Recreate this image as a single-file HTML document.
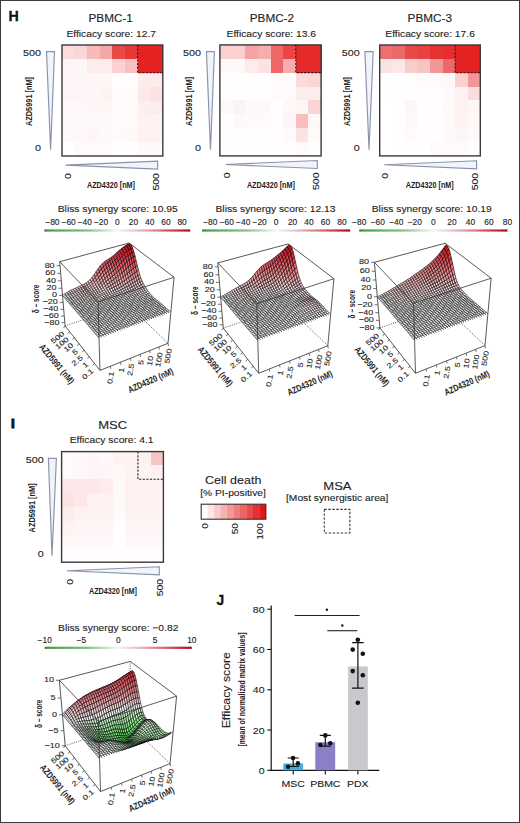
<!DOCTYPE html><html><head><meta charset="utf-8"><style>html,body{margin:0;padding:0;background:#fff}#fig{position:relative;width:520px;height:823px;box-sizing:border-box;border:1px solid #3c3c3c;overflow:hidden}#fig svg{position:absolute;left:-1px;top:-1px}</style></head><body><div id="fig"><svg width="520" height="823" viewBox="0 0 520 823" font-family='"Liberation Sans", sans-serif' fill="#222">
<defs><filter id="sb" x="-5%" y="-5%" width="110%" height="110%"><feGaussianBlur stdDeviation="0.45"/></filter><linearGradient id="gwr" x1="0" x2="1" y1="0" y2="0"><stop offset="0" stop-color="#3c7a3c"/><stop offset="0.04" stop-color="#48a048"/><stop offset="0.3" stop-color="#80c480"/><stop offset="0.5" stop-color="#f6f6f6"/><stop offset="0.7" stop-color="#e6a0a8"/><stop offset="0.95" stop-color="#c41a30"/><stop offset="1" stop-color="#901020"/></linearGradient><linearGradient id="cd" x1="0" x2="1" y1="0" y2="0"><stop offset="0" stop-color="#ffffff"/><stop offset="1" stop-color="#e41616"/></linearGradient></defs>
<rect x="0" y="0" width="520" height="823" fill="#fff"/>
<text transform="translate(8.6 20.8)" font-size="14.2" font-weight="bold" fill="#111" stroke="#111" stroke-width="0.3">H</text>
<text transform="translate(10.9 427.7)" font-size="13.6" font-weight="bold" fill="#111" stroke="#111" stroke-width="1">I</text>
<text transform="translate(216.4 604.9)" font-size="13.8" font-weight="bold" fill="#111" stroke="#111" stroke-width="0.3">J</text>
<text transform="translate(110.7 21.9) scale(1 0.88)" font-size="11.75" text-anchor="middle" stroke="#222" stroke-width="0.12">PBMC-1</text>
<text transform="translate(111.2 36.9) scale(1 0.88)" font-size="10.3" text-anchor="middle" stroke="#222" stroke-width="0.12">Efficacy score: 12.7</text>
<rect x="62" y="45" width="13.1" height="14.38" fill="#fbdcdc" shape-rendering="crispEdges"/>
<rect x="74.6" y="45" width="13.1" height="14.38" fill="#fad7d7" shape-rendering="crispEdges"/>
<rect x="87.2" y="45" width="13.1" height="14.38" fill="#f7b9b9" shape-rendering="crispEdges"/>
<rect x="99.8" y="45" width="13.1" height="14.38" fill="#f5a6a6" shape-rendering="crispEdges"/>
<rect x="112.4" y="45" width="13.1" height="14.38" fill="#ea4949" shape-rendering="crispEdges"/>
<rect x="125" y="45" width="13.1" height="14.38" fill="#e83939" shape-rendering="crispEdges"/>
<rect x="137.6" y="45" width="13.1" height="14.38" fill="#e52222" shape-rendering="crispEdges"/>
<rect x="150.2" y="45" width="13.1" height="14.38" fill="#e52222" shape-rendering="crispEdges"/>
<rect x="62" y="58.88" width="13.1" height="14.38" fill="#fef6f6" shape-rendering="crispEdges"/>
<rect x="74.6" y="58.88" width="13.1" height="14.38" fill="#fef6f6" shape-rendering="crispEdges"/>
<rect x="87.2" y="58.88" width="13.1" height="14.38" fill="#fdecec" shape-rendering="crispEdges"/>
<rect x="99.8" y="58.88" width="13.1" height="14.38" fill="#fdecec" shape-rendering="crispEdges"/>
<rect x="112.4" y="58.88" width="13.1" height="14.38" fill="#fad0d0" shape-rendering="crispEdges"/>
<rect x="125" y="58.88" width="13.1" height="14.38" fill="#f8c0c0" shape-rendering="crispEdges"/>
<rect x="137.6" y="58.88" width="13.1" height="14.38" fill="#e52222" shape-rendering="crispEdges"/>
<rect x="150.2" y="58.88" width="13.1" height="14.38" fill="#e52222" shape-rendering="crispEdges"/>
<rect x="62" y="72.75" width="13.1" height="14.38" fill="#fef6f6" shape-rendering="crispEdges"/>
<rect x="74.6" y="72.75" width="13.1" height="14.38" fill="#fef6f6" shape-rendering="crispEdges"/>
<rect x="87.2" y="72.75" width="13.1" height="14.38" fill="#fef6f6" shape-rendering="crispEdges"/>
<rect x="99.8" y="72.75" width="13.1" height="14.38" fill="#fef6f6" shape-rendering="crispEdges"/>
<rect x="112.4" y="72.75" width="13.1" height="14.38" fill="#fffdfd" shape-rendering="crispEdges"/>
<rect x="125" y="72.75" width="13.1" height="14.38" fill="#fffdfd" shape-rendering="crispEdges"/>
<rect x="137.6" y="72.75" width="13.1" height="14.38" fill="#fdecec" shape-rendering="crispEdges"/>
<rect x="150.2" y="72.75" width="13.1" height="14.38" fill="#fdeaea" shape-rendering="crispEdges"/>
<rect x="62" y="86.62" width="13.1" height="14.38" fill="#fef6f6" shape-rendering="crispEdges"/>
<rect x="74.6" y="86.62" width="13.1" height="14.38" fill="#fef6f6" shape-rendering="crispEdges"/>
<rect x="87.2" y="86.62" width="13.1" height="14.38" fill="#fef6f6" shape-rendering="crispEdges"/>
<rect x="99.8" y="86.62" width="13.1" height="14.38" fill="#fef3f3" shape-rendering="crispEdges"/>
<rect x="112.4" y="86.62" width="13.1" height="14.38" fill="#fefafa" shape-rendering="crispEdges"/>
<rect x="125" y="86.62" width="13.1" height="14.38" fill="#fefafa" shape-rendering="crispEdges"/>
<rect x="137.6" y="86.62" width="13.1" height="14.38" fill="#fce8e8" shape-rendering="crispEdges"/>
<rect x="150.2" y="86.62" width="13.1" height="14.38" fill="#fce3e3" shape-rendering="crispEdges"/>
<rect x="62" y="100.5" width="13.1" height="14.38" fill="#fef8f8" shape-rendering="crispEdges"/>
<rect x="74.6" y="100.5" width="13.1" height="14.38" fill="#fef8f8" shape-rendering="crispEdges"/>
<rect x="87.2" y="100.5" width="13.1" height="14.38" fill="#fef6f6" shape-rendering="crispEdges"/>
<rect x="99.8" y="100.5" width="13.1" height="14.38" fill="#fef6f6" shape-rendering="crispEdges"/>
<rect x="112.4" y="100.5" width="13.1" height="14.38" fill="#fefafa" shape-rendering="crispEdges"/>
<rect x="125" y="100.5" width="13.1" height="14.38" fill="#fefafa" shape-rendering="crispEdges"/>
<rect x="137.6" y="100.5" width="13.1" height="14.38" fill="#fdefef" shape-rendering="crispEdges"/>
<rect x="150.2" y="100.5" width="13.1" height="14.38" fill="#fdecec" shape-rendering="crispEdges"/>
<rect x="62" y="114.38" width="13.1" height="14.38" fill="#fef8f8" shape-rendering="crispEdges"/>
<rect x="74.6" y="114.38" width="13.1" height="14.38" fill="#fef8f8" shape-rendering="crispEdges"/>
<rect x="87.2" y="114.38" width="13.1" height="14.38" fill="#fef8f8" shape-rendering="crispEdges"/>
<rect x="99.8" y="114.38" width="13.1" height="14.38" fill="#fef8f8" shape-rendering="crispEdges"/>
<rect x="112.4" y="114.38" width="13.1" height="14.38" fill="#fefafa" shape-rendering="crispEdges"/>
<rect x="125" y="114.38" width="13.1" height="14.38" fill="#fefafa" shape-rendering="crispEdges"/>
<rect x="137.6" y="114.38" width="13.1" height="14.38" fill="#fef3f3" shape-rendering="crispEdges"/>
<rect x="150.2" y="114.38" width="13.1" height="14.38" fill="#fdf1f1" shape-rendering="crispEdges"/>
<rect x="62" y="128.25" width="13.1" height="14.38" fill="#fef8f8" shape-rendering="crispEdges"/>
<rect x="74.6" y="128.25" width="13.1" height="14.38" fill="#fef8f8" shape-rendering="crispEdges"/>
<rect x="87.2" y="128.25" width="13.1" height="14.38" fill="#fef6f6" shape-rendering="crispEdges"/>
<rect x="99.8" y="128.25" width="13.1" height="14.38" fill="#fef8f8" shape-rendering="crispEdges"/>
<rect x="112.4" y="128.25" width="13.1" height="14.38" fill="#fefafa" shape-rendering="crispEdges"/>
<rect x="125" y="128.25" width="13.1" height="14.38" fill="#fef8f8" shape-rendering="crispEdges"/>
<rect x="137.6" y="128.25" width="13.1" height="14.38" fill="#fdf1f1" shape-rendering="crispEdges"/>
<rect x="150.2" y="128.25" width="13.1" height="14.38" fill="#fdf1f1" shape-rendering="crispEdges"/>
<rect x="62" y="142.12" width="13.1" height="14.38" fill="#ffffff" shape-rendering="crispEdges"/>
<rect x="74.6" y="142.12" width="13.1" height="14.38" fill="#fefafa" shape-rendering="crispEdges"/>
<rect x="87.2" y="142.12" width="13.1" height="14.38" fill="#fefafa" shape-rendering="crispEdges"/>
<rect x="99.8" y="142.12" width="13.1" height="14.38" fill="#fefafa" shape-rendering="crispEdges"/>
<rect x="112.4" y="142.12" width="13.1" height="14.38" fill="#fffdfd" shape-rendering="crispEdges"/>
<rect x="125" y="142.12" width="13.1" height="14.38" fill="#fffdfd" shape-rendering="crispEdges"/>
<rect x="137.6" y="142.12" width="13.1" height="14.38" fill="#fef8f8" shape-rendering="crispEdges"/>
<rect x="150.2" y="142.12" width="13.1" height="14.38" fill="#fef8f8" shape-rendering="crispEdges"/>
<rect x="62" y="45" width="100.8" height="111" fill="none" stroke="#3a3a3a" stroke-width="1.4"/>
<path d="M137.6 45 V72.75 H162.8" fill="none" stroke="#222" stroke-width="1.1" stroke-dasharray="2.2 1.4"/>
<text transform="translate(41.1 56) scale(1 0.88)" font-size="10.8" text-anchor="end" stroke="#222" stroke-width="0.12">500</text>
<text transform="translate(41.1 150.8) scale(1 0.88)" font-size="10.8" text-anchor="end" stroke="#222" stroke-width="0.12">0</text>
<path d="M46.5 51.6 H54.5 L50.6 149.7 Z" fill="#f1f4fa" stroke="#8a93aa" stroke-width="1.15"/>
<text transform="translate(28.6 101.5) rotate(-90) scale(1 0.88)" font-size="10.5" text-anchor="middle" font-weight="bold" textLength="49" lengthAdjust="spacingAndGlyphs" dominant-baseline="central">AZD5991 [nM]</text>
<path d="M65.5 165.1 L157.6 161.1 V169.1 Z" fill="#f1f4fa" stroke="#8a93aa" stroke-width="1.15"/>
<text transform="translate(70.9 173.1) rotate(-90) scale(1 0.88)" font-size="10.5" text-anchor="end" stroke="#222" stroke-width="0.12">0</text>
<text transform="translate(158.8 173.1) rotate(-90) scale(1 0.88)" font-size="10.5" text-anchor="end" stroke="#222" stroke-width="0.12">500</text>
<text transform="translate(111 188.1) scale(1 0.88)" font-size="10.8" text-anchor="middle" font-weight="bold" textLength="48" lengthAdjust="spacingAndGlyphs">AZD4320 [nM]</text>
<text transform="translate(271.9 21.9) scale(1 0.88)" font-size="11.75" text-anchor="middle" stroke="#222" stroke-width="0.12">PBMC-2</text>
<text transform="translate(271.3 36.9) scale(1 0.88)" font-size="10.3" text-anchor="middle" stroke="#222" stroke-width="0.12">Efficacy score: 13.6</text>
<rect x="219.9" y="44.9" width="13.15" height="14.38" fill="#fad0d0" shape-rendering="crispEdges"/>
<rect x="232.55" y="44.9" width="13.15" height="14.38" fill="#fad0d0" shape-rendering="crispEdges"/>
<rect x="245.2" y="44.9" width="13.15" height="14.38" fill="#f4a2a2" shape-rendering="crispEdges"/>
<rect x="257.85" y="44.9" width="13.15" height="14.38" fill="#f6adad" shape-rendering="crispEdges"/>
<rect x="270.5" y="44.9" width="13.15" height="14.38" fill="#ed6868" shape-rendering="crispEdges"/>
<rect x="283.15" y="44.9" width="13.15" height="14.38" fill="#e94545" shape-rendering="crispEdges"/>
<rect x="295.8" y="44.9" width="13.15" height="14.38" fill="#e62929" shape-rendering="crispEdges"/>
<rect x="308.45" y="44.9" width="13.15" height="14.38" fill="#e62929" shape-rendering="crispEdges"/>
<rect x="219.9" y="58.77" width="13.15" height="14.38" fill="#fef8f8" shape-rendering="crispEdges"/>
<rect x="232.55" y="58.77" width="13.15" height="14.38" fill="#fef8f8" shape-rendering="crispEdges"/>
<rect x="245.2" y="58.77" width="13.15" height="14.38" fill="#fdecec" shape-rendering="crispEdges"/>
<rect x="257.85" y="58.77" width="13.15" height="14.38" fill="#fce3e3" shape-rendering="crispEdges"/>
<rect x="270.5" y="58.77" width="13.15" height="14.38" fill="#ed6868" shape-rendering="crispEdges"/>
<rect x="283.15" y="58.77" width="13.15" height="14.38" fill="#f6adad" shape-rendering="crispEdges"/>
<rect x="295.8" y="58.77" width="13.15" height="14.38" fill="#e62929" shape-rendering="crispEdges"/>
<rect x="308.45" y="58.77" width="13.15" height="14.38" fill="#e62929" shape-rendering="crispEdges"/>
<rect x="219.9" y="72.65" width="13.15" height="14.38" fill="#fffdfd" shape-rendering="crispEdges"/>
<rect x="232.55" y="72.65" width="13.15" height="14.38" fill="#fffdfd" shape-rendering="crispEdges"/>
<rect x="245.2" y="72.65" width="13.15" height="14.38" fill="#fffdfd" shape-rendering="crispEdges"/>
<rect x="257.85" y="72.65" width="13.15" height="14.38" fill="#fffdfd" shape-rendering="crispEdges"/>
<rect x="270.5" y="72.65" width="13.15" height="14.38" fill="#fefafa" shape-rendering="crispEdges"/>
<rect x="283.15" y="72.65" width="13.15" height="14.38" fill="#fefafa" shape-rendering="crispEdges"/>
<rect x="295.8" y="72.65" width="13.15" height="14.38" fill="#fbdcdc" shape-rendering="crispEdges"/>
<rect x="308.45" y="72.65" width="13.15" height="14.38" fill="#fad5d5" shape-rendering="crispEdges"/>
<rect x="219.9" y="86.53" width="13.15" height="14.38" fill="#fffdfd" shape-rendering="crispEdges"/>
<rect x="232.55" y="86.53" width="13.15" height="14.38" fill="#fffdfd" shape-rendering="crispEdges"/>
<rect x="245.2" y="86.53" width="13.15" height="14.38" fill="#fffdfd" shape-rendering="crispEdges"/>
<rect x="257.85" y="86.53" width="13.15" height="14.38" fill="#fffdfd" shape-rendering="crispEdges"/>
<rect x="270.5" y="86.53" width="13.15" height="14.38" fill="#fefafa" shape-rendering="crispEdges"/>
<rect x="283.15" y="86.53" width="13.15" height="14.38" fill="#fefafa" shape-rendering="crispEdges"/>
<rect x="295.8" y="86.53" width="13.15" height="14.38" fill="#fdecec" shape-rendering="crispEdges"/>
<rect x="308.45" y="86.53" width="13.15" height="14.38" fill="#fdecec" shape-rendering="crispEdges"/>
<rect x="219.9" y="100.4" width="13.15" height="14.38" fill="#fef8f8" shape-rendering="crispEdges"/>
<rect x="232.55" y="100.4" width="13.15" height="14.38" fill="#fef3f3" shape-rendering="crispEdges"/>
<rect x="245.2" y="100.4" width="13.15" height="14.38" fill="#fef8f8" shape-rendering="crispEdges"/>
<rect x="257.85" y="100.4" width="13.15" height="14.38" fill="#fef8f8" shape-rendering="crispEdges"/>
<rect x="270.5" y="100.4" width="13.15" height="14.38" fill="#fffdfd" shape-rendering="crispEdges"/>
<rect x="283.15" y="100.4" width="13.15" height="14.38" fill="#fef8f8" shape-rendering="crispEdges"/>
<rect x="295.8" y="100.4" width="13.15" height="14.38" fill="#fef6f6" shape-rendering="crispEdges"/>
<rect x="308.45" y="100.4" width="13.15" height="14.38" fill="#fad5d5" shape-rendering="crispEdges"/>
<rect x="219.9" y="114.28" width="13.15" height="14.38" fill="#fffdfd" shape-rendering="crispEdges"/>
<rect x="232.55" y="114.28" width="13.15" height="14.38" fill="#fef8f8" shape-rendering="crispEdges"/>
<rect x="245.2" y="114.28" width="13.15" height="14.38" fill="#fefafa" shape-rendering="crispEdges"/>
<rect x="257.85" y="114.28" width="13.15" height="14.38" fill="#fefafa" shape-rendering="crispEdges"/>
<rect x="270.5" y="114.28" width="13.15" height="14.38" fill="#fffdfd" shape-rendering="crispEdges"/>
<rect x="283.15" y="114.28" width="13.15" height="14.38" fill="#fef6f6" shape-rendering="crispEdges"/>
<rect x="295.8" y="114.28" width="13.15" height="14.38" fill="#f7bebe" shape-rendering="crispEdges"/>
<rect x="308.45" y="114.28" width="13.15" height="14.38" fill="#fef8f8" shape-rendering="crispEdges"/>
<rect x="219.9" y="128.15" width="13.15" height="14.38" fill="#fffdfd" shape-rendering="crispEdges"/>
<rect x="232.55" y="128.15" width="13.15" height="14.38" fill="#fffdfd" shape-rendering="crispEdges"/>
<rect x="245.2" y="128.15" width="13.15" height="14.38" fill="#fffdfd" shape-rendering="crispEdges"/>
<rect x="257.85" y="128.15" width="13.15" height="14.38" fill="#fffdfd" shape-rendering="crispEdges"/>
<rect x="270.5" y="128.15" width="13.15" height="14.38" fill="#fffdfd" shape-rendering="crispEdges"/>
<rect x="283.15" y="128.15" width="13.15" height="14.38" fill="#fefafa" shape-rendering="crispEdges"/>
<rect x="295.8" y="128.15" width="13.15" height="14.38" fill="#fce3e3" shape-rendering="crispEdges"/>
<rect x="308.45" y="128.15" width="13.15" height="14.38" fill="#fefafa" shape-rendering="crispEdges"/>
<rect x="219.9" y="142.03" width="13.15" height="14.38" fill="#fffdfd" shape-rendering="crispEdges"/>
<rect x="232.55" y="142.03" width="13.15" height="14.38" fill="#fffdfd" shape-rendering="crispEdges"/>
<rect x="245.2" y="142.03" width="13.15" height="14.38" fill="#fffdfd" shape-rendering="crispEdges"/>
<rect x="257.85" y="142.03" width="13.15" height="14.38" fill="#fffdfd" shape-rendering="crispEdges"/>
<rect x="270.5" y="142.03" width="13.15" height="14.38" fill="#fffdfd" shape-rendering="crispEdges"/>
<rect x="283.15" y="142.03" width="13.15" height="14.38" fill="#fffdfd" shape-rendering="crispEdges"/>
<rect x="295.8" y="142.03" width="13.15" height="14.38" fill="#fefafa" shape-rendering="crispEdges"/>
<rect x="308.45" y="142.03" width="13.15" height="14.38" fill="#fffdfd" shape-rendering="crispEdges"/>
<rect x="219.9" y="44.9" width="101.2" height="111" fill="none" stroke="#3a3a3a" stroke-width="1.4"/>
<path d="M295.8 44.9 V72.65 H321.1" fill="none" stroke="#222" stroke-width="1.1" stroke-dasharray="2.2 1.4"/>
<text transform="translate(201 55.9) scale(1 0.88)" font-size="10.8" text-anchor="end" stroke="#222" stroke-width="0.12">500</text>
<text transform="translate(201 150.7) scale(1 0.88)" font-size="10.8" text-anchor="end" stroke="#222" stroke-width="0.12">0</text>
<path d="M206.4 51.6 H214.4 L210.5 149.7 Z" fill="#f1f4fa" stroke="#8a93aa" stroke-width="1.15"/>
<text transform="translate(188.8 101.4) rotate(-90) scale(1 0.88)" font-size="10.5" text-anchor="middle" font-weight="bold" textLength="49" lengthAdjust="spacingAndGlyphs" dominant-baseline="central">AZD5991 [nM]</text>
<path d="M225.7 164.5 L317.3 160.5 V168.5 Z" fill="#f1f4fa" stroke="#8a93aa" stroke-width="1.15"/>
<text transform="translate(229.8 172.5) rotate(-90) scale(1 0.88)" font-size="10.5" text-anchor="end" stroke="#222" stroke-width="0.12">0</text>
<text transform="translate(319 172.5) rotate(-90) scale(1 0.88)" font-size="10.5" text-anchor="end" stroke="#222" stroke-width="0.12">500</text>
<text transform="translate(270.9 187.5) scale(1 0.88)" font-size="10.8" text-anchor="middle" font-weight="bold" textLength="48" lengthAdjust="spacingAndGlyphs">AZD4320 [nM]</text>
<text transform="translate(429.75 21.9) scale(1 0.88)" font-size="11.75" text-anchor="middle" stroke="#222" stroke-width="0.12">PBMC-3</text>
<text transform="translate(430.1 36.9) scale(1 0.88)" font-size="10.3" text-anchor="middle" stroke="#222" stroke-width="0.12">Efficacy score: 17.6</text>
<rect x="379.7" y="45" width="13.08" height="14.36" fill="#ee6f6f" shape-rendering="crispEdges"/>
<rect x="392.27" y="45" width="13.08" height="14.36" fill="#ed6868" shape-rendering="crispEdges"/>
<rect x="404.85" y="45" width="13.08" height="14.36" fill="#ea4949" shape-rendering="crispEdges"/>
<rect x="417.43" y="45" width="13.08" height="14.36" fill="#e94040" shape-rendering="crispEdges"/>
<rect x="430" y="45" width="13.08" height="14.36" fill="#e73232" shape-rendering="crispEdges"/>
<rect x="442.57" y="45" width="13.08" height="14.36" fill="#e72d2d" shape-rendering="crispEdges"/>
<rect x="455.15" y="45" width="13.08" height="14.36" fill="#e52222" shape-rendering="crispEdges"/>
<rect x="467.73" y="45" width="13.08" height="14.36" fill="#e52222" shape-rendering="crispEdges"/>
<rect x="379.7" y="58.86" width="13.08" height="14.36" fill="#fce3e3" shape-rendering="crispEdges"/>
<rect x="392.27" y="58.86" width="13.08" height="14.36" fill="#fce8e8" shape-rendering="crispEdges"/>
<rect x="404.85" y="58.86" width="13.08" height="14.36" fill="#f9cccc" shape-rendering="crispEdges"/>
<rect x="417.43" y="58.86" width="13.08" height="14.36" fill="#f8c5c5" shape-rendering="crispEdges"/>
<rect x="430" y="58.86" width="13.08" height="14.36" fill="#f39696" shape-rendering="crispEdges"/>
<rect x="442.57" y="58.86" width="13.08" height="14.36" fill="#ed6868" shape-rendering="crispEdges"/>
<rect x="455.15" y="58.86" width="13.08" height="14.36" fill="#e52222" shape-rendering="crispEdges"/>
<rect x="467.73" y="58.86" width="13.08" height="14.36" fill="#e52222" shape-rendering="crispEdges"/>
<rect x="379.7" y="72.72" width="13.08" height="14.36" fill="#fffdfd" shape-rendering="crispEdges"/>
<rect x="392.27" y="72.72" width="13.08" height="14.36" fill="#fffdfd" shape-rendering="crispEdges"/>
<rect x="404.85" y="72.72" width="13.08" height="14.36" fill="#fffdfd" shape-rendering="crispEdges"/>
<rect x="417.43" y="72.72" width="13.08" height="14.36" fill="#fefafa" shape-rendering="crispEdges"/>
<rect x="430" y="72.72" width="13.08" height="14.36" fill="#fefafa" shape-rendering="crispEdges"/>
<rect x="442.57" y="72.72" width="13.08" height="14.36" fill="#fef8f8" shape-rendering="crispEdges"/>
<rect x="455.15" y="72.72" width="13.08" height="14.36" fill="#fad0d0" shape-rendering="crispEdges"/>
<rect x="467.73" y="72.72" width="13.08" height="14.36" fill="#f39696" shape-rendering="crispEdges"/>
<rect x="379.7" y="86.59" width="13.08" height="14.36" fill="#fffdfd" shape-rendering="crispEdges"/>
<rect x="392.27" y="86.59" width="13.08" height="14.36" fill="#fffdfd" shape-rendering="crispEdges"/>
<rect x="404.85" y="86.59" width="13.08" height="14.36" fill="#fffdfd" shape-rendering="crispEdges"/>
<rect x="417.43" y="86.59" width="13.08" height="14.36" fill="#fffdfd" shape-rendering="crispEdges"/>
<rect x="430" y="86.59" width="13.08" height="14.36" fill="#fffdfd" shape-rendering="crispEdges"/>
<rect x="442.57" y="86.59" width="13.08" height="14.36" fill="#fefafa" shape-rendering="crispEdges"/>
<rect x="455.15" y="86.59" width="13.08" height="14.36" fill="#fdf1f1" shape-rendering="crispEdges"/>
<rect x="467.73" y="86.59" width="13.08" height="14.36" fill="#fbdcdc" shape-rendering="crispEdges"/>
<rect x="379.7" y="100.45" width="13.08" height="14.36" fill="#ffffff" shape-rendering="crispEdges"/>
<rect x="392.27" y="100.45" width="13.08" height="14.36" fill="#fffdfd" shape-rendering="crispEdges"/>
<rect x="404.85" y="100.45" width="13.08" height="14.36" fill="#fef6f6" shape-rendering="crispEdges"/>
<rect x="417.43" y="100.45" width="13.08" height="14.36" fill="#fffdfd" shape-rendering="crispEdges"/>
<rect x="430" y="100.45" width="13.08" height="14.36" fill="#fffdfd" shape-rendering="crispEdges"/>
<rect x="442.57" y="100.45" width="13.08" height="14.36" fill="#fef8f8" shape-rendering="crispEdges"/>
<rect x="455.15" y="100.45" width="13.08" height="14.36" fill="#fdf1f1" shape-rendering="crispEdges"/>
<rect x="467.73" y="100.45" width="13.08" height="14.36" fill="#fef6f6" shape-rendering="crispEdges"/>
<rect x="379.7" y="114.31" width="13.08" height="14.36" fill="#ffffff" shape-rendering="crispEdges"/>
<rect x="392.27" y="114.31" width="13.08" height="14.36" fill="#fffdfd" shape-rendering="crispEdges"/>
<rect x="404.85" y="114.31" width="13.08" height="14.36" fill="#fef8f8" shape-rendering="crispEdges"/>
<rect x="417.43" y="114.31" width="13.08" height="14.36" fill="#fffdfd" shape-rendering="crispEdges"/>
<rect x="430" y="114.31" width="13.08" height="14.36" fill="#fffdfd" shape-rendering="crispEdges"/>
<rect x="442.57" y="114.31" width="13.08" height="14.36" fill="#fefafa" shape-rendering="crispEdges"/>
<rect x="455.15" y="114.31" width="13.08" height="14.36" fill="#fef3f3" shape-rendering="crispEdges"/>
<rect x="467.73" y="114.31" width="13.08" height="14.36" fill="#fef8f8" shape-rendering="crispEdges"/>
<rect x="379.7" y="128.18" width="13.08" height="14.36" fill="#ffffff" shape-rendering="crispEdges"/>
<rect x="392.27" y="128.18" width="13.08" height="14.36" fill="#fffdfd" shape-rendering="crispEdges"/>
<rect x="404.85" y="128.18" width="13.08" height="14.36" fill="#fefafa" shape-rendering="crispEdges"/>
<rect x="417.43" y="128.18" width="13.08" height="14.36" fill="#fffdfd" shape-rendering="crispEdges"/>
<rect x="430" y="128.18" width="13.08" height="14.36" fill="#fffdfd" shape-rendering="crispEdges"/>
<rect x="442.57" y="128.18" width="13.08" height="14.36" fill="#fefafa" shape-rendering="crispEdges"/>
<rect x="455.15" y="128.18" width="13.08" height="14.36" fill="#fef6f6" shape-rendering="crispEdges"/>
<rect x="467.73" y="128.18" width="13.08" height="14.36" fill="#fef8f8" shape-rendering="crispEdges"/>
<rect x="379.7" y="142.04" width="13.08" height="14.36" fill="#ffffff" shape-rendering="crispEdges"/>
<rect x="392.27" y="142.04" width="13.08" height="14.36" fill="#fffdfd" shape-rendering="crispEdges"/>
<rect x="404.85" y="142.04" width="13.08" height="14.36" fill="#fffdfd" shape-rendering="crispEdges"/>
<rect x="417.43" y="142.04" width="13.08" height="14.36" fill="#fffdfd" shape-rendering="crispEdges"/>
<rect x="430" y="142.04" width="13.08" height="14.36" fill="#fefafa" shape-rendering="crispEdges"/>
<rect x="442.57" y="142.04" width="13.08" height="14.36" fill="#fefafa" shape-rendering="crispEdges"/>
<rect x="455.15" y="142.04" width="13.08" height="14.36" fill="#fefafa" shape-rendering="crispEdges"/>
<rect x="467.73" y="142.04" width="13.08" height="14.36" fill="#fffdfd" shape-rendering="crispEdges"/>
<rect x="379.7" y="45" width="100.6" height="110.9" fill="none" stroke="#3a3a3a" stroke-width="1.4"/>
<path d="M455.15 45 V72.72 H480.3" fill="none" stroke="#222" stroke-width="1.1" stroke-dasharray="2.2 1.4"/>
<text transform="translate(359.8 56) scale(1 0.88)" font-size="10.8" text-anchor="end" stroke="#222" stroke-width="0.12">500</text>
<text transform="translate(359.8 150.7) scale(1 0.88)" font-size="10.8" text-anchor="end" stroke="#222" stroke-width="0.12">0</text>
<path d="M364.9 51.6 H373.2 L369 149.7 Z" fill="#f1f4fa" stroke="#8a93aa" stroke-width="1.15"/>
<text transform="translate(347 101.45) rotate(-90) scale(1 0.88)" font-size="10.5" text-anchor="middle" font-weight="bold" textLength="49" lengthAdjust="spacingAndGlyphs" dominant-baseline="central">AZD5991 [nM]</text>
<path d="M384.3 164.8 L476.6 160.8 V168.8 Z" fill="#f1f4fa" stroke="#8a93aa" stroke-width="1.15"/>
<text transform="translate(388.4 172.8) rotate(-90) scale(1 0.88)" font-size="10.5" text-anchor="end" stroke="#222" stroke-width="0.12">0</text>
<text transform="translate(477.8 172.8) rotate(-90) scale(1 0.88)" font-size="10.5" text-anchor="end" stroke="#222" stroke-width="0.12">500</text>
<text transform="translate(429.7 187.8) scale(1 0.88)" font-size="10.8" text-anchor="middle" font-weight="bold" textLength="48" lengthAdjust="spacingAndGlyphs">AZD4320 [nM]</text>
<text transform="translate(112.6 428.6) scale(1 0.88)" font-size="13" text-anchor="middle" stroke="#222" stroke-width="0.12">MSC</text>
<text transform="translate(111.6 443) scale(1 0.88)" font-size="10.3" text-anchor="middle" stroke="#222" stroke-width="0.12">Efficacy score: 4.1</text>
<rect x="61.6" y="451.6" width="13.23" height="14.33" fill="#fefafa" shape-rendering="crispEdges"/>
<rect x="74.33" y="451.6" width="13.23" height="14.33" fill="#fef8f8" shape-rendering="crispEdges"/>
<rect x="87.05" y="451.6" width="13.23" height="14.33" fill="#fef6f6" shape-rendering="crispEdges"/>
<rect x="99.78" y="451.6" width="13.23" height="14.33" fill="#fef8f8" shape-rendering="crispEdges"/>
<rect x="112.5" y="451.6" width="13.23" height="14.33" fill="#fef3f3" shape-rendering="crispEdges"/>
<rect x="125.23" y="451.6" width="13.23" height="14.33" fill="#fef3f3" shape-rendering="crispEdges"/>
<rect x="137.95" y="451.6" width="13.23" height="14.33" fill="#fdf1f1" shape-rendering="crispEdges"/>
<rect x="150.68" y="451.6" width="13.23" height="14.33" fill="#f8c5c5" shape-rendering="crispEdges"/>
<rect x="61.6" y="465.43" width="13.23" height="14.33" fill="#fefafa" shape-rendering="crispEdges"/>
<rect x="74.33" y="465.43" width="13.23" height="14.33" fill="#fef8f8" shape-rendering="crispEdges"/>
<rect x="87.05" y="465.43" width="13.23" height="14.33" fill="#fef6f6" shape-rendering="crispEdges"/>
<rect x="99.78" y="465.43" width="13.23" height="14.33" fill="#fef6f6" shape-rendering="crispEdges"/>
<rect x="112.5" y="465.43" width="13.23" height="14.33" fill="#fef8f8" shape-rendering="crispEdges"/>
<rect x="125.23" y="465.43" width="13.23" height="14.33" fill="#fef3f3" shape-rendering="crispEdges"/>
<rect x="137.95" y="465.43" width="13.23" height="14.33" fill="#fef3f3" shape-rendering="crispEdges"/>
<rect x="150.68" y="465.43" width="13.23" height="14.33" fill="#fdf1f1" shape-rendering="crispEdges"/>
<rect x="61.6" y="479.25" width="13.23" height="14.33" fill="#fce8e8" shape-rendering="crispEdges"/>
<rect x="74.33" y="479.25" width="13.23" height="14.33" fill="#fce8e8" shape-rendering="crispEdges"/>
<rect x="87.05" y="479.25" width="13.23" height="14.33" fill="#fce8e8" shape-rendering="crispEdges"/>
<rect x="99.78" y="479.25" width="13.23" height="14.33" fill="#fdecec" shape-rendering="crispEdges"/>
<rect x="112.5" y="479.25" width="13.23" height="14.33" fill="#fefafa" shape-rendering="crispEdges"/>
<rect x="125.23" y="479.25" width="13.23" height="14.33" fill="#fdf1f1" shape-rendering="crispEdges"/>
<rect x="137.95" y="479.25" width="13.23" height="14.33" fill="#fdf1f1" shape-rendering="crispEdges"/>
<rect x="150.68" y="479.25" width="13.23" height="14.33" fill="#fdf1f1" shape-rendering="crispEdges"/>
<rect x="61.6" y="493.08" width="13.23" height="14.33" fill="#fce3e3" shape-rendering="crispEdges"/>
<rect x="74.33" y="493.08" width="13.23" height="14.33" fill="#fce8e8" shape-rendering="crispEdges"/>
<rect x="87.05" y="493.08" width="13.23" height="14.33" fill="#fdf1f1" shape-rendering="crispEdges"/>
<rect x="99.78" y="493.08" width="13.23" height="14.33" fill="#fdf1f1" shape-rendering="crispEdges"/>
<rect x="112.5" y="493.08" width="13.23" height="14.33" fill="#fefafa" shape-rendering="crispEdges"/>
<rect x="125.23" y="493.08" width="13.23" height="14.33" fill="#fdf1f1" shape-rendering="crispEdges"/>
<rect x="137.95" y="493.08" width="13.23" height="14.33" fill="#fdf1f1" shape-rendering="crispEdges"/>
<rect x="150.68" y="493.08" width="13.23" height="14.33" fill="#fef3f3" shape-rendering="crispEdges"/>
<rect x="61.6" y="506.9" width="13.23" height="14.33" fill="#fdecec" shape-rendering="crispEdges"/>
<rect x="74.33" y="506.9" width="13.23" height="14.33" fill="#fdf1f1" shape-rendering="crispEdges"/>
<rect x="87.05" y="506.9" width="13.23" height="14.33" fill="#fdf1f1" shape-rendering="crispEdges"/>
<rect x="99.78" y="506.9" width="13.23" height="14.33" fill="#fef3f3" shape-rendering="crispEdges"/>
<rect x="112.5" y="506.9" width="13.23" height="14.33" fill="#fefafa" shape-rendering="crispEdges"/>
<rect x="125.23" y="506.9" width="13.23" height="14.33" fill="#fef3f3" shape-rendering="crispEdges"/>
<rect x="137.95" y="506.9" width="13.23" height="14.33" fill="#fdf1f1" shape-rendering="crispEdges"/>
<rect x="150.68" y="506.9" width="13.23" height="14.33" fill="#fef3f3" shape-rendering="crispEdges"/>
<rect x="61.6" y="520.73" width="13.23" height="14.33" fill="#fef3f3" shape-rendering="crispEdges"/>
<rect x="74.33" y="520.73" width="13.23" height="14.33" fill="#fef6f6" shape-rendering="crispEdges"/>
<rect x="87.05" y="520.73" width="13.23" height="14.33" fill="#fef6f6" shape-rendering="crispEdges"/>
<rect x="99.78" y="520.73" width="13.23" height="14.33" fill="#fef6f6" shape-rendering="crispEdges"/>
<rect x="112.5" y="520.73" width="13.23" height="14.33" fill="#fffdfd" shape-rendering="crispEdges"/>
<rect x="125.23" y="520.73" width="13.23" height="14.33" fill="#fef6f6" shape-rendering="crispEdges"/>
<rect x="137.95" y="520.73" width="13.23" height="14.33" fill="#fef6f6" shape-rendering="crispEdges"/>
<rect x="150.68" y="520.73" width="13.23" height="14.33" fill="#fef6f6" shape-rendering="crispEdges"/>
<rect x="61.6" y="534.55" width="13.23" height="14.33" fill="#fef8f8" shape-rendering="crispEdges"/>
<rect x="74.33" y="534.55" width="13.23" height="14.33" fill="#fef8f8" shape-rendering="crispEdges"/>
<rect x="87.05" y="534.55" width="13.23" height="14.33" fill="#fef8f8" shape-rendering="crispEdges"/>
<rect x="99.78" y="534.55" width="13.23" height="14.33" fill="#fef8f8" shape-rendering="crispEdges"/>
<rect x="112.5" y="534.55" width="13.23" height="14.33" fill="#fffdfd" shape-rendering="crispEdges"/>
<rect x="125.23" y="534.55" width="13.23" height="14.33" fill="#fef8f8" shape-rendering="crispEdges"/>
<rect x="137.95" y="534.55" width="13.23" height="14.33" fill="#fef8f8" shape-rendering="crispEdges"/>
<rect x="150.68" y="534.55" width="13.23" height="14.33" fill="#fef8f8" shape-rendering="crispEdges"/>
<rect x="61.6" y="548.38" width="13.23" height="14.33" fill="#fffdfd" shape-rendering="crispEdges"/>
<rect x="74.33" y="548.38" width="13.23" height="14.33" fill="#fffdfd" shape-rendering="crispEdges"/>
<rect x="87.05" y="548.38" width="13.23" height="14.33" fill="#fffdfd" shape-rendering="crispEdges"/>
<rect x="99.78" y="548.38" width="13.23" height="14.33" fill="#fffdfd" shape-rendering="crispEdges"/>
<rect x="112.5" y="548.38" width="13.23" height="14.33" fill="#fffdfd" shape-rendering="crispEdges"/>
<rect x="125.23" y="548.38" width="13.23" height="14.33" fill="#fffdfd" shape-rendering="crispEdges"/>
<rect x="137.95" y="548.38" width="13.23" height="14.33" fill="#fffdfd" shape-rendering="crispEdges"/>
<rect x="150.68" y="548.38" width="13.23" height="14.33" fill="#fffdfd" shape-rendering="crispEdges"/>
<rect x="61.6" y="451.6" width="101.8" height="110.6" fill="none" stroke="#3a3a3a" stroke-width="1.4"/>
<path d="M137.95 451.6 V479.25 H163.4" fill="none" stroke="#222" stroke-width="1.1" stroke-dasharray="2.2 1.4"/>
<text transform="translate(43.7 462.6) scale(1 0.88)" font-size="10.8" text-anchor="end" stroke="#222" stroke-width="0.12">500</text>
<text transform="translate(43.7 557) scale(1 0.88)" font-size="10.8" text-anchor="end" stroke="#222" stroke-width="0.12">0</text>
<path d="M48.4 458.4 H56.4 L52 555.7 Z" fill="#f1f4fa" stroke="#8a93aa" stroke-width="1.15"/>
<text transform="translate(31.7 507.9) rotate(-90) scale(1 0.88)" font-size="10.5" text-anchor="middle" font-weight="bold" textLength="49" lengthAdjust="spacingAndGlyphs" dominant-baseline="central">AZD5991 [nM]</text>
<path d="M67 570.8 L159.3 566.8 V574.8 Z" fill="#f1f4fa" stroke="#8a93aa" stroke-width="1.15"/>
<text transform="translate(73.4 578.8) rotate(-90) scale(1 0.88)" font-size="10.5" text-anchor="end" stroke="#222" stroke-width="0.12">0</text>
<text transform="translate(162.8 578.8) rotate(-90) scale(1 0.88)" font-size="10.5" text-anchor="end" stroke="#222" stroke-width="0.12">500</text>
<text transform="translate(113 593.8) scale(1 0.88)" font-size="10.8" text-anchor="middle" font-weight="bold" textLength="48" lengthAdjust="spacingAndGlyphs">AZD4320 [nM]</text>
<text transform="translate(117.75 212) scale(1 0.88)" font-size="10.3" text-anchor="middle" stroke="#222" stroke-width="0.12">Bliss synergy score: 10.95</text>
<rect x="44.3" y="229.4" width="145.9" height="2.2" fill="url(#gwr)"/>
<text transform="translate(52.41 225.3)" font-size="8.4" text-anchor="middle" stroke="#222" stroke-width="0.12">−80</text>
<text transform="translate(68.62 225.3)" font-size="8.4" text-anchor="middle" stroke="#222" stroke-width="0.12">−60</text>
<text transform="translate(84.83 225.3)" font-size="8.4" text-anchor="middle" stroke="#222" stroke-width="0.12">−40</text>
<text transform="translate(101.04 225.3)" font-size="8.4" text-anchor="middle" stroke="#222" stroke-width="0.12">−20</text>
<text transform="translate(117.25 225.3)" font-size="8.4" text-anchor="middle" stroke="#222" stroke-width="0.12">0</text>
<text transform="translate(133.46 225.3)" font-size="8.4" text-anchor="middle" stroke="#222" stroke-width="0.12">20</text>
<text transform="translate(149.67 225.3)" font-size="8.4" text-anchor="middle" stroke="#222" stroke-width="0.12">40</text>
<text transform="translate(165.88 225.3)" font-size="8.4" text-anchor="middle" stroke="#222" stroke-width="0.12">60</text>
<text transform="translate(182.09 225.3)" font-size="8.4" text-anchor="middle" stroke="#222" stroke-width="0.12">80</text>
<line x1="65.08" y1="325.88" x2="127.78" y2="304.74" stroke="#3a3a3a" stroke-width="0.85" stroke-dasharray="1 1.3"/>
<line x1="127.78" y1="304.74" x2="168.03" y2="343.31" stroke="#3a3a3a" stroke-width="0.85" stroke-dasharray="1 1.3"/>
<line x1="127.78" y1="304.74" x2="129.03" y2="243.02" stroke="#3a3a3a" stroke-width="0.85" stroke-dasharray="1 1.3"/>
<line x1="59.69" y1="261.69" x2="129.03" y2="243.02" stroke="#3a3a3a" stroke-width="0.85"/>
<line x1="129.03" y1="243.02" x2="174.06" y2="277.28" stroke="#3a3a3a" stroke-width="0.85"/>
<g stroke="#000" stroke-width="0.85" stroke-opacity="0.66" stroke-linejoin="round" filter="url(#sb)">
<path d="M138.8 279.4l2.1-1.4-1.2-3.5-2 1.4z" fill="#f5aaaf"/>
<path d="M137.7 275.9l2-1.4-1.2-4.2-2 1.3z" fill="#f2949a"/>
<path d="M140 282.3l2.1-1.3-1.2-3-2.1 1.4z" fill="#f7bcc0"/>
<path d="M130.3 244l-1.3-.2-2 .9 1.2-.1" fill="#e10312"/>
<path d="M136.8 280.8l2-1.4-1.1-3.5-2.1 1.4z" fill="#f6b1b5"/>
<path d="M135.6 277.3l2.1-1.4-1.2-4.3-2 1.4z" fill="#f39aa0"/>
<path d="M138 283.6l2-1.3-1.2-2.9-2 1.4z" fill="#f8c3c6"/>
<path d="M136.5 271.6l2-1.3-1.1-4.7-2.1 1.3z" fill="#ef7a82"/>
<path d="M141.3 284.7l2-1.2-1.2-2.5-2.1 1.3z" fill="#f9cace"/>
<path d="M134.8 282.1l2-1.3-1.2-3.5-2 1.4z" fill="#f7b7bb"/>
<path d="M128.2 244.6l-1.2 .1-2 1.2 1.2-.1" fill="#e20615"/>
<path d="M133.6 278.7l2-1.4-1.1-4.3-2.1 1.6z" fill="#f4a1a6"/>
<path d="M136 284.8l2-1.2-1.2-2.8-2 1.3z" fill="#f9c8cc"/>
<path d="M134.5 273l2-1.4-1.2-4.7-2 1.4z" fill="#f08087"/>
<path d="M139.3 285.9l2-1.2-1.3-2.4-2 1.3z" fill="#f9d0d3"/>
<path d="M132.8 283.4l2-1.3-1.2-3.4-2 1.4z" fill="#f7bdc1"/>
<path d="M131.6 280.1l2-1.4-1.2-4.1-2 1.5z" fill="#f5a8ad"/>
<path d="M91.3 282l2-2.1-1.1-2.7-2.1 2.4z" fill="#f6b5b9"/>
<path d="M126.2 245.8l-1.2 .1-2.1 1.5 1.3 0" fill="#e20b1a"/>
<path d="M91.3 282l-1.2-2.4-2 1.9 1.1 2.2" fill="#f8c0c4"/>
<path d="M135.3 266.9l2.1-1.3-1.2-4.8-2 1.1z" fill="#ec5f68"/>
<path d="M132.4 274.6l2.1-1.6-1.2-4.7-2 1.6z" fill="#f1878e"/>
<path d="M144.5 285.7l-1.2-2.2-2 1.2 1.2 2.1" fill="#fad5d8"/>
<path d="M93.3 279.9l2.1-2.5-1.2-3-2 2.8z" fill="#f5a6ab"/>
<path d="M124.2 247.4l-1.3 0-2 1.7 1.2 .1" fill="#e31220"/>
<path d="M134 286l2-1.2-1.2-2.7-2 1.3z" fill="#f9ced1"/>
<path d="M129.5 281.5l2.1-1.4-1.2-4-2.1 1.6z" fill="#f6afb4"/>
<path d="M130.7 284.7l2.1-1.3-1.2-3.3-2.1 1.4z" fill="#f8c4c7"/>
<path d="M89.2 283.7l-1.1-2.2-2.1 1.5 1.1 2" fill="#f9c9cc"/>
<path d="M122.1 249.2l-1.2-.1-2.1 1.7 1.2 .5" fill="#e41b28"/>
<path d="M139.3 285.9l-1.3-2.3-2 1.2 1.2 2.2" fill="#fad5d8"/>
<path d="M130.4 276.1l2-1.5-1.1-4.7-2.1 1.7z" fill="#f28e95"/>
<path d="M120 251.3l-1.2-.5-2 1.8 1.2 .8" fill="#e52430"/>
<path d="M118 253.4l-1.2-.8-2.1 1.8 1.2 1.2" fill="#e62d39"/>
<path d="M133.3 268.3l2-1.4-1.1-5-2 1.4z" fill="#ed646d"/>
<path d="M115.9 255.6l-1.2-1.2-2 1.7 1.2 1.6" fill="#e73642"/>
<path d="M131.5 245.3l-1.2-1.3-2.1 .6 1.3 1.5" fill="#e10211"/>
<path d="M127.5 282.9l2-1.4-1.2-3.8-2 1.6z" fill="#f6b6ba"/>
<path d="M94.5 282.4l-1.2-2.5-2 2.1 1.1 2.3" fill="#f8c1c4"/>
<path d="M128.3 277.7l2.1-1.6-1.2-4.5-2 1.8z" fill="#f3969c"/>
<path d="M95.4 277.4l2-2.9-1.2-3.1-2 3z" fill="#f2959b"/>
<path d="M142.5 286.8l-1.2-2.1-2 1.2 1.2 2" fill="#fbdadc"/>
<path d="M113.9 257.7l-1.2-1.6-2.1 1.6 1.2 1.9" fill="#e83f4a"/>
<path d="M94.5 282.4l2-2.3-1.1-2.7-2.1 2.5z" fill="#f6b3b8"/>
<path d="M131.9 287.1l2.1-1.1-1.2-2.6-2.1 1.3z" fill="#fad3d6"/>
<path d="M128.7 285.9l2-1.2-1.2-3.2-2 1.4z" fill="#f9cacd"/>
<path d="M134.2 261.9l2-1.1-1.1-4.7-2.1 1z" fill="#e9444f"/>
<path d="M87.1 285l-1.1-2-2.1 1.2 1.1 1.8" fill="#f9ced1"/>
<path d="M92.4 284.3l-1.1-2.3-2.1 1.7 1.1 2" fill="#f9cace"/>
<path d="M131.3 269.9l2-1.6-1.1-5-2.1 1.7z" fill="#ee6b73"/>
<path d="M126.3 279.3l2-1.6-1.1-4.3-2.1 1.8z" fill="#f49ea4"/>
<path d="M137.2 287l-1.2-2.2-2 1.2 1.2 2.1" fill="#fbdadc"/>
<path d="M109.7 261.4l2.1-1.8-1.2-1.9-2 1.3z" fill="#e94651"/>
<path d="M125.4 284.2l2.1-1.3-1.2-3.6-2.1 1.5z" fill="#f7bdc1"/>
<path d="M96.5 280.1l2.1-2.6-1.2-3-2 2.9z" fill="#f4a3a9"/>
<path d="M129.2 271.6l2.1-1.7-1.2-4.9-2 1.8z" fill="#ee737b"/>
<path d="M145.8 287.7l-1.3-2-2 1.1 1.3 1.9" fill="#fbdee0"/>
<path d="M124.2 280.8l2.1-1.5-1.2-4.1-2 1.7z" fill="#f5a7ac"/>
<path d="M97.4 274.5l2-2.8-1.2-3.3-2 3z" fill="#f0838a"/>
<path d="M127.2 273.4l2-1.8-1.1-4.8-2.1 2z" fill="#f07b83"/>
<path d="M129.5 246.1l-1.3-1.5-2 1.2 1.2 1.5" fill="#e10413"/>
<path d="M126.6 287l2.1-1.1-1.2-3-2.1 1.3z" fill="#f9cfd2"/>
<path d="M90.3 285.7l-1.1-2-2.1 1.3 1.1 1.8" fill="#fad1d4"/>
<path d="M107.7 263l2-1.6-1.1-2.4-2.1 1.3z" fill="#ea4c57"/>
<path d="M140.5 287.9l-1.2-2-2.1 1.1 1.3 1.9" fill="#fbdfe1"/>
<path d="M129.9 288.2l2-1.1-1.2-2.4-2 1.2z" fill="#fad8db"/>
<path d="M132.2 263.3l2-1.4-1.2-4.8-2 1.3z" fill="#ea4953"/>
<path d="M125.1 275.2l2.1-1.8-1.2-4.6-2.1 2z" fill="#f1858c"/>
<path d="M133 257.1l2.1-1-1.2-4.3-2 .8z" fill="#e62c38"/>
<path d="M97.7 282.6l-1.2-2.5-2 2.3 1.1 2.3" fill="#f7bfc3"/>
<path d="M122.2 282.3l2-1.5-1.1-3.9-2.1 1.7z" fill="#f6afb4"/>
<path d="M85 286l-1.1-1.8-2.1 1.1 1.1 1.6" fill="#fad2d5"/>
<path d="M123.4 285.5l2-1.3-1.2-3.4-2 1.5z" fill="#f8c3c7"/>
<path d="M95.6 284.7l-1.1-2.3-2.1 1.9 1.1 2.1" fill="#f9cbce"/>
<path d="M98.6 277.5l2-2.7-1.2-3.1-2 2.8z" fill="#f29299"/>
<path d="M123.1 276.9l2-1.7-1.2-4.4-2 2z" fill="#f28f95"/>
<path d="M130.7 248.8l2-.7-1.2-2.8-2 .8z" fill="#e20917"/>
<path d="M135.2 288.1l-1.2-2.1-2.1 1.1 1.3 2" fill="#fbdee0"/>
<path d="M97.7 282.6l2-2.3-1.1-2.8-2.1 2.6z" fill="#f6b1b5"/>
<path d="M113 262.3l2-2.2-1.1-2.4-2.1 1.9z" fill="#e94651"/>
<path d="M121 278.6l2.1-1.7-1.2-4.1-2.1 1.9z" fill="#f3989e"/>
<path d="M115 260.1l2.1-2.3-1.2-2.2-2 2.1z" fill="#e83c47"/>
<path d="M99.4 271.7l2.1-2.7-1.2-3.3-2.1 2.7z" fill="#ee727b"/>
<path d="M105.6 264.7l2.1-1.7-1.2-2.7-2.1 1.4z" fill="#eb535d"/>
<path d="M130.1 265l2.1-1.7-1.2-4.9-2.1 1.7z" fill="#ea4f59"/>
<path d="M127.4 247.3l-1.2-1.5-2 1.6 1.2 1.5" fill="#e20a18"/>
<path d="M110.9 264.2l2.1-1.9-1.2-2.7-2.1 1.8z" fill="#ea505a"/>
<path d="M131.9 252.6l2-.8-1.2-3.7-2 .7z" fill="#e41825"/>
<path d="M119.2 255.4l-1.2-2-2.1 2.2 1.2 2.2" fill="#e7313d"/>
<path d="M143.8 288.7l-1.3-1.9-2 1.1 1.3 1.8" fill="#fce2e4"/>
<path d="M120.1 283.7l2.1-1.4-1.2-3.7-2.1 1.7z" fill="#f6b6bb"/>
<path d="M118.9 280.3l2.1-1.7-1.2-3.9-2.1 1.9z" fill="#f4a1a7"/>
<path d="M93.5 286.4l-1.1-2.1-2.1 1.4 1.1 1.9" fill="#fad3d6"/>
<path d="M124.6 288.1l2-1.1-1.2-2.8-2 1.3z" fill="#fad4d7"/>
<path d="M121.2 253.1l-1.2-1.8-2 2.1 1.2 2" fill="#e52532"/>
<path d="M108.9 266.1l2-1.9-1.2-2.8-2 1.6z" fill="#eb5862"/>
<path d="M128.1 266.8l2-1.8-1.2-4.9-2 2z" fill="#eb5761"/>
<path d="M125.4 248.9l-1.2-1.5-2.1 1.8 1.2 1.7" fill="#e3111f"/>
<path d="M99.7 280.3l2.1-2.5-1.2-3-2 2.7z" fill="#f4a1a7"/>
<path d="M100.6 274.8l2.1-2.6-1.2-3.2-2.1 2.7z" fill="#f0838a"/>
<path d="M103.5 266.7l2.1-2-1.2-3-2.1 1.8z" fill="#ec5b64"/>
<path d="M123.3 250.9l-1.2-1.7-2.1 2.1 1.2 1.8" fill="#e41b28"/>
<path d="M101.5 269l2-2.3-1.2-3.2-2 2.2z" fill="#ed656e"/>
<path d="M119.8 274.7l2.1-1.9-1.2-4.2-2.1 2.1z" fill="#f08189"/>
<path d="M121.9 272.8l2-2-1.1-4.5-2.1 2.3z" fill="#ef767e"/>
<path d="M88.2 286.8l-1.1-1.8-2.1 1 1.1 1.7" fill="#fad5d7"/>
<path d="M126 268.8l2.1-2-1.2-4.7-2.1 2.1z" fill="#ec616a"/>
<path d="M121.3 286.7l2.1-1.2-1.2-3.2-2.1 1.4z" fill="#f9c9cd"/>
<path d="M129.9 288.2l-1.2-2.3-2.1 1.1 1.3 2.2" fill="#fbdddf"/>
<path d="M123.9 270.8l2.1-2-1.2-4.6-2 2.1z" fill="#ee6b74"/>
<path d="M117.7 276.6l2.1-1.9-1.2-4-2 2.1z" fill="#f18c92"/>
<path d="M138.5 288.9l-1.3-1.9-2 1.1 1.3 1.8" fill="#fce3e4"/>
<path d="M131 258.4l2-1.3-1.1-4.5-2.1 1.3z" fill="#e7303c"/>
<path d="M106.8 267.9l2.1-1.8-1.2-3.1-2.1 1.7z" fill="#ec616a"/>
<path d="M112.1 267.5l2.1-2.1-1.2-3.1-2.1 1.9z" fill="#ec5e67"/>
<path d="M114.2 265.4l2-2.2-1.2-3.1-2 2.2z" fill="#eb535d"/>
<path d="M116.9 281.7l2-1.4-1.2-3.7-2 1.6z" fill="#f5aaaf"/>
<path d="M115.7 278.2l2-1.6-1.1-3.8-2.1 1.8z" fill="#f3959b"/>
<path d="M102.7 272.2l2-2.3-1.2-3.2-2 2.3z" fill="#ef757d"/>
<path d="M110 269.4l2.1-1.9-1.2-3.3-2 1.9z" fill="#ed6770"/>
<path d="M116.6 272.8l2-2.1-1.2-3.9-2 2.2z" fill="#ef777f"/>
<path d="M128.6 250.1l2.1-1.3-1.2-2.7-2.1 1.2z" fill="#e20c1a"/>
<path d="M82.9 286.9l-1.1-1.6-2.1 1 1 1.5" fill="#fad5d8"/>
<path d="M147.1 289.7l-1.3-2-2 1 1.3 1.9" fill="#fce7e8"/>
<path d="M101.8 277.8l2-2.4-1.1-3.2-2.1 2.6z" fill="#f29299"/>
<path d="M104.7 269.9l2.1-2-1.2-3.2-2.1 2z" fill="#ed6a72"/>
<path d="M118.1 284.9l2-1.2-1.2-3.4-2 1.4z" fill="#f7bdc1"/>
<path d="M114.5 274.6l2.1-1.8-1.2-3.8-2.1 2z" fill="#f08189"/>
<path d="M116.2 263.2l2.1-2.4-1.2-3-2.1 2.3z" fill="#e94752"/>
<path d="M113.3 271l2.1-2-1.2-3.6-2.1 2.1z" fill="#ee6e77"/>
<path d="M118.6 270.7l2.1-2.1-1.2-4.1-2.1 2.3z" fill="#ee6b74"/>
<path d="M115.4 269l2-2.2-1.2-3.6-2 2.2z" fill="#ed636d"/>
<path d="M98.8 285l-1.1-2.4-2.1 2.1 1.2 2.1" fill="#f9cacd"/>
<path d="M98.8 285l2.1-2.1-1.2-2.6-2 2.3z" fill="#f7bdc1"/>
<path d="M133.2 289.1l-1.3-2-2 1.1 1.2 1.9" fill="#fce2e4"/>
<path d="M108 271.3l2-1.9-1.1-3.3-2.1 1.8z" fill="#ee7079"/>
<path d="M111.2 272.8l2.1-1.8-1.2-3.5-2.1 1.9z" fill="#ef7880"/>
<path d="M120.7 268.6l2.1-2.3-1.2-4.2-2.1 2.4z" fill="#ec5f69"/>
<path d="M112.4 276.4l2.1-1.8-1.2-3.6-2.1 1.8z" fill="#f18a91"/>
<path d="M129.8 253.9l2.1-1.3-1.2-3.8-2.1 1.3z" fill="#e41b28"/>
<path d="M117.4 266.8l2.1-2.3-1.2-3.7-2.1 2.4z" fill="#eb5761"/>
<path d="M128.9 260.1l2.1-1.7-1.2-4.5-2 1.7z" fill="#e73642"/>
<path d="M103.8 275.4l2.1-2.2-1.2-3.3-2 2.3z" fill="#f1858c"/>
<path d="M113.6 279.8l2.1-1.6-1.2-3.6-2.1 1.8z" fill="#f49ea3"/>
<path d="M100.9 282.9l2.1-2.2-1.2-2.9-2.1 2.5z" fill="#f6afb4"/>
<path d="M105.9 273.2l2.1-1.9-1.2-3.4-2.1 2z" fill="#ef7a82"/>
<path d="M118.3 260.8l2.1-2.4-1.2-3-2.1 2.4z" fill="#e83b47"/>
<path d="M91.4 287.6l-1.1-1.9-2.1 1.1 1.1 1.8" fill="#fad8da"/>
<path d="M109.2 274.7l2-1.9-1.2-3.4-2 1.9z" fill="#f08189"/>
<path d="M122.8 266.3l2-2.1-1.2-4.4-2 2.3z" fill="#eb545e"/>
<path d="M96.8 286.8l-1.2-2.1-2.1 1.7 1.2 1.9" fill="#fad4d6"/>
<path d="M122.5 289.1l2.1-1-1.2-2.6-2.1 1.2z" fill="#fbd9db"/>
<path d="M114.8 283.1l2.1-1.4-1.2-3.5-2.1 1.6z" fill="#f6b1b5"/>
<path d="M141.8 289.7l-1.3-1.8-2 1 1.2 1.7" fill="#fce6e7"/>
<path d="M119.3 287.8l2-1.1-1.2-3-2 1.2z" fill="#f9cfd2"/>
<path d="M126.9 262.1l2-2-1.1-4.5-2.1 2z" fill="#e83e4a"/>
<path d="M103 280.7l2-2.2-1.2-3.1-2 2.4z" fill="#f4a2a7"/>
<path d="M124.8 264.2l2.1-2.1-1.2-4.5-2.1 2.2z" fill="#ea4853"/>
<path d="M119.5 264.5l2.1-2.4-1.2-3.7-2.1 2.4z" fill="#ea4b56"/>
<path d="M110.4 278l2-1.6-1.2-3.6-2 1.9z" fill="#f2939a"/>
<path d="M126.6 251.8l2-1.7-1.2-2.8-2 1.6z" fill="#e31220"/>
<path d="M107.1 276.5l2.1-1.8-1.2-3.4-2.1 1.9z" fill="#f18b92"/>
<path d="M120.4 258.4l2-2.4-1.2-2.9-2 2.3z" fill="#e72f3b"/>
<path d="M105 278.5l2.1-2-1.2-3.3-2.1 2.2z" fill="#f3969c"/>
<path d="M127.9 289.2l-1.3-2.2-2 1.1 1.2 2.1" fill="#fbe1e3"/>
<path d="M111.5 281.3l2.1-1.5-1.2-3.4-2 1.6z" fill="#f4a6ab"/>
<path d="M116 286.1l2.1-1.2-1.2-3.2-2.1 1.4z" fill="#f8c3c6"/>
<path d="M122.4 256l2.1-2.2-1.2-2.9-2.1 2.2z" fill="#e52431"/>
<path d="M86.1 287.7l-1.1-1.7-2.1 .9 1.1 1.6" fill="#fad7da"/>
<path d="M124.5 253.8l2.1-2-1.2-2.9-2.1 2z" fill="#e41a27"/>
<path d="M136.5 289.9l-1.3-1.8-2 1 1.2 1.7" fill="#fce6e8"/>
<path d="M127.8 255.6l2-1.7-1.2-3.8-2 1.7z" fill="#e5212e"/>
<path d="M121.6 262.1l2-2.3-1.2-3.8-2 2.4z" fill="#e83f4a"/>
<path d="M108.3 279.7l2.1-1.7-1.2-3.3-2.1 1.8z" fill="#f39ca2"/>
<path d="M123.6 259.8l2.1-2.2-1.2-3.8-2.1 2.2z" fill="#e7333f"/>
<path d="M125.7 257.6l2.1-2-1.2-3.8-2.1 2z" fill="#e62936"/>
<path d="M112.7 284.4l2.1-1.3-1.2-3.3-2.1 1.5z" fill="#f7b7bc"/>
<path d="M106.2 281.5l2.1-1.8-1.2-3.2-2.1 2z" fill="#f5a6ab"/>
<path d="M145.1 290.6l-1.3-1.9-2 1 1.2 1.7" fill="#fceaeb"/>
<path d="M80.7 287.8l-1-1.5-2.2 .9 1.1 1.5" fill="#fad8da"/>
<path d="M94.7 288.3l-1.2-1.9-2.1 1.2 1.2 1.8" fill="#fbdbdd"/>
<path d="M131.1 290.1l-1.2-1.9-2 1 1.2 1.8" fill="#fce6e7"/>
<path d="M104.1 283.4l2.1-1.9-1.2-3-2 2.2z" fill="#f6b1b5"/>
<path d="M109.5 282.8l2-1.5-1.1-3.3-2.1 1.7z" fill="#f5adb2"/>
<path d="M102.1 285.4l2-2-1.1-2.7-2.1 2.2z" fill="#f7bdc0"/>
<path d="M102.1 285.4l-1.2-2.5-2.1 2.1 1.2 2.2" fill="#f9c8cc"/>
<path d="M117.2 288.8l2.1-1-1.2-2.9-2.1 1.2z" fill="#fad3d6"/>
<path d="M120.5 290.1l2-1-1.2-2.4-2 1.1z" fill="#fbdddf"/>
<path d="M89.3 288.6l-1.1-1.8-2.1 .9 1.1 1.7" fill="#fbdbdd"/>
<path d="M100 287.2l-1.2-2.2-2 1.8 1.1 2" fill="#fad3d6"/>
<path d="M139.7 290.6l-1.2-1.7-2 1 1.2 1.6" fill="#fce9ea"/>
<path d="M113.9 287.2l2.1-1.1-1.2-3-2.1 1.3z" fill="#f9c8cb"/>
<path d="M107.4 284.4l2.1-1.6-1.2-3.1-2.1 1.8z" fill="#f6b6ba"/>
<path d="M125.8 290.2l-1.2-2.1-2.1 1 1.3 2" fill="#fce4e6"/>
<path d="M110.7 285.7l2-1.3-1.2-3.1-2 1.5z" fill="#f7bec2"/>
<path d="M148.4 291.5l-1.3-1.8-2 .9 1.2 1.7" fill="#fdeeef"/>
<path d="M134.4 290.8l-1.2-1.7-2.1 1 1.3 1.6" fill="#fce9ea"/>
<path d="M84 288.5l-1.1-1.6-2.2 .9 1.1 1.6" fill="#fbd9dc"/>
<path d="M105.3 286l2.1-1.6-1.2-2.9-2.1 1.9z" fill="#f7bfc3"/>
<path d="M97.9 288.8l-1.1-2-2.1 1.5 1.1 1.8" fill="#fbdbdd"/>
<path d="M92.6 289.4l-1.2-1.8-2.1 1 1.1 1.7" fill="#fbdee0"/>
<path d="M78.6 288.7l-1.1-1.5-2.1 1 1.1 1.4" fill="#fbdadd"/>
<path d="M143 291.4l-1.2-1.7-2.1 .9 1.3 1.7" fill="#fdeced"/>
<path d="M105.3 286l-1.2-2.6-2 2 1.1 2.2" fill="#f9c9cc"/>
<path d="M129.1 291l-1.2-1.8-2.1 1 1.2 1.7" fill="#fce9ea"/>
<path d="M108.6 287l2.1-1.3-1.2-2.9-2.1 1.6z" fill="#f8c5c8"/>
<path d="M115.1 289.7l2.1-.9-1.2-2.7-2.1 1.1z" fill="#fad7d9"/>
<path d="M111.9 288.3l2-1.1-1.2-2.8-2 1.3z" fill="#f9cdd0"/>
<path d="M120.5 290.1l-1.2-2.3-2.1 1 1.2 2.2" fill="#fbe0e2"/>
<path d="M103.2 287.6l-1.1-2.2-2.1 1.8 1.2 2" fill="#fad2d5"/>
<path d="M137.7 291.5l-1.2-1.6-2.1 .9 1.3 1.6" fill="#fdeced"/>
<path d="M87.2 289.4l-1.1-1.7-2.1 .8 1.1 1.6" fill="#fbdcde"/>
<path d="M123.8 291.1l-1.3-2-2 1 1.2 1.9" fill="#fce7e9"/>
<path d="M95.8 290.1l-1.1-1.8-2.1 1.1 1.1 1.7" fill="#fbe1e3"/>
<path d="M146.3 292.3l-1.2-1.7-2.1 .8 1.3 1.7" fill="#fdf0f1"/>
<path d="M106.5 288.4l2.1-1.4-1.2-2.6-2.1 1.6z" fill="#f9cccf"/>
<path d="M132.4 291.7l-1.3-1.6-2 .9 1.2 1.6" fill="#fdeced"/>
<path d="M101.2 289.2l-1.2-2-2.1 1.6 1.2 1.8" fill="#fbdbdd"/>
<path d="M81.8 289.4l-1.1-1.6-2.1 .9 1.1 1.5" fill="#fbdcde"/>
<path d="M109.8 289.4l2.1-1.1-1.2-2.6-2.1 1.3z" fill="#fad2d5"/>
<path d="M90.4 290.3l-1.1-1.7-2.1 .8 1.1 1.6" fill="#fbe0e2"/>
<path d="M76.5 289.6l-1.1-1.4-2.2 .9 1.1 1.5" fill="#fbdddf"/>
<path d="M127 291.9l-1.2-1.7-2 .9 1.2 1.7" fill="#fdeced"/>
<path d="M113.1 290.7l2-1-1.2-2.5-2 1.1z" fill="#fbdbdd"/>
<path d="M141 292.3l-1.3-1.7-2 .9 1.3 1.6" fill="#fdeeef"/>
<path d="M106.5 288.4l-1.2-2.4-2.1 1.6 1.2 2.2" fill="#fad4d6"/>
<path d="M149.7 293.2l-1.3-1.7-2.1 .8 1.3 1.7" fill="#fef5f5"/>
<path d="M118.4 291l-1.2-2.2-2.1 .9 1.2 2.2" fill="#fce3e5"/>
<path d="M99.1 290.6l-1.2-1.8-2.1 1.3 1.2 1.6" fill="#fce2e4"/>
<path d="M135.7 292.4l-1.3-1.6-2 .9 1.2 1.5" fill="#fdeeef"/>
<path d="M85.1 290.1l-1.1-1.6-2.2 .9 1.1 1.5" fill="#fbdee0"/>
<path d="M121.7 292l-1.2-1.9-2.1 .9 1.2 1.9" fill="#fdeaeb"/>
<path d="M93.7 291.1l-1.1-1.7-2.2 .9 1.2 1.5" fill="#fce4e5"/>
<path d="M109.8 289.4l-1.2-2.4-2.1 1.4 1.2 2.2" fill="#fad8da"/>
<path d="M104.4 289.8l-1.2-2.2-2 1.6 1.1 1.9" fill="#fbdbdd"/>
<path d="M144.3 293.1l-1.3-1.7-2 .9 1.3 1.6" fill="#fdf2f3"/>
<path d="M130.3 292.6l-1.2-1.6-2.1 .9 1.3 1.5" fill="#fdeeef"/>
<path d="M79.7 290.2l-1.1-1.5-2.1 .9 1 1.5" fill="#fbdee0"/>
<path d="M74.3 290.6l-1.1-1.5-2.1 1 1 1.5" fill="#fbe0e2"/>
<path d="M113.1 290.7l-1.2-2.4-2.1 1.1 1.2 2.2" fill="#fbdee0"/>
<path d="M125 292.8l-1.2-1.7-2.1 .9 1.2 1.6" fill="#fdeeef"/>
<path d="M88.3 291l-1.1-1.6-2.1 .7 1.1 1.6" fill="#fbe1e3"/>
<path d="M139 293.1l-1.3-1.6-2 .9 1.3 1.5" fill="#fdf0f1"/>
<path d="M116.3 291.9l-1.2-2.2-2 1 1.1 2" fill="#fce5e7"/>
<path d="M97 291.7l-1.2-1.6-2.1 1 1.1 1.5" fill="#fce6e8"/>
<path d="M102.3 291.1l-1.1-1.9-2.1 1.4 1.1 1.7" fill="#fce2e4"/>
<path d="M147.6 294l-1.3-1.7-2 .8 1.3 1.6" fill="#fef6f7"/>
<path d="M107.7 290.6l-1.2-2.2-2.1 1.4 1.2 1.9" fill="#fbdddf"/>
<path d="M133.6 293.2l-1.2-1.5-2.1 .9 1.3 1.4" fill="#fdf0f1"/>
<path d="M119.6 292.9l-1.2-1.9-2.1 .9 1.2 1.8" fill="#fdeced"/>
<path d="M82.9 290.9l-1.1-1.5-2.1 .8 1.1 1.5" fill="#fbdfe1"/>
<path d="M91.6 291.8l-1.2-1.5-2.1 .7 1.1 1.5" fill="#fce5e6"/>
<path d="M128.3 293.4l-1.3-1.5-2 .9 1.2 1.4" fill="#fdf0f1"/>
<path d="M142.3 293.9l-1.3-1.6-2 .8 1.3 1.5" fill="#fef3f4"/>
<path d="M72.1 291.6l-1-1.5-2.2 1.1 1.1 1.5" fill="#fce4e6"/>
<path d="M77.5 291.1l-1-1.5-2.2 1 1.1 1.4" fill="#fbe0e2"/>
<path d="M111 291.6l-1.2-2.2-2.1 1.2 1.2 2" fill="#fce2e3"/>
<path d="M151 294.8l-1.3-1.6-2.1 .8 1.4 1.5" fill="#fefbfb"/>
<path d="M100.2 292.3l-1.1-1.7-2.1 1.1 1.1 1.6" fill="#fce7e9"/>
<path d="M105.6 291.7l-1.2-1.9-2.1 1.3 1.2 1.7" fill="#fce3e5"/>
<path d="M122.9 293.6l-1.2-1.6-2.1 .9 1.2 1.5" fill="#fdf0f1"/>
<path d="M137 293.9l-1.3-1.5-2.1 .8 1.3 1.5" fill="#fdf2f3"/>
<path d="M114.2 292.7l-1.1-2-2.1 .9 1.2 1.9" fill="#fce8e9"/>
<path d="M86.2 291.7l-1.1-1.6-2.2 .8 1.1 1.5" fill="#fce2e3"/>
<path d="M94.8 292.6l-1.1-1.5-2.1 .7 1.1 1.6" fill="#fce8e9"/>
<path d="M145.6 294.7l-1.3-1.6-2 .8 1.3 1.5" fill="#fef7f8"/>
<path d="M131.6 294l-1.3-1.4-2 .8 1.2 1.4" fill="#fdf2f3"/>
<path d="M70 292.7l-1.1-1.5-2.1 1.3 1 1.3" fill="#fce9ea"/>
<path d="M80.8 291.7l-1.1-1.5-2.2 .9 1.1 1.5" fill="#fbe1e3"/>
<path d="M117.5 293.7l-1.2-1.8-2.1 .8 1.3 1.7" fill="#fdedee"/>
<path d="M108.9 292.6l-1.2-2-2.1 1.1 1.2 1.8" fill="#fce6e7"/>
<path d="M75.4 292l-1.1-1.4-2.2 1 1.1 1.4" fill="#fce3e5"/>
<path d="M126.2 294.2l-1.2-1.4-2.1 .8 1.2 1.4" fill="#fef2f3"/>
<path d="M89.4 292.5l-1.1-1.5-2.1 .7 1.1 1.5" fill="#fce5e7"/>
<path d="M103.5 292.8l-1.2-1.7-2.1 1.2 1.2 1.5" fill="#fce8e9"/>
<path d="M140.3 294.6l-1.3-1.5-2 .8 1.2 1.5" fill="#fef5f5"/>
<path d="M98.1 293.3l-1.1-1.6-2.2 .9 1.2 1.5" fill="#fdeaec"/>
<path d="M149 295.5l-1.4-1.5-2 .7 1.3 1.5" fill="#fffbfb"/>
<path d="M120.8 294.4l-1.2-1.5-2.1 .8 1.3 1.5" fill="#fdf2f2"/>
<path d="M112.2 293.5l-1.2-1.9-2.1 1 1.2 1.7" fill="#fdeaeb"/>
<path d="M67.8 293.8l-1-1.3-2.1 1.3 1 1.4" fill="#fdf0f1"/>
<path d="M134.9 294.7l-1.3-1.5-2 .8 1.3 1.4" fill="#fef3f4"/>
<path d="M84 292.4l-1.1-1.5-2.1 .8 1.1 1.5" fill="#fce3e5"/>
<path d="M92.7 293.4l-1.1-1.6-2.2 .7 1.1 1.6" fill="#fce9ea"/>
<path d="M143.6 295.4l-1.3-1.5-2 .7 1.3 1.5" fill="#fef8f8"/>
<path d="M78.6 292.6l-1.1-1.5-2.1 .9 1 1.5" fill="#fce4e5"/>
<path d="M106.8 293.5l-1.2-1.8-2.1 1.1 1.2 1.6" fill="#fce9eb"/>
<path d="M129.5 294.8l-1.2-1.4-2.1 .8 1.3 1.4" fill="#fef3f4"/>
<path d="M73.2 293l-1.1-1.4-2.1 1.1 1 1.4" fill="#fce7e9"/>
<path d="M152.3 296.2l-1.3-1.4-2 .7 1.3 1.3" fill="#fefffe"/>
<path d="M115.5 294.4l-1.3-1.7-2 .8 1.2 1.7" fill="#fdeff0"/>
<path d="M101.4 293.8l-1.2-1.5-2.1 1 1.1 1.4" fill="#fdeced"/>
<path d="M65.7 295.2l-1-1.4-2.2 1.6 1 1.2" fill="#fef9f9"/>
<path d="M124.1 295l-1.2-1.4-2.1 .8 1.3 1.4" fill="#fef4f5"/>
<path d="M87.3 293.2l-1.1-1.5-2.2 .7 1.1 1.6" fill="#fce6e7"/>
<path d="M138.2 295.4l-1.2-1.5-2.1 .8 1.3 1.4" fill="#fef6f6"/>
<path d="M96 294.1l-1.2-1.5-2.1 .8 1.1 1.5" fill="#fdeced"/>
<path d="M146.9 296.2l-1.3-1.5-2 .7 1.3 1.4" fill="#fffcfc"/>
<path d="M110.1 294.3l-1.2-1.7-2.1 .9 1.1 1.7" fill="#fdeced"/>
<path d="M118.8 295.2l-1.3-1.5-2 .7 1.2 1.5" fill="#fef3f4"/>
<path d="M81.9 293.2l-1.1-1.5-2.2 .9 1.1 1.5" fill="#fce5e6"/>
<path d="M132.9 295.4l-1.3-1.4-2.1 .8 1.3 1.4" fill="#fef5f5"/>
<path d="M71 294.1l-1-1.4-2.2 1.1 1.1 1.4" fill="#fdeced"/>
<path d="M104.7 294.4l-1.2-1.6-2.1 1 1.1 1.5" fill="#fdedee"/>
<path d="M76.4 293.5l-1-1.5-2.2 1 1.1 1.5" fill="#fce7e8"/>
<path d="M90.5 294.1l-1.1-1.6-2.1 .7 1.1 1.5" fill="#fce9ea"/>
<path d="M141.6 296.1l-1.3-1.5-2.1 .8 1.3 1.4" fill="#fef9f9"/>
<path d="M127.5 295.6l-1.3-1.4-2.1 .8 1.3 1.4" fill="#fef5f6"/>
<path d="M99.2 294.7l-1.1-1.4-2.1 .8 1.1 1.5" fill="#fdeeef"/>
<path d="M113.4 295.2l-1.2-1.7-2.1 .8 1.2 1.6" fill="#fdf0f1"/>
<path d="M150.3 296.8l-1.3-1.3-2.1 .7 1.4 1.3" fill="#fefffe"/>
<path d="M122.1 295.8l-1.3-1.4-2 .8 1.2 1.4" fill="#fef5f6"/>
<path d="M85.1 294l-1.1-1.6-2.1 .8 1.1 1.6" fill="#fce7e8"/>
<path d="M136.2 296.1l-1.3-1.4-2 .7 1.2 1.5" fill="#fef7f7"/>
<path d="M93.8 294.9l-1.1-1.5-2.2 .7 1.2 1.4" fill="#fdecee"/>
<path d="M68.9 295.2l-1.1-1.4-2.1 1.4 1 1.3" fill="#fdf2f3"/>
<path d="M107.9 295.2l-1.1-1.7-2.1 .9 1.1 1.6" fill="#fdeeef"/>
<path d="M144.9 296.8l-1.3-1.4-2 .7 1.3 1.4" fill="#fffcfc"/>
<path d="M79.7 294.1l-1.1-1.5-2.2 .9 1.1 1.5" fill="#fce7e8"/>
<path d="M116.7 295.9l-1.2-1.5-2.1 .8 1.2 1.5" fill="#fef4f4"/>
<path d="M74.3 294.5l-1.1-1.5-2.2 1.1 1.1 1.4" fill="#fdeaeb"/>
<path d="M130.8 296.2l-1.3-1.4-2 .8 1.2 1.4" fill="#fef6f7"/>
<path d="M102.5 295.3l-1.1-1.5-2.2 .9 1.2 1.5" fill="#fdeff0"/>
<path d="M153.7 297.4l-1.4-1.2-2 .6 1.3 1.3" fill="#fcfffc"/>
<path d="M88.4 294.7l-1.1-1.5-2.2 .8 1.1 1.5" fill="#fce9eb"/>
<path d="M125.4 296.4l-1.3-1.4-2 .8 1.2 1.3" fill="#fef6f7"/>
<path d="M139.5 296.8l-1.3-1.4-2 .7 1.3 1.4" fill="#fef9fa"/>
<path d="M66.7 296.5l-1-1.3-2.2 1.4 1 1.2" fill="#fefafa"/>
<path d="M97.1 295.6l-1.1-1.5-2.2 .8 1.2 1.4" fill="#fdeff0"/>
<path d="M111.3 295.9l-1.2-1.6-2.2 .9 1.2 1.5" fill="#fdf1f2"/>
<path d="M148.3 297.5l-1.4-1.3-2 .6 1.3 1.4" fill="#ffffff"/>
<path d="M120 296.6l-1.2-1.4-2.1 .7 1.2 1.4" fill="#fef6f7"/>
<path d="M83 294.8l-1.1-1.6-2.2 .9 1.1 1.5" fill="#fce8ea"/>
<path d="M134.1 296.9l-1.2-1.5-2.1 .8 1.3 1.4" fill="#fef8f8"/>
<path d="M72.1 295.5l-1.1-1.4-2.1 1.1 1 1.4" fill="#fdeeef"/>
<path d="M105.8 296l-1.1-1.6-2.2 .9 1.2 1.5" fill="#fdf0f1"/>
<path d="M77.5 295l-1.1-1.5-2.1 1 1 1.5" fill="#fdeaeb"/>
<path d="M91.7 295.5l-1.2-1.4-2.1 .6 1.1 1.5" fill="#fdedee"/>
<path d="M142.9 297.5l-1.3-1.4-2.1 .7 1.3 1.4" fill="#fffcfc"/>
<path d="M114.6 296.7l-1.2-1.5-2.1 .7 1.2 1.5" fill="#fef4f5"/>
<path d="M100.4 296.2l-1.2-1.5-2.1 .9 1.2 1.4" fill="#fdf1f2"/>
<path d="M128.7 297l-1.2-1.4-2.1 .8 1.3 1.3" fill="#fef7f8"/>
<path d="M151.6 298.1l-1.3-1.3-2 .7 1.3 1.2" fill="#fdfffd"/>
<path d="M86.2 295.5l-1.1-1.5-2.1 .8 1.1 1.5" fill="#fdeaeb"/>
<path d="M123.3 297.1l-1.2-1.3-2.1 .8 1.2 1.3" fill="#fef7f8"/>
<path d="M137.5 297.5l-1.3-1.4-2.1 .8 1.3 1.4" fill="#fefafa"/>
<path d="M95 296.3l-1.2-1.4-2.1 .6 1.1 1.5" fill="#fdf0f0"/>
<path d="M109.1 296.7l-1.2-1.5-2.1 .8 1.2 1.4" fill="#fef2f3"/>
<path d="M69.9 296.6l-1-1.4-2.2 1.3 1 1.3" fill="#fef4f4"/>
<path d="M80.8 295.6l-1.1-1.5-2.2 .9 1.1 1.5" fill="#fdeaec"/>
<path d="M146.2 298.2l-1.3-1.4-2 .7 1.3 1.3" fill="#ffffff"/>
<path d="M117.9 297.3l-1.2-1.4-2.1 .8 1.2 1.3" fill="#fef7f7"/>
<path d="M75.3 296l-1-1.5-2.2 1 1.1 1.5" fill="#fdedee"/>
<path d="M103.7 296.8l-1.2-1.5-2.1 .9 1.2 1.4" fill="#fdf2f3"/>
<path d="M132.1 297.6l-1.3-1.4-2.1 .8 1.3 1.3" fill="#fef9f9"/>
<path d="M89.5 296.2l-1.1-1.5-2.2 .8 1.1 1.5" fill="#fdedee"/>
<path d="M155 298.6l-1.3-1.2-2.1 .7 1.4 1.1" fill="#fcfffc"/>
<path d="M140.8 298.2l-1.3-1.4-2 .7 1.3 1.4" fill="#fffdfd"/>
<path d="M98.3 297l-1.2-1.4-2.1 .7 1.1 1.4" fill="#fdf2f3"/>
<path d="M126.7 297.7l-1.3-1.3-2.1 .7 1.3 1.4" fill="#fef8f9"/>
<path d="M112.5 297.4l-1.2-1.5-2.2 .8 1.2 1.4" fill="#fef5f5"/>
<path d="M67.7 297.8l-1-1.3-2.2 1.3 1.1 1.2" fill="#fefafb"/>
<path d="M84.1 296.3l-1.1-1.5-2.2 .8 1.1 1.5" fill="#fdeced"/>
<path d="M121.2 297.9l-1.2-1.3-2.1 .7 1.2 1.4" fill="#fef8f9"/>
<path d="M149.6 298.7l-1.3-1.2-2.1 .7 1.4 1.2" fill="#fdfffd"/>
<path d="M135.4 298.3l-1.3-1.4-2 .7 1.3 1.4" fill="#fefbfb"/>
<path d="M107 297.4l-1.2-1.4-2.1 .8 1.2 1.3" fill="#fef3f4"/>
<path d="M78.6 296.5l-1.1-1.5-2.2 1 1.1 1.4" fill="#fdedee"/>
<path d="M73.2 297l-1.1-1.5-2.2 1.1 1.1 1.4" fill="#fdf1f2"/>
<path d="M92.8 297l-1.1-1.5-2.2 .7 1.1 1.5" fill="#fdf0f1"/>
<path d="M115.8 298l-1.2-1.3-2.1 .7 1.2 1.3" fill="#fef7f8"/>
<path d="M144.2 298.8l-1.3-1.3-2.1 .7 1.4 1.3" fill="#ffffff"/>
<path d="M101.6 297.6l-1.2-1.4-2.1 .8 1.1 1.3" fill="#fef3f4"/>
<path d="M130 298.3l-1.3-1.3-2 .7 1.2 1.4" fill="#fef9fa"/>
<path d="M87.3 297l-1.1-1.5-2.1 .8 1.1 1.5" fill="#fdeeef"/>
<path d="M96.1 297.7l-1.1-1.4-2.2 .7 1.2 1.4" fill="#fef2f3"/>
<path d="M124.6 298.5l-1.3-1.4-2.1 .8 1.3 1.3" fill="#fef9fa"/>
<path d="M138.8 298.9l-1.3-1.4-2.1 .8 1.3 1.3" fill="#fffdfd"/>
<path d="M153 299.2l-1.4-1.1-2 .6 1.4 1.2" fill="#fcfffc"/>
<path d="M110.3 298.1l-1.2-1.4-2.1 .7 1.2 1.4" fill="#fef5f6"/>
<path d="M81.9 297.1l-1.1-1.5-2.2 .9 1.1 1.5" fill="#fdeeef"/>
<path d="M71 298l-1.1-1.4-2.2 1.2 1.1 1.3" fill="#fef6f6"/>
<path d="M76.4 297.4l-1.1-1.4-2.1 1 1 1.4" fill="#fdf0f1"/>
<path d="M119.1 298.7l-1.2-1.4-2.1 .7 1.2 1.4" fill="#fef9f9"/>
<path d="M147.6 299.4l-1.4-1.2-2 .6 1.3 1.3" fill="#fdfffd"/>
<path d="M104.9 298.1l-1.2-1.3-2.1 .8 1.1 1.3" fill="#fef4f5"/>
<path d="M133.4 299l-1.3-1.4-2.1 .7 1.3 1.4" fill="#fffbfb"/>
<path d="M90.6 297.7l-1.1-1.5-2.2 .8 1.2 1.5" fill="#fdf0f1"/>
<path d="M99.4 298.3l-1.1-1.3-2.2 .7 1.2 1.4" fill="#fef4f5"/>
<path d="M113.7 298.7l-1.2-1.3-2.2 .7 1.2 1.3" fill="#fef7f8"/>
<path d="M142.2 299.5l-1.4-1.3-2 .7 1.3 1.3" fill="#ffffff"/>
<path d="M127.9 299.1l-1.2-1.4-2.1 .8 1.2 1.3" fill="#fefafa"/>
<path d="M85.2 297.8l-1.1-1.5-2.2 .8 1.1 1.5" fill="#fdeff0"/>
<path d="M156.4 299.7l-1.4-1.1-2 .6 1.4 1.1" fill="#fdfffd"/>
<path d="M68.8 299.1l-1.1-1.3-2.1 1.2 1 1.2" fill="#fffbfb"/>
<path d="M79.7 298l-1.1-1.5-2.2 .9 1.1 1.5" fill="#fdf0f1"/>
<path d="M122.5 299.2l-1.3-1.3-2.1 .8 1.3 1.3" fill="#fefafa"/>
<path d="M94 298.4l-1.2-1.4-2.2 .7 1.2 1.5" fill="#fef3f4"/>
<path d="M108.2 298.8l-1.2-1.4-2.1 .7 1.2 1.4" fill="#fef6f6"/>
<path d="M136.7 299.6l-1.3-1.3-2 .7 1.2 1.3" fill="#fffdfd"/>
<path d="M74.2 298.4l-1-1.4-2.2 1 1 1.4" fill="#fef3f4"/>
<path d="M151 299.9l-1.4-1.2-2 .7 1.3 1.2" fill="#fdfffd"/>
<path d="M117 299.4l-1.2-1.4-2.1 .7 1.2 1.4" fill="#fef9f9"/>
<path d="M102.7 298.9l-1.1-1.3-2.2 .7 1.2 1.4" fill="#fef5f6"/>
<path d="M145.5 300.1l-1.3-1.3-2 .7 1.3 1.3" fill="#fdfffd"/>
<path d="M88.5 298.5l-1.2-1.5-2.1 .8 1.1 1.5" fill="#fdf1f2"/>
<path d="M131.3 299.7l-1.3-1.4-2.1 .8 1.3 1.3" fill="#fffcfc"/>
<path d="M97.3 299.1l-1.2-1.4-2.1 .7 1.1 1.5" fill="#fef5f6"/>
<path d="M83 298.6l-1.1-1.5-2.2 .9 1.1 1.4" fill="#fdf1f2"/>
<path d="M125.8 299.8l-1.2-1.3-2.1 .7 1.2 1.3" fill="#fffbfb"/>
<path d="M111.5 299.4l-1.2-1.3-2.1 .7 1.2 1.3" fill="#fef7f8"/>
<path d="M140.1 300.2l-1.3-1.3-2.1 .7 1.3 1.3" fill="#ffffff"/>
<path d="M72 299.4l-1-1.4-2.2 1.1 1 1.3" fill="#fef7f8"/>
<path d="M77.5 298.9l-1.1-1.5-2.2 1 1.1 1.4" fill="#fef3f3"/>
<path d="M154.4 300.3l-1.4-1.1-2 .7 1.4 1.1" fill="#fdfffd"/>
<path d="M91.8 299.2l-1.2-1.5-2.1 .8 1.1 1.4" fill="#fef3f4"/>
<path d="M120.4 300l-1.3-1.3-2.1 .7 1.2 1.3" fill="#fefbfb"/>
<path d="M106.1 299.5l-1.2-1.4-2.2 .8 1.2 1.3" fill="#fef6f7"/>
<path d="M134.6 300.3l-1.2-1.3-2.1 .7 1.3 1.3" fill="#fffdfd"/>
<path d="M148.9 300.6l-1.3-1.2-2.1 .7 1.4 1.2" fill="#fdfffd"/>
<path d="M100.6 299.7l-1.2-1.4-2.1 .8 1.1 1.4" fill="#fef6f7"/>
<path d="M86.3 299.3l-1.1-1.5-2.2 .8 1.1 1.5" fill="#fef2f3"/>
<path d="M114.9 300.1l-1.2-1.4-2.2 .7 1.3 1.3" fill="#fef9f9"/>
<path d="M129.2 300.4l-1.3-1.3-2.1 .7 1.3 1.3" fill="#fffcfc"/>
<path d="M143.5 300.8l-1.3-1.3-2.1 .7 1.3 1.2" fill="#fdfffd"/>
<path d="M80.8 299.4l-1.1-1.4-2.2 .9 1.1 1.4" fill="#fef3f4"/>
<path d="M95.1 299.9l-1.1-1.5-2.2 .8 1.1 1.4" fill="#fef6f6"/>
<path d="M69.8 300.4l-1-1.3-2.2 1.1 1 1.2" fill="#fffcfc"/>
<path d="M157.8 300.8l-1.4-1.1-2 .6 1.4 1.2" fill="#fefffe"/>
<path d="M75.3 299.8l-1.1-1.4-2.2 1 1.1 1.3" fill="#fef6f6"/>
<path d="M123.7 300.5l-1.2-1.3-2.1 .8 1.2 1.3" fill="#fffcfc"/>
<path d="M109.4 300.1l-1.2-1.3-2.1 .7 1.2 1.3" fill="#fef7f8"/>
<path d="M138 300.9l-1.3-1.3-2.1 .7 1.4 1.3" fill="#ffffff"/>
<path d="M152.4 301l-1.4-1.1-2.1 .7 1.4 1.1" fill="#fdfffd"/>
<path d="M89.6 299.9l-1.1-1.4-2.2 .8 1.1 1.4" fill="#fef4f5"/>
<path d="M103.9 300.2l-1.2-1.3-2.1 .8 1.2 1.3" fill="#fef7f8"/>
<path d="M118.2 300.7l-1.2-1.3-2.1 .7 1.2 1.3" fill="#fefbfb"/>
<path d="M132.6 301l-1.3-1.3-2.1 .7 1.3 1.3" fill="#fffdfe"/>
<path d="M146.9 301.3l-1.4-1.2-2 .7 1.3 1.2" fill="#fdfffd"/>
<path d="M98.4 300.5l-1.1-1.4-2.2 .8 1.2 1.3" fill="#fef7f8"/>
<path d="M84.1 300.1l-1.1-1.5-2.2 .8 1.1 1.5" fill="#fef4f5"/>
<path d="M112.8 300.7l-1.3-1.3-2.1 .7 1.2 1.3" fill="#fef9f9"/>
<path d="M127.1 301.1l-1.3-1.3-2.1 .7 1.3 1.3" fill="#fffdfd"/>
<path d="M141.4 301.4l-1.3-1.2-2.1 .7 1.4 1.2" fill="#fefffe"/>
<path d="M78.6 300.3l-1.1-1.4-2.2 .9 1.1 1.4" fill="#fef5f6"/>
<path d="M73.1 300.7l-1.1-1.3-2.2 1 1.1 1.3" fill="#fef9f9"/>
<path d="M92.9 300.6l-1.1-1.4-2.2 .7 1.1 1.5" fill="#fef6f7"/>
<path d="M155.8 301.5l-1.4-1.2-2 .7 1.4 1.2" fill="#fefffe"/>
<path d="M121.6 301.3l-1.2-1.3-2.2 .7 1.3 1.3" fill="#fffcfc"/>
<path d="M107.3 300.8l-1.2-1.3-2.2 .7 1.2 1.4" fill="#fef8f8"/>
<path d="M136 301.6l-1.4-1.3-2 .7 1.3 1.3" fill="#ffffff"/>
<path d="M150.3 301.7l-1.4-1.1-2 .7 1.4 1.1" fill="#fefffe"/>
<path d="M87.4 300.7l-1.1-1.4-2.2 .8 1.1 1.4" fill="#fef5f6"/>
<path d="M101.8 301l-1.2-1.3-2.2 .8 1.2 1.3" fill="#fef8f9"/>
<path d="M116.1 301.4l-1.2-1.3-2.1 .6 1.2 1.4" fill="#fefbfb"/>
<path d="M130.5 301.7l-1.3-1.3-2.1 .7 1.3 1.3" fill="#fffefe"/>
<path d="M144.8 302l-1.3-1.2-2.1 .6 1.4 1.2" fill="#fdfffd"/>
<path d="M81.9 300.9l-1.1-1.5-2.2 .9 1.1 1.4" fill="#fef6f6"/>
<path d="M96.3 301.2l-1.2-1.3-2.2 .7 1.2 1.4" fill="#fef8f9"/>
<path d="M76.4 301.2l-1.1-1.4-2.2 .9 1.1 1.4" fill="#fef8f8"/>
<path d="M70.9 301.7l-1.1-1.3-2.2 1 1.1 1.2" fill="#fffdfd"/>
<path d="M125 301.8l-1.3-1.3-2.1 .8 1.3 1.3" fill="#fffdfd"/>
<path d="M110.6 301.4l-1.2-1.3-2.1 .7 1.2 1.3" fill="#fef9f9"/>
<path d="M159.2 301.9l-1.4-1.1-2 .7 1.4 1.2" fill="#fffefe"/>
<path d="M139.4 302.1l-1.4-1.2-2 .7 1.3 1.2" fill="#fefffe"/>
<path d="M90.7 301.4l-1.1-1.5-2.2 .8 1.1 1.4" fill="#fef7f8"/>
<path d="M105.1 301.6l-1.2-1.4-2.1 .8 1.1 1.4" fill="#fef9f9"/>
<path d="M153.8 302.2l-1.4-1.2-2.1 .7 1.4 1.2" fill="#fefffe"/>
<path d="M119.5 302l-1.3-1.3-2.1 .7 1.3 1.3" fill="#fffcfc"/>
<path d="M133.9 302.3l-1.3-1.3-2.1 .7 1.3 1.3" fill="#ffffff"/>
<path d="M85.2 301.5l-1.1-1.4-2.2 .8 1.1 1.4" fill="#fef7f7"/>
<path d="M99.6 301.8l-1.2-1.3-2.1 .7 1.1 1.4" fill="#fef9fa"/>
<path d="M148.3 302.4l-1.4-1.1-2.1 .7 1.4 1.1" fill="#fefffe"/>
<path d="M114 302.1l-1.2-1.4-2.2 .7 1.2 1.4" fill="#fefafb"/>
<path d="M79.7 301.7l-1.1-1.4-2.2 .9 1.1 1.4" fill="#fef8f8"/>
<path d="M128.4 302.4l-1.3-1.3-2.1 .7 1.3 1.3" fill="#fffefe"/>
<path d="M142.8 302.6l-1.4-1.2-2 .7 1.3 1.2" fill="#fdfffd"/>
<path d="M94.1 302l-1.2-1.4-2.2 .8 1.2 1.4" fill="#fef9f9"/>
<path d="M74.2 302.1l-1.1-1.4-2.2 1 1 1.2" fill="#fefafb"/>
<path d="M108.5 302.1l-1.2-1.3-2.2 .8 1.2 1.3" fill="#fef9fa"/>
<path d="M122.9 302.6l-1.3-1.3-2.1 .7 1.2 1.3" fill="#fffdfd"/>
<path d="M157.2 302.7l-1.4-1.2-2 .7 1.3 1.2" fill="#fffefe"/>
<path d="M137.3 302.8l-1.3-1.2-2.1 .7 1.3 1.2" fill="#fefffe"/>
<path d="M88.5 302.1l-1.1-1.4-2.2 .8 1.1 1.4" fill="#fef8f9"/>
<path d="M102.9 302.4l-1.1-1.4-2.2 .8 1.2 1.4" fill="#fefafa"/>
<path d="M151.7 302.9l-1.4-1.2-2 .7 1.3 1.2" fill="#ffffff"/>
<path d="M117.4 302.7l-1.3-1.3-2.1 .7 1.2 1.3" fill="#fffcfc"/>
<path d="M131.8 303l-1.3-1.3-2.1 .7 1.3 1.3" fill="#ffffff"/>
<path d="M83 302.3l-1.1-1.4-2.2 .8 1.1 1.4" fill="#fef8f8"/>
<path d="M97.4 302.6l-1.1-1.4-2.2 .8 1.1 1.4" fill="#fefbfb"/>
<path d="M146.2 303.1l-1.4-1.1-2 .6 1.3 1.2" fill="#fefffe"/>
<path d="M77.5 302.6l-1.1-1.4-2.2 .9 1 1.3" fill="#fefafa"/>
<path d="M111.8 302.8l-1.2-1.4-2.1 .7 1.2 1.4" fill="#fefafb"/>
<path d="M71.9 302.9l-1-1.2-2.2 .9 1 1.2" fill="#fffdfd"/>
<path d="M126.3 303.1l-1.3-1.3-2.1 .8 1.2 1.2" fill="#fffefe"/>
<path d="M91.9 302.8l-1.2-1.4-2.2 .7 1.2 1.4" fill="#fefafa"/>
<path d="M140.7 303.3l-1.3-1.2-2.1 .7 1.3 1.2" fill="#fefffe"/>
<path d="M160.6 303.2l-1.4-1.3-2 .8 1.4 1.2" fill="#fffefe"/>
<path d="M106.3 302.9l-1.2-1.3-2.2 .8 1.2 1.3" fill="#fefafa"/>
<path d="M120.7 303.3l-1.2-1.3-2.1 .7 1.2 1.3" fill="#fffdfd"/>
<path d="M155.1 303.4l-1.3-1.2-2.1 .7 1.4 1.2" fill="#fffefe"/>
<path d="M86.3 302.9l-1.1-1.4-2.2 .8 1.1 1.4" fill="#fef9f9"/>
<path d="M135.2 303.5l-1.3-1.2-2.1 .7 1.3 1.2" fill="#fefffe"/>
<path d="M100.8 303.2l-1.2-1.4-2.2 .8 1.2 1.4" fill="#fffbfb"/>
<path d="M149.6 303.6l-1.3-1.2-2.1 .7 1.4 1.2" fill="#ffffff"/>
<path d="M80.8 303.1l-1.1-1.4-2.2 .9 1.1 1.3" fill="#fefafa"/>
<path d="M115.2 303.4l-1.2-1.3-2.2 .7 1.3 1.3" fill="#fffcfc"/>
<path d="M129.7 303.7l-1.3-1.3-2.1 .7 1.2 1.3" fill="#ffffff"/>
<path d="M95.2 303.4l-1.1-1.4-2.2 .8 1.1 1.4" fill="#fffbfc"/>
<path d="M75.2 303.4l-1-1.3-2.3 .8 1.1 1.3" fill="#fffcfc"/>
<path d="M144.1 303.8l-1.3-1.2-2.1 .7 1.3 1.2" fill="#fefffe"/>
<path d="M109.7 303.5l-1.2-1.4-2.2 .8 1.2 1.3" fill="#fefbfb"/>
<path d="M124.1 303.8l-1.2-1.2-2.2 .7 1.3 1.3" fill="#fffefe"/>
<path d="M89.7 303.5l-1.2-1.4-2.2 .8 1.2 1.4" fill="#fefbfb"/>
<path d="M138.6 304l-1.3-1.2-2.1 .7 1.3 1.3" fill="#fefffe"/>
<path d="M158.6 303.9l-1.4-1.2-2.1 .7 1.5 1.2" fill="#fffefe"/>
<path d="M104.1 303.7l-1.2-1.3-2.1 .8 1.2 1.3" fill="#fffbfc"/>
<path d="M118.6 304l-1.2-1.3-2.2 .7 1.3 1.3" fill="#fffdfd"/>
<path d="M84.1 303.7l-1.1-1.4-2.2 .8 1.1 1.4" fill="#fefafa"/>
<path d="M153.1 304.1l-1.4-1.2-2.1 .7 1.4 1.2" fill="#ffffff"/>
<path d="M133.1 304.2l-1.3-1.2-2.1 .7 1.3 1.2" fill="#fefffe"/>
<path d="M98.6 304l-1.2-1.4-2.2 .8 1.2 1.4" fill="#fffcfd"/>
<path d="M78.6 303.9l-1.1-1.3-2.3 .8 1.1 1.3" fill="#fffbfb"/>
<path d="M147.6 304.3l-1.4-1.2-2.1 .7 1.4 1.2" fill="#ffffff"/>
<path d="M113.1 304.1l-1.3-1.3-2.1 .7 1.2 1.3" fill="#fffcfc"/>
<path d="M93 304.2l-1.1-1.4-2.2 .7 1.1 1.4" fill="#fffcfc"/>
<path d="M73 304.2l-1.1-1.3-2.2 .9 1.1 1.3" fill="#fffefe"/>
<path d="M127.5 304.4l-1.2-1.3-2.2 .7 1.3 1.3" fill="#ffffff"/>
<path d="M162.1 304.4l-1.5-1.2-2 .7 1.4 1.2" fill="#fffefe"/>
<path d="M142 304.5l-1.3-1.2-2.1 .7 1.3 1.3" fill="#fefffe"/>
<path d="M107.5 304.2l-1.2-1.3-2.2 .8 1.2 1.3" fill="#fffbfc"/>
<path d="M122 304.6l-1.3-1.3-2.1 .7 1.3 1.3" fill="#fffefe"/>
<path d="M87.5 304.3l-1.2-1.4-2.2 .8 1.2 1.3" fill="#fffbfb"/>
<path d="M156.6 304.6l-1.5-1.2-2 .7 1.4 1.2" fill="#fffefe"/>
<path d="M102 304.5l-1.2-1.3-2.2 .8 1.2 1.3" fill="#fffdfd"/>
<path d="M136.5 304.8l-1.3-1.3-2.1 .7 1.3 1.3" fill="#fefffe"/>
<path d="M81.9 304.5l-1.1-1.4-2.2 .8 1.1 1.3" fill="#fffbfb"/>
<path d="M116.5 304.7l-1.3-1.3-2.1 .7 1.2 1.3" fill="#fffdfd"/>
<path d="M96.4 304.8l-1.2-1.4-2.2 .8 1.2 1.3" fill="#fffdfe"/>
<path d="M151 304.8l-1.4-1.2-2 .7 1.3 1.2" fill="#ffffff"/>
<path d="M131 304.9l-1.3-1.2-2.2 .7 1.3 1.2" fill="#fefffe"/>
<path d="M76.3 304.7l-1.1-1.3-2.2 .8 1.1 1.3" fill="#fffdfd"/>
<path d="M145.5 305l-1.4-1.2-2.1 .7 1.4 1.3" fill="#ffffff"/>
<path d="M110.9 304.8l-1.2-1.3-2.2 .7 1.2 1.3" fill="#fffcfc"/>
<path d="M90.8 304.9l-1.1-1.4-2.2 .8 1.1 1.3" fill="#fffdfd"/>
<path d="M125.4 305.1l-1.3-1.3-2.1 .8 1.3 1.2" fill="#ffffff"/>
<path d="M160 305.1l-1.4-1.2-2 .7 1.4 1.3" fill="#fffefe"/>
<path d="M105.3 305l-1.2-1.3-2.1 .8 1.2 1.3" fill="#fffdfd"/>
<path d="M139.9 305.3l-1.3-1.3-2.1 .8 1.3 1.2" fill="#fefffe"/>
<path d="M85.3 305l-1.2-1.3-2.2 .8 1.1 1.3" fill="#fffcfc"/>
<path d="M119.9 305.3l-1.3-1.3-2.1 .7 1.2 1.3" fill="#fffefe"/>
<path d="M99.8 305.3l-1.2-1.3-2.2 .8 1.2 1.3" fill="#fffefe"/>
<path d="M154.5 305.3l-1.4-1.2-2.1 .7 1.4 1.3" fill="#fffefe"/>
<path d="M134.4 305.5l-1.3-1.3-2.1 .7 1.3 1.3" fill="#fefffe"/>
<path d="M79.7 305.2l-1.1-1.3-2.3 .8 1.1 1.3" fill="#fffcfc"/>
<path d="M114.3 305.4l-1.2-1.3-2.2 .7 1.2 1.3" fill="#fffdfd"/>
<path d="M94.2 305.5l-1.2-1.3-2.2 .7 1.2 1.4" fill="#fffefe"/>
<path d="M148.9 305.5l-1.3-1.2-2.1 .7 1.4 1.3" fill="#ffffff"/>
<path d="M74.1 305.5l-1.1-1.3-2.2 .9 1 1.2" fill="#fffefe"/>
<path d="M128.8 305.6l-1.3-1.2-2.1 .7 1.3 1.3" fill="#fefffe"/>
<path d="M163.5 305.7l-1.4-1.3-2.1 .7 1.5 1.3" fill="#fffefe"/>
<path d="M108.7 305.5l-1.2-1.3-2.2 .8 1.3 1.3" fill="#fffdfd"/>
<path d="M143.4 305.8l-1.4-1.3-2.1 .8 1.4 1.2" fill="#ffffff"/>
<path d="M88.6 305.6l-1.1-1.3-2.2 .7 1.1 1.4" fill="#fffdfd"/>
<path d="M123.3 305.8l-1.3-1.2-2.1 .7 1.2 1.2" fill="#ffffff"/>
<path d="M103.2 305.8l-1.2-1.3-2.2 .8 1.2 1.3" fill="#fffefe"/>
<path d="M158 305.9l-1.4-1.3-2.1 .7 1.4 1.3" fill="#fffefe"/>
<path d="M137.8 306l-1.3-1.2-2.1 .7 1.3 1.2" fill="#fefffe"/>
<path d="M83 305.8l-1.1-1.3-2.2 .7 1.1 1.3" fill="#fffcfd"/>
<path d="M117.7 306l-1.2-1.3-2.2 .7 1.3 1.3" fill="#fffefe"/>
<path d="M97.6 306.1l-1.2-1.3-2.2 .7 1.2 1.3" fill="#ffffff"/>
<path d="M152.4 306.1l-1.4-1.3-2.1 .7 1.4 1.3" fill="#fffefe"/>
<path d="M132.3 306.2l-1.3-1.3-2.2 .7 1.4 1.3" fill="#fefffe"/>
<path d="M77.4 306l-1.1-1.3-2.2 .8 1.1 1.3" fill="#fffdfd"/>
<path d="M112.1 306.1l-1.2-1.3-2.2 .7 1.3 1.4" fill="#fffdfd"/>
<path d="M92 306.3l-1.2-1.4-2.2 .7 1.2 1.4" fill="#fffefe"/>
<path d="M146.9 306.3l-1.4-1.3-2.1 .8 1.4 1.2" fill="#ffffff"/>
<path d="M126.7 306.4l-1.3-1.3-2.1 .7 1.3 1.3" fill="#ffffff"/>
<path d="M106.6 306.3l-1.3-1.3-2.1 .8 1.2 1.3" fill="#fffdfe"/>
<path d="M161.5 306.4l-1.5-1.3-2 .8 1.4 1.2" fill="#fffefe"/>
<path d="M141.3 306.5l-1.4-1.2-2.1 .7 1.4 1.2" fill="#ffffff"/>
<path d="M86.4 306.4l-1.1-1.4-2.3 .8 1.1 1.3" fill="#fffdfd"/>
<path d="M121.1 306.5l-1.2-1.2-2.2 .7 1.3 1.3" fill="#ffffff"/>
<path d="M101 306.6l-1.2-1.3-2.2 .8 1.2 1.3" fill="#ffffff"/>
<path d="M155.9 306.6l-1.4-1.3-2.1 .8 1.4 1.2" fill="#fffefe"/>
<path d="M135.7 306.7l-1.3-1.2-2.1 .7 1.3 1.2" fill="#fefffe"/>
<path d="M80.8 306.5l-1.1-1.3-2.3 .8 1.1 1.3" fill="#fffdfd"/>
<path d="M115.6 306.7l-1.3-1.3-2.2 .7 1.3 1.3" fill="#fffefe"/>
<path d="M95.4 306.8l-1.2-1.3-2.2 .8 1.1 1.3" fill="#fefffe"/>
<path d="M150.3 306.8l-1.4-1.3-2 .8 1.3 1.2" fill="#fffefe"/>
<path d="M75.2 306.8l-1.1-1.3-2.3 .8 1.1 1.3" fill="#fffefe"/>
<path d="M130.2 306.9l-1.4-1.3-2.1 .8 1.3 1.2" fill="#fefffe"/>
<path d="M110 306.9l-1.3-1.4-2.1 .8 1.2 1.3" fill="#fffefe"/>
<path d="M165 307l-1.5-1.3-2 .7 1.4 1.3" fill="#ffffff"/>
<path d="M89.8 307l-1.2-1.4-2.2 .8 1.1 1.3" fill="#fffefe"/>
<path d="M144.8 307l-1.4-1.2-2.1 .7 1.4 1.2" fill="#ffffff"/>
<path d="M124.6 307.1l-1.3-1.3-2.2 .7 1.3 1.3" fill="#ffffff"/>
<path d="M104.4 307.1l-1.2-1.3-2.2 .8 1.2 1.3" fill="#ffffff"/>
<path d="M159.4 307.1l-1.4-1.2-2.1 .7 1.4 1.3" fill="#fffeff"/>
<path d="M139.2 307.2l-1.4-1.2-2.1 .7 1.4 1.2" fill="#ffffff"/>
<path d="M84.1 307.1l-1.1-1.3-2.2 .7 1.1 1.3" fill="#fffdfd"/>
<path d="M119 307.3l-1.3-1.3-2.1 .7 1.2 1.3" fill="#ffffff"/>
<path d="M98.8 307.4l-1.2-1.3-2.2 .7 1.1 1.3" fill="#fefffe"/>
<path d="M153.8 307.3l-1.4-1.2-2.1 .7 1.4 1.3" fill="#fffefe"/>
<path d="M133.6 307.4l-1.3-1.2-2.1 .7 1.3 1.2" fill="#fefffe"/>
<path d="M78.5 307.3l-1.1-1.3-2.2 .8 1.1 1.3" fill="#fffefe"/>
<path d="M113.4 307.4l-1.3-1.3-2.1 .8 1.2 1.3" fill="#fffefe"/>
<path d="M93.1 307.6l-1.1-1.3-2.2 .7 1.1 1.3" fill="#fefffe"/>
<path d="M148.2 307.5l-1.3-1.2-2.1 .7 1.3 1.2" fill="#fffefe"/>
<path d="M128 307.6l-1.3-1.2-2.1 .7 1.3 1.2" fill="#fefffe"/>
<path d="M107.8 307.6l-1.2-1.3-2.2 .8 1.2 1.3" fill="#fffefe"/>
<path d="M162.9 307.7l-1.4-1.3-2.1 .7 1.4 1.3" fill="#ffffff"/>
<path d="M87.5 307.7l-1.1-1.3-2.3 .7 1.2 1.3" fill="#fffefe"/>
<path d="M142.7 307.7l-1.4-1.2-2.1 .7 1.3 1.3" fill="#ffffff"/>
<path d="M122.4 307.8l-1.3-1.3-2.1 .8 1.3 1.3" fill="#fefffe"/>
<path d="M102.2 307.9l-1.2-1.3-2.2 .8 1.2 1.2" fill="#fefffe"/>
<path d="M157.3 307.9l-1.4-1.3-2.1 .7 1.4 1.3" fill="#ffffff"/>
<path d="M137.1 307.9l-1.4-1.2-2.1 .7 1.3 1.3" fill="#ffffff"/>
<path d="M81.9 307.8l-1.1-1.3-2.3 .8 1.1 1.3" fill="#fffefe"/>
<path d="M116.8 308l-1.2-1.3-2.2 .7 1.2 1.3" fill="#ffffff"/>
<path d="M96.5 308.1l-1.1-1.3-2.3 .8 1.2 1.2" fill="#fefffe"/>
<path d="M151.7 308.1l-1.4-1.3-2.1 .7 1.4 1.3" fill="#fffefe"/>
<path d="M76.3 308.1l-1.1-1.3-2.3 .8 1.1 1.2" fill="#fffeff"/>
<path d="M131.5 308.1l-1.3-1.2-2.2 .7 1.3 1.3" fill="#ffffff"/>
<path d="M111.2 308.2l-1.2-1.3-2.2 .7 1.2 1.3" fill="#fffefe"/>
<path d="M166.4 308.3l-1.4-1.3-2.1 .7 1.5 1.3" fill="#fefffe"/>
<path d="M90.9 308.3l-1.1-1.3-2.3 .7 1.2 1.3" fill="#ffffff"/>
<path d="M146.1 308.2l-1.3-1.2-2.1 .7 1.3 1.3" fill="#fffeff"/>
<path d="M125.9 308.3l-1.3-1.2-2.2 .7 1.3 1.3" fill="#fefffe"/>
<path d="M105.6 308.4l-1.2-1.3-2.2 .8 1.2 1.2" fill="#ffffff"/>
<path d="M160.8 308.4l-1.4-1.3-2.1 .8 1.5 1.3" fill="#ffffff"/>
<path d="M85.3 308.4l-1.2-1.3-2.2 .7 1.1 1.3" fill="#fffefe"/>
<path d="M140.5 308.5l-1.3-1.3-2.1 .7 1.3 1.3" fill="#ffffff"/>
<path d="M120.3 308.6l-1.3-1.3-2.2 .7 1.3 1.3" fill="#fefffe"/>
<path d="M100 308.6l-1.2-1.2-2.3 .7 1.2 1.3" fill="#fefffe"/>
<path d="M155.2 308.6l-1.4-1.3-2.1 .8 1.5 1.2" fill="#ffffff"/>
<path d="M79.6 308.6l-1.1-1.3-2.2 .8 1.1 1.2" fill="#fffefe"/>
<path d="M134.9 308.7l-1.3-1.3-2.1 .7 1.3 1.3" fill="#ffffff"/>
<path d="M114.6 308.7l-1.2-1.3-2.2 .8 1.2 1.3" fill="#ffffff"/>
<path d="M94.3 308.8l-1.2-1.2-2.2 .7 1.2 1.3" fill="#fefffe"/>
<path d="M149.6 308.8l-1.4-1.3-2.1 .7 1.4 1.3" fill="#fffefe"/>
<path d="M129.3 308.9l-1.3-1.3-2.1 .7 1.3 1.3" fill="#ffffff"/>
<path d="M109 308.9l-1.2-1.3-2.2 .8 1.2 1.3" fill="#ffffff"/>
<path d="M164.4 309l-1.5-1.3-2.1 .7 1.5 1.3" fill="#fefffe"/>
<path d="M88.7 309l-1.2-1.3-2.2 .7 1.1 1.3" fill="#ffffff"/>
<path d="M144 309l-1.3-1.3-2.2 .8 1.4 1.2" fill="#ffffff"/>
<path d="M123.7 309.1l-1.3-1.3-2.1 .8 1.2 1.2" fill="#fefffe"/>
<path d="M103.4 309.1l-1.2-1.2-2.2 .7 1.2 1.3" fill="#fefffe"/>
<path d="M158.8 309.2l-1.5-1.3-2.1 .7 1.5 1.3" fill="#ffffff"/>
<path d="M83 309.1l-1.1-1.3-2.3 .8 1.2 1.3" fill="#fffefe"/>
<path d="M138.4 309.2l-1.3-1.3-2.2 .8 1.4 1.2" fill="#ffffff"/>
<path d="M118.1 309.3l-1.3-1.3-2.2 .7 1.3 1.3" fill="#fefffe"/>
<path d="M97.7 309.4l-1.2-1.3-2.2 .7 1.2 1.3" fill="#fefffe"/>
<path d="M153.2 309.3l-1.5-1.2-2.1 .7 1.5 1.3" fill="#ffffff"/>
<path d="M77.4 309.3l-1.1-1.2-2.3 .7 1.1 1.3" fill="#ffffff"/>
<path d="M132.8 309.4l-1.3-1.3-2.2 .8 1.4 1.2" fill="#ffffff"/>
<path d="M112.4 309.5l-1.2-1.3-2.2 .7 1.2 1.3" fill="#ffffff"/>
<path d="M167.9 309.6l-1.5-1.3-2 .7 1.4 1.3" fill="#fefffe"/>
<path d="M92.1 309.6l-1.2-1.3-2.2 .7 1.1 1.3" fill="#fefffe"/>
<path d="M147.5 309.5l-1.4-1.3-2.1 .8 1.4 1.3" fill="#ffffff"/>
<path d="M127.2 309.6l-1.3-1.3-2.2 .8 1.3 1.3" fill="#ffffff"/>
<path d="M106.8 309.7l-1.2-1.3-2.2 .7 1.2 1.3" fill="#ffffff"/>
<path d="M162.3 309.7l-1.5-1.3-2 .8 1.4 1.3" fill="#fefffe"/>
<path d="M86.4 309.7l-1.1-1.3-2.3 .7 1.2 1.3" fill="#fffefe"/>
<path d="M141.9 309.7l-1.4-1.2-2.1 .7 1.4 1.3" fill="#ffffff"/>
<path d="M121.5 309.8l-1.2-1.2-2.2 .7 1.3 1.3" fill="#fefffe"/>
<path d="M101.2 309.9l-1.2-1.3-2.3 .8 1.2 1.2" fill="#fefffe"/>
<path d="M156.7 309.9l-1.5-1.3-2 .7 1.4 1.3" fill="#ffffff"/>
<path d="M80.8 309.9l-1.2-1.3-2.2 .7 1.1 1.3" fill="#fffefe"/>
<path d="M136.3 309.9l-1.4-1.2-2.1 .7 1.3 1.3" fill="#ffffff"/>
<path d="M115.9 310l-1.3-1.3-2.2 .8 1.3 1.3" fill="#fefffe"/>
<path d="M95.5 310.1l-1.2-1.3-2.2 .8 1.2 1.2" fill="#fefffe"/>
<path d="M151.1 310.1l-1.5-1.3-2.1 .7 1.4 1.3" fill="#ffffff"/>
<path d="M130.7 310.1l-1.4-1.2-2.1 .7 1.3 1.3" fill="#ffffff"/>
<path d="M110.2 310.2l-1.2-1.3-2.2 .8 1.2 1.2" fill="#ffffff"/>
<path d="M165.8 310.3l-1.4-1.3-2.1 .7 1.5 1.3" fill="#fefffe"/>
<path d="M89.8 310.3l-1.1-1.3-2.3 .7 1.2 1.3" fill="#ffffff"/>
<path d="M145.4 310.3l-1.4-1.3-2.1 .7 1.4 1.3" fill="#ffffff"/>
<path d="M125 310.4l-1.3-1.3-2.2 .7 1.3 1.3" fill="#ffffff"/>
<path d="M104.6 310.4l-1.2-1.3-2.2 .8 1.2 1.2" fill="#ffffff"/>
<path d="M160.2 310.5l-1.4-1.3-2.1 .7 1.4 1.3" fill="#fefffe"/>
<path d="M84.2 310.4l-1.2-1.3-2.2 .8 1.1 1.2" fill="#fffefe"/>
<path d="M139.8 310.5l-1.4-1.3-2.1 .7 1.3 1.3" fill="#ffffff"/>
<path d="M119.4 310.6l-1.3-1.3-2.2 .7 1.3 1.3" fill="#fefffe"/>
<path d="M98.9 310.6l-1.2-1.2-2.2 .7 1.2 1.3" fill="#fefffe"/>
<path d="M154.6 310.6l-1.4-1.3-2.1 .8 1.4 1.3" fill="#ffffff"/>
<path d="M78.5 310.6l-1.1-1.3-2.3 .8 1.1 1.3" fill="#ffffff"/>
<path d="M134.1 310.7l-1.3-1.3-2.1 .7 1.3 1.3" fill="#ffffff"/>
<path d="M113.7 310.8l-1.3-1.3-2.2 .7 1.3 1.3" fill="#ffffff"/>
<path d="M169.4 310.8l-1.5-1.2-2.1 .7 1.5 1.3" fill="#fefffe"/>
<path d="M93.3 310.8l-1.2-1.2-2.3 .7 1.2 1.3" fill="#fefffe"/>
<path d="M148.9 310.8l-1.4-1.3-2.1 .8 1.4 1.3" fill="#ffffff"/>
<path d="M128.5 310.9l-1.3-1.3-2.2 .8 1.3 1.2" fill="#ffffff"/>
<path d="M108 310.9l-1.2-1.2-2.2 .7 1.2 1.3" fill="#ffffff"/>
<path d="M163.8 311l-1.5-1.3-2.1 .8 1.5 1.3" fill="#fefffe"/>
<path d="M87.6 311l-1.2-1.3-2.2 .7 1.1 1.3" fill="#ffffff"/>
<path d="M143.3 311l-1.4-1.3-2.1 .8 1.4 1.3" fill="#ffffff"/>
<path d="M122.8 311.1l-1.3-1.3-2.1 .8 1.2 1.2" fill="#ffffff"/>
<path d="M102.4 311.1l-1.2-1.2-2.3 .7 1.2 1.3" fill="#ffffff"/>
<path d="M158.1 311.2l-1.4-1.3-2.1 .7 1.4 1.4" fill="#ffffff"/>
<path d="M81.9 311.1l-1.1-1.2-2.3 .7 1.1 1.3" fill="#fffefe"/>
<path d="M137.6 311.2l-1.3-1.3-2.2 .8 1.4 1.3" fill="#ffffff"/>
<path d="M117.2 311.3l-1.3-1.3-2.2 .8 1.3 1.3" fill="#fefffe"/>
<path d="M96.7 311.4l-1.2-1.3-2.2 .7 1.1 1.3" fill="#fefffe"/>
<path d="M152.5 311.4l-1.4-1.3-2.2 .7 1.5 1.3" fill="#ffffff"/>
<path d="M132 311.4l-1.3-1.3-2.2 .8 1.3 1.3" fill="#ffffff"/>
<path d="M111.5 311.5l-1.3-1.3-2.2 .7 1.3 1.3" fill="#ffffff"/>
<path d="M167.3 311.6l-1.5-1.3-2 .7 1.4 1.3" fill="#fefffe"/>
<path d="M91 311.6l-1.2-1.3-2.2 .7 1.1 1.3" fill="#ffffff"/>
<path d="M146.8 311.6l-1.4-1.3-2.1 .7 1.4 1.3" fill="#ffffff"/>
<path d="M126.3 311.6l-1.3-1.2-2.2 .7 1.3 1.3" fill="#ffffff"/>
<path d="M105.8 311.7l-1.2-1.3-2.2 .7 1.2 1.3" fill="#ffffff"/>
<path d="M161.7 311.8l-1.5-1.3-2.1 .7 1.5 1.3" fill="#fefffe"/>
<path d="M85.3 311.7l-1.1-1.3-2.3 .7 1.1 1.4" fill="#fffefe"/>
<path d="M141.2 311.8l-1.4-1.3-2.2 .7 1.4 1.3" fill="#ffffff"/>
<path d="M120.6 311.8l-1.2-1.2-2.2 .7 1.3 1.3" fill="#ffffff"/>
<path d="M100.1 311.9l-1.2-1.3-2.2 .8 1.2 1.2" fill="#ffffff"/>
<path d="M156 312l-1.4-1.4-2.1 .8 1.4 1.3" fill="#ffffff"/>
<path d="M79.6 311.9l-1.1-1.3-2.3 .8 1.1 1.3" fill="#ffffff"/>
<path d="M135.5 312l-1.4-1.3-2.1 .7 1.3 1.3" fill="#ffffff"/>
<path d="M115 312.1l-1.3-1.3-2.2 .7 1.3 1.3" fill="#ffffff"/>
<path d="M170.9 312.1l-1.5-1.3-2.1 .8 1.5 1.2" fill="#fefffe"/>
<path d="M94.4 312.1l-1.1-1.3-2.3 .8 1.2 1.3" fill="#fefffe"/>
<path d="M150.4 312.1l-1.5-1.3-2.1 .8 1.4 1.3" fill="#ffffff"/>
<path d="M129.8 312.2l-1.3-1.3-2.2 .7 1.3 1.3" fill="#ffffff"/>
<path d="M109.3 312.2l-1.3-1.3-2.2 .8 1.3 1.3" fill="#ffffff"/>
<path d="M165.2 312.3l-1.4-1.3-2.1 .8 1.4 1.3" fill="#fefffe"/>
<path d="M88.7 312.3l-1.1-1.3-2.3 .7 1.2 1.3" fill="#ffffff"/>
<path d="M144.7 312.3l-1.4-1.3-2.1 .8 1.3 1.3" fill="#ffffff"/>
<path d="M124.1 312.4l-1.3-1.3-2.2 .7 1.3 1.3" fill="#ffffff"/>
<path d="M103.6 312.4l-1.2-1.3-2.3 .8 1.2 1.3" fill="#ffffff"/>
<path d="M159.6 312.5l-1.5-1.3-2.1 .8 1.5 1.3" fill="#fefffe"/>
<path d="M83 312.5l-1.1-1.4-2.3 .8 1.1 1.3" fill="#fffefe"/>
<path d="M139 312.5l-1.4-1.3-2.1 .8 1.4 1.3" fill="#ffffff"/>
<path d="M118.5 312.6l-1.3-1.3-2.2 .8 1.2 1.3" fill="#ffffff"/>
<path d="M97.9 312.6l-1.2-1.2-2.3 .7 1.2 1.3" fill="#ffffff"/>
<path d="M153.9 312.7l-1.4-1.3-2.1 .7 1.4 1.4" fill="#ffffff"/>
<path d="M133.3 312.7l-1.3-1.3-2.2 .8 1.4 1.3" fill="#ffffff"/>
<path d="M112.8 312.8l-1.3-1.3-2.2 .7 1.2 1.3" fill="#ffffff"/>
<path d="M168.8 312.8l-1.5-1.2-2.1 .7 1.5 1.3" fill="#ffffff"/>
<path d="M92.2 312.9l-1.2-1.3-2.3 .7 1.2 1.3" fill="#ffffff"/>
<path d="M148.2 312.9l-1.4-1.3-2.1 .7 1.4 1.3" fill="#ffffff"/>
<path d="M127.6 312.9l-1.3-1.3-2.2 .8 1.4 1.3" fill="#ffffff"/>
<path d="M107.1 313l-1.3-1.3-2.2 .7 1.2 1.3" fill="#ffffff"/>
<path d="M163.1 313.1l-1.4-1.3-2.1 .7 1.4 1.3" fill="#fefffe"/>
<path d="M86.5 313l-1.2-1.3-2.3 .8 1.2 1.3" fill="#fffefe"/>
<path d="M142.5 313.1l-1.3-1.3-2.2 .7 1.4 1.3" fill="#ffffff"/>
<path d="M121.9 313.1l-1.3-1.3-2.1 .8 1.2 1.3" fill="#ffffff"/>
<path d="M101.3 313.2l-1.2-1.3-2.2 .7 1.2 1.3" fill="#ffffff"/>
<path d="M157.5 313.3l-1.5-1.3-2.1 .7 1.4 1.3" fill="#fefffe"/>
<path d="M80.7 313.2l-1.1-1.3-2.3 .8 1.1 1.3" fill="#ffffff"/>
<path d="M136.9 313.3l-1.4-1.3-2.2 .7 1.4 1.3" fill="#ffffff"/>
<path d="M116.2 313.4l-1.2-1.3-2.2 .7 1.2 1.3" fill="#ffffff"/>
<path d="M95.6 313.4l-1.2-1.3-2.2 .8 1.2 1.3" fill="#ffffff"/>
<path d="M151.8 313.5l-1.4-1.4-2.2 .8 1.4 1.3" fill="#ffffff"/>
<path d="M131.2 313.5l-1.4-1.3-2.2 .7 1.4 1.3" fill="#ffffff"/>
<path d="M110.5 313.5l-1.2-1.3-2.2 .8 1.2 1.3" fill="#ffffff"/>
<path d="M166.7 313.6l-1.5-1.3-2.1 .8 1.5 1.2" fill="#ffffff"/>
<path d="M89.9 313.6l-1.2-1.3-2.2 .7 1.1 1.4" fill="#ffffff"/>
<path d="M146.1 313.6l-1.4-1.3-2.2 .8 1.4 1.3" fill="#ffffff"/>
<path d="M125.5 313.7l-1.4-1.3-2.2 .7 1.4 1.3" fill="#ffffff"/>
<path d="M104.8 313.7l-1.2-1.3-2.3 .8 1.3 1.3" fill="#ffffff"/>
<path d="M161 313.8l-1.4-1.3-2.1 .8 1.4 1.3" fill="#fefffe"/>
<path d="M84.2 313.8l-1.2-1.3-2.3 .7 1.2 1.3" fill="#fffefe"/>
<path d="M140.4 313.8l-1.4-1.3-2.1 .8 1.3 1.3" fill="#ffffff"/>
<path d="M119.7 313.9l-1.2-1.3-2.3 .8 1.3 1.3" fill="#ffffff"/>
<path d="M99.1 313.9l-1.2-1.3-2.3 .8 1.2 1.3" fill="#ffffff"/>
<path d="M155.3 314l-1.4-1.3-2.1 .8 1.4 1.3" fill="#fefffe"/>
<path d="M134.7 314l-1.4-1.3-2.1 .8 1.3 1.3" fill="#ffffff"/>
<path d="M114 314.1l-1.2-1.3-2.3 .7 1.3 1.4" fill="#ffffff"/>
<path d="M93.4 314.2l-1.2-1.3-2.3 .7 1.2 1.3" fill="#ffffff"/>
<path d="M149.6 314.2l-1.4-1.3-2.1 .7 1.4 1.4" fill="#ffffff"/>
<path d="M129 314.2l-1.4-1.3-2.1 .8 1.3 1.3" fill="#ffffff"/>
<path d="M108.3 314.3l-1.2-1.3-2.3 .7 1.3 1.4" fill="#ffffff"/>
<path d="M164.6 314.3l-1.5-1.2-2.1 .7 1.5 1.3" fill="#ffffff"/>
<path d="M87.6 314.4l-1.1-1.4-2.3 .8 1.1 1.3" fill="#ffffff"/>
<path d="M143.9 314.4l-1.4-1.3-2.1 .7 1.4 1.4" fill="#ffffff"/>
<path d="M123.3 314.4l-1.4-1.3-2.2 .8 1.4 1.3" fill="#ffffff"/>
<path d="M102.6 314.5l-1.3-1.3-2.2 .7 1.2 1.4" fill="#ffffff"/>
<path d="M158.9 314.6l-1.4-1.3-2.2 .7 1.5 1.3" fill="#fefffe"/>
<path d="M81.9 314.5l-1.2-1.3-2.3 .8 1.2 1.3" fill="#ffffff"/>
<path d="M138.2 314.6l-1.3-1.3-2.2 .7 1.4 1.4" fill="#ffffff"/>
<path d="M117.5 314.7l-1.3-1.3-2.2 .7 1.3 1.3" fill="#ffffff"/>
<path d="M96.8 314.7l-1.2-1.3-2.2 .8 1.2 1.3" fill="#ffffff"/>
<path d="M153.2 314.8l-1.4-1.3-2.2 .7 1.5 1.3" fill="#fefffe"/>
<path d="M132.5 314.8l-1.3-1.3-2.2 .7 1.3 1.4" fill="#ffffff"/>
<path d="M111.8 314.9l-1.3-1.4-2.2 .8 1.3 1.3" fill="#ffffff"/>
<path d="M91.1 314.9l-1.2-1.3-2.3 .8 1.2 1.3" fill="#ffffff"/>
<path d="M147.5 315l-1.4-1.4-2.2 .8 1.5 1.3" fill="#ffffff"/>
<path d="M126.8 315l-1.3-1.3-2.2 .7 1.3 1.4" fill="#ffffff"/>
<path d="M106.1 315.1l-1.3-1.4-2.2 .8 1.2 1.3" fill="#ffffff"/>
<path d="M162.5 315.1l-1.5-1.3-2.1 .8 1.5 1.3" fill="#ffffff"/>
<path d="M85.3 315.1l-1.1-1.3-2.3 .7 1.1 1.4" fill="#ffffff"/>
<path d="M141.8 315.2l-1.4-1.4-2.2 .8 1.4 1.3" fill="#ffffff"/>
<path d="M121.1 315.2l-1.4-1.3-2.2 .8 1.3 1.3" fill="#ffffff"/>
<path d="M100.3 315.3l-1.2-1.4-2.3 .8 1.2 1.3" fill="#ffffff"/>
<path d="M156.8 315.3l-1.5-1.3-2.1 .8 1.5 1.3" fill="#fefffe"/>
<path d="M136.1 315.4l-1.4-1.4-2.2 .8 1.4 1.3" fill="#ffffff"/>
<path d="M115.3 315.4l-1.3-1.3-2.2 .8 1.3 1.3" fill="#ffffff"/>
<path d="M94.6 315.5l-1.2-1.3-2.3 .7 1.2 1.3" fill="#ffffff"/>
<path d="M151.1 315.5l-1.5-1.3-2.1 .8 1.4 1.3" fill="#ffffff"/>
<path d="M130.3 315.6l-1.3-1.4-2.2 .8 1.3 1.3" fill="#ffffff"/>
<path d="M109.6 315.6l-1.3-1.3-2.2 .8 1.2 1.3" fill="#ffffff"/>
<path d="M88.8 315.7l-1.2-1.3-2.3 .7 1.2 1.4" fill="#ffffff"/>
<path d="M145.4 315.7l-1.5-1.3-2.1 .8 1.4 1.3" fill="#ffffff"/>
<path d="M124.6 315.8l-1.3-1.4-2.2 .8 1.3 1.3" fill="#ffffff"/>
<path d="M103.8 315.8l-1.2-1.3-2.3 .8 1.2 1.3" fill="#ffffff"/>
<path d="M160.4 315.9l-1.5-1.3-2.1 .7 1.5 1.3" fill="#ffffff"/>
<path d="M83 315.9l-1.1-1.4-2.3 .8 1.1 1.4" fill="#ffffff"/>
<path d="M139.6 315.9l-1.4-1.3-2.1 .8 1.3 1.3" fill="#ffffff"/>
<path d="M118.8 316l-1.3-1.3-2.2 .7 1.3 1.4" fill="#ffffff"/>
<path d="M98 316l-1.2-1.3-2.2 .8 1.2 1.3" fill="#ffffff"/>
<path d="M154.7 316.1l-1.5-1.3-2.1 .7 1.4 1.4" fill="#fefffe"/>
<path d="M133.9 316.1l-1.4-1.3-2.2 .8 1.4 1.3" fill="#ffffff"/>
<path d="M113.1 316.2l-1.3-1.3-2.2 .7 1.2 1.4" fill="#ffffff"/>
<path d="M92.3 316.2l-1.2-1.3-2.3 .8 1.2 1.3" fill="#ffffff"/>
<path d="M148.9 316.3l-1.4-1.3-2.1 .7 1.4 1.4" fill="#ffffff"/>
<path d="M128.1 316.3l-1.3-1.3-2.2 .8 1.3 1.3" fill="#ffffff"/>
<path d="M107.3 316.4l-1.2-1.3-2.3 .7 1.2 1.4" fill="#ffffff"/>
<path d="M86.5 316.5l-1.2-1.4-2.3 .8 1.2 1.3" fill="#ffffff"/>
<path d="M143.2 316.5l-1.4-1.3-2.2 .7 1.4 1.4" fill="#ffffff"/>
<path d="M122.4 316.5l-1.3-1.3-2.3 .8 1.3 1.3" fill="#ffffff"/>
<path d="M101.5 316.6l-1.2-1.3-2.3 .7 1.3 1.4" fill="#ffffff"/>
<path d="M158.3 316.6l-1.5-1.3-2.1 .8 1.4 1.3" fill="#ffffff"/>
<path d="M137.4 316.7l-1.3-1.3-2.2 .7 1.4 1.4" fill="#ffffff"/>
<path d="M116.6 316.8l-1.3-1.4-2.2 .8 1.3 1.3" fill="#ffffff"/>
<path d="M95.8 316.8l-1.2-1.3-2.3 .7 1.2 1.4" fill="#ffffff"/>
<path d="M152.5 316.9l-1.4-1.4-2.2 .8 1.5 1.3" fill="#ffffff"/>
<path d="M131.7 316.9l-1.4-1.3-2.2 .7 1.4 1.4" fill="#ffffff"/>
<path d="M110.8 317l-1.2-1.4-2.3 .8 1.3 1.3" fill="#ffffff"/>
<path d="M90 317l-1.2-1.3-2.3 .8 1.2 1.3" fill="#ffffff"/>
<path d="M146.8 317.1l-1.4-1.4-2.2 .8 1.4 1.4" fill="#ffffff"/>
<path d="M125.9 317.1l-1.3-1.3-2.2 .7 1.3 1.4" fill="#ffffff"/>
<path d="M105 317.2l-1.2-1.4-2.3 .8 1.3 1.3" fill="#ffffff"/>
<path d="M84.2 317.2l-1.2-1.3-2.3 .8 1.1 1.3" fill="#ffffff"/>
<path d="M141 317.3l-1.4-1.4-2.2 .8 1.4 1.4" fill="#ffffff"/>
<path d="M120.1 317.3l-1.3-1.3-2.2 .8 1.3 1.3" fill="#ffffff"/>
<path d="M99.3 317.4l-1.3-1.4-2.2 .8 1.2 1.4" fill="#ffffff"/>
<path d="M156.1 317.4l-1.4-1.3-2.2 .8 1.5 1.3" fill="#ffffff"/>
<path d="M135.3 317.5l-1.4-1.4-2.2 .8 1.4 1.4" fill="#ffffff"/>
<path d="M114.4 317.5l-1.3-1.3-2.3 .8 1.3 1.3" fill="#ffffff"/>
<path d="M93.5 317.6l-1.2-1.4-2.3 .8 1.2 1.4" fill="#ffffff"/>
<path d="M150.4 317.6l-1.5-1.3-2.1 .8 1.4 1.3" fill="#ffffff"/>
<path d="M129.5 317.7l-1.4-1.4-2.2 .8 1.4 1.4" fill="#ffffff"/>
<path d="M108.6 317.7l-1.3-1.3-2.3 .8 1.3 1.3" fill="#ffffff"/>
<path d="M87.7 317.8l-1.2-1.3-2.3 .7 1.1 1.4" fill="#ffffff"/>
<path d="M144.6 317.9l-1.4-1.4-2.2 .8 1.4 1.3" fill="#ffffff"/>
<path d="M123.7 317.9l-1.3-1.4-2.3 .8 1.4 1.4" fill="#ffffff"/>
<path d="M102.8 317.9l-1.3-1.3-2.2 .8 1.2 1.3" fill="#ffffff"/>
<path d="M138.8 318.1l-1.4-1.4-2.1 .8 1.3 1.3" fill="#ffffff"/>
<path d="M117.9 318.1l-1.3-1.3-2.2 .7 1.3 1.4" fill="#ffffff"/>
<path d="M97 318.2l-1.2-1.4-2.3 .8 1.2 1.3" fill="#ffffff"/>
<path d="M154 318.2l-1.5-1.3-2.1 .7 1.4 1.4" fill="#ffffff"/>
<path d="M133.1 318.3l-1.4-1.4-2.2 .8 1.3 1.3" fill="#ffffff"/>
<path d="M112.1 318.3l-1.3-1.3-2.2 .7 1.2 1.4" fill="#ffffff"/>
<path d="M91.2 318.4l-1.2-1.4-2.3 .8 1.1 1.4" fill="#ffffff"/>
<path d="M148.2 318.4l-1.4-1.3-2.2 .8 1.4 1.3" fill="#ffffff"/>
<path d="M127.3 318.5l-1.4-1.4-2.2 .8 1.3 1.3" fill="#ffffff"/>
<path d="M106.3 318.5l-1.3-1.3-2.2 .7 1.2 1.4" fill="#ffffff"/>
<path d="M85.3 318.6l-1.1-1.4-2.4 .8 1.2 1.4" fill="#ffffff"/>
<path d="M142.4 318.6l-1.4-1.3-2.2 .8 1.4 1.3" fill="#ffffff"/>
<path d="M121.5 318.7l-1.4-1.4-2.2 .8 1.3 1.4" fill="#ffffff"/>
<path d="M100.5 318.7l-1.2-1.3-2.3 .8 1.2 1.3" fill="#ffffff"/>
<path d="M136.6 318.8l-1.3-1.3-2.2 .8 1.3 1.3" fill="#ffffff"/>
<path d="M115.7 318.9l-1.3-1.4-2.3 .8 1.3 1.4" fill="#ffffff"/>
<path d="M94.7 318.9l-1.2-1.3-2.3 .8 1.2 1.3" fill="#ffffff"/>
<path d="M151.8 319l-1.4-1.4-2.2 .8 1.5 1.4" fill="#ffffff"/>
<path d="M130.8 319l-1.3-1.3-2.2 .8 1.3 1.3" fill="#ffffff"/>
<path d="M109.8 319.1l-1.2-1.4-2.3 .8 1.3 1.4" fill="#ffffff"/>
<path d="M88.8 319.2l-1.1-1.4-2.4 .8 1.2 1.3" fill="#ffffff"/>
<path d="M146 319.2l-1.4-1.3-2.2 .7 1.4 1.4" fill="#ffffff"/>
<path d="M125 319.2l-1.3-1.3-2.2 .8 1.3 1.3" fill="#ffffff"/>
<path d="M104 319.3l-1.2-1.4-2.3 .8 1.2 1.4" fill="#ffffff"/>
<path d="M140.2 319.4l-1.4-1.3-2.2 .7 1.4 1.4" fill="#ffffff"/>
<path d="M119.2 319.5l-1.3-1.4-2.2 .8 1.3 1.4" fill="#ffffff"/>
<path d="M98.2 319.5l-1.2-1.3-2.3 .7 1.2 1.4" fill="#ffffff"/>
<path d="M134.4 319.6l-1.3-1.3-2.3 .7 1.4 1.4" fill="#ffffff"/>
<path d="M113.4 319.7l-1.3-1.4-2.3 .8 1.3 1.4" fill="#ffffff"/>
<path d="M92.4 319.7l-1.2-1.3-2.4 .8 1.2 1.3" fill="#ffffff"/>
<path d="M149.7 319.8l-1.5-1.4-2.2 .8 1.5 1.4" fill="#ffffff"/>
<path d="M128.6 319.8l-1.3-1.3-2.3 .7 1.4 1.4" fill="#ffffff"/>
<path d="M107.6 319.9l-1.3-1.4-2.3 .8 1.3 1.4" fill="#ffffff"/>
<path d="M86.5 319.9l-1.2-1.3-2.3 .8 1.2 1.3" fill="#ffffff"/>
<path d="M143.8 320l-1.4-1.4-2.2 .8 1.5 1.4" fill="#ffffff"/>
<path d="M122.8 320l-1.3-1.3-2.3 .8 1.3 1.3" fill="#ffffff"/>
<path d="M101.7 320.1l-1.2-1.4-2.3 .8 1.2 1.4" fill="#ffffff"/>
<path d="M138 320.2l-1.4-1.4-2.2 .8 1.4 1.4" fill="#ffffff"/>
<path d="M117 320.3l-1.3-1.4-2.3 .8 1.3 1.3" fill="#ffffff"/>
<path d="M95.9 320.3l-1.2-1.4-2.3 .8 1.2 1.4" fill="#ffffff"/>
<path d="M132.2 320.4l-1.4-1.4-2.2 .8 1.4 1.4" fill="#ffffff"/>
<path d="M111.1 320.5l-1.3-1.4-2.2 .8 1.3 1.4" fill="#ffffff"/>
<path d="M90 320.5l-1.2-1.3-2.3 .7 1.2 1.4" fill="#ffffff"/>
<path d="M147.5 320.6l-1.5-1.4-2.2 .8 1.5 1.4" fill="#ffffff"/>
<path d="M126.4 320.6l-1.4-1.4-2.2 .8 1.3 1.4" fill="#ffffff"/>
<path d="M105.3 320.7l-1.3-1.4-2.3 .8 1.3 1.4" fill="#ffffff"/>
<path d="M141.7 320.8l-1.5-1.4-2.2 .8 1.4 1.4" fill="#ffffff"/>
<path d="M120.5 320.8l-1.3-1.3-2.2 .8 1.3 1.3" fill="#ffffff"/>
<path d="M99.4 320.9l-1.2-1.4-2.3 .8 1.2 1.4" fill="#ffffff"/>
<path d="M135.8 321l-1.4-1.4-2.2 .8 1.4 1.4" fill="#ffffff"/>
<path d="M114.7 321l-1.3-1.3-2.3 .8 1.3 1.3" fill="#ffffff"/>
<path d="M93.6 321.1l-1.2-1.4-2.4 .8 1.2 1.4" fill="#ffffff"/>
<path d="M130 321.2l-1.4-1.4-2.2 .8 1.3 1.4" fill="#ffffff"/>
<path d="M108.9 321.3l-1.3-1.4-2.3 .8 1.3 1.4" fill="#ffffff"/>
<path d="M87.7 321.3l-1.2-1.4-2.3 .8 1.2 1.4" fill="#ffffff"/>
<path d="M145.3 321.4l-1.5-1.4-2.1 .8 1.4 1.4" fill="#ffffff"/>
<path d="M124.1 321.4l-1.3-1.4-2.3 .8 1.4 1.4" fill="#ffffff"/>
<path d="M103 321.5l-1.3-1.4-2.3 .8 1.3 1.4" fill="#ffffff"/>
<path d="M139.4 321.6l-1.4-1.4-2.2 .8 1.4 1.4" fill="#ffffff"/>
<path d="M118.3 321.6l-1.3-1.3-2.3 .7 1.3 1.4" fill="#ffffff"/>
<path d="M97.1 321.7l-1.2-1.4-2.3 .8 1.2 1.4" fill="#ffffff"/>
<path d="M133.6 321.8l-1.4-1.4-2.2 .8 1.4 1.4" fill="#ffffff"/>
<path d="M112.4 321.8l-1.3-1.3-2.2 .8 1.2 1.3" fill="#ffffff"/>
<path d="M91.2 321.9l-1.2-1.4-2.3 .8 1.2 1.4" fill="#ffffff"/>
<path d="M127.7 322l-1.3-1.4-2.3 .8 1.4 1.4" fill="#ffffff"/>
<path d="M106.6 322.1l-1.3-1.4-2.3 .8 1.3 1.4" fill="#ffffff"/>
<path d="M143.1 322.2l-1.4-1.4-2.3 .8 1.5 1.4" fill="#ffffff"/>
<path d="M121.9 322.2l-1.4-1.4-2.2 .8 1.3 1.4" fill="#ffffff"/>
<path d="M100.7 322.3l-1.3-1.4-2.3 .8 1.3 1.4" fill="#ffffff"/>
<path d="M137.2 322.4l-1.4-1.4-2.2 .8 1.4 1.4" fill="#ffffff"/>
<path d="M116 322.4l-1.3-1.4-2.3 .8 1.3 1.4" fill="#ffffff"/>
<path d="M94.8 322.5l-1.2-1.4-2.4 .8 1.3 1.4" fill="#ffffff"/>
<path d="M131.4 322.6l-1.4-1.4-2.3 .8 1.4 1.4" fill="#ffffff"/>
<path d="M110.1 322.6l-1.2-1.3-2.3 .8 1.2 1.4" fill="#ffffff"/>
<path d="M88.9 322.7l-1.2-1.4-2.3 .8 1.2 1.4" fill="#ffffff"/>
<path d="M125.5 322.8l-1.4-1.4-2.2 .8 1.3 1.4" fill="#ffffff"/>
<path d="M104.3 322.9l-1.3-1.4-2.3 .8 1.2 1.4" fill="#ffffff"/>
<path d="M140.9 323l-1.5-1.4-2.2 .8 1.4 1.4" fill="#ffffff"/>
<path d="M119.6 323l-1.3-1.4-2.3 .8 1.3 1.4" fill="#ffffff"/>
<path d="M98.4 323.1l-1.3-1.4-2.3 .8 1.2 1.4" fill="#ffffff"/>
<path d="M135 323.2l-1.4-1.4-2.2 .8 1.4 1.4" fill="#ffffff"/>
<path d="M113.7 323.2l-1.3-1.4-2.3 .8 1.3 1.4" fill="#ffffff"/>
<path d="M92.5 323.3l-1.3-1.4-2.3 .8 1.2 1.4" fill="#ffffff"/>
<path d="M129.1 323.4l-1.4-1.4-2.2 .8 1.4 1.4" fill="#ffffff"/>
<path d="M107.8 323.5l-1.2-1.4-2.3 .8 1.2 1.4" fill="#ffffff"/>
<path d="M123.2 323.6l-1.3-1.4-2.3 .8 1.4 1.4" fill="#ffffff"/>
<path d="M101.9 323.7l-1.2-1.4-2.3 .8 1.2 1.4" fill="#ffffff"/>
<path d="M138.6 323.8l-1.4-1.4-2.2 .8 1.4 1.4" fill="#ffffff"/>
<path d="M117.3 323.8l-1.3-1.4-2.3 .8 1.4 1.4" fill="#ffffff"/>
<path d="M96 323.9l-1.2-1.4-2.3 .8 1.2 1.4" fill="#ffffff"/>
<path d="M132.8 324l-1.4-1.4-2.3 .8 1.4 1.4" fill="#ffffff"/>
<path d="M111.4 324l-1.3-1.4-2.3 .9 1.3 1.4" fill="#ffffff"/>
<path d="M90.1 324.1l-1.2-1.4-2.3 .8 1.2 1.4" fill="#ffffff"/>
<path d="M126.9 324.2l-1.4-1.4-2.3 .8 1.4 1.4" fill="#ffffff"/>
<path d="M105.5 324.3l-1.2-1.4-2.4 .8 1.3 1.4" fill="#ffffff"/>
<path d="M121 324.4l-1.4-1.4-2.3 .8 1.4 1.4" fill="#ffffff"/>
<path d="M99.6 324.5l-1.2-1.4-2.4 .8 1.3 1.4" fill="#ffffff"/>
<path d="M136.4 324.6l-1.4-1.4-2.2 .8 1.4 1.4" fill="#ffffff"/>
<path d="M115.1 324.6l-1.4-1.4-2.3 .8 1.4 1.4" fill="#ffffff"/>
<path d="M93.7 324.7l-1.2-1.4-2.4 .8 1.2 1.4" fill="#ffffff"/>
<path d="M130.5 324.8l-1.4-1.4-2.2 .8 1.3 1.4" fill="#ffffff"/>
<path d="M109.1 324.9l-1.3-1.4-2.3 .8 1.3 1.4" fill="#ffffff"/>
<path d="M124.6 325l-1.4-1.4-2.2 .8 1.3 1.4" fill="#ffffff"/>
<path d="M103.2 325.1l-1.3-1.4-2.3 .8 1.3 1.4" fill="#ffffff"/>
<path d="M118.7 325.2l-1.4-1.4-2.2 .8 1.3 1.4" fill="#ffffff"/>
<path d="M97.3 325.3l-1.3-1.4-2.3 .8 1.2 1.4" fill="#ffffff"/>
<path d="M134.2 325.4l-1.4-1.4-2.3 .8 1.4 1.4" fill="#ffffff"/>
<path d="M112.8 325.4l-1.4-1.4-2.3 .9 1.3 1.4" fill="#ffffff"/>
<path d="M91.3 325.5l-1.2-1.4-2.3 .8 1.2 1.4" fill="#ffffff"/>
<path d="M128.2 325.6l-1.3-1.4-2.3 .8 1.4 1.4" fill="#ffffff"/>
<path d="M106.8 325.7l-1.3-1.4-2.3 .8 1.3 1.4" fill="#ffffff"/>
<path d="M122.3 325.8l-1.3-1.4-2.3 .8 1.3 1.4" fill="#ffffff"/>
<path d="M100.9 325.9l-1.3-1.4-2.3 .8 1.2 1.4" fill="#ffffff"/>
<path d="M116.4 326l-1.3-1.4-2.3 .8 1.3 1.5" fill="#ffffff"/>
<path d="M94.9 326.1l-1.2-1.4-2.4 .8 1.3 1.4" fill="#ffffff"/>
<path d="M131.9 326.2l-1.4-1.4-2.3 .8 1.4 1.4" fill="#ffffff"/>
<path d="M110.4 326.3l-1.3-1.4-2.3 .8 1.3 1.4" fill="#ffffff"/>
<path d="M126 326.4l-1.4-1.4-2.3 .8 1.4 1.5" fill="#ffffff"/>
<path d="M104.5 326.5l-1.3-1.4-2.3 .8 1.2 1.4" fill="#ffffff"/>
<path d="M120 326.6l-1.3-1.4-2.3 .8 1.3 1.5" fill="#ffffff"/>
<path d="M98.5 326.7l-1.2-1.4-2.4 .8 1.3 1.4" fill="#ffffff"/>
<path d="M114.1 326.9l-1.3-1.5-2.4 .9 1.4 1.4" fill="#ffffff"/>
<path d="M92.6 326.9l-1.3-1.4-2.3 .8 1.2 1.5" fill="#ffffff"/>
<path d="M129.6 327l-1.4-1.4-2.2 .8 1.4 1.5" fill="#ffffff"/>
<path d="M108.1 327.1l-1.3-1.4-2.3 .8 1.3 1.4" fill="#ffffff"/>
<path d="M123.7 327.3l-1.4-1.5-2.3 .8 1.4 1.5" fill="#ffffff"/>
<path d="M102.1 327.3l-1.2-1.4-2.4 .8 1.3 1.4" fill="#ffffff"/>
<path d="M117.7 327.5l-1.3-1.5-2.3 .9 1.3 1.4" fill="#ffffff"/>
<path d="M96.2 327.5l-1.3-1.4-2.3 .8 1.2 1.5" fill="#ffffff"/>
<path d="M111.8 327.7l-1.4-1.4-2.3 .8 1.3 1.4" fill="#ffffff"/>
<path d="M127.4 327.9l-1.4-1.5-2.3 .9 1.4 1.4" fill="#ffffff"/>
<path d="M105.8 327.9l-1.3-1.4-2.4 .8 1.3 1.4" fill="#ffffff"/>
<path d="M121.4 328.1l-1.4-1.5-2.3 .9 1.4 1.4" fill="#ffffff"/>
<path d="M99.8 328.1l-1.3-1.4-2.3 .8 1.2 1.5" fill="#ffffff"/>
<path d="M115.4 328.3l-1.3-1.4-2.3 .8 1.3 1.4" fill="#ffffff"/>
<path d="M93.8 328.4l-1.2-1.5-2.4 .9 1.2 1.4" fill="#ffffff"/>
<path d="M109.4 328.5l-1.3-1.4-2.3 .8 1.3 1.5" fill="#ffffff"/>
<path d="M125.1 328.7l-1.4-1.4-2.3 .8 1.4 1.4" fill="#ffffff"/>
<path d="M103.4 328.7l-1.3-1.4-2.3 .8 1.3 1.5" fill="#ffffff"/>
<path d="M119.1 328.9l-1.4-1.4-2.3 .8 1.4 1.4" fill="#ffffff"/>
<path d="M97.4 329l-1.2-1.5-2.4 .9 1.3 1.4" fill="#ffffff"/>
<path d="M113.1 329.1l-1.3-1.4-2.4 .8 1.3 1.5" fill="#ffffff"/>
<path d="M107.1 329.4l-1.3-1.5-2.4 .8 1.3 1.5" fill="#ffffff"/>
<path d="M122.8 329.5l-1.4-1.4-2.3 .8 1.3 1.5" fill="#ffffff"/>
<path d="M101.1 329.6l-1.3-1.5-2.4 .9 1.3 1.4" fill="#ffffff"/>
<path d="M116.8 329.7l-1.4-1.4-2.3 .8 1.3 1.5" fill="#ffffff"/>
<path d="M95.1 329.8l-1.3-1.4-2.4 .8 1.3 1.4" fill="#ffffff"/>
<path d="M110.7 330l-1.3-1.5-2.3 .9 1.3 1.4" fill="#ffffff"/>
<path d="M104.7 330.2l-1.3-1.5-2.3 .9 1.3 1.4" fill="#ffffff"/>
<path d="M120.4 330.4l-1.3-1.5-2.3 .8 1.3 1.5" fill="#ffffff"/>
<path d="M98.7 330.4l-1.3-1.4-2.3 .8 1.2 1.5" fill="#ffffff"/>
<path d="M114.4 330.6l-1.3-1.5-2.4 .9 1.4 1.4" fill="#ffffff"/>
<path d="M108.4 330.8l-1.3-1.4-2.4 .8 1.3 1.5" fill="#ffffff"/>
<path d="M102.4 331l-1.3-1.4-2.4 .8 1.3 1.5" fill="#ffffff"/>
<path d="M118.1 331.2l-1.3-1.5-2.4 .9 1.4 1.5" fill="#ffffff"/>
<path d="M96.3 331.3l-1.2-1.5-2.4 .8 1.2 1.5" fill="#ffffff"/>
<path d="M112.1 331.4l-1.4-1.4-2.3 .8 1.3 1.5" fill="#ffffff"/>
<path d="M106 331.7l-1.3-1.5-2.3 .8 1.3 1.5" fill="#ffffff"/>
<path d="M100 331.9l-1.3-1.5-2.4 .9 1.3 1.4" fill="#ffffff"/>
<path d="M115.8 332.1l-1.4-1.5-2.3 .8 1.3 1.5" fill="#ffffff"/>
<path d="M109.7 332.3l-1.3-1.5-2.4 .9 1.4 1.4" fill="#ffffff"/>
<path d="M103.7 332.5l-1.3-1.5-2.4 .9 1.3 1.5" fill="#ffffff"/>
<path d="M97.6 332.7l-1.3-1.4-2.4 .8 1.3 1.5" fill="#ffffff"/>
<path d="M113.4 332.9l-1.3-1.5-2.4 .9 1.4 1.5" fill="#ffffff"/>
<path d="M107.4 333.1l-1.4-1.4-2.3 .8 1.3 1.5" fill="#ffffff"/>
<path d="M101.3 333.4l-1.3-1.5-2.4 .8 1.3 1.5" fill="#ffffff"/>
<path d="M111.1 333.8l-1.4-1.5-2.3 .8 1.3 1.5" fill="#ffffff"/>
<path d="M105 334l-1.3-1.5-2.4 .9 1.3 1.5" fill="#ffffff"/>
<path d="M98.9 334.2l-1.3-1.5-2.4 .9 1.3 1.5" fill="#ffffff"/>
<path d="M108.7 334.6l-1.3-1.5-2.4 .9 1.3 1.5" fill="#ffffff"/>
<path d="M102.6 334.9l-1.3-1.5-2.4 .8 1.3 1.5" fill="#ffffff"/>
<path d="M106.3 335.5l-1.3-1.5-2.4 .9 1.3 1.5" fill="#ffffff"/>
<path d="M100.2 335.7l-1.3-1.5-2.4 .9 1.3 1.5" fill="#ffffff"/>
<path d="M103.9 336.4l-1.3-1.5-2.4 .8 1.3 1.5" fill="#ffffff"/>
<path d="M101.5 337.2l-1.3-1.5-2.4 .9 1.3 1.5" fill="#ffffff"/>
</g>
<line x1="59.69" y1="261.69" x2="98.05" y2="301.85" stroke="#333" stroke-width="0.8"/>
<line x1="98.05" y1="301.85" x2="174.06" y2="277.28" stroke="#333" stroke-width="0.8"/>
<line x1="98.05" y1="301.85" x2="99.95" y2="370.38" stroke="#333" stroke-width="0.8"/>
<line x1="59.69" y1="261.69" x2="65.08" y2="325.88" stroke="#3a3a3a" stroke-width="0.85"/>
<line x1="174.06" y1="277.28" x2="168.03" y2="343.31" stroke="#3a3a3a" stroke-width="0.85"/>
<line x1="65.08" y1="325.88" x2="99.95" y2="370.38" stroke="#3a3a3a" stroke-width="0.85"/>
<line x1="99.95" y1="370.38" x2="168.03" y2="343.31" stroke="#3a3a3a" stroke-width="0.85"/>
<line x1="56.62" y1="265.61" x2="60.02" y2="265.61" stroke="#3a3a3a" stroke-width="0.7"/>
<text transform="translate(54.62 267.51) scale(1 0.8)" font-size="9" text-anchor="end" stroke="#222" stroke-width="0.12">80</text>
<line x1="57.27" y1="273.33" x2="60.67" y2="273.33" stroke="#3a3a3a" stroke-width="0.7"/>
<text transform="translate(55.27 275.23) scale(1 0.8)" font-size="9" text-anchor="end" stroke="#222" stroke-width="0.12">60</text>
<line x1="57.9" y1="280.86" x2="61.3" y2="280.86" stroke="#3a3a3a" stroke-width="0.7"/>
<text transform="translate(55.9 282.76) scale(1 0.8)" font-size="9" text-anchor="end" stroke="#222" stroke-width="0.12">40</text>
<line x1="58.52" y1="288.23" x2="61.92" y2="288.23" stroke="#3a3a3a" stroke-width="0.7"/>
<text transform="translate(56.52 290.13) scale(1 0.8)" font-size="9" text-anchor="end" stroke="#222" stroke-width="0.12">20</text>
<line x1="59.12" y1="295.42" x2="62.52" y2="295.42" stroke="#3a3a3a" stroke-width="0.7"/>
<text transform="translate(57.12 297.32) scale(1 0.8)" font-size="9" text-anchor="end" stroke="#222" stroke-width="0.12">0</text>
<line x1="59.71" y1="302.46" x2="63.11" y2="302.46" stroke="#3a3a3a" stroke-width="0.7"/>
<text transform="translate(57.71 304.36) scale(1 0.8)" font-size="9" text-anchor="end" stroke="#222" stroke-width="0.12">−20</text>
<line x1="60.29" y1="309.33" x2="63.69" y2="309.33" stroke="#3a3a3a" stroke-width="0.7"/>
<text transform="translate(58.29 311.23) scale(1 0.8)" font-size="9" text-anchor="end" stroke="#222" stroke-width="0.12">−40</text>
<line x1="60.86" y1="316.06" x2="64.26" y2="316.06" stroke="#3a3a3a" stroke-width="0.7"/>
<text transform="translate(58.86 317.96) scale(1 0.8)" font-size="9" text-anchor="end" stroke="#222" stroke-width="0.12">−60</text>
<line x1="61.41" y1="322.64" x2="64.81" y2="322.64" stroke="#3a3a3a" stroke-width="0.7"/>
<text transform="translate(59.41 324.54) scale(1 0.8)" font-size="9" text-anchor="end" stroke="#222" stroke-width="0.12">−80</text>
<text transform="translate(38.92 298.92) rotate(-90) scale(1 0.88)" font-size="10" text-anchor="middle" font-weight="bold" textLength="28.5" lengthAdjust="spacingAndGlyphs">δ − score</text>
<line x1="94.4" y1="363.29" x2="92.8" y2="365.49" stroke="#3a3a3a" stroke-width="0.7"/>
<text transform="translate(94.1 371.89) rotate(-40) scale(1 0.8)" font-size="9" text-anchor="end" stroke="#222" stroke-width="0.12">0.1</text>
<line x1="89.05" y1="356.47" x2="87.45" y2="358.67" stroke="#3a3a3a" stroke-width="0.7"/>
<text transform="translate(88.75 365.07) rotate(-40) scale(1 0.8)" font-size="9" text-anchor="end" stroke="#222" stroke-width="0.12">1</text>
<line x1="83.9" y1="349.9" x2="82.3" y2="352.1" stroke="#3a3a3a" stroke-width="0.7"/>
<text transform="translate(83.6 358.5) rotate(-40) scale(1 0.8)" font-size="9" text-anchor="end" stroke="#222" stroke-width="0.12">2.5</text>
<line x1="78.94" y1="343.57" x2="77.34" y2="345.77" stroke="#3a3a3a" stroke-width="0.7"/>
<text transform="translate(78.64 352.17) rotate(-40) scale(1 0.8)" font-size="9" text-anchor="end" stroke="#222" stroke-width="0.12">5</text>
<line x1="74.16" y1="337.46" x2="72.56" y2="339.66" stroke="#3a3a3a" stroke-width="0.7"/>
<text transform="translate(73.86 346.06) rotate(-40) scale(1 0.8)" font-size="9" text-anchor="end" stroke="#222" stroke-width="0.12">10</text>
<line x1="69.54" y1="331.57" x2="67.94" y2="333.77" stroke="#3a3a3a" stroke-width="0.7"/>
<text transform="translate(69.24 340.17) rotate(-40) scale(1 0.8)" font-size="9" text-anchor="end" stroke="#222" stroke-width="0.12">100</text>
<line x1="65.08" y1="325.88" x2="63.48" y2="328.08" stroke="#3a3a3a" stroke-width="0.7"/>
<text transform="translate(64.78 334.48) rotate(-40) scale(1 0.8)" font-size="9" text-anchor="end" stroke="#222" stroke-width="0.12">500</text>
<line x1="110.33" y1="366.25" x2="110.83" y2="368.85" stroke="#3a3a3a" stroke-width="0.7"/>
<text transform="translate(114.13 372.05) rotate(-80) scale(1 0.8)" font-size="9" text-anchor="end" stroke="#222" stroke-width="0.12">0.1</text>
<line x1="120.47" y1="362.22" x2="120.97" y2="364.82" stroke="#3a3a3a" stroke-width="0.7"/>
<text transform="translate(124.27 368.02) rotate(-80) scale(1 0.8)" font-size="9" text-anchor="end" stroke="#222" stroke-width="0.12">1</text>
<line x1="130.4" y1="358.27" x2="130.9" y2="360.87" stroke="#3a3a3a" stroke-width="0.7"/>
<text transform="translate(134.2 364.07) rotate(-80) scale(1 0.8)" font-size="9" text-anchor="end" stroke="#222" stroke-width="0.12">2.5</text>
<line x1="140.11" y1="354.41" x2="140.61" y2="357.01" stroke="#3a3a3a" stroke-width="0.7"/>
<text transform="translate(143.91 360.21) rotate(-80) scale(1 0.8)" font-size="9" text-anchor="end" stroke="#222" stroke-width="0.12">5</text>
<line x1="149.62" y1="350.63" x2="150.12" y2="353.23" stroke="#3a3a3a" stroke-width="0.7"/>
<text transform="translate(153.42 356.43) rotate(-80) scale(1 0.8)" font-size="9" text-anchor="end" stroke="#222" stroke-width="0.12">10</text>
<line x1="158.92" y1="346.93" x2="159.42" y2="349.53" stroke="#3a3a3a" stroke-width="0.7"/>
<text transform="translate(162.72 352.73) rotate(-80) scale(1 0.8)" font-size="9" text-anchor="end" stroke="#222" stroke-width="0.12">100</text>
<line x1="168.03" y1="343.31" x2="168.53" y2="345.91" stroke="#3a3a3a" stroke-width="0.7"/>
<text transform="translate(171.83 349.11) rotate(-80) scale(1 0.8)" font-size="9" text-anchor="end" stroke="#222" stroke-width="0.12">500</text>
<text transform="translate(54.4 365.9) rotate(50) scale(1 0.88)" font-size="10.5" text-anchor="middle" font-weight="bold" textLength="48.5" lengthAdjust="spacingAndGlyphs">AZD5991 (nM)</text>
<text transform="translate(151.78 383.33) rotate(-24) scale(1 0.88)" font-size="10.5" text-anchor="middle" font-weight="bold" textLength="48.5" lengthAdjust="spacingAndGlyphs">AZD4320 (nM)</text>
<text transform="translate(275.5 212) scale(1 0.88)" font-size="10.3" text-anchor="middle" stroke="#222" stroke-width="0.12">Bliss synergy score: 12.13</text>
<rect x="202.1" y="229.4" width="148" height="2.2" fill="url(#gwr)"/>
<text transform="translate(210.32 225.3)" font-size="8.4" text-anchor="middle" stroke="#222" stroke-width="0.12">−80</text>
<text transform="translate(226.77 225.3)" font-size="8.4" text-anchor="middle" stroke="#222" stroke-width="0.12">−60</text>
<text transform="translate(243.21 225.3)" font-size="8.4" text-anchor="middle" stroke="#222" stroke-width="0.12">−40</text>
<text transform="translate(259.66 225.3)" font-size="8.4" text-anchor="middle" stroke="#222" stroke-width="0.12">−20</text>
<text transform="translate(276.1 225.3)" font-size="8.4" text-anchor="middle" stroke="#222" stroke-width="0.12">0</text>
<text transform="translate(292.54 225.3)" font-size="8.4" text-anchor="middle" stroke="#222" stroke-width="0.12">20</text>
<text transform="translate(308.99 225.3)" font-size="8.4" text-anchor="middle" stroke="#222" stroke-width="0.12">40</text>
<text transform="translate(325.43 225.3)" font-size="8.4" text-anchor="middle" stroke="#222" stroke-width="0.12">60</text>
<text transform="translate(341.88 225.3)" font-size="8.4" text-anchor="middle" stroke="#222" stroke-width="0.12">80</text>
<line x1="223.28" y1="328.06" x2="286.94" y2="306.6" stroke="#3a3a3a" stroke-width="0.85" stroke-dasharray="1 1.3"/>
<line x1="286.94" y1="306.6" x2="327.81" y2="345.76" stroke="#3a3a3a" stroke-width="0.85" stroke-dasharray="1 1.3"/>
<line x1="286.94" y1="306.6" x2="288.21" y2="243.93" stroke="#3a3a3a" stroke-width="0.85" stroke-dasharray="1 1.3"/>
<line x1="217.8" y1="262.88" x2="288.21" y2="243.93" stroke="#3a3a3a" stroke-width="0.85"/>
<line x1="288.21" y1="243.93" x2="333.93" y2="278.72" stroke="#3a3a3a" stroke-width="0.85"/>
<g stroke="#000" stroke-width="0.85" stroke-opacity="0.66" stroke-linejoin="round" filter="url(#sb)">
<path d="M274.3 277.9l2.1-2.2-1.2-3.7-2.1 2.3z" fill="#f39ba1"/>
<path d="M272.3 279.7l2-1.8-1.2-3.6-2 1.8z" fill="#f5a6ac"/>
<path d="M275.5 281.2l2.1-2.1-1.2-3.4-2.1 2.2z" fill="#f6afb3"/>
<path d="M273.1 274.3l2.1-2.3-1.2-3.9-2.1 2.2z" fill="#f1868e"/>
<path d="M271.1 276.1l2-1.8-1.2-4-2 1.8z" fill="#f29198"/>
<path d="M273.5 282.8l2-1.6-1.2-3.3-2 1.8z" fill="#f7b9bd"/>
<path d="M276.4 275.7l2.1-2.6-1.2-3.7-2.1 2.6z" fill="#f28d94"/>
<path d="M277.6 279.1l2.1-2.4-1.2-3.6-2.1 2.6z" fill="#f4a1a7"/>
<path d="M270.2 281.1l2.1-1.4-1.2-3.6-2.1 1.5z" fill="#f6afb3"/>
<path d="M275.2 272l2.1-2.6-1.2-3.8-2.1 2.5z" fill="#ef7981"/>
<path d="M276.7 284.1l2.1-1.8-1.2-3.2-2.1 2.1z" fill="#f8c0c4"/>
<path d="M278.8 282.3l2.1-2.2-1.2-3.4-2.1 2.4z" fill="#f6b4b8"/>
<path d="M269 277.6l2.1-1.5-1.2-4-2.1 1.5z" fill="#f3999f"/>
<path d="M271.9 270.3l2.1-2.2-1.2-4.1-2.1 1.9z" fill="#ee7078"/>
<path d="M298.1 281.8l2.1-1.6-1.2-3.6-2.1 1.8z" fill="#f6b2b6"/>
<path d="M274 268.1l2.1-2.5-1.2-3.8-2.1 2.2z" fill="#ed656e"/>
<path d="M271.4 284.2l2.1-1.4-1.2-3.1-2.1 1.4z" fill="#f8c1c5"/>
<path d="M274.7 285.6l2-1.5-1.2-2.9-2 1.6z" fill="#f9cacd"/>
<path d="M277 259.5l2-2.4-1.2-2.3-2 1.7z" fill="#e83d49"/>
<path d="M281.1 254.5l-1.2-1.4-2.1 1.7 1.2 2.3" fill="#e7333f"/>
<path d="M269.9 272.1l2-1.8-1.2-4.4-2 1.6z" fill="#ef7981"/>
<path d="M279.7 276.7l2.1-2.7-1.2-3.8-2.1 2.9z" fill="#f29198"/>
<path d="M280.9 280.1l2.1-2.4-1.2-3.7-2.1 2.7z" fill="#f4a5aa"/>
<path d="M274.9 261.8l2.1-2.3-1.2-3-2.1 1.6z" fill="#e94752"/>
<path d="M283.2 251.9l-1.2-.7-2.1 1.9 1.2 1.4" fill="#e62935"/>
<path d="M278.5 273.1l2.1-2.9-1.2-3.7-2.1 2.9z" fill="#f07e85"/>
<path d="M280 285.1l2.1-1.9-1.2-3.1-2.1 2.2z" fill="#f8c5c8"/>
<path d="M296.9 278.4l2.1-1.8-1.2-4.5-2.1 2z" fill="#f39ba1"/>
<path d="M277.3 269.4l2.1-2.9-1.2-3.6-2.1 2.7z" fill="#ed6a73"/>
<path d="M285.3 249.4l-1.3 0-2 1.8 1.2 .7" fill="#e51e2b"/>
<path d="M276.1 265.6l2.1-2.7-1.2-3.4-2.1 2.3z" fill="#eb5862"/>
<path d="M282.1 283.2l2.1-2-1.2-3.5-2.1 2.4z" fill="#f7b8bc"/>
<path d="M296.1 283.4l2-1.6-1.2-3.4-2 1.8z" fill="#f7babe"/>
<path d="M272.8 264l2.1-2.2-1.2-3.7-2.1 1.6z" fill="#ea505a"/>
<path d="M299.4 284.5l2-1.3-1.2-3-2.1 1.6z" fill="#f8c3c7"/>
<path d="M268.1 282.4l2.1-1.3-1.2-3.5-2.1 1.4z" fill="#f6b5b9"/>
<path d="M287.4 246.9l-1.3 .5-2.1 2 1.3 0" fill="#e31321"/>
<path d="M294.9 280.2l2-1.8-1.2-4.3-2 2.1z" fill="#f4a5aa"/>
<path d="M289.5 244.9l-1.3 .6-2.1 1.9 1.3-.5" fill="#e20918"/>
<path d="M277.9 286.7l2.1-1.6-1.2-2.8-2.1 1.8z" fill="#f9d0d2"/>
<path d="M266.9 279l2.1-1.4-1.2-4-2.1 1.4z" fill="#f4a0a5"/>
<path d="M292.8 282l2.1-1.8-1.2-4-2.1 2.1z" fill="#f6b0b4"/>
<path d="M284.2 281.2l2-2.3-1.2-3.8-2 2.6z" fill="#f5aaaf"/>
<path d="M267.8 273.6l2.1-1.5-1.2-4.6-2.1 1.5z" fill="#f08188"/>
<path d="M283 277.7l2-2.6-1.2-4-2 2.9z" fill="#f3959c"/>
<path d="M270.7 265.9l2.1-1.9-1.2-4.3-2.1 1.4z" fill="#eb5862"/>
<path d="M285.4 284.3l2-1.9-1.2-3.5-2 2.3z" fill="#f7bec2"/>
<path d="M290.7 283.7l2.1-1.7-1.2-3.7-2.1 2.1z" fill="#f7babe"/>
<path d="M294 284.9l2.1-1.5-1.2-3.2-2.1 1.8z" fill="#f8c3c7"/>
<path d="M287.4 282.4l2.1-2-1.2-3.9-2.1 2.4z" fill="#f6b1b6"/>
<path d="M272.6 286.8l2.1-1.2-1.2-2.8-2.1 1.4z" fill="#fad1d4"/>
<path d="M283.3 286.1l2.1-1.8-1.2-3.1-2.1 2z" fill="#f9c9cd"/>
<path d="M278.2 262.9l2-2.9-1.2-2.9-2 2.4z" fill="#ea4a55"/>
<path d="M269.3 285.3l2.1-1.1-1.2-3.1-2.1 1.3z" fill="#f8c7ca"/>
<path d="M289.5 280.4l2.1-2.1-1.2-4.2-2.1 2.4z" fill="#f4a5aa"/>
<path d="M281.8 274l2-2.9-1.2-3.9-2 3z" fill="#f08088"/>
<path d="M288.7 285.4l2-1.7-1.2-3.3-2.1 2z" fill="#f8c5c8"/>
<path d="M286.2 278.9l2.1-2.4-1.2-4.1-2.1 2.7z" fill="#f39ba1"/>
<path d="M297.3 285.9l2.1-1.4-1.3-2.7-2 1.6z" fill="#f9cacd"/>
<path d="M275.9 288l2-1.3-1.2-2.6-2 1.5z" fill="#fad8da"/>
<path d="M291.6 278.3l2.1-2.1-1.2-4.5-2.1 2.4z" fill="#f3989e"/>
<path d="M281.2 287.6l2.1-1.5-1.2-2.9-2.1 1.9z" fill="#fad4d7"/>
<path d="M280.6 270.2l2-3-1.1-3.8-2.1 3.1z" fill="#ee6c75"/>
<path d="M279.4 266.5l2.1-3.1-1.3-3.4-2 2.9z" fill="#ec5a64"/>
<path d="M268.7 267.5l2-1.6-1.2-4.8-2.1 1.3z" fill="#ec5f68"/>
<path d="M291.9 286.4l2.1-1.5-1.2-2.9-2.1 1.7z" fill="#f9cccf"/>
<path d="M293.7 276.2l2-2.1-1.1-4.8-2.1 2.4z" fill="#f18b92"/>
<path d="M265.7 275l2.1-1.4-1.2-4.6-2.1 1.4z" fill="#f1878e"/>
<path d="M286.6 287l2.1-1.6-1.3-3-2 1.9z" fill="#f9cfd2"/>
<path d="M266 283.5l2.1-1.1-1.2-3.4-2.1 1.2z" fill="#f7babe"/>
<path d="M264.8 280.2l2.1-1.2-1.2-4-2.1 1.4z" fill="#f4a5aa"/>
<path d="M295.7 274.1l2.1-2-1.1-5.1-2.1 2.3z" fill="#f07f87"/>
<path d="M285 275.1l2.1-2.7-1.2-4.3-2.1 3z" fill="#f1858c"/>
<path d="M288.3 276.5l2.1-2.4-1.2-4.5-2.1 2.8z" fill="#f28d93"/>
<path d="M280.2 260l2.1-3-1.2-2.5-2.1 2.6z" fill="#e83c47"/>
<path d="M302.7 285.5l-1.3-2.3-2 1.3 1.2 2.2" fill="#f9d0d2"/>
<path d="M281.2 287.6l-1.2-2.5-2.1 1.6 1.2 2.3" fill="#fbdddf"/>
<path d="M295.3 287.2l2-1.3-1.2-2.5-2.1 1.5z" fill="#fad1d4"/>
<path d="M284.5 288.5l2.1-1.5-1.2-2.7-2.1 1.8z" fill="#fad8db"/>
<path d="M270.5 287.8l2.1-1-1.2-2.6-2.1 1.1z" fill="#fad6d8"/>
<path d="M289.9 287.9l2-1.5-1.2-2.7-2 1.7z" fill="#fad5d7"/>
<path d="M267.2 286.3l2.1-1-1.2-2.9-2.1 1.1z" fill="#f9cbce"/>
<path d="M283.8 271.1l2.1-3-1.2-4.1-2.1 3.2z" fill="#ee6f77"/>
<path d="M266.6 269l2.1-1.5-1.3-5.1-2.1 1.3z" fill="#ed656e"/>
<path d="M275.9 288l-1.2-2.4-2.1 1.2 1.2 2.3" fill="#fbdee0"/>
<path d="M263.6 276.4l2.1-1.4-1.2-4.6-2.1 1.5z" fill="#f28d94"/>
<path d="M290.4 274.1l2.1-2.4-1.2-4.8-2.1 2.7z" fill="#f07e85"/>
<path d="M262.7 281.5l2.1-1.3-1.2-3.8-2.1 1.5z" fill="#f5abb0"/>
<path d="M281.5 263.4l2-3.2-1.2-3.2-2.1 3z" fill="#ea4954"/>
<path d="M282.3 257l2.1-3.1-1.2-2-2.1 2.6z" fill="#e62d39"/>
<path d="M282.6 267.2l2.1-3.2-1.2-3.8-2 3.2z" fill="#ec5a64"/>
<path d="M287.1 272.4l2.1-2.8-1.2-4.5-2.1 3z" fill="#ef747c"/>
<path d="M263.9 284.6l2.1-1.1-1.2-3.3-2.1 1.3z" fill="#f7bfc2"/>
<path d="M284.5 288.5l-1.2-2.4-2.1 1.5 1.2 2.2" fill="#fbe1e3"/>
<path d="M289.9 287.9l-1.2-2.5-2.1 1.6 1.2 2.2" fill="#fbdddf"/>
<path d="M300.6 286.7l-1.2-2.2-2.1 1.4 1.3 2" fill="#fad5d8"/>
<path d="M295.3 287.2l-1.3-2.3-2.1 1.5 1.3 2.1" fill="#fad9db"/>
<path d="M279.1 289l-1.2-2.3-2 1.3 1.2 2.1" fill="#fce4e5"/>
<path d="M292.5 271.7l2.1-2.4-1.2-5.1-2.1 2.7z" fill="#ee7078"/>
<path d="M261.5 277.9l2.1-1.5-1.2-4.5-2.1 1.7z" fill="#f2949a"/>
<path d="M264.5 270.4l2.1-1.4-1.3-5.3-2 1.4z" fill="#ee6a73"/>
<path d="M260.6 283l2.1-1.5-1.2-3.6-2.1 1.7z" fill="#f6b2b7"/>
<path d="M294.6 269.3l2.1-2.3-1.2-5.3-2.1 2.5z" fill="#ed636c"/>
<path d="M286.5 251l-1.2-1.6-2.1 2.5 1.2 2" fill="#e51e2c"/>
<path d="M268.4 288.7l2.1-.9-1.2-2.5-2.1 1z" fill="#fbd9db"/>
<path d="M259.4 279.6l2.1-1.7-1.2-4.3-2.1 2z" fill="#f39ca2"/>
<path d="M285.9 268.1l2.1-3-1.1-4.3-2.2 3.2z" fill="#ec5d67"/>
<path d="M265.1 287.3l2.1-1-1.2-2.8-2.1 1.1z" fill="#f9cfd2"/>
<path d="M289.2 269.6l2.1-2.7-1.2-4.8-2.1 3z" fill="#ed646d"/>
<path d="M273.8 289.1l-1.2-2.3-2.1 1 1.2 2.1" fill="#fce1e3"/>
<path d="M287.8 289.2l-1.2-2.2-2.1 1.5 1.2 2" fill="#fce4e6"/>
<path d="M261.8 285.9l2.1-1.3-1.2-3.1-2.1 1.5z" fill="#f8c4c8"/>
<path d="M282.4 289.8l-1.2-2.2-2.1 1.4 1.3 1.9" fill="#fce8e9"/>
<path d="M257.3 281.4l2.1-1.8-1.2-4-2.1 2.1z" fill="#f5a6ac"/>
<path d="M283.5 260.2l2.1-3.2-1.2-3.1-2.1 3.1z" fill="#e83844"/>
<path d="M303.9 287.5l-1.2-2-2.1 1.2 1.3 1.8" fill="#fad8db"/>
<path d="M293.2 288.5l-1.3-2.1-2 1.5 1.2 1.9" fill="#fbe0e1"/>
<path d="M252 281.8l2-1.9-1.2-3.8-2 2.3z" fill="#f5a9ae"/>
<path d="M262.4 271.9l2.1-1.5-1.2-5.3-2.1 1.6z" fill="#ee7179"/>
<path d="M258.5 284.5l2.1-1.5-1.2-3.4-2.1 1.8z" fill="#f7babe"/>
<path d="M298.6 287.9l-1.3-2-2 1.3 1.2 1.8" fill="#fbdbdd"/>
<path d="M255.2 283.1l2.1-1.7-1.2-3.7-2.1 2.2z" fill="#f6b1b5"/>
<path d="M284.7 264l2.2-3.2-1.3-3.8-2.1 3.2z" fill="#ea4953"/>
<path d="M249.8 283.5l2.2-1.7-1.2-3.4-2.1 2z" fill="#f6b4b8"/>
<path d="M254 279.9l2.1-2.2-1.2-4.1-2.1 2.5z" fill="#f39ca2"/>
<path d="M288.6 248.1l-1.2-1.2-2.1 2.5 1.2 1.6" fill="#e3111f"/>
<path d="M277.1 290.1l-1.2-2.1-2.1 1.1 1.2 1.9" fill="#fce8e9"/>
<path d="M253.1 284.8l2.1-1.7-1.2-3.2-2 1.9z" fill="#f7bbbf"/>
<path d="M256.1 277.7l2.1-2.1-1.2-4.5-2.1 2.5z" fill="#f28f96"/>
<path d="M260.3 273.6l2.1-1.7-1.2-5.2-2.1 2z" fill="#ef7981"/>
<path d="M258.2 275.6l2.1-2-1.2-4.9-2.1 2.4z" fill="#f0838a"/>
<path d="M256.4 286l2.1-1.5-1.2-3.1-2.1 1.7z" fill="#f8c2c6"/>
<path d="M291.3 266.9l2.1-2.7-1.1-5-2.2 2.9z" fill="#eb555f"/>
<path d="M290.7 245.9l-1.2-1-2.1 2 1.2 1.2" fill="#e20514"/>
<path d="M247.7 284.9l2.1-1.4-1.1-3.1-2.1 1.6z" fill="#f7bcc0"/>
<path d="M259.7 287.2l2.1-1.3-1.2-2.9-2.1 1.5z" fill="#f9cace"/>
<path d="M288 265.1l2.1-3-1.1-4.5-2.1 3.2z" fill="#ea4c56"/>
<path d="M285.7 290.5l-1.2-2-2.1 1.3 1.3 1.8" fill="#fdebec"/>
<path d="M251 286.2l2.1-1.4-1.1-3-2.2 1.7z" fill="#f8c4c7"/>
<path d="M263 288.4l2.1-1.1-1.2-2.7-2.1 1.3z" fill="#fad3d6"/>
<path d="M291.1 289.8l-1.2-1.9-2.1 1.3 1.3 1.8" fill="#fce6e7"/>
<path d="M268.4 288.7l-1.2-2.4-2.1 1 1.2 2.3" fill="#fbdcde"/>
<path d="M285.6 257l2.2-3.2-1.3-2.8-2.1 2.9z" fill="#e62734"/>
<path d="M280.4 290.9l-1.3-1.9-2 1.1 1.2 1.8" fill="#fdedee"/>
<path d="M296.5 289l-1.2-1.8-2.1 1.3 1.3 1.7" fill="#fbe1e2"/>
<path d="M301.9 288.5l-1.3-1.8-2 1.2 1.3 1.6" fill="#fbdcdf"/>
<path d="M254.3 287.3l2.1-1.3-1.2-2.9-2.1 1.7z" fill="#f9cacd"/>
<path d="M293.4 264.2l2.1-2.5-1.1-5.1-2.1 2.6z" fill="#e94651"/>
<path d="M271.7 289.9l-1.2-2.1-2.1 .9 1.2 2" fill="#fce4e5"/>
<path d="M286.9 260.8l2.1-3.2-1.2-3.8-2.2 3.2z" fill="#e73743"/>
<path d="M245.6 286.1l2.1-1.2-1.1-2.9-2.2 1.4z" fill="#f8c3c6"/>
<path d="M257.6 288.4l2.1-1.2-1.2-2.7-2.1 1.5z" fill="#fad1d4"/>
<path d="M248.9 287.4l2.1-1.2-1.2-2.7-2.1 1.4z" fill="#f9cacd"/>
<path d="M275 291l-1.2-1.9-2.1 .8 1.2 1.9" fill="#fdebec"/>
<path d="M290.1 262.1l2.2-2.9-1.2-4.5-2.1 2.9z" fill="#e83c47"/>
<path d="M289.1 291l-1.3-1.8-2.1 1.3 1.3 1.6" fill="#fdeced"/>
<path d="M283.7 291.6l-1.3-1.8-2 1.1 1.2 1.7" fill="#fdf0f1"/>
<path d="M260.9 289.5l2.1-1.1-1.2-2.5-2.1 1.3z" fill="#fad8da"/>
<path d="M287.8 253.8l2.1-3-1.3-2.7-2.1 2.9z" fill="#e41825"/>
<path d="M252.2 288.5l2.1-1.2-1.2-2.5-2.1 1.4z" fill="#fad1d4"/>
<path d="M294.5 290.2l-1.3-1.7-2.1 1.3 1.3 1.6" fill="#fce6e8"/>
<path d="M305.2 289.2l-1.3-1.7-2 1 1.3 1.6" fill="#fbdee0"/>
<path d="M299.9 289.5l-1.3-1.6-2.1 1.1 1.3 1.6" fill="#fbe1e3"/>
<path d="M266.3 289.6l-1.2-2.3-2.1 1.1 1.2 2.1" fill="#fbdfe1"/>
<path d="M289 257.6l2.1-2.9-1.2-3.9-2.1 3z" fill="#e62733"/>
<path d="M278.3 291.9l-1.2-1.8-2.1 .9 1.2 1.7" fill="#fdf0f1"/>
<path d="M257.6 288.4l-1.2-2.4-2.1 1.3 1.2 2.3" fill="#fad7d9"/>
<path d="M243.5 287.1l2.1-1-1.2-2.7-2.1 1.2z" fill="#f8c7cb"/>
<path d="M292.3 259.2l2.1-2.6-1.2-4.7-2.1 2.8z" fill="#e62d39"/>
<path d="M289.9 250.8l2.1-2.7-1.3-2.2-2.1 2.2z" fill="#e20a19"/>
<path d="M246.8 288.4l2.1-1-1.2-2.5-2.1 1.2z" fill="#f9cfd2"/>
<path d="M269.6 290.7l-1.2-2-2.1 .9 1.2 1.9" fill="#fce6e7"/>
<path d="M260.9 289.5l-1.2-2.3-2.1 1.2 1.2 2.2" fill="#fbdddf"/>
<path d="M252.2 288.5l-1.2-2.3-2.1 1.2 1.2 2.2" fill="#fad6d9"/>
<path d="M287 292.1l-1.3-1.6-2 1.1 1.2 1.5" fill="#fdf1f2"/>
<path d="M292.4 291.4l-1.3-1.6-2 1.2 1.2 1.4" fill="#fdeced"/>
<path d="M291.1 254.7l2.1-2.8-1.2-3.8-2.1 2.7z" fill="#e41826"/>
<path d="M272.9 291.8l-1.2-1.9-2.1 .8 1.2 1.8" fill="#fdeced"/>
<path d="M281.6 292.6l-1.2-1.7-2.1 1 1.2 1.5" fill="#fef3f4"/>
<path d="M297.8 290.6l-1.3-1.6-2 1.2 1.2 1.5" fill="#fce5e7"/>
<path d="M303.2 290.1l-1.3-1.6-2 1 1.3 1.6" fill="#fce2e3"/>
<path d="M255.5 289.6l-1.2-2.3-2.1 1.2 1.1 2.2" fill="#fbdcde"/>
<path d="M264.2 290.5l-1.2-2.1-2.1 1.1 1.2 2" fill="#fce2e4"/>
<path d="M241.3 288.1l2.2-1-1.2-2.5-2.1 1.2z" fill="#f9cccf"/>
<path d="M246.8 288.4l-1.2-2.3-2.1 1 1.1 2.3" fill="#fad3d6"/>
<path d="M276.2 292.7l-1.2-1.7-2.1 .8 1.2 1.6" fill="#fdf1f2"/>
<path d="M258.8 290.6l-1.2-2.2-2.1 1.2 1.1 2" fill="#fce1e3"/>
<path d="M267.5 291.5l-1.2-1.9-2.1 .9 1.2 1.9" fill="#fce8e9"/>
<path d="M250.1 289.6l-1.2-2.2-2.1 1 1.1 2.1" fill="#fbdadc"/>
<path d="M284.9 293.1l-1.2-1.5-2.1 1 1.2 1.4" fill="#fef5f6"/>
<path d="M290.3 292.4l-1.2-1.4-2.1 1.1 1.2 1.4" fill="#fdf0f1"/>
<path d="M306.5 290.9l-1.3-1.7-2 .9 1.3 1.6" fill="#fce3e5"/>
<path d="M295.7 291.7l-1.2-1.5-2.1 1.2 1.3 1.3" fill="#fdeaeb"/>
<path d="M301.2 291.1l-1.3-1.6-2.1 1.1 1.3 1.4" fill="#fce5e6"/>
<path d="M279.5 293.4l-1.2-1.5-2.1 .8 1.2 1.5" fill="#fef5f6"/>
<path d="M253.3 290.7l-1.1-2.2-2.1 1.1 1.1 2" fill="#fbe0e2"/>
<path d="M270.8 292.5l-1.2-1.8-2.1 .8 1.2 1.7" fill="#fdedee"/>
<path d="M241.3 288.1l-1.1-2.3-2.2 1.2 1.2 2.2" fill="#f9cfd2"/>
<path d="M262.1 291.5l-1.2-2-2.1 1.1 1.1 1.9" fill="#fce6e8"/>
<path d="M244.6 289.4l-1.1-2.3-2.2 1 1.1 2.2" fill="#fad6d9"/>
<path d="M256.6 291.6l-1.1-2-2.2 1.1 1.2 1.8" fill="#fce5e7"/>
<path d="M274.1 293.4l-1.2-1.6-2.1 .7 1.2 1.6" fill="#fdf2f3"/>
<path d="M265.4 292.4l-1.2-1.9-2.1 1 1.1 1.8" fill="#fdeaec"/>
<path d="M247.9 290.5l-1.1-2.1-2.2 1 1.1 2" fill="#fbdddf"/>
<path d="M288.2 293.5l-1.2-1.4-2.1 1 1.3 1.3" fill="#fef4f5"/>
<path d="M282.8 294l-1.2-1.4-2.1 .8 1.2 1.4" fill="#fef8f8"/>
<path d="M293.7 292.7l-1.3-1.3-2.1 1 1.3 1.3" fill="#fdeeef"/>
<path d="M304.5 291.7l-1.3-1.6-2 1 1.3 1.5" fill="#fce6e7"/>
<path d="M239.2 289.2l-1.2-2.2-2.1 1.2 1.1 2.1" fill="#fad4d6"/>
<path d="M299.1 292l-1.3-1.4-2.1 1.1 1.3 1.3" fill="#fce9ea"/>
<path d="M251.2 291.6l-1.1-2-2.2 .9 1.1 1.9" fill="#fce3e4"/>
<path d="M259.9 292.5l-1.1-1.9-2.2 1 1.2 1.8" fill="#fce9eb"/>
<path d="M268.7 293.2l-1.2-1.7-2.1 .9 1.2 1.6" fill="#fdeff0"/>
<path d="M277.4 294.2l-1.2-1.5-2.1 .7 1.2 1.4" fill="#fef6f7"/>
<path d="M242.4 290.3l-1.1-2.2-2.1 1.1 1.1 2" fill="#fbd9db"/>
<path d="M254.5 292.5l-1.2-1.8-2.1 .9 1.2 1.8" fill="#fce8e9"/>
<path d="M307.9 292.4l-1.4-1.5-2 .8 1.3 1.5" fill="#fce8e9"/>
<path d="M263.2 293.3l-1.1-1.8-2.2 1 1.2 1.6" fill="#fdedee"/>
<path d="M286.2 294.4l-1.3-1.3-2.1 .9 1.3 1.3" fill="#fef8f8"/>
<path d="M245.7 291.4l-1.1-2-2.2 .9 1.2 1.9" fill="#fbdfe1"/>
<path d="M291.6 293.7l-1.3-1.3-2.1 1.1 1.3 1.2" fill="#fef2f3"/>
<path d="M237 290.3l-1.1-2.1-2.2 1.2 1.1 2" fill="#fad8da"/>
<path d="M272 294.1l-1.2-1.6-2.1 .7 1.2 1.6" fill="#fef2f3"/>
<path d="M302.5 292.6l-1.3-1.5-2.1 .9 1.3 1.5" fill="#fce8ea"/>
<path d="M297 293l-1.3-1.3-2 1 1.3 1.3" fill="#fdeced"/>
<path d="M280.7 294.8l-1.2-1.4-2.1 .8 1.2 1.3" fill="#fef9f9"/>
<path d="M257.8 293.4l-1.2-1.8-2.1 .9 1.2 1.7" fill="#fdeced"/>
<path d="M249 292.4l-1.1-1.9-2.2 .9 1.2 1.8" fill="#fce5e6"/>
<path d="M240.3 291.2l-1.1-2-2.2 1.1 1.1 1.9" fill="#fbdcde"/>
<path d="M266.6 294l-1.2-1.6-2.2 .9 1.2 1.5" fill="#fdf0f1"/>
<path d="M275.3 294.8l-1.2-1.4-2.1 .7 1.2 1.4" fill="#fef6f6"/>
<path d="M234.8 291.4l-1.1-2-2.1 1.2 1 1.9" fill="#fbdddf"/>
<path d="M252.4 293.4l-1.2-1.8-2.2 .8 1.2 1.7" fill="#fceaeb"/>
<path d="M305.8 293.2l-1.3-1.5-2 .9 1.3 1.4" fill="#fce9eb"/>
<path d="M261.1 294.1l-1.2-1.6-2.1 .9 1.2 1.6" fill="#fdf0f0"/>
<path d="M289.5 294.7l-1.3-1.2-2 .9 1.2 1.2" fill="#fef6f6"/>
<path d="M243.6 292.2l-1.2-1.9-2.1 .9 1.1 1.9" fill="#fbe1e3"/>
<path d="M284.1 295.3l-1.3-1.3-2.1 .8 1.3 1.2" fill="#fefafa"/>
<path d="M295 294l-1.3-1.3-2.1 1 1.3 1.3" fill="#fdf0f1"/>
<path d="M300.4 293.5l-1.3-1.5-2.1 1 1.3 1.4" fill="#fdebec"/>
<path d="M269.9 294.8l-1.2-1.6-2.1 .8 1.1 1.5" fill="#fef3f4"/>
<path d="M255.7 294.2l-1.2-1.7-2.1 .9 1.1 1.6" fill="#fdeeef"/>
<path d="M278.6 295.5l-1.2-1.3-2.1 .6 1.2 1.3" fill="#fef9f9"/>
<path d="M238.1 292.2l-1.1-1.9-2.2 1.1 1.1 1.8" fill="#fbe0e2"/>
<path d="M246.9 293.2l-1.2-1.8-2.1 .8 1.1 1.8" fill="#fce6e8"/>
<path d="M232.6 292.5l-1-1.9-2.2 1.3 1.1 1.7" fill="#fce2e4"/>
<path d="M264.4 294.8l-1.2-1.5-2.1 .8 1.2 1.6" fill="#fdf2f3"/>
<path d="M309.2 293.8l-1.3-1.4-2.1 .8 1.4 1.4" fill="#fdebec"/>
<path d="M273.2 295.5l-1.2-1.4-2.1 .7 1.2 1.3" fill="#fef6f6"/>
<path d="M250.2 294.1l-1.2-1.7-2.1 .8 1.1 1.7" fill="#fdebec"/>
<path d="M303.8 294l-1.3-1.4-2.1 .9 1.3 1.4" fill="#fdebed"/>
<path d="M241.4 293.1l-1.1-1.9-2.2 1 1.1 1.8" fill="#fce4e5"/>
<path d="M287.4 295.6l-1.2-1.2-2.1 .9 1.2 1.2" fill="#fef8f9"/>
<path d="M259 295l-1.2-1.6-2.1 .8 1.1 1.6" fill="#fdf1f2"/>
<path d="M292.9 295l-1.3-1.3-2.1 1 1.3 1.2" fill="#fef3f4"/>
<path d="M298.3 294.4l-1.3-1.4-2 1 1.3 1.3" fill="#fdeeef"/>
<path d="M282 296l-1.3-1.2-2.1 .7 1.3 1.2" fill="#fefafa"/>
<path d="M235.9 293.2l-1.1-1.8-2.2 1.1 1.1 1.7" fill="#fce4e5"/>
<path d="M230.5 293.6l-1.1-1.7-2.2 1.3 1.1 1.6" fill="#fce7e9"/>
<path d="M267.7 295.5l-1.1-1.5-2.2 .8 1.2 1.5" fill="#fef4f5"/>
<path d="M253.5 295l-1.1-1.6-2.2 .7 1.1 1.6" fill="#fdeff0"/>
<path d="M244.7 294l-1.1-1.8-2.2 .9 1.1 1.7" fill="#fce8e9"/>
<path d="M276.5 296.1l-1.2-1.3-2.1 .7 1.2 1.2" fill="#fef8f9"/>
<path d="M262.3 295.7l-1.2-1.6-2.1 .9 1.1 1.4" fill="#fef4f5"/>
<path d="M307.2 294.6l-1.4-1.4-2 .8 1.3 1.4" fill="#fdeced"/>
<path d="M239.2 294l-1.1-1.8-2.2 1 1.1 1.7" fill="#fce6e8"/>
<path d="M301.7 294.9l-1.3-1.4-2.1 .9 1.4 1.4" fill="#fdeeef"/>
<path d="M290.8 295.9l-1.3-1.2-2.1 .9 1.3 1.2" fill="#fef6f7"/>
<path d="M296.3 295.3l-1.3-1.3-2.1 1 1.3 1.3" fill="#fdf1f2"/>
<path d="M248 294.9l-1.1-1.7-2.2 .8 1.1 1.7" fill="#fdeced"/>
<path d="M228.3 294.8l-1.1-1.6-2.2 1.3 1.1 1.4" fill="#fdedee"/>
<path d="M285.3 296.5l-1.2-1.2-2.1 .7 1.2 1.2" fill="#fefafa"/>
<path d="M271.1 296.1l-1.2-1.3-2.2 .7 1.2 1.4" fill="#fef6f7"/>
<path d="M256.8 295.8l-1.1-1.6-2.2 .8 1.2 1.5" fill="#fef3f3"/>
<path d="M233.7 294.2l-1.1-1.7-2.1 1.1 1.1 1.7" fill="#fce8e9"/>
<path d="M279.9 296.7l-1.3-1.2-2.1 .6 1.3 1.2" fill="#fefafa"/>
<path d="M265.6 296.3l-1.2-1.5-2.1 .9 1.2 1.4" fill="#fef6f6"/>
<path d="M242.5 294.8l-1.1-1.7-2.2 .9 1.1 1.7" fill="#fdeaeb"/>
<path d="M251.3 295.7l-1.1-1.6-2.2 .8 1.2 1.5" fill="#fdf0f1"/>
<path d="M310.6 295.1l-1.4-1.3-2 .8 1.3 1.2" fill="#fdecee"/>
<path d="M226.1 295.9l-1.1-1.4-2.1 1.3 1 1.3" fill="#fef3f4"/>
<path d="M260.1 296.4l-1.1-1.4-2.2 .8 1.2 1.4" fill="#fef5f6"/>
<path d="M274.4 296.7l-1.2-1.2-2.1 .6 1.2 1.3" fill="#fef8f8"/>
<path d="M305.1 295.4l-1.3-1.4-2.1 .9 1.4 1.3" fill="#fdeeef"/>
<path d="M237 294.9l-1.1-1.7-2.2 1 1.1 1.7" fill="#fce9eb"/>
<path d="M299.7 295.8l-1.4-1.4-2 .9 1.3 1.4" fill="#fdf0f1"/>
<path d="M231.6 295.3l-1.1-1.7-2.2 1.2 1.1 1.5" fill="#fdeced"/>
<path d="M294.2 296.3l-1.3-1.3-2.1 .9 1.3 1.2" fill="#fef4f5"/>
<path d="M288.7 296.8l-1.3-1.2-2.1 .9 1.3 1.1" fill="#fef8f9"/>
<path d="M245.8 295.7l-1.1-1.7-2.2 .8 1.2 1.7" fill="#fdedee"/>
<path d="M268.9 296.9l-1.2-1.4-2.1 .8 1.2 1.3" fill="#fef7f8"/>
<path d="M283.2 297.2l-1.2-1.2-2.1 .7 1.2 1.2" fill="#fefafb"/>
<path d="M254.7 296.5l-1.2-1.5-2.2 .7 1.2 1.5" fill="#fef3f4"/>
<path d="M223.9 297.1l-1-1.3-2.2 1.3 1 1.2" fill="#fefafb"/>
<path d="M263.5 297.1l-1.2-1.4-2.2 .7 1.2 1.4" fill="#fef7f8"/>
<path d="M240.3 295.7l-1.1-1.7-2.2 .9 1.1 1.7" fill="#fdeced"/>
<path d="M277.8 297.3l-1.3-1.2-2.1 .6 1.3 1.3" fill="#fef9f9"/>
<path d="M308.5 295.8l-1.3-1.2-2.1 .8 1.4 1.2" fill="#fdedee"/>
<path d="M249.2 296.4l-1.2-1.5-2.2 .8 1.2 1.5" fill="#fdf1f1"/>
<path d="M234.8 295.9l-1.1-1.7-2.1 1.1 1 1.5" fill="#fdedee"/>
<path d="M229.4 296.3l-1.1-1.5-2.2 1.1 1.1 1.5" fill="#fdf0f1"/>
<path d="M303.1 296.2l-1.4-1.3-2 .9 1.3 1.3" fill="#fdf0f0"/>
<path d="M258 297.2l-1.2-1.4-2.1 .7 1.1 1.4" fill="#fef6f6"/>
<path d="M297.6 296.7l-1.3-1.4-2.1 1 1.3 1.2" fill="#fef3f3"/>
<path d="M272.3 297.4l-1.2-1.3-2.2 .8 1.3 1.2" fill="#fef8f8"/>
<path d="M292.1 297.1l-1.3-1.2-2.1 .9 1.3 1.2" fill="#fef6f7"/>
<path d="M286.6 297.6l-1.3-1.1-2.1 .7 1.3 1.2" fill="#fefafa"/>
<path d="M243.7 296.5l-1.2-1.7-2.2 .9 1.2 1.6" fill="#fdeff0"/>
<path d="M266.8 297.6l-1.2-1.3-2.1 .8 1.2 1.3" fill="#fef8f9"/>
<path d="M252.5 297.2l-1.2-1.5-2.1 .7 1.1 1.5" fill="#fef4f4"/>
<path d="M281.1 297.9l-1.2-1.2-2.1 .6 1.2 1.2" fill="#fefafa"/>
<path d="M238.1 296.6l-1.1-1.7-2.2 1 1.1 1.6" fill="#fdeeef"/>
<path d="M261.3 297.8l-1.2-1.4-2.1 .8 1.2 1.4" fill="#fef8f8"/>
<path d="M311.9 296.3l-1.3-1.2-2.1 .7 1.4 1.1" fill="#fdedee"/>
<path d="M227.2 297.4l-1.1-1.5-2.2 1.2 1 1.3" fill="#fef6f6"/>
<path d="M232.6 296.8l-1-1.5-2.2 1 1 1.5" fill="#fdf0f1"/>
<path d="M275.7 298l-1.3-1.3-2.1 .7 1.2 1.3" fill="#fef9f9"/>
<path d="M306.5 296.6l-1.4-1.2-2 .8 1.3 1.2" fill="#fdefef"/>
<path d="M247 297.2l-1.2-1.5-2.1 .8 1.1 1.5" fill="#fdf1f2"/>
<path d="M301 297.1l-1.3-1.3-2.1 .9 1.3 1.2" fill="#fdf1f2"/>
<path d="M295.5 297.5l-1.3-1.2-2.1 .8 1.3 1.3" fill="#fef5f5"/>
<path d="M290 298l-1.3-1.2-2.1 .8 1.3 1.2" fill="#fef8f9"/>
<path d="M255.8 297.9l-1.1-1.4-2.2 .7 1.1 1.4" fill="#fef6f7"/>
<path d="M270.2 298.1l-1.3-1.2-2.1 .7 1.2 1.3" fill="#fef9f9"/>
<path d="M241.5 297.3l-1.2-1.6-2.2 .9 1.2 1.5" fill="#fdf1f1"/>
<path d="M284.5 298.4l-1.3-1.2-2.1 .7 1.3 1.2" fill="#fefafa"/>
<path d="M264.7 298.4l-1.2-1.3-2.2 .7 1.2 1.4" fill="#fef9fa"/>
<path d="M224.9 298.4l-1-1.3-2.2 1.2 1 1.2" fill="#fffbfb"/>
<path d="M235.9 297.5l-1.1-1.6-2.2 .9 1.1 1.6" fill="#fdf1f2"/>
<path d="M250.3 297.9l-1.1-1.5-2.2 .8 1.1 1.4" fill="#fef4f5"/>
<path d="M279 298.5l-1.2-1.2-2.1 .7 1.2 1.2" fill="#fef9fa"/>
<path d="M230.4 297.8l-1-1.5-2.2 1.1 1 1.4" fill="#fef4f4"/>
<path d="M259.2 298.6l-1.2-1.4-2.2 .7 1.2 1.3" fill="#fef8f9"/>
<path d="M309.9 296.9l-1.4-1.1-2 .8 1.3 1" fill="#fdedee"/>
<path d="M304.4 297.4l-1.3-1.2-2.1 .9 1.3 1.1" fill="#fdf0f1"/>
<path d="M244.8 298l-1.1-1.5-2.2 .8 1.1 1.5" fill="#fef3f3"/>
<path d="M298.9 297.9l-1.3-1.2-2.1 .8 1.3 1.3" fill="#fef3f4"/>
<path d="M273.5 298.7l-1.2-1.3-2.1 .7 1.2 1.3" fill="#fef9f9"/>
<path d="M293.4 298.4l-1.3-1.3-2.1 .9 1.3 1.2" fill="#fef7f7"/>
<path d="M287.9 298.8l-1.3-1.2-2.1 .8 1.3 1.2" fill="#fefafa"/>
<path d="M268 298.9l-1.2-1.3-2.1 .8 1.2 1.3" fill="#fefafa"/>
<path d="M253.6 298.6l-1.1-1.4-2.2 .7 1.2 1.4" fill="#fef6f7"/>
<path d="M239.3 298.1l-1.2-1.5-2.2 .9 1.1 1.5" fill="#fef3f3"/>
<path d="M282.4 299.1l-1.3-1.2-2.1 .6 1.3 1.2" fill="#fefafa"/>
<path d="M233.7 298.4l-1.1-1.6-2.2 1 1.1 1.5" fill="#fef4f4"/>
<path d="M262.5 299.2l-1.2-1.4-2.1 .8 1.1 1.3" fill="#fefafa"/>
<path d="M228.2 298.8l-1-1.4-2.3 1 1.1 1.4" fill="#fef8f8"/>
<path d="M248.1 298.6l-1.1-1.4-2.2 .8 1.1 1.4" fill="#fef5f5"/>
<path d="M313.3 297.4l-1.4-1.1-2 .6 1.4 .9" fill="#fdebed"/>
<path d="M276.9 299.2l-1.2-1.2-2.2 .7 1.3 1.2" fill="#fef9f9"/>
<path d="M302.3 298.2l-1.3-1.1-2.1 .8 1.3 1.1" fill="#fdf2f2"/>
<path d="M307.8 297.6l-1.3-1-2.1 .8 1.4 .9" fill="#fdedee"/>
<path d="M257 299.2l-1.2-1.3-2.2 .7 1.2 1.3" fill="#fef8f9"/>
<path d="M296.8 298.8l-1.3-1.3-2.1 .9 1.3 1.2" fill="#fef5f6"/>
<path d="M242.6 298.8l-1.1-1.5-2.2 .8 1.1 1.5" fill="#fef4f5"/>
<path d="M291.3 299.2l-1.3-1.2-2.1 .8 1.3 1.2" fill="#fef9f9"/>
<path d="M271.4 299.4l-1.2-1.3-2.2 .8 1.2 1.3" fill="#fefafa"/>
<path d="M237 299l-1.1-1.5-2.2 .9 1.1 1.4" fill="#fef5f5"/>
<path d="M285.8 299.6l-1.3-1.2-2.1 .7 1.3 1.2" fill="#fefafa"/>
<path d="M265.9 299.7l-1.2-1.3-2.2 .8 1.2 1.3" fill="#fffbfb"/>
<path d="M251.5 299.3l-1.2-1.4-2.2 .7 1.2 1.4" fill="#fef6f7"/>
<path d="M226 299.8l-1.1-1.4-2.2 1.1 1.1 1.2" fill="#fffcfc"/>
<path d="M231.5 299.3l-1.1-1.5-2.2 1 1.1 1.4" fill="#fef7f7"/>
<path d="M280.3 299.7l-1.3-1.2-2.1 .7 1.2 1.2" fill="#fefafa"/>
<path d="M260.3 299.9l-1.1-1.3-2.2 .6 1.2 1.4" fill="#fefafb"/>
<path d="M245.9 299.4l-1.1-1.4-2.2 .8 1.1 1.4" fill="#fef6f6"/>
<path d="M274.8 299.9l-1.3-1.2-2.1 .7 1.2 1.2" fill="#fef9fa"/>
<path d="M300.2 299l-1.3-1.1-2.1 .9 1.3 1.1" fill="#fef3f4"/>
<path d="M305.8 298.3l-1.4-.9-2.1 .8 1.4 1" fill="#fdeeef"/>
<path d="M311.3 297.8l-1.4-.9-2.1 .7 1.4 .8" fill="#fdeaeb"/>
<path d="M294.7 299.6l-1.3-1.2-2.1 .8 1.3 1.2" fill="#fef7f8"/>
<path d="M240.4 299.6l-1.1-1.5-2.3 .9 1.2 1.4" fill="#fef6f7"/>
<path d="M254.8 299.9l-1.2-1.3-2.1 .7 1.1 1.3" fill="#fef8f9"/>
<path d="M289.2 300l-1.3-1.2-2.1 .8 1.3 1.2" fill="#fefafa"/>
<path d="M269.2 300.2l-1.2-1.3-2.1 .8 1.2 1.3" fill="#fffbfb"/>
<path d="M234.8 299.8l-1.1-1.4-2.2 .9 1.1 1.4" fill="#fef7f7"/>
<path d="M229.3 300.2l-1.1-1.4-2.2 1 1 1.3" fill="#fefafa"/>
<path d="M263.7 300.5l-1.2-1.3-2.2 .7 1.2 1.3" fill="#fffcfc"/>
<path d="M283.7 300.3l-1.3-1.2-2.1 .6 1.2 1.3" fill="#fefafa"/>
<path d="M249.3 300l-1.2-1.4-2.2 .8 1.1 1.4" fill="#fef7f7"/>
<path d="M243.7 300.2l-1.1-1.4-2.2 .8 1.1 1.4" fill="#fef7f8"/>
<path d="M278.1 300.4l-1.2-1.2-2.1 .7 1.2 1.2" fill="#fef9fa"/>
<path d="M258.2 300.6l-1.2-1.4-2.2 .7 1.2 1.4" fill="#fefafa"/>
<path d="M314.7 298.5l-1.4-1.1-2 .4 1.4 .9" fill="#fce9eb"/>
<path d="M298.1 299.9l-1.3-1.1-2.1 .8 1.3 1.2" fill="#fef5f6"/>
<path d="M303.7 299.2l-1.4-1-2.1 .8 1.4 1" fill="#fdf0f1"/>
<path d="M272.6 300.6l-1.2-1.2-2.2 .8 1.3 1.2" fill="#fefafb"/>
<path d="M238.2 300.4l-1.2-1.4-2.2 .8 1.1 1.5" fill="#fef8f8"/>
<path d="M292.6 300.4l-1.3-1.2-2.1 .8 1.3 1.3" fill="#fef9f9"/>
<path d="M309.2 298.4l-1.4-.8-2 .7 1.4 .9" fill="#fdeaeb"/>
<path d="M267.1 301l-1.2-1.3-2.2 .8 1.2 1.3" fill="#fffcfc"/>
<path d="M252.6 300.6l-1.1-1.3-2.2 .7 1.1 1.3" fill="#fef8f9"/>
<path d="M287.1 300.8l-1.3-1.2-2.1 .7 1.3 1.2" fill="#fefafb"/>
<path d="M232.6 300.7l-1.1-1.4-2.2 .9 1.1 1.4" fill="#fef9fa"/>
<path d="M227 301.1l-1-1.3-2.2 .9 1 1.2" fill="#fffdfd"/>
<path d="M261.5 301.2l-1.2-1.3-2.1 .7 1.1 1.3" fill="#fffcfc"/>
<path d="M247 300.8l-1.1-1.4-2.2 .8 1.1 1.3" fill="#fef8f8"/>
<path d="M281.5 301l-1.2-1.3-2.2 .7 1.3 1.3" fill="#fefafa"/>
<path d="M241.5 301l-1.1-1.4-2.2 .8 1.1 1.4" fill="#fef9f9"/>
<path d="M276 301.1l-1.2-1.2-2.2 .7 1.2 1.3" fill="#fefafa"/>
<path d="M256 301.3l-1.2-1.4-2.2 .7 1.2 1.4" fill="#fefafa"/>
<path d="M296 300.8l-1.3-1.2-2.1 .8 1.3 1.2" fill="#fef7f7"/>
<path d="M301.6 300l-1.4-1-2.1 .9 1.4 1" fill="#fdf2f3"/>
<path d="M235.9 301.3l-1.1-1.5-2.2 .9 1.1 1.4" fill="#fefafa"/>
<path d="M270.5 301.4l-1.3-1.2-2.1 .8 1.2 1.2" fill="#fffcfc"/>
<path d="M290.5 301.3l-1.3-1.3-2.1 .8 1.3 1.3" fill="#fefafa"/>
<path d="M307.2 299.2l-1.4-.9-2.1 .9 1.4 .8" fill="#fdebec"/>
<path d="M312.7 298.7l-1.4-.9-2.1 .6 1.4 .9" fill="#fce7e8"/>
<path d="M230.4 301.6l-1.1-1.4-2.3 .9 1.1 1.3" fill="#fffcfc"/>
<path d="M264.9 301.8l-1.2-1.3-2.2 .7 1.2 1.3" fill="#fffdfd"/>
<path d="M250.4 301.3l-1.1-1.3-2.3 .8 1.2 1.3" fill="#fef9f9"/>
<path d="M285 301.5l-1.3-1.2-2.2 .7 1.3 1.3" fill="#fffbfb"/>
<path d="M244.8 301.5l-1.1-1.3-2.2 .8 1.1 1.4" fill="#fef9fa"/>
<path d="M259.3 301.9l-1.1-1.3-2.2 .7 1.1 1.3" fill="#fffcfc"/>
<path d="M279.4 301.7l-1.3-1.3-2.1 .7 1.3 1.3" fill="#fefafa"/>
<path d="M239.3 301.8l-1.1-1.4-2.3 .9 1.1 1.4" fill="#fefbfb"/>
<path d="M273.8 301.9l-1.2-1.3-2.1 .8 1.2 1.3" fill="#fffbfb"/>
<path d="M316.1 299.6l-1.4-1.1-2 .2 1.4 1" fill="#fce7e9"/>
<path d="M293.9 301.6l-1.3-1.2-2.1 .9 1.3 1.2" fill="#fef9f9"/>
<path d="M299.5 300.9l-1.4-1-2.1 .9 1.4 1" fill="#fef4f4"/>
<path d="M233.7 302.1l-1.1-1.4-2.2 .9 1 1.3" fill="#fffcfc"/>
<path d="M253.8 302l-1.2-1.4-2.2 .7 1.2 1.4" fill="#fefafa"/>
<path d="M268.3 302.2l-1.2-1.2-2.2 .8 1.2 1.2" fill="#fffdfd"/>
<path d="M288.4 302.1l-1.3-1.3-2.1 .7 1.2 1.3" fill="#fffbfb"/>
<path d="M305.1 300l-1.4-.8-2.1 .8 1.4 .9" fill="#fdedee"/>
<path d="M228.1 302.4l-1.1-1.3-2.2 .8 1 1.3" fill="#fffefe"/>
<path d="M310.6 299.3l-1.4-.9-2 .8 1.4 .7" fill="#fce6e8"/>
<path d="M248.2 302.1l-1.2-1.3-2.2 .7 1.2 1.4" fill="#fefafa"/>
<path d="M262.7 302.5l-1.2-1.3-2.2 .7 1.2 1.3" fill="#fffdfe"/>
<path d="M282.8 302.3l-1.3-1.3-2.1 .7 1.3 1.3" fill="#fffbfb"/>
<path d="M242.6 302.4l-1.1-1.4-2.2 .8 1.1 1.4" fill="#fffbfb"/>
<path d="M277.3 302.4l-1.3-1.3-2.2 .8 1.3 1.3" fill="#fefbfb"/>
<path d="M257.1 302.6l-1.1-1.3-2.2 .7 1.1 1.3" fill="#fffcfc"/>
<path d="M237 302.7l-1.1-1.4-2.2 .8 1.1 1.4" fill="#fffcfc"/>
<path d="M297.4 301.8l-1.4-1-2.1 .8 1.4 1.1" fill="#fef6f6"/>
<path d="M271.7 302.7l-1.2-1.3-2.2 .8 1.2 1.3" fill="#fffcfc"/>
<path d="M291.8 302.5l-1.3-1.2-2.1 .8 1.3 1.2" fill="#fefafa"/>
<path d="M231.4 302.9l-1-1.3-2.3 .8 1.1 1.3" fill="#fffdfd"/>
<path d="M303 300.9l-1.4-.9-2.1 .9 1.4 .9" fill="#fdeff0"/>
<path d="M251.6 302.7l-1.2-1.4-2.2 .8 1.1 1.3" fill="#fefafb"/>
<path d="M266.1 303l-1.2-1.2-2.2 .7 1.2 1.3" fill="#fffefe"/>
<path d="M286.2 302.8l-1.2-1.3-2.2 .8 1.3 1.3" fill="#fffcfc"/>
<path d="M314.1 299.7l-1.4-1-2.1 .6 1.5 .8" fill="#fce4e6"/>
<path d="M246 302.9l-1.2-1.4-2.2 .9 1.1 1.3" fill="#fffbfb"/>
<path d="M308.6 299.9l-1.4-.7-2.1 .8 1.4 .8" fill="#fce7e8"/>
<path d="M260.5 303.2l-1.2-1.3-2.2 .7 1.2 1.3" fill="#fffdfd"/>
<path d="M280.7 303l-1.3-1.3-2.1 .7 1.2 1.3" fill="#fffbfb"/>
<path d="M240.4 303.2l-1.1-1.4-2.3 .9 1.1 1.3" fill="#fffdfd"/>
<path d="M275.1 303.2l-1.3-1.3-2.1 .8 1.2 1.3" fill="#fffcfc"/>
<path d="M234.8 303.5l-1.1-1.4-2.3 .8 1.1 1.3" fill="#fffefe"/>
<path d="M254.9 303.3l-1.1-1.3-2.2 .7 1.1 1.3" fill="#fffbfc"/>
<path d="M295.3 302.7l-1.4-1.1-2.1 .9 1.3 1.1" fill="#fef8f8"/>
<path d="M317.6 300.8l-1.5-1.2-2 .1 1.4 1.1" fill="#fce6e8"/>
<path d="M269.5 303.5l-1.2-1.3-2.2 .8 1.2 1.3" fill="#fffefe"/>
<path d="M289.7 303.3l-1.3-1.2-2.2 .7 1.3 1.3" fill="#fffbfc"/>
<path d="M300.9 301.8l-1.4-.9-2.1 .9 1.3 1" fill="#fdf1f2"/>
<path d="M229.2 303.7l-1.1-1.3-2.3 .8 1.1 1.2" fill="#fffefe"/>
<path d="M249.3 303.4l-1.1-1.3-2.2 .8 1.1 1.3" fill="#fffbfb"/>
<path d="M263.9 303.8l-1.2-1.3-2.2 .7 1.2 1.3" fill="#ffffff"/>
<path d="M284.1 303.6l-1.3-1.3-2.1 .7 1.3 1.3" fill="#fffcfc"/>
<path d="M306.5 300.8l-1.4-.8-2.1 .9 1.4 .8" fill="#fce9ea"/>
<path d="M243.7 303.7l-1.1-1.3-2.2 .8 1.1 1.3" fill="#fffdfd"/>
<path d="M312.1 300.1l-1.5-.8-2 .6 1.4 .9" fill="#fce3e4"/>
<path d="M278.5 303.7l-1.2-1.3-2.2 .8 1.3 1.3" fill="#fffcfc"/>
<path d="M258.3 303.9l-1.2-1.3-2.2 .7 1.2 1.3" fill="#fffdfd"/>
<path d="M238.1 304l-1.1-1.3-2.2 .8 1.1 1.3" fill="#fffefe"/>
<path d="M272.9 304l-1.2-1.3-2.2 .8 1.3 1.3" fill="#fffdfd"/>
<path d="M232.5 304.2l-1.1-1.3-2.2 .8 1.1 1.3" fill="#ffffff"/>
<path d="M293.1 303.6l-1.3-1.1-2.1 .8 1.3 1.2" fill="#fefafa"/>
<path d="M252.7 304l-1.1-1.3-2.3 .7 1.2 1.3" fill="#fffcfc"/>
<path d="M298.7 302.8l-1.3-1-2.1 .9 1.3 1.1" fill="#fef4f5"/>
<path d="M267.3 304.3l-1.2-1.3-2.2 .8 1.2 1.3" fill="#ffffff"/>
<path d="M287.5 304.1l-1.3-1.3-2.1 .8 1.3 1.3" fill="#fffcfd"/>
<path d="M247.1 304.2l-1.1-1.3-2.3 .8 1.2 1.3" fill="#fffcfc"/>
<path d="M304.4 301.7l-1.4-.8-2.1 .9 1.3 .9" fill="#fdebec"/>
<path d="M261.7 304.5l-1.2-1.3-2.2 .7 1.2 1.3" fill="#ffffff"/>
<path d="M282 304.3l-1.3-1.3-2.2 .7 1.3 1.4" fill="#fffcfd"/>
<path d="M315.5 300.8l-1.4-1.1-2 .4 1.4 1.1" fill="#fce2e4"/>
<path d="M241.5 304.5l-1.1-1.3-2.3 .8 1.2 1.3" fill="#fffefe"/>
<path d="M310 300.8l-1.4-.9-2.1 .9 1.4 .8" fill="#fce3e5"/>
<path d="M276.4 304.5l-1.3-1.3-2.2 .8 1.3 1.3" fill="#fffcfd"/>
<path d="M235.9 304.8l-1.1-1.3-2.3 .7 1.1 1.4" fill="#fefffe"/>
<path d="M256.1 304.6l-1.2-1.3-2.2 .7 1.2 1.3" fill="#fffdfd"/>
<path d="M319 302.1l-1.4-1.3-2.1 0 1.5 1.4" fill="#fce7e8"/>
<path d="M270.8 304.8l-1.3-1.3-2.2 .8 1.3 1.3" fill="#fffefe"/>
<path d="M296.6 303.8l-1.3-1.1-2.2 .9 1.4 1.2" fill="#fef7f7"/>
<path d="M291 304.5l-1.3-1.2-2.2 .8 1.4 1.2" fill="#fffbfc"/>
<path d="M230.3 305l-1.1-1.3-2.3 .7 1.1 1.3" fill="#ffffff"/>
<path d="M250.5 304.7l-1.2-1.3-2.2 .8 1.2 1.3" fill="#fffcfc"/>
<path d="M265.1 305.1l-1.2-1.3-2.2 .7 1.2 1.3" fill="#fefffe"/>
<path d="M285.4 304.9l-1.3-1.3-2.1 .7 1.2 1.4" fill="#fffdfd"/>
<path d="M302.2 302.7l-1.3-.9-2.2 1 1.4 1" fill="#fdeeef"/>
<path d="M244.9 305l-1.2-1.3-2.2 .8 1.1 1.3" fill="#fffefe"/>
<path d="M279.8 305.1l-1.3-1.4-2.1 .8 1.2 1.3" fill="#fffdfd"/>
<path d="M259.5 305.2l-1.2-1.3-2.2 .7 1.2 1.3" fill="#fffefe"/>
<path d="M239.3 305.3l-1.2-1.3-2.2 .8 1.1 1.3" fill="#fefffe"/>
<path d="M307.9 301.6l-1.4-.8-2.1 .9 1.4 .9" fill="#fce5e6"/>
<path d="M313.5 301.2l-1.4-1.1-2.1 .7 1.4 1.1" fill="#fbe0e2"/>
<path d="M274.2 305.3l-1.3-1.3-2.1 .8 1.2 1.2" fill="#fffdfe"/>
<path d="M233.6 305.6l-1.1-1.4-2.2 .8 1 1.3" fill="#fefffe"/>
<path d="M253.9 305.3l-1.2-1.3-2.2 .7 1.2 1.4" fill="#fffdfd"/>
<path d="M294.5 304.8l-1.4-1.2-2.1 .9 1.3 1.2" fill="#fef9f9"/>
<path d="M268.6 305.6l-1.3-1.3-2.2 .8 1.3 1.2" fill="#ffffff"/>
<path d="M288.9 305.3l-1.4-1.2-2.1 .8 1.3 1.3" fill="#fffdfd"/>
<path d="M300.1 303.8l-1.4-1-2.1 1 1.4 1.1" fill="#fdf2f2"/>
<path d="M248.3 305.5l-1.2-1.3-2.2 .8 1.1 1.3" fill="#fffdfd"/>
<path d="M283.2 305.7l-1.2-1.4-2.2 .8 1.3 1.3" fill="#fffefe"/>
<path d="M262.9 305.8l-1.2-1.3-2.2 .7 1.2 1.3" fill="#fefffe"/>
<path d="M317 302.2l-1.5-1.4-2 .4 1.4 1.4" fill="#fce2e4"/>
<path d="M242.6 305.8l-1.1-1.3-2.2 .8 1.1 1.3" fill="#ffffff"/>
<path d="M305.8 302.6l-1.4-.9-2.2 1 1.4 1" fill="#fce8e9"/>
<path d="M277.6 305.8l-1.2-1.3-2.2 .8 1.2 1.3" fill="#fffefe"/>
<path d="M237 306.1l-1.1-1.3-2.3 .8 1.1 1.2" fill="#fdfffd"/>
<path d="M257.3 305.9l-1.2-1.3-2.2 .7 1.2 1.3" fill="#fffefe"/>
<path d="M320.4 303.6l-1.4-1.5-2 .1 1.4 1.5" fill="#fce9ea"/>
<path d="M311.4 301.9l-1.4-1.1-2.1 .8 1.4 1.1" fill="#fbe1e2"/>
<path d="M272 306l-1.2-1.2-2.2 .8 1.2 1.2" fill="#fffeff"/>
<path d="M292.3 305.7l-1.3-1.2-2.1 .8 1.3 1.3" fill="#fffbfb"/>
<path d="M231.3 306.3l-1-1.3-2.3 .7 1 1.2" fill="#fefffe"/>
<path d="M251.7 306.1l-1.2-1.4-2.2 .8 1.1 1.3" fill="#fffdfd"/>
<path d="M298 304.9l-1.4-1.1-2.1 1 1.3 1.1" fill="#fef5f6"/>
<path d="M286.7 306.2l-1.3-1.3-2.2 .8 1.3 1.3" fill="#fffefe"/>
<path d="M266.4 306.3l-1.3-1.2-2.2 .7 1.3 1.3" fill="#fefffe"/>
<path d="M246 306.3l-1.1-1.3-2.3 .8 1.2 1.3" fill="#fffefe"/>
<path d="M303.6 303.7l-1.4-1-2.1 1.1 1.4 1" fill="#fdebed"/>
<path d="M281.1 306.4l-1.3-1.3-2.2 .7 1.3 1.4" fill="#fffefe"/>
<path d="M260.7 306.5l-1.2-1.3-2.2 .7 1.2 1.3" fill="#ffffff"/>
<path d="M240.4 306.6l-1.1-1.3-2.3 .8 1.1 1.3" fill="#fdfffd"/>
<path d="M314.9 302.6l-1.4-1.4-2.1 .7 1.4 1.3" fill="#fbe0e2"/>
<path d="M275.4 306.6l-1.2-1.3-2.2 .7 1.3 1.3" fill="#fffefe"/>
<path d="M234.7 306.8l-1.1-1.2-2.3 .7 1.1 1.2" fill="#fdfffd"/>
<path d="M309.3 302.7l-1.4-1.1-2.1 1 1.4 1.1" fill="#fce3e4"/>
<path d="M255.1 306.6l-1.2-1.3-2.2 .8 1.1 1.3" fill="#fffefe"/>
<path d="M269.8 306.8l-1.2-1.2-2.2 .7 1.2 1.3" fill="#fefffe"/>
<path d="M295.8 305.9l-1.3-1.1-2.2 .9 1.4 1.2" fill="#fef8f8"/>
<path d="M290.2 306.6l-1.3-1.3-2.2 .9 1.3 1.2" fill="#fffdfd"/>
<path d="M249.4 306.8l-1.1-1.3-2.3 .8 1.2 1.3" fill="#fffefe"/>
<path d="M318.4 303.7l-1.4-1.5-2.1 .4 1.4 1.5" fill="#fce4e6"/>
<path d="M284.5 307l-1.3-1.3-2.1 .7 1.3 1.3" fill="#ffffff"/>
<path d="M301.5 304.8l-1.4-1-2.1 1.1 1.3 1.1" fill="#fdeff0"/>
<path d="M264.2 307.1l-1.3-1.3-2.2 .7 1.2 1.3" fill="#fefffe"/>
<path d="M243.8 307.1l-1.2-1.3-2.2 .8 1.1 1.3" fill="#fefffe"/>
<path d="M321.8 305.1l-1.4-1.5-2 .1 1.4 1.7" fill="#fdeced"/>
<path d="M278.9 307.2l-1.3-1.4-2.2 .8 1.3 1.3" fill="#ffffff"/>
<path d="M238.1 307.4l-1.1-1.3-2.3 .7 1.1 1.3" fill="#fdfffd"/>
<path d="M258.5 307.2l-1.2-1.3-2.2 .7 1.2 1.3" fill="#ffffff"/>
<path d="M307.2 303.7l-1.4-1.1-2.2 1.1 1.4 1.1" fill="#fce6e7"/>
<path d="M312.8 303.2l-1.4-1.3-2.1 .8 1.4 1.4" fill="#fbe0e2"/>
<path d="M273.3 307.3l-1.3-1.3-2.2 .8 1.3 1.3" fill="#ffffff"/>
<path d="M252.8 307.4l-1.1-1.3-2.3 .7 1.2 1.3" fill="#fffefe"/>
<path d="M232.4 307.5l-1.1-1.2-2.3 .6 1.1 1.3" fill="#fefffe"/>
<path d="M293.7 306.9l-1.4-1.2-2.1 .9 1.3 1.2" fill="#fefbfb"/>
<path d="M288 307.4l-1.3-1.2-2.2 .8 1.4 1.2" fill="#fffefe"/>
<path d="M267.6 307.6l-1.2-1.3-2.2 .8 1.2 1.2" fill="#fefffe"/>
<path d="M299.3 306l-1.3-1.1-2.2 1 1.4 1.2" fill="#fef3f4"/>
<path d="M247.2 307.6l-1.2-1.3-2.2 .8 1.1 1.2" fill="#ffffff"/>
<path d="M282.4 307.7l-1.3-1.3-2.2 .8 1.3 1.3" fill="#ffffff"/>
<path d="M261.9 307.8l-1.2-1.3-2.2 .7 1.2 1.3" fill="#fefffe"/>
<path d="M241.5 307.9l-1.1-1.3-2.3 .8 1.1 1.2" fill="#fdfffd"/>
<path d="M316.3 304.1l-1.4-1.5-2.1 .6 1.4 1.6" fill="#fce2e4"/>
<path d="M305 304.8l-1.4-1.1-2.1 1.1 1.4 1.2" fill="#fceaeb"/>
<path d="M276.7 307.9l-1.3-1.3-2.1 .7 1.2 1.3" fill="#ffffff"/>
<path d="M235.8 308.1l-1.1-1.3-2.3 .7 1.1 1.3" fill="#fdfffd"/>
<path d="M256.3 307.9l-1.2-1.3-2.3 .8 1.2 1.3" fill="#ffffff"/>
<path d="M310.7 304.1l-1.4-1.4-2.1 1 1.4 1.4" fill="#fce2e4"/>
<path d="M319.8 305.4l-1.4-1.7-2.1 .4 1.4 1.8" fill="#fce8e9"/>
<path d="M271.1 308.1l-1.3-1.3-2.2 .8 1.2 1.2" fill="#ffffff"/>
<path d="M291.5 307.8l-1.3-1.2-2.2 .8 1.3 1.3" fill="#fffdfd"/>
<path d="M297.2 307.1l-1.4-1.2-2.1 1 1.3 1.2" fill="#fef7f7"/>
<path d="M250.6 308.1l-1.2-1.3-2.2 .8 1.1 1.3" fill="#fffefe"/>
<path d="M323.3 306.7l-1.5-1.6-2 .3 1.4 1.7" fill="#fdeff0"/>
<path d="M285.9 308.2l-1.4-1.2-2.1 .7 1.3 1.3" fill="#fefffe"/>
<path d="M265.4 308.3l-1.2-1.2-2.3 .7 1.3 1.3" fill="#fefffe"/>
<path d="M302.9 306l-1.4-1.2-2.2 1.2 1.4 1.2" fill="#fdeeef"/>
<path d="M244.9 308.3l-1.1-1.2-2.3 .8 1.1 1.2" fill="#fefffe"/>
<path d="M280.2 308.5l-1.3-1.3-2.2 .7 1.3 1.3" fill="#fefffe"/>
<path d="M259.7 308.5l-1.2-1.3-2.2 .7 1.2 1.3" fill="#fefffe"/>
<path d="M239.2 308.6l-1.1-1.2-2.3 .7 1.1 1.3" fill="#fdfffd"/>
<path d="M314.2 304.8l-1.4-1.6-2.1 .9 1.4 1.5" fill="#fce2e4"/>
<path d="M308.6 305.1l-1.4-1.4-2.2 1.1 1.4 1.4" fill="#fce5e7"/>
<path d="M274.5 308.6l-1.2-1.3-2.2 .8 1.2 1.3" fill="#ffffff"/>
<path d="M254 308.7l-1.2-1.3-2.2 .7 1.2 1.3" fill="#ffffff"/>
<path d="M233.5 308.8l-1.1-1.3-2.3 .7 1.1 1.3" fill="#fefffe"/>
<path d="M295 308.1l-1.3-1.2-2.2 .9 1.4 1.3" fill="#fefafa"/>
<path d="M289.3 308.7l-1.3-1.3-2.1 .8 1.3 1.3" fill="#fffefe"/>
<path d="M268.8 308.8l-1.2-1.2-2.2 .7 1.2 1.3" fill="#fefffe"/>
<path d="M300.7 307.2l-1.4-1.2-2.1 1.1 1.4 1.2" fill="#fef2f3"/>
<path d="M317.7 305.9l-1.4-1.8-2.1 .7 1.4 1.7" fill="#fce6e7"/>
<path d="M248.3 308.9l-1.1-1.3-2.3 .7 1.2 1.3" fill="#ffffff"/>
<path d="M283.7 309l-1.3-1.3-2.2 .8 1.3 1.3" fill="#fefffe"/>
<path d="M263.2 309.1l-1.3-1.3-2.2 .7 1.2 1.3" fill="#fefffe"/>
<path d="M242.6 309.1l-1.1-1.2-2.3 .7 1.2 1.3" fill="#fefffe"/>
<path d="M306.4 306.2l-1.4-1.4-2.1 1.2 1.4 1.3" fill="#fce9eb"/>
<path d="M321.2 307.1l-1.4-1.7-2.1 .5 1.4 1.8" fill="#fdeced"/>
<path d="M278 309.2l-1.3-1.3-2.2 .7 1.3 1.3" fill="#ffffff"/>
<path d="M312.1 305.6l-1.4-1.5-2.1 1 1.4 1.5" fill="#fce4e6"/>
<path d="M257.5 309.2l-1.2-1.3-2.3 .8 1.2 1.3" fill="#ffffff"/>
<path d="M236.9 309.4l-1.1-1.3-2.3 .7 1.1 1.3" fill="#fdfffd"/>
<path d="M324.7 308.3l-1.4-1.6-2.1 .4 1.5 1.7" fill="#fef4f4"/>
<path d="M272.3 309.4l-1.2-1.3-2.3 .7 1.3 1.3" fill="#ffffff"/>
<path d="M292.9 309.1l-1.4-1.3-2.2 .9 1.4 1.2" fill="#fffcfc"/>
<path d="M298.6 308.3l-1.4-1.2-2.2 1 1.4 1.3" fill="#fef6f7"/>
<path d="M251.8 309.4l-1.2-1.3-2.3 .8 1.2 1.2" fill="#ffffff"/>
<path d="M287.2 309.5l-1.3-1.3-2.2 .8 1.3 1.3" fill="#fefffe"/>
<path d="M266.6 309.6l-1.2-1.3-2.2 .8 1.2 1.2" fill="#fefffe"/>
<path d="M315.6 306.5l-1.4-1.7-2.1 .8 1.4 1.7" fill="#fce6e7"/>
<path d="M246.1 309.6l-1.2-1.3-2.3 .8 1.2 1.3" fill="#ffffff"/>
<path d="M304.3 307.3l-1.4-1.3-2.2 1.2 1.4 1.3" fill="#fdeeef"/>
<path d="M281.5 309.8l-1.3-1.3-2.2 .7 1.3 1.3" fill="#fefffe"/>
<path d="M260.9 309.8l-1.2-1.3-2.2 .7 1.2 1.3" fill="#fefffe"/>
<path d="M310 306.6l-1.4-1.5-2.2 1.1 1.4 1.5" fill="#fce7e8"/>
<path d="M240.4 309.9l-1.2-1.3-2.3 .8 1.2 1.2" fill="#fdfffd"/>
<path d="M319.1 307.7l-1.4-1.8-2.1 .6 1.4 1.8" fill="#fdebec"/>
<path d="M275.8 309.9l-1.3-1.3-2.2 .8 1.3 1.2" fill="#ffffff"/>
<path d="M255.2 310l-1.2-1.3-2.2 .7 1.2 1.3" fill="#ffffff"/>
<path d="M234.6 310.1l-1.1-1.3-2.3 .7 1.1 1.2" fill="#fefffe"/>
<path d="M296.4 309.4l-1.4-1.3-2.1 1 1.3 1.2" fill="#fefafa"/>
<path d="M290.7 309.9l-1.4-1.2-2.1 .8 1.3 1.3" fill="#fffefe"/>
<path d="M270.1 310.1l-1.3-1.3-2.2 .8 1.3 1.2" fill="#ffffff"/>
<path d="M322.7 308.8l-1.5-1.7-2.1 .6 1.5 1.8" fill="#fdf1f2"/>
<path d="M302.1 308.5l-1.4-1.3-2.1 1.1 1.3 1.3" fill="#fef2f3"/>
<path d="M249.5 310.1l-1.2-1.2-2.2 .7 1.1 1.3" fill="#ffffff"/>
<path d="M285 310.3l-1.3-1.3-2.2 .8 1.3 1.2" fill="#fefffe"/>
<path d="M313.5 307.3l-1.4-1.7-2.1 1 1.4 1.7" fill="#fce7e9"/>
<path d="M264.4 310.3l-1.2-1.2-2.3 .7 1.3 1.3" fill="#fefffe"/>
<path d="M307.8 307.7l-1.4-1.5-2.1 1.1 1.4 1.5" fill="#fdebec"/>
<path d="M243.8 310.4l-1.2-1.3-2.2 .8 1.1 1.2" fill="#fefffe"/>
<path d="M326.2 309.9l-1.5-1.6-2 .5 1.4 1.7" fill="#fef8f8"/>
<path d="M279.3 310.5l-1.3-1.3-2.2 .7 1.3 1.3" fill="#fefffe"/>
<path d="M258.7 310.5l-1.2-1.3-2.3 .8 1.2 1.3" fill="#ffffff"/>
<path d="M238.1 310.6l-1.2-1.2-2.3 .7 1.2 1.2" fill="#fefffe"/>
<path d="M317 308.3l-1.4-1.8-2.1 .8 1.4 1.8" fill="#fdebec"/>
<path d="M273.6 310.6l-1.3-1.2-2.2 .7 1.3 1.3" fill="#ffffff"/>
<path d="M294.2 310.3l-1.3-1.2-2.2 .8 1.3 1.3" fill="#fffcfc"/>
<path d="M253 310.7l-1.2-1.3-2.3 .7 1.2 1.3" fill="#ffffff"/>
<path d="M299.9 309.6l-1.3-1.3-2.2 1.1 1.4 1.3" fill="#fef6f7"/>
<path d="M288.5 310.8l-1.3-1.3-2.2 .8 1.3 1.3" fill="#ffffff"/>
<path d="M267.9 310.8l-1.3-1.2-2.2 .7 1.2 1.3" fill="#ffffff"/>
<path d="M305.7 308.8l-1.4-1.5-2.2 1.2 1.4 1.4" fill="#fdeff0"/>
<path d="M311.4 308.3l-1.4-1.7-2.2 1.1 1.4 1.6" fill="#fdeaeb"/>
<path d="M247.2 310.9l-1.1-1.3-2.3 .8 1.1 1.2" fill="#ffffff"/>
<path d="M320.6 309.5l-1.5-1.8-2.1 .6 1.5 1.9" fill="#fdf0f1"/>
<path d="M282.8 311l-1.3-1.2-2.2 .7 1.3 1.3" fill="#fefffe"/>
<path d="M262.2 311.1l-1.3-1.3-2.2 .7 1.2 1.3" fill="#fefffe"/>
<path d="M241.5 311.1l-1.1-1.2-2.3 .7 1.1 1.3" fill="#fefffe"/>
<path d="M324.1 310.5l-1.4-1.7-2.1 .7 1.4 1.7" fill="#fef7f7"/>
<path d="M277.1 311.2l-1.3-1.3-2.2 .7 1.3 1.3" fill="#ffffff"/>
<path d="M256.4 311.3l-1.2-1.3-2.2 .7 1.2 1.3" fill="#ffffff"/>
<path d="M235.8 311.3l-1.2-1.2-2.3 .6 1.1 1.3" fill="#fefffe"/>
<path d="M297.8 310.7l-1.4-1.3-2.2 .9 1.4 1.3" fill="#fef9fa"/>
<path d="M314.9 309.1l-1.4-1.8-2.1 1 1.4 1.7" fill="#fdeced"/>
<path d="M292 311.2l-1.3-1.3-2.2 .9 1.4 1.2" fill="#fffefe"/>
<path d="M271.4 311.4l-1.3-1.3-2.2 .7 1.2 1.3" fill="#ffffff"/>
<path d="M303.5 309.9l-1.4-1.4-2.2 1.1 1.4 1.4" fill="#fef3f4"/>
<path d="M250.7 311.4l-1.2-1.3-2.3 .8 1.2 1.3" fill="#ffffff"/>
<path d="M309.2 309.3l-1.4-1.6-2.1 1.1 1.4 1.5" fill="#fdedee"/>
<path d="M286.3 311.6l-1.3-1.3-2.2 .7 1.3 1.3" fill="#fefffe"/>
<path d="M327.7 311.4l-1.5-1.5-2.1 .6 1.5 1.6" fill="#fffcfc"/>
<path d="M265.6 311.6l-1.2-1.3-2.2 .8 1.2 1.2" fill="#ffffff"/>
<path d="M244.9 311.6l-1.1-1.2-2.3 .7 1.1 1.3" fill="#ffffff"/>
<path d="M318.5 310.2l-1.5-1.9-2.1 .8 1.4 1.9" fill="#fdf0f1"/>
<path d="M280.6 311.8l-1.3-1.3-2.2 .7 1.3 1.3" fill="#fefffe"/>
<path d="M259.9 311.8l-1.2-1.3-2.3 .8 1.2 1.3" fill="#ffffff"/>
<path d="M239.2 311.9l-1.1-1.3-2.3 .7 1.1 1.3" fill="#fefffe"/>
<path d="M274.9 311.9l-1.3-1.3-2.2 .8 1.2 1.3" fill="#ffffff"/>
<path d="M322 311.2l-1.4-1.7-2.1 .7 1.4 1.8" fill="#fef6f7"/>
<path d="M312.8 310l-1.4-1.7-2.2 1 1.4 1.6" fill="#fdeeef"/>
<path d="M301.3 311l-1.4-1.4-2.1 1.1 1.3 1.3" fill="#fef7f7"/>
<path d="M295.6 311.6l-1.4-1.3-2.2 .9 1.4 1.3" fill="#fffcfc"/>
<path d="M254.2 312l-1.2-1.3-2.3 .7 1.2 1.3" fill="#ffffff"/>
<path d="M307.1 310.3l-1.4-1.5-2.2 1.1 1.4 1.5" fill="#fdf1f2"/>
<path d="M289.9 312l-1.4-1.2-2.2 .8 1.4 1.2" fill="#ffffff"/>
<path d="M269.1 312.1l-1.2-1.3-2.3 .8 1.3 1.3" fill="#ffffff"/>
<path d="M248.4 312.2l-1.2-1.3-2.3 .7 1.2 1.3" fill="#ffffff"/>
<path d="M284.1 312.3l-1.3-1.3-2.2 .8 1.3 1.3" fill="#fefffe"/>
<path d="M325.6 312.1l-1.5-1.6-2.1 .7 1.5 1.7" fill="#fffcfc"/>
<path d="M263.4 312.3l-1.2-1.2-2.3 .7 1.2 1.3" fill="#ffffff"/>
<path d="M316.3 311l-1.4-1.9-2.1 .9 1.4 1.8" fill="#fdf1f2"/>
<path d="M242.6 312.4l-1.1-1.3-2.3 .8 1.1 1.3" fill="#ffffff"/>
<path d="M278.4 312.5l-1.3-1.3-2.2 .7 1.3 1.3" fill="#ffffff"/>
<path d="M257.6 312.6l-1.2-1.3-2.2 .7 1.2 1.3" fill="#ffffff"/>
<path d="M236.9 312.6l-1.1-1.3-2.4 .7 1.2 1.4" fill="#ffffff"/>
<path d="M310.6 310.9l-1.4-1.6-2.1 1 1.4 1.6" fill="#fdf0f1"/>
<path d="M299.1 312l-1.3-1.3-2.2 .9 1.4 1.3" fill="#fefafa"/>
<path d="M304.9 311.4l-1.4-1.5-2.2 1.1 1.4 1.4" fill="#fef4f5"/>
<path d="M293.4 312.5l-1.4-1.3-2.1 .8 1.3 1.3" fill="#fffdfe"/>
<path d="M272.6 312.7l-1.2-1.3-2.3 .7 1.3 1.3" fill="#ffffff"/>
<path d="M319.9 312l-1.4-1.8-2.2 .8 1.5 1.7" fill="#fef6f7"/>
<path d="M329.2 312.8l-1.5-1.4-2.1 .7 1.5 1.5" fill="#ffffff"/>
<path d="M251.9 312.7l-1.2-1.3-2.3 .8 1.2 1.3" fill="#ffffff"/>
<path d="M287.7 312.8l-1.4-1.2-2.2 .7 1.4 1.3" fill="#fefffe"/>
<path d="M266.9 312.9l-1.3-1.3-2.2 .7 1.2 1.3" fill="#ffffff"/>
<path d="M246.1 312.9l-1.2-1.3-2.3 .8 1.2 1.3" fill="#ffffff"/>
<path d="M281.9 313.1l-1.3-1.3-2.2 .7 1.3 1.3" fill="#fefffe"/>
<path d="M323.5 312.9l-1.5-1.7-2.1 .8 1.4 1.7" fill="#fffbfc"/>
<path d="M314.2 311.8l-1.4-1.8-2.2 .9 1.5 1.8" fill="#fef3f3"/>
<path d="M261.1 313.1l-1.2-1.3-2.3 .8 1.3 1.3" fill="#ffffff"/>
<path d="M240.3 313.2l-1.1-1.3-2.3 .7 1.1 1.3" fill="#ffffff"/>
<path d="M308.5 311.9l-1.4-1.6-2.2 1.1 1.4 1.5" fill="#fef3f4"/>
<path d="M276.2 313.2l-1.3-1.3-2.3 .8 1.3 1.3" fill="#ffffff"/>
<path d="M302.7 312.4l-1.4-1.4-2.2 1 1.4 1.4" fill="#fef8f8"/>
<path d="M297 312.9l-1.4-1.3-2.2 .9 1.4 1.3" fill="#fffcfc"/>
<path d="M255.4 313.3l-1.2-1.3-2.3 .7 1.2 1.4" fill="#ffffff"/>
<path d="M291.2 313.3l-1.3-1.3-2.2 .8 1.3 1.4" fill="#ffffff"/>
<path d="M317.8 312.7l-1.5-1.7-2.1 .8 1.4 1.7" fill="#fef7f7"/>
<path d="M270.4 313.4l-1.3-1.3-2.2 .8 1.3 1.3" fill="#ffffff"/>
<path d="M327.1 313.6l-1.5-1.5-2.1 .8 1.5 1.5" fill="#fefffe"/>
<path d="M249.6 313.5l-1.2-1.3-2.3 .7 1.2 1.4" fill="#ffffff"/>
<path d="M285.5 313.6l-1.4-1.3-2.2 .8 1.3 1.3" fill="#fefffe"/>
<path d="M264.6 313.6l-1.2-1.3-2.3 .8 1.3 1.3" fill="#ffffff"/>
<path d="M243.8 313.7l-1.2-1.3-2.3 .8 1.2 1.3" fill="#ffffff"/>
<path d="M312.1 312.7l-1.5-1.8-2.1 1 1.4 1.6" fill="#fef4f5"/>
<path d="M279.7 313.8l-1.3-1.3-2.2 .7 1.3 1.4" fill="#ffffff"/>
<path d="M321.3 313.7l-1.4-1.7-2.1 .7 1.4 1.7" fill="#fffbfc"/>
<path d="M258.9 313.9l-1.3-1.3-2.2 .7 1.2 1.3" fill="#ffffff"/>
<path d="M306.3 312.9l-1.4-1.5-2.2 1 1.4 1.5" fill="#fef6f7"/>
<path d="M238 313.9l-1.1-1.3-2.3 .8 1.1 1.3" fill="#ffffff"/>
<path d="M300.5 313.4l-1.4-1.4-2.1 .9 1.4 1.4" fill="#fefafa"/>
<path d="M294.8 313.8l-1.4-1.3-2.2 .8 1.4 1.4" fill="#fffdfd"/>
<path d="M273.9 314l-1.3-1.3-2.2 .7 1.3 1.4" fill="#ffffff"/>
<path d="M330.7 314l-1.5-1.2-2.1 .8 1.5 1.2" fill="#fefffe"/>
<path d="M253.1 314.1l-1.2-1.4-2.3 .8 1.2 1.3" fill="#ffffff"/>
<path d="M289 314.2l-1.3-1.4-2.2 .8 1.3 1.3" fill="#ffffff"/>
<path d="M315.6 313.5l-1.4-1.7-2.1 .9 1.4 1.6" fill="#fef7f8"/>
<path d="M268.2 314.2l-1.3-1.3-2.3 .7 1.3 1.4" fill="#ffffff"/>
<path d="M325 314.4l-1.5-1.5-2.2 .8 1.5 1.4" fill="#fefffe"/>
<path d="M247.3 314.3l-1.2-1.4-2.3 .8 1.2 1.3" fill="#ffffff"/>
<path d="M283.2 314.4l-1.3-1.3-2.2 .7 1.3 1.3" fill="#fefffe"/>
<path d="M262.4 314.4l-1.3-1.3-2.2 .8 1.2 1.3" fill="#ffffff"/>
<path d="M309.9 313.5l-1.4-1.6-2.2 1 1.4 1.5" fill="#fef6f7"/>
<path d="M241.5 314.5l-1.2-1.3-2.3 .7 1.2 1.3" fill="#ffffff"/>
<path d="M304.1 313.9l-1.4-1.5-2.2 1 1.4 1.4" fill="#fef9f9"/>
<path d="M277.5 314.6l-1.3-1.4-2.3 .8 1.3 1.3" fill="#ffffff"/>
<path d="M319.2 314.4l-1.4-1.7-2.2 .8 1.5 1.7" fill="#fffbfc"/>
<path d="M298.4 314.3l-1.4-1.4-2.2 .9 1.4 1.4" fill="#fffcfc"/>
<path d="M256.6 314.6l-1.2-1.3-2.3 .8 1.2 1.3" fill="#ffffff"/>
<path d="M292.6 314.7l-1.4-1.4-2.2 .9 1.4 1.3" fill="#fffefe"/>
<path d="M271.7 314.8l-1.3-1.4-2.2 .8 1.2 1.3" fill="#ffffff"/>
<path d="M328.6 314.8l-1.5-1.2-2.1 .8 1.5 1.2" fill="#fefffe"/>
<path d="M250.8 314.8l-1.2-1.3-2.3 .8 1.2 1.3" fill="#ffffff"/>
<path d="M313.5 314.3l-1.4-1.6-2.2 .8 1.4 1.6" fill="#fef8f9"/>
<path d="M286.8 314.9l-1.3-1.3-2.3 .8 1.4 1.3" fill="#fefffe"/>
<path d="M265.9 315l-1.3-1.4-2.2 .8 1.2 1.3" fill="#ffffff"/>
<path d="M322.8 315.1l-1.5-1.4-2.1 .7 1.5 1.5" fill="#fefffe"/>
<path d="M245 315l-1.2-1.3-2.3 .8 1.2 1.3" fill="#ffffff"/>
<path d="M307.7 314.4l-1.4-1.5-2.2 1 1.4 1.4" fill="#fef8f9"/>
<path d="M281 315.1l-1.3-1.3-2.2 .8 1.3 1.3" fill="#ffffff"/>
<path d="M260.1 315.2l-1.2-1.3-2.3 .7 1.2 1.4" fill="#ffffff"/>
<path d="M301.9 314.8l-1.4-1.4-2.1 .9 1.4 1.4" fill="#fffbfb"/>
<path d="M239.2 315.2l-1.2-1.3-2.3 .8 1.1 1.3" fill="#ffffff"/>
<path d="M296.2 315.2l-1.4-1.4-2.2 .9 1.4 1.3" fill="#fffefe"/>
<path d="M317.1 315.2l-1.5-1.7-2.1 .8 1.4 1.6" fill="#fffcfc"/>
<path d="M275.2 315.3l-1.3-1.3-2.2 .8 1.3 1.3" fill="#ffffff"/>
<path d="M254.3 315.4l-1.2-1.3-2.3 .7 1.2 1.4" fill="#ffffff"/>
<path d="M290.4 315.5l-1.4-1.3-2.2 .7 1.4 1.4" fill="#ffffff"/>
<path d="M269.4 315.5l-1.2-1.3-2.3 .8 1.3 1.3" fill="#ffffff"/>
<path d="M326.5 315.6l-1.5-1.2-2.2 .7 1.5 1.3" fill="#fefffe"/>
<path d="M248.5 315.6l-1.2-1.3-2.3 .7 1.2 1.4" fill="#ffffff"/>
<path d="M311.3 315.1l-1.4-1.6-2.2 .9 1.5 1.6" fill="#fef9fa"/>
<path d="M284.6 315.7l-1.4-1.3-2.2 .7 1.3 1.4" fill="#ffffff"/>
<path d="M263.6 315.7l-1.2-1.3-2.3 .8 1.2 1.3" fill="#ffffff"/>
<path d="M320.7 315.9l-1.5-1.5-2.1 .8 1.5 1.4" fill="#ffffff"/>
<path d="M305.5 315.3l-1.4-1.4-2.2 .9 1.5 1.4" fill="#fefafa"/>
<path d="M242.7 315.8l-1.2-1.3-2.3 .7 1.1 1.4" fill="#ffffff"/>
<path d="M278.8 315.9l-1.3-1.3-2.3 .7 1.3 1.4" fill="#ffffff"/>
<path d="M299.8 315.7l-1.4-1.4-2.2 .9 1.4 1.3" fill="#fffdfd"/>
<path d="M257.8 316l-1.2-1.4-2.3 .8 1.2 1.3" fill="#ffffff"/>
<path d="M294 316l-1.4-1.3-2.2 .8 1.3 1.3" fill="#fffeff"/>
<path d="M314.9 315.9l-1.4-1.6-2.2 .8 1.5 1.6" fill="#fffcfc"/>
<path d="M273 316.1l-1.3-1.3-2.3 .7 1.3 1.4" fill="#ffffff"/>
<path d="M252 316.2l-1.2-1.4-2.3 .8 1.2 1.3" fill="#ffffff"/>
<path d="M288.2 316.3l-1.4-1.4-2.2 .8 1.3 1.4" fill="#ffffff"/>
<path d="M267.2 316.3l-1.3-1.3-2.3 .7 1.3 1.4" fill="#ffffff"/>
<path d="M324.3 316.4l-1.5-1.3-2.1 .8 1.5 1.2" fill="#fefffe"/>
<path d="M309.2 316l-1.5-1.6-2.2 .9 1.5 1.5" fill="#fefafb"/>
<path d="M246.2 316.4l-1.2-1.4-2.3 .8 1.1 1.3" fill="#ffffff"/>
<path d="M282.3 316.5l-1.3-1.4-2.2 .8 1.3 1.3" fill="#ffffff"/>
<path d="M303.4 316.2l-1.5-1.4-2.1 .9 1.4 1.4" fill="#fffcfc"/>
<path d="M261.3 316.5l-1.2-1.3-2.3 .8 1.2 1.3" fill="#ffffff"/>
<path d="M318.6 316.6l-1.5-1.4-2.2 .7 1.5 1.5" fill="#ffffff"/>
<path d="M240.3 316.6l-1.1-1.4-2.4 .8 1.2 1.4" fill="#ffffff"/>
<path d="M297.6 316.5l-1.4-1.3-2.2 .8 1.3 1.4" fill="#fffefe"/>
<path d="M276.5 316.7l-1.3-1.4-2.2 .8 1.3 1.3" fill="#ffffff"/>
<path d="M255.5 316.7l-1.2-1.3-2.3 .8 1.2 1.3" fill="#ffffff"/>
<path d="M291.7 316.8l-1.3-1.3-2.2 .8 1.3 1.3" fill="#ffffff"/>
<path d="M312.8 316.7l-1.5-1.6-2.1 .9 1.4 1.5" fill="#fffcfc"/>
<path d="M270.7 316.9l-1.3-1.4-2.2 .8 1.2 1.4" fill="#ffffff"/>
<path d="M249.7 316.9l-1.2-1.3-2.3 .8 1.1 1.3" fill="#ffffff"/>
<path d="M285.9 317.1l-1.3-1.4-2.3 .8 1.4 1.3" fill="#ffffff"/>
<path d="M307 316.8l-1.5-1.5-2.1 .9 1.4 1.4" fill="#fffcfc"/>
<path d="M264.9 317.1l-1.3-1.4-2.3 .8 1.3 1.4" fill="#ffffff"/>
<path d="M322.2 317.1l-1.5-1.2-2.1 .7 1.5 1.3" fill="#fefffe"/>
<path d="M243.8 317.1l-1.1-1.3-2.4 .8 1.2 1.3" fill="#ffffff"/>
<path d="M280.1 317.2l-1.3-1.3-2.3 .8 1.4 1.3" fill="#ffffff"/>
<path d="M301.2 317.1l-1.4-1.4-2.2 .8 1.4 1.4" fill="#fffdfd"/>
<path d="M259 317.3l-1.2-1.3-2.3 .7 1.2 1.4" fill="#ffffff"/>
<path d="M316.4 317.4l-1.5-1.5-2.1 .8 1.4 1.4" fill="#ffffff"/>
<path d="M295.3 317.4l-1.3-1.4-2.3 .8 1.4 1.4" fill="#ffffff"/>
<path d="M274.3 317.4l-1.3-1.3-2.3 .8 1.3 1.3" fill="#ffffff"/>
<path d="M253.2 317.5l-1.2-1.3-2.3 .7 1.2 1.4" fill="#ffffff"/>
<path d="M289.5 317.6l-1.3-1.3-2.3 .8 1.4 1.3" fill="#ffffff"/>
<path d="M310.6 317.5l-1.4-1.5-2.2 .8 1.4 1.5" fill="#fffdfd"/>
<path d="M268.4 317.7l-1.2-1.4-2.3 .8 1.3 1.3" fill="#ffffff"/>
<path d="M247.3 317.7l-1.1-1.3-2.4 .7 1.2 1.4" fill="#ffffff"/>
<path d="M283.7 317.8l-1.4-1.3-2.2 .7 1.3 1.4" fill="#ffffff"/>
<path d="M304.8 317.6l-1.4-1.4-2.2 .9 1.4 1.4" fill="#fffdfd"/>
<path d="M262.6 317.9l-1.3-1.4-2.3 .8 1.3 1.4" fill="#ffffff"/>
<path d="M320.1 317.9l-1.5-1.3-2.2 .8 1.5 1.3" fill="#fefffe"/>
<path d="M241.5 317.9l-1.2-1.3-2.3 .8 1.1 1.3" fill="#ffffff"/>
<path d="M299 317.9l-1.4-1.4-2.3 .9 1.4 1.3" fill="#fffefe"/>
<path d="M277.9 318l-1.4-1.3-2.2 .7 1.3 1.4" fill="#ffffff"/>
<path d="M256.7 318.1l-1.2-1.4-2.3 .8 1.2 1.4" fill="#ffffff"/>
<path d="M314.2 318.1l-1.4-1.4-2.2 .8 1.5 1.4" fill="#fffefe"/>
<path d="M293.1 318.2l-1.4-1.4-2.2 .8 1.4 1.4" fill="#ffffff"/>
<path d="M272 318.2l-1.3-1.3-2.3 .8 1.3 1.3" fill="#ffffff"/>
<path d="M250.9 318.3l-1.2-1.4-2.4 .8 1.2 1.4" fill="#ffffff"/>
<path d="M287.3 318.4l-1.4-1.3-2.2 .7 1.3 1.4" fill="#ffffff"/>
<path d="M308.4 318.3l-1.4-1.5-2.2 .8 1.4 1.5" fill="#fffdfd"/>
<path d="M266.2 318.4l-1.3-1.3-2.3 .8 1.3 1.3" fill="#ffffff"/>
<path d="M245 318.5l-1.2-1.4-2.3 .8 1.2 1.4" fill="#ffffff"/>
<path d="M302.6 318.5l-1.4-1.4-2.2 .8 1.4 1.4" fill="#fffefe"/>
<path d="M281.4 318.6l-1.3-1.4-2.2 .8 1.3 1.4" fill="#ffffff"/>
<path d="M260.3 318.7l-1.3-1.4-2.3 .8 1.3 1.3" fill="#ffffff"/>
<path d="M317.9 318.7l-1.5-1.3-2.2 .7 1.5 1.4" fill="#fefffe"/>
<path d="M296.7 318.7l-1.4-1.3-2.2 .8 1.4 1.3" fill="#ffffff"/>
<path d="M275.6 318.8l-1.3-1.4-2.3 .8 1.3 1.4" fill="#ffffff"/>
<path d="M254.4 318.9l-1.2-1.4-2.3 .8 1.2 1.4" fill="#ffffff"/>
<path d="M312.1 318.9l-1.5-1.4-2.2 .8 1.5 1.4" fill="#fffefe"/>
<path d="M290.9 319l-1.4-1.4-2.2 .8 1.4 1.4" fill="#ffffff"/>
<path d="M269.7 319l-1.3-1.3-2.2 .7 1.2 1.4" fill="#ffffff"/>
<path d="M248.5 319.1l-1.2-1.4-2.3 .8 1.2 1.4" fill="#ffffff"/>
<path d="M306.2 319.1l-1.4-1.5-2.2 .9 1.4 1.4" fill="#fffefe"/>
<path d="M285 319.2l-1.3-1.4-2.3 .8 1.4 1.4" fill="#ffffff"/>
<path d="M263.9 319.2l-1.3-1.3-2.3 .8 1.2 1.3" fill="#ffffff"/>
<path d="M242.7 319.3l-1.2-1.4-2.4 .8 1.2 1.4" fill="#ffffff"/>
<path d="M300.4 319.3l-1.4-1.4-2.3 .8 1.5 1.4" fill="#fffefe"/>
<path d="M279.2 319.4l-1.3-1.4-2.3 .8 1.3 1.4" fill="#ffffff"/>
<path d="M258 319.4l-1.3-1.3-2.3 .8 1.3 1.3" fill="#ffffff"/>
<path d="M315.7 319.5l-1.5-1.4-2.1 .8 1.4 1.4" fill="#ffffff"/>
<path d="M294.5 319.5l-1.4-1.3-2.2 .8 1.4 1.3" fill="#ffffff"/>
<path d="M273.3 319.6l-1.3-1.4-2.3 .8 1.3 1.4" fill="#ffffff"/>
<path d="M252.1 319.7l-1.2-1.4-2.4 .8 1.3 1.3" fill="#ffffff"/>
<path d="M309.9 319.7l-1.5-1.4-2.2 .8 1.5 1.4" fill="#fffefe"/>
<path d="M288.7 319.8l-1.4-1.4-2.3 .8 1.4 1.3" fill="#ffffff"/>
<path d="M267.4 319.8l-1.2-1.4-2.3 .8 1.2 1.4" fill="#ffffff"/>
<path d="M246.2 319.9l-1.2-1.4-2.3 .8 1.1 1.4" fill="#ffffff"/>
<path d="M304 319.9l-1.4-1.4-2.2 .8 1.4 1.4" fill="#fffefe"/>
<path d="M282.8 320l-1.4-1.4-2.2 .8 1.3 1.3" fill="#ffffff"/>
<path d="M261.5 320l-1.2-1.3-2.3 .7 1.2 1.4" fill="#ffffff"/>
<path d="M298.2 320.1l-1.5-1.4-2.2 .8 1.4 1.4" fill="#ffffff"/>
<path d="M276.9 320.2l-1.3-1.4-2.3 .8 1.3 1.4" fill="#ffffff"/>
<path d="M255.7 320.2l-1.3-1.3-2.3 .8 1.2 1.3" fill="#ffffff"/>
<path d="M313.5 320.3l-1.4-1.4-2.2 .8 1.5 1.4" fill="#ffffff"/>
<path d="M292.3 320.3l-1.4-1.3-2.2 .8 1.3 1.3" fill="#ffffff"/>
<path d="M271 320.4l-1.3-1.4-2.3 .8 1.3 1.4" fill="#ffffff"/>
<path d="M249.8 320.4l-1.3-1.3-2.3 .8 1.2 1.3" fill="#ffffff"/>
<path d="M307.7 320.5l-1.5-1.4-2.2 .8 1.5 1.4" fill="#fffefe"/>
<path d="M286.4 320.5l-1.4-1.3-2.2 .8 1.3 1.3" fill="#ffffff"/>
<path d="M265.1 320.6l-1.2-1.4-2.4 .8 1.3 1.4" fill="#ffffff"/>
<path d="M243.8 320.7l-1.1-1.4-2.4 .8 1.2 1.3" fill="#ffffff"/>
<path d="M301.8 320.7l-1.4-1.4-2.2 .8 1.4 1.4" fill="#ffffff"/>
<path d="M280.5 320.7l-1.3-1.3-2.3 .8 1.3 1.3" fill="#ffffff"/>
<path d="M259.2 320.8l-1.2-1.4-2.3 .8 1.2 1.4" fill="#ffffff"/>
<path d="M295.9 320.9l-1.4-1.4-2.2 .8 1.4 1.4" fill="#ffffff"/>
<path d="M274.6 321l-1.3-1.4-2.3 .8 1.3 1.4" fill="#ffffff"/>
<path d="M253.3 321l-1.2-1.3-2.3 .7 1.2 1.4" fill="#ffffff"/>
<path d="M311.4 321.1l-1.5-1.4-2.2 .8 1.5 1.4" fill="#ffffff"/>
<path d="M290 321.1l-1.3-1.3-2.3 .7 1.4 1.4" fill="#ffffff"/>
<path d="M268.7 321.2l-1.3-1.4-2.3 .8 1.3 1.4" fill="#ffffff"/>
<path d="M247.4 321.2l-1.2-1.3-2.4 .8 1.2 1.3" fill="#ffffff"/>
<path d="M305.5 321.3l-1.5-1.4-2.2 .8 1.5 1.4" fill="#ffffff"/>
<path d="M284.1 321.3l-1.3-1.3-2.3 .7 1.4 1.4" fill="#ffffff"/>
<path d="M262.8 321.4l-1.3-1.4-2.3 .8 1.3 1.4" fill="#ffffff"/>
<path d="M299.6 321.5l-1.4-1.4-2.3 .8 1.5 1.4" fill="#ffffff"/>
<path d="M278.2 321.5l-1.3-1.3-2.3 .8 1.4 1.3" fill="#ffffff"/>
<path d="M256.9 321.6l-1.2-1.4-2.4 .8 1.3 1.4" fill="#ffffff"/>
<path d="M293.7 321.7l-1.4-1.4-2.3 .8 1.4 1.4" fill="#ffffff"/>
<path d="M272.3 321.8l-1.3-1.4-2.3 .8 1.3 1.4" fill="#ffffff"/>
<path d="M251 321.8l-1.2-1.4-2.4 .8 1.2 1.4" fill="#ffffff"/>
<path d="M309.2 321.9l-1.5-1.4-2.2 .8 1.4 1.4" fill="#ffffff"/>
<path d="M287.8 321.9l-1.4-1.4-2.3 .8 1.4 1.4" fill="#ffffff"/>
<path d="M266.4 322l-1.3-1.4-2.3 .8 1.3 1.4" fill="#ffffff"/>
<path d="M245 322l-1.2-1.3-2.3 .7 1.2 1.4" fill="#ffffff"/>
<path d="M303.3 322.1l-1.5-1.4-2.2 .8 1.4 1.4" fill="#ffffff"/>
<path d="M281.9 322.1l-1.4-1.4-2.3 .8 1.4 1.4" fill="#ffffff"/>
<path d="M260.5 322.2l-1.3-1.4-2.3 .8 1.3 1.4" fill="#ffffff"/>
<path d="M297.4 322.3l-1.5-1.4-2.2 .8 1.4 1.4" fill="#ffffff"/>
<path d="M276 322.3l-1.4-1.3-2.3 .8 1.4 1.4" fill="#ffffff"/>
<path d="M254.6 322.4l-1.3-1.4-2.3 .8 1.2 1.4" fill="#ffffff"/>
<path d="M291.4 322.5l-1.4-1.4-2.2 .8 1.4 1.4" fill="#ffffff"/>
<path d="M270 322.6l-1.3-1.4-2.3 .8 1.3 1.4" fill="#ffffff"/>
<path d="M248.6 322.6l-1.2-1.4-2.4 .8 1.2 1.4" fill="#ffffff"/>
<path d="M306.9 322.7l-1.4-1.4-2.2 .8 1.4 1.4" fill="#ffffff"/>
<path d="M285.5 322.7l-1.4-1.4-2.2 .8 1.3 1.4" fill="#ffffff"/>
<path d="M264.1 322.8l-1.3-1.4-2.3 .8 1.3 1.4" fill="#ffffff"/>
<path d="M301 322.9l-1.4-1.4-2.2 .8 1.4 1.4" fill="#ffffff"/>
<path d="M279.6 322.9l-1.4-1.4-2.2 .8 1.3 1.4" fill="#ffffff"/>
<path d="M258.2 323l-1.3-1.4-2.3 .8 1.2 1.4" fill="#ffffff"/>
<path d="M295.1 323.1l-1.4-1.4-2.3 .8 1.4 1.4" fill="#ffffff"/>
<path d="M273.7 323.2l-1.4-1.4-2.3 .8 1.3 1.4" fill="#ffffff"/>
<path d="M252.2 323.2l-1.2-1.4-2.4 .8 1.2 1.4" fill="#ffffff"/>
<path d="M289.2 323.3l-1.4-1.4-2.3 .8 1.4 1.4" fill="#ffffff"/>
<path d="M267.7 323.4l-1.3-1.4-2.3 .8 1.3 1.4" fill="#ffffff"/>
<path d="M246.2 323.4l-1.2-1.4-2.3 .8 1.2 1.4" fill="#ffffff"/>
<path d="M304.7 323.5l-1.4-1.4-2.3 .8 1.5 1.4" fill="#ffffff"/>
<path d="M283.2 323.5l-1.3-1.4-2.3 .8 1.4 1.4" fill="#ffffff"/>
<path d="M261.8 323.6l-1.3-1.4-2.3 .8 1.2 1.4" fill="#ffffff"/>
<path d="M298.8 323.7l-1.4-1.4-2.3 .8 1.4 1.4" fill="#ffffff"/>
<path d="M277.3 323.7l-1.3-1.4-2.3 .9 1.3 1.4" fill="#ffffff"/>
<path d="M255.8 323.8l-1.2-1.4-2.4 .8 1.2 1.4" fill="#ffffff"/>
<path d="M292.8 323.9l-1.4-1.4-2.2 .8 1.4 1.4" fill="#ffffff"/>
<path d="M271.3 324l-1.3-1.4-2.3 .8 1.3 1.4" fill="#ffffff"/>
<path d="M249.8 324l-1.2-1.4-2.4 .8 1.3 1.4" fill="#ffffff"/>
<path d="M286.9 324.1l-1.4-1.4-2.3 .8 1.4 1.4" fill="#ffffff"/>
<path d="M265.4 324.2l-1.3-1.4-2.3 .8 1.3 1.4" fill="#ffffff"/>
<path d="M302.5 324.3l-1.5-1.4-2.2 .8 1.4 1.4" fill="#ffffff"/>
<path d="M281 324.3l-1.4-1.4-2.3 .8 1.4 1.5" fill="#ffffff"/>
<path d="M259.4 324.4l-1.2-1.4-2.4 .8 1.3 1.4" fill="#ffffff"/>
<path d="M296.5 324.5l-1.4-1.4-2.3 .8 1.5 1.4" fill="#ffffff"/>
<path d="M275 324.6l-1.3-1.4-2.4 .8 1.4 1.4" fill="#ffffff"/>
<path d="M253.4 324.6l-1.2-1.4-2.4 .8 1.3 1.4" fill="#ffffff"/>
<path d="M290.6 324.7l-1.4-1.4-2.3 .8 1.4 1.4" fill="#ffffff"/>
<path d="M269 324.8l-1.3-1.4-2.3 .8 1.3 1.4" fill="#ffffff"/>
<path d="M247.5 324.8l-1.3-1.4-2.3 .8 1.2 1.5" fill="#ffffff"/>
<path d="M284.6 324.9l-1.4-1.4-2.2 .8 1.3 1.4" fill="#ffffff"/>
<path d="M263.1 325l-1.3-1.4-2.4 .8 1.3 1.4" fill="#ffffff"/>
<path d="M300.2 325.1l-1.4-1.4-2.3 .8 1.5 1.4" fill="#ffffff"/>
<path d="M278.7 325.2l-1.4-1.5-2.3 .9 1.3 1.4" fill="#ffffff"/>
<path d="M257.1 325.2l-1.3-1.4-2.4 .8 1.3 1.4" fill="#ffffff"/>
<path d="M294.3 325.3l-1.5-1.4-2.2 .8 1.4 1.4" fill="#ffffff"/>
<path d="M272.7 325.4l-1.4-1.4-2.3 .8 1.3 1.4" fill="#ffffff"/>
<path d="M251.1 325.4l-1.3-1.4-2.3 .8 1.2 1.5" fill="#ffffff"/>
<path d="M288.3 325.5l-1.4-1.4-2.3 .8 1.4 1.5" fill="#ffffff"/>
<path d="M266.7 325.6l-1.3-1.4-2.3 .8 1.2 1.4" fill="#ffffff"/>
<path d="M282.3 325.7l-1.3-1.4-2.3 .9 1.3 1.4" fill="#ffffff"/>
<path d="M260.7 325.8l-1.3-1.4-2.3 .8 1.2 1.4" fill="#ffffff"/>
<path d="M298 325.9l-1.5-1.4-2.2 .8 1.4 1.4" fill="#ffffff"/>
<path d="M276.3 326l-1.3-1.4-2.3 .8 1.3 1.4" fill="#ffffff"/>
<path d="M254.7 326l-1.3-1.4-2.3 .8 1.2 1.5" fill="#ffffff"/>
<path d="M292 326.1l-1.4-1.4-2.3 .8 1.4 1.5" fill="#ffffff"/>
<path d="M270.3 326.2l-1.3-1.4-2.3 .8 1.3 1.4" fill="#ffffff"/>
<path d="M248.7 326.3l-1.2-1.5-2.4 .9 1.2 1.4" fill="#ffffff"/>
<path d="M286 326.4l-1.4-1.5-2.3 .8 1.4 1.5" fill="#ffffff"/>
<path d="M264.3 326.4l-1.2-1.4-2.4 .8 1.3 1.4" fill="#ffffff"/>
<path d="M280 326.6l-1.3-1.4-2.4 .8 1.4 1.4" fill="#ffffff"/>
<path d="M258.3 326.6l-1.2-1.4-2.4 .8 1.3 1.5" fill="#ffffff"/>
<path d="M295.7 326.7l-1.4-1.4-2.3 .8 1.4 1.5" fill="#ffffff"/>
<path d="M274 326.8l-1.3-1.4-2.4 .8 1.4 1.4" fill="#ffffff"/>
<path d="M252.3 326.9l-1.2-1.5-2.4 .9 1.2 1.4" fill="#ffffff"/>
<path d="M289.7 327l-1.4-1.5-2.3 .9 1.4 1.4" fill="#ffffff"/>
<path d="M268 327l-1.3-1.4-2.4 .8 1.4 1.4" fill="#ffffff"/>
<path d="M283.7 327.2l-1.4-1.5-2.3 .9 1.4 1.4" fill="#ffffff"/>
<path d="M262 327.2l-1.3-1.4-2.4 .8 1.3 1.5" fill="#ffffff"/>
<path d="M277.7 327.4l-1.4-1.4-2.3 .8 1.4 1.4" fill="#ffffff"/>
<path d="M256 327.5l-1.3-1.5-2.4 .9 1.3 1.4" fill="#ffffff"/>
<path d="M293.4 327.6l-1.4-1.5-2.3 .9 1.4 1.4" fill="#ffffff"/>
<path d="M271.7 327.6l-1.4-1.4-2.3 .8 1.3 1.5" fill="#ffffff"/>
<path d="M249.9 327.7l-1.2-1.4-2.4 .8 1.2 1.4" fill="#ffffff"/>
<path d="M287.4 327.8l-1.4-1.4-2.3 .8 1.4 1.4" fill="#ffffff"/>
<path d="M265.7 327.8l-1.4-1.4-2.3 .8 1.3 1.5" fill="#ffffff"/>
<path d="M281.4 328l-1.4-1.4-2.3 .8 1.4 1.4" fill="#ffffff"/>
<path d="M259.6 328.1l-1.3-1.5-2.3 .9 1.2 1.4" fill="#ffffff"/>
<path d="M275.4 328.2l-1.4-1.4-2.3 .8 1.3 1.5" fill="#ffffff"/>
<path d="M253.6 328.3l-1.3-1.4-2.4 .8 1.3 1.4" fill="#ffffff"/>
<path d="M291.1 328.4l-1.4-1.4-2.3 .8 1.4 1.4" fill="#ffffff"/>
<path d="M269.3 328.5l-1.3-1.5-2.3 .8 1.3 1.5" fill="#ffffff"/>
<path d="M285.1 328.6l-1.4-1.4-2.3 .8 1.4 1.5" fill="#ffffff"/>
<path d="M263.3 328.7l-1.3-1.5-2.4 .9 1.3 1.4" fill="#ffffff"/>
<path d="M279.1 328.8l-1.4-1.4-2.3 .8 1.3 1.5" fill="#ffffff"/>
<path d="M257.2 328.9l-1.2-1.4-2.4 .8 1.2 1.4" fill="#ffffff"/>
<path d="M273 329.1l-1.3-1.5-2.4 .9 1.4 1.4" fill="#ffffff"/>
<path d="M251.2 329.1l-1.3-1.4-2.4 .8 1.3 1.5" fill="#ffffff"/>
<path d="M288.8 329.2l-1.4-1.4-2.3 .8 1.4 1.5" fill="#ffffff"/>
<path d="M267 329.3l-1.3-1.5-2.4 .9 1.3 1.4" fill="#ffffff"/>
<path d="M282.8 329.5l-1.4-1.5-2.3 .8 1.3 1.5" fill="#ffffff"/>
<path d="M260.9 329.5l-1.3-1.4-2.4 .8 1.3 1.5" fill="#ffffff"/>
<path d="M276.7 329.7l-1.3-1.5-2.4 .9 1.4 1.4" fill="#ffffff"/>
<path d="M254.8 329.7l-1.2-1.4-2.4 .8 1.2 1.5" fill="#ffffff"/>
<path d="M270.7 329.9l-1.4-1.4-2.3 .8 1.3 1.5" fill="#ffffff"/>
<path d="M286.5 330.1l-1.4-1.5-2.3 .9 1.4 1.4" fill="#ffffff"/>
<path d="M264.6 330.1l-1.3-1.4-2.4 .8 1.3 1.5" fill="#ffffff"/>
<path d="M280.4 330.3l-1.3-1.5-2.4 .9 1.4 1.4" fill="#ffffff"/>
<path d="M258.5 330.4l-1.3-1.5-2.4 .8 1.3 1.5" fill="#ffffff"/>
<path d="M274.4 330.5l-1.4-1.4-2.3 .8 1.3 1.5" fill="#ffffff"/>
<path d="M252.4 330.6l-1.2-1.5-2.4 .9 1.2 1.4" fill="#ffffff"/>
<path d="M268.3 330.8l-1.3-1.5-2.4 .8 1.3 1.5" fill="#ffffff"/>
<path d="M284.2 330.9l-1.4-1.4-2.4 .8 1.4 1.5" fill="#ffffff"/>
<path d="M262.2 331l-1.3-1.5-2.4 .9 1.3 1.4" fill="#ffffff"/>
<path d="M278.1 331.1l-1.4-1.4-2.3 .8 1.3 1.5" fill="#ffffff"/>
<path d="M256.1 331.2l-1.3-1.5-2.4 .9 1.3 1.5" fill="#ffffff"/>
<path d="M272 331.4l-1.3-1.5-2.4 .9 1.3 1.4" fill="#ffffff"/>
<path d="M265.9 331.6l-1.3-1.5-2.4 .9 1.3 1.4" fill="#ffffff"/>
<path d="M281.8 331.8l-1.4-1.5-2.3 .8 1.4 1.5" fill="#ffffff"/>
<path d="M259.8 331.8l-1.3-1.4-2.4 .8 1.3 1.5" fill="#ffffff"/>
<path d="M275.7 332l-1.3-1.5-2.4 .9 1.4 1.4" fill="#ffffff"/>
<path d="M253.7 332.1l-1.3-1.5-2.4 .8 1.3 1.5" fill="#ffffff"/>
<path d="M269.6 332.2l-1.3-1.4-2.4 .8 1.4 1.5" fill="#ffffff"/>
<path d="M263.5 332.4l-1.3-1.4-2.4 .8 1.3 1.5" fill="#ffffff"/>
<path d="M279.5 332.6l-1.4-1.5-2.4 .9 1.4 1.5" fill="#ffffff"/>
<path d="M257.4 332.7l-1.3-1.5-2.4 .9 1.3 1.4" fill="#ffffff"/>
<path d="M273.4 332.8l-1.4-1.4-2.4 .8 1.4 1.5" fill="#ffffff"/>
<path d="M267.3 333.1l-1.4-1.5-2.4 .8 1.4 1.5" fill="#ffffff"/>
<path d="M261.1 333.3l-1.3-1.5-2.4 .9 1.3 1.5" fill="#ffffff"/>
<path d="M277.1 333.5l-1.4-1.5-2.3 .8 1.3 1.5" fill="#ffffff"/>
<path d="M255 333.5l-1.3-1.4-2.4 .8 1.3 1.5" fill="#ffffff"/>
<path d="M271 333.7l-1.4-1.5-2.3 .9 1.3 1.5" fill="#ffffff"/>
<path d="M264.9 333.9l-1.4-1.5-2.4 .9 1.3 1.5" fill="#ffffff"/>
<path d="M258.7 334.2l-1.3-1.5-2.4 .8 1.3 1.5" fill="#ffffff"/>
<path d="M274.7 334.3l-1.3-1.5-2.4 .9 1.4 1.5" fill="#ffffff"/>
<path d="M268.6 334.6l-1.3-1.5-2.4 .8 1.3 1.5" fill="#ffffff"/>
<path d="M262.4 334.8l-1.3-1.5-2.4 .9 1.3 1.5" fill="#ffffff"/>
<path d="M256.3 335l-1.3-1.5-2.4 .9 1.2 1.5" fill="#ffffff"/>
<path d="M272.4 335.2l-1.4-1.5-2.4 .9 1.4 1.5" fill="#ffffff"/>
<path d="M266.2 335.4l-1.3-1.5-2.5 .9 1.4 1.5" fill="#ffffff"/>
<path d="M260 335.7l-1.3-1.5-2.4 .8 1.3 1.5" fill="#ffffff"/>
<path d="M270 336.1l-1.4-1.5-2.4 .8 1.3 1.5" fill="#ffffff"/>
<path d="M263.8 336.3l-1.4-1.5-2.4 .9 1.3 1.5" fill="#ffffff"/>
<path d="M257.6 336.5l-1.3-1.5-2.5 .9 1.3 1.5" fill="#ffffff"/>
<path d="M267.5 336.9l-1.3-1.5-2.4 .9 1.3 1.5" fill="#ffffff"/>
<path d="M261.3 337.2l-1.3-1.5-2.4 .8 1.3 1.6" fill="#ffffff"/>
<path d="M265.1 337.8l-1.3-1.5-2.5 .9 1.4 1.5" fill="#ffffff"/>
<path d="M258.9 338.1l-1.3-1.6-2.5 .9 1.4 1.5" fill="#ffffff"/>
<path d="M262.7 338.7l-1.4-1.5-2.4 .9 1.3 1.5" fill="#ffffff"/>
<path d="M260.2 339.6l-1.3-1.5-2.4 .8 1.3 1.6" fill="#ffffff"/>
</g>
<line x1="217.8" y1="262.88" x2="256.75" y2="303.66" stroke="#333" stroke-width="0.8"/>
<line x1="256.75" y1="303.66" x2="333.93" y2="278.72" stroke="#333" stroke-width="0.8"/>
<line x1="256.75" y1="303.66" x2="258.68" y2="373.24" stroke="#333" stroke-width="0.8"/>
<line x1="217.8" y1="262.88" x2="223.28" y2="328.06" stroke="#3a3a3a" stroke-width="0.85"/>
<line x1="333.93" y1="278.72" x2="327.81" y2="345.76" stroke="#3a3a3a" stroke-width="0.85"/>
<line x1="223.28" y1="328.06" x2="258.68" y2="373.24" stroke="#3a3a3a" stroke-width="0.85"/>
<line x1="258.68" y1="373.24" x2="327.81" y2="345.76" stroke="#3a3a3a" stroke-width="0.85"/>
<line x1="214.73" y1="266.87" x2="218.13" y2="266.87" stroke="#3a3a3a" stroke-width="0.7"/>
<text transform="translate(212.73 268.77) scale(1 0.8)" font-size="9" text-anchor="end" stroke="#222" stroke-width="0.12">80</text>
<line x1="215.39" y1="274.7" x2="218.79" y2="274.7" stroke="#3a3a3a" stroke-width="0.7"/>
<text transform="translate(213.39 276.6) scale(1 0.8)" font-size="9" text-anchor="end" stroke="#222" stroke-width="0.12">60</text>
<line x1="216.03" y1="282.36" x2="219.43" y2="282.36" stroke="#3a3a3a" stroke-width="0.7"/>
<text transform="translate(214.03 284.26) scale(1 0.8)" font-size="9" text-anchor="end" stroke="#222" stroke-width="0.12">40</text>
<line x1="216.66" y1="289.83" x2="220.06" y2="289.83" stroke="#3a3a3a" stroke-width="0.7"/>
<text transform="translate(214.66 291.73) scale(1 0.8)" font-size="9" text-anchor="end" stroke="#222" stroke-width="0.12">20</text>
<line x1="217.28" y1="297.14" x2="220.68" y2="297.14" stroke="#3a3a3a" stroke-width="0.7"/>
<text transform="translate(215.28 299.04) scale(1 0.8)" font-size="9" text-anchor="end" stroke="#222" stroke-width="0.12">0</text>
<line x1="217.88" y1="304.28" x2="221.28" y2="304.28" stroke="#3a3a3a" stroke-width="0.7"/>
<text transform="translate(215.88 306.18) scale(1 0.8)" font-size="9" text-anchor="end" stroke="#222" stroke-width="0.12">−20</text>
<line x1="218.46" y1="311.26" x2="221.86" y2="311.26" stroke="#3a3a3a" stroke-width="0.7"/>
<text transform="translate(216.46 313.16) scale(1 0.8)" font-size="9" text-anchor="end" stroke="#222" stroke-width="0.12">−40</text>
<line x1="219.04" y1="318.09" x2="222.44" y2="318.09" stroke="#3a3a3a" stroke-width="0.7"/>
<text transform="translate(217.04 319.99) scale(1 0.8)" font-size="9" text-anchor="end" stroke="#222" stroke-width="0.12">−60</text>
<line x1="219.6" y1="324.78" x2="223" y2="324.78" stroke="#3a3a3a" stroke-width="0.7"/>
<text transform="translate(217.6 326.68) scale(1 0.8)" font-size="9" text-anchor="end" stroke="#222" stroke-width="0.12">−80</text>
<text transform="translate(197.58 300.64) rotate(-90) scale(1 0.88)" font-size="10" text-anchor="middle" font-weight="bold" textLength="28.5" lengthAdjust="spacingAndGlyphs">δ − score</text>
<line x1="253.04" y1="366.05" x2="251.44" y2="368.25" stroke="#3a3a3a" stroke-width="0.7"/>
<text transform="translate(252.74 374.65) rotate(-40) scale(1 0.8)" font-size="9" text-anchor="end" stroke="#222" stroke-width="0.12">0.1</text>
<line x1="247.61" y1="359.12" x2="246.01" y2="361.32" stroke="#3a3a3a" stroke-width="0.7"/>
<text transform="translate(247.31 367.72) rotate(-40) scale(1 0.8)" font-size="9" text-anchor="end" stroke="#222" stroke-width="0.12">1</text>
<line x1="242.39" y1="352.45" x2="240.79" y2="354.65" stroke="#3a3a3a" stroke-width="0.7"/>
<text transform="translate(242.09 361.05) rotate(-40) scale(1 0.8)" font-size="9" text-anchor="end" stroke="#222" stroke-width="0.12">2.5</text>
<line x1="237.35" y1="346.02" x2="235.75" y2="348.22" stroke="#3a3a3a" stroke-width="0.7"/>
<text transform="translate(237.05 354.62) rotate(-40) scale(1 0.8)" font-size="9" text-anchor="end" stroke="#222" stroke-width="0.12">5</text>
<line x1="232.49" y1="339.82" x2="230.89" y2="342.02" stroke="#3a3a3a" stroke-width="0.7"/>
<text transform="translate(232.19 348.42) rotate(-40) scale(1 0.8)" font-size="9" text-anchor="end" stroke="#222" stroke-width="0.12">10</text>
<line x1="227.8" y1="333.84" x2="226.2" y2="336.04" stroke="#3a3a3a" stroke-width="0.7"/>
<text transform="translate(227.5 342.44) rotate(-40) scale(1 0.8)" font-size="9" text-anchor="end" stroke="#222" stroke-width="0.12">100</text>
<line x1="223.28" y1="328.06" x2="221.68" y2="330.26" stroke="#3a3a3a" stroke-width="0.7"/>
<text transform="translate(222.98 336.66) rotate(-40) scale(1 0.8)" font-size="9" text-anchor="end" stroke="#222" stroke-width="0.12">500</text>
<line x1="269.21" y1="369.06" x2="269.71" y2="371.66" stroke="#3a3a3a" stroke-width="0.7"/>
<text transform="translate(273.01 374.86) rotate(-80) scale(1 0.8)" font-size="9" text-anchor="end" stroke="#222" stroke-width="0.12">0.1</text>
<line x1="279.52" y1="364.96" x2="280.02" y2="367.56" stroke="#3a3a3a" stroke-width="0.7"/>
<text transform="translate(283.32 370.76) rotate(-80) scale(1 0.8)" font-size="9" text-anchor="end" stroke="#222" stroke-width="0.12">1</text>
<line x1="289.6" y1="360.95" x2="290.1" y2="363.55" stroke="#3a3a3a" stroke-width="0.7"/>
<text transform="translate(293.4 366.75) rotate(-80) scale(1 0.8)" font-size="9" text-anchor="end" stroke="#222" stroke-width="0.12">2.5</text>
<line x1="299.46" y1="357.03" x2="299.96" y2="359.63" stroke="#3a3a3a" stroke-width="0.7"/>
<text transform="translate(303.26 362.83) rotate(-80) scale(1 0.8)" font-size="9" text-anchor="end" stroke="#222" stroke-width="0.12">5</text>
<line x1="309.11" y1="353.2" x2="309.61" y2="355.8" stroke="#3a3a3a" stroke-width="0.7"/>
<text transform="translate(312.91 359) rotate(-80) scale(1 0.8)" font-size="9" text-anchor="end" stroke="#222" stroke-width="0.12">10</text>
<line x1="318.56" y1="349.44" x2="319.06" y2="352.04" stroke="#3a3a3a" stroke-width="0.7"/>
<text transform="translate(322.36 355.24) rotate(-80) scale(1 0.8)" font-size="9" text-anchor="end" stroke="#222" stroke-width="0.12">100</text>
<line x1="327.81" y1="345.76" x2="328.31" y2="348.36" stroke="#3a3a3a" stroke-width="0.7"/>
<text transform="translate(331.61 351.56) rotate(-80) scale(1 0.8)" font-size="9" text-anchor="end" stroke="#222" stroke-width="0.12">500</text>
<text transform="translate(212.84 368.41) rotate(50) scale(1 0.88)" font-size="10.5" text-anchor="middle" font-weight="bold" textLength="48.5" lengthAdjust="spacingAndGlyphs">AZD5991 (nM)</text>
<text transform="translate(311.06 385.98) rotate(-24) scale(1 0.88)" font-size="10.5" text-anchor="middle" font-weight="bold" textLength="48.5" lengthAdjust="spacingAndGlyphs">AZD4320 (nM)</text>
<text transform="translate(431.75 212) scale(1 0.88)" font-size="10.3" text-anchor="middle" stroke="#222" stroke-width="0.12">Bliss synergy score: 10.19</text>
<rect x="359.2" y="229.4" width="148.3" height="2.2" fill="url(#gwr)"/>
<text transform="translate(359.2 225.3)" font-size="8.4" text-anchor="middle" stroke="#222" stroke-width="0.12">−80</text>
<text transform="translate(377.74 225.3)" font-size="8.4" text-anchor="middle" stroke="#222" stroke-width="0.12">−60</text>
<text transform="translate(396.27 225.3)" font-size="8.4" text-anchor="middle" stroke="#222" stroke-width="0.12">−40</text>
<text transform="translate(414.81 225.3)" font-size="8.4" text-anchor="middle" stroke="#222" stroke-width="0.12">−20</text>
<text transform="translate(433.35 225.3)" font-size="8.4" text-anchor="middle" stroke="#222" stroke-width="0.12">0</text>
<text transform="translate(451.89 225.3)" font-size="8.4" text-anchor="middle" stroke="#222" stroke-width="0.12">20</text>
<text transform="translate(470.43 225.3)" font-size="8.4" text-anchor="middle" stroke="#222" stroke-width="0.12">40</text>
<text transform="translate(488.96 225.3)" font-size="8.4" text-anchor="middle" stroke="#222" stroke-width="0.12">60</text>
<text transform="translate(507.5 225.3)" font-size="8.4" text-anchor="middle" stroke="#222" stroke-width="0.12">80</text>
<line x1="379.91" y1="327.83" x2="443.9" y2="306.26" stroke="#3a3a3a" stroke-width="0.85" stroke-dasharray="1 1.3"/>
<line x1="443.9" y1="306.26" x2="484.98" y2="345.62" stroke="#3a3a3a" stroke-width="0.85" stroke-dasharray="1 1.3"/>
<line x1="443.9" y1="306.26" x2="445.18" y2="243.26" stroke="#3a3a3a" stroke-width="0.85" stroke-dasharray="1 1.3"/>
<line x1="374.4" y1="262.31" x2="445.18" y2="243.26" stroke="#3a3a3a" stroke-width="0.85"/>
<line x1="445.18" y1="243.26" x2="491.13" y2="278.23" stroke="#3a3a3a" stroke-width="0.85"/>
<g stroke="#000" stroke-width="0.85" stroke-opacity="0.66" stroke-linejoin="round" filter="url(#sb)">
<path d="M435.9 259.9l-1.2-1.2-2 2.1 1.2 1.3" fill="#eb5962"/>
<path d="M433.9 262.1l-1.2-1.3-2.1 1.9 1.2 1.4" fill="#ed636c"/>
<path d="M438 257.5l-1.2-1-2.1 2.2 1.2 1.2" fill="#ea4d58"/>
<path d="M431.8 264.1l-1.2-1.4-2.1 1.8 1.2 1.5" fill="#ee6c75"/>
<path d="M440.1 254.8l-1.2-.6-2.1 2.3 1.2 1" fill="#e9414c"/>
<path d="M429.7 266l-1.2-1.5-2.1 1.6 1.2 1.7" fill="#ef757d"/>
<path d="M427.6 267.8l-1.2-1.7-2 1.6 1.1 1.7" fill="#f07c84"/>
<path d="M442.2 251.9l-1.3-.3-2 2.6 1.2 .6" fill="#e7333f"/>
<path d="M425.5 269.4l-1.1-1.7-2.1 1.6 1.2 1.8" fill="#f1848b"/>
<path d="M444.3 248.6l-1.3 .3-2.1 2.7 1.3 .3" fill="#e52431"/>
<path d="M455.1 282.9l2-1.1-1.2-3.6-2 1.2z" fill="#f8c1c4"/>
<path d="M435.1 264.1l-1.2-2-2.1 2 1.2 2" fill="#ed6770"/>
<path d="M423.5 271.1l-1.2-1.8-2.1 1.5 1.2 1.8" fill="#f18b92"/>
<path d="M437.2 261.8l-1.3-1.9-2 2.2 1.2 2" fill="#ec5d66"/>
<path d="M433 266.1l-1.2-2-2.1 1.9 1.2 2" fill="#ee717a"/>
<path d="M439.2 259.3l-1.2-1.8-2.1 2.4 1.3 1.9" fill="#ea505b"/>
<path d="M453.9 279.4l2-1.2-1.1-4.6-2.1 1.7z" fill="#f5a9ae"/>
<path d="M430.9 268l-1.2-2-2.1 1.8 1.2 2" fill="#ef7a82"/>
<path d="M456.3 285.6l2.1-.9-1.3-2.9-2 1.1z" fill="#fad3d5"/>
<path d="M421.4 272.6l-1.2-1.8-2.1 1.5 1.2 1.8" fill="#f29298"/>
<path d="M428.8 269.8l-1.2-2-2.1 1.6 1.2 2.1" fill="#f0828a"/>
<path d="M441.3 256.5l-1.2-1.7-2.1 2.7 1.2 1.8" fill="#e9434e"/>
<path d="M446.4 245l-1.3 .9-2.1 3 1.3-.3" fill="#e31321"/>
<path d="M453 283.9l2.1-1-1.2-3.5-2.1 1.3z" fill="#f8c5c8"/>
<path d="M451.8 280.7l2.1-1.3-1.2-4.1-2.1 1.5z" fill="#f6b0b4"/>
<path d="M426.7 271.5l-1.2-2.1-2 1.7 1.1 2" fill="#f18a91"/>
<path d="M419.3 274.1l-1.2-1.8-2.1 1.4 1.2 1.9" fill="#f3989e"/>
<path d="M452.7 275.3l2.1-1.7-1.2-5.2-2.1 2.2z" fill="#f28d94"/>
<path d="M434.2 268.6l2.1-2-1.2-2.5-2.1 2z" fill="#ee7079"/>
<path d="M436.3 266.6l2.1-2.2-1.2-2.6-2.1 2.3z" fill="#ed656e"/>
<path d="M432.1 270.5l2.1-1.9-1.2-2.5-2.1 1.9z" fill="#ef7a82"/>
<path d="M443.4 253.4l-1.2-1.5-2.1 2.9 1.2 1.7" fill="#e7333f"/>
<path d="M459.6 287l-1.2-2.3-2.1 .9 1.3 2.2" fill="#fbe0e2"/>
<path d="M450.6 276.8l2.1-1.5-1.2-4.7-2.1 2z" fill="#f3979d"/>
<path d="M454.3 286.5l2-.9-1.2-2.7-2.1 1z" fill="#fad6d8"/>
<path d="M438.4 264.4l2.1-2.5-1.3-2.6-2 2.5z" fill="#eb5963"/>
<path d="M449.8 281.9l2-1.2-1.2-3.9-2 1.6z" fill="#f6b6ba"/>
<path d="M424.6 273.1l-1.1-2-2.1 1.5 1.1 2.1" fill="#f29198"/>
<path d="M430 272.2l2.1-1.7-1.2-2.5-2.1 1.8z" fill="#f0838a"/>
<path d="M417.2 275.6l-1.2-1.9-2.1 1.5 1.2 1.9" fill="#f49fa5"/>
<path d="M448.6 278.4l2-1.6-1.2-4.2-2 1.8z" fill="#f49fa5"/>
<path d="M451 284.9l2-1-1.2-3.2-2 1.2z" fill="#f9c9cc"/>
<path d="M427.9 273.9l2.1-1.7-1.2-2.4-2.1 1.7z" fill="#f18b92"/>
<path d="M440.5 261.9l2.1-2.7-1.3-2.7-2.1 2.8z" fill="#ea4b56"/>
<path d="M437.5 269.5l2.1-2.1-1.2-3-2.1 2.2z" fill="#ee727a"/>
<path d="M422.5 274.7l-1.1-2.1-2.1 1.5 1.2 2.1" fill="#f3989e"/>
<path d="M435.4 271.5l2.1-2-1.2-2.9-2.1 2z" fill="#f07c84"/>
<path d="M446.5 279.8l2.1-1.4-1.2-4-2.1 1.8z" fill="#f5a7ac"/>
<path d="M439.6 267.4l2.1-2.3-1.2-3.2-2.1 2.5z" fill="#ed666f"/>
<path d="M415.1 277.1l-1.2-1.9-2.1 1.5 1.2 1.8" fill="#f4a5ab"/>
<path d="M447.7 283.1l2.1-1.2-1.2-3.5-2.1 1.4z" fill="#f7bbbf"/>
<path d="M447.4 274.4l2-1.8-1.1-4.5-2.1 2.3z" fill="#f1888f"/>
<path d="M433.3 273.2l2.1-1.7-1.2-2.9-2.1 1.9z" fill="#f1858d"/>
<path d="M449.4 272.6l2.1-2-1.1-4.9-2.1 2.4z" fill="#f07d84"/>
<path d="M445.6 250l-1.3-1.4-2.1 3.3 1.2 1.5" fill="#e5222f"/>
<path d="M445.3 276.2l2.1-1.8-1.2-4-2.1 2z" fill="#f29298"/>
<path d="M427.9 273.9l-1.2-2.4-2.1 1.6 1.2 2.3" fill="#f29399"/>
<path d="M451.5 270.6l2.1-2.2-1.1-5.4-2.1 2.7z" fill="#ee7079"/>
<path d="M438.7 272.7l2.1-1.9-1.2-3.4-2.1 2.1z" fill="#f08188"/>
<path d="M452.2 287.3l2.1-.8-1.3-2.6-2 1z" fill="#fad8db"/>
<path d="M440.8 270.8l2.1-2.1-1.2-3.6-2.1 2.3z" fill="#ef767e"/>
<path d="M457.6 287.8l-1.3-2.2-2 .9 1.2 2.1" fill="#fce2e4"/>
<path d="M441.7 265.1l2.1-2.6-1.2-3.3-2.1 2.7z" fill="#eb5862"/>
<path d="M431.2 274.8l2.1-1.6-1.2-2.7-2.1 1.7z" fill="#f28e94"/>
<path d="M420.5 276.2l-1.2-2.1-2.1 1.5 1.1 2.1" fill="#f49fa5"/>
<path d="M444.1 272.4l2.1-2-1.2-4.1-2.1 2.4z" fill="#f07d84"/>
<path d="M442 274.3l2.1-1.9-1.2-3.7-2.1 2.1z" fill="#f1888f"/>
<path d="M443.2 277.8l2.1-1.6-1.2-3.8-2.1 1.9z" fill="#f39ba1"/>
<path d="M436.6 274.5l2.1-1.8-1.2-3.2-2.1 2z" fill="#f18a91"/>
<path d="M442.6 259.2l2.1-3.1-1.3-2.7-2.1 3.1z" fill="#e83b47"/>
<path d="M448.9 285.8l2.1-.9-1.2-3-2.1 1.2z" fill="#f9cdd0"/>
<path d="M444.4 281.1l2.1-1.3-1.2-3.6-2.1 1.6z" fill="#f6afb3"/>
<path d="M442.9 268.7l2.1-2.4-1.2-3.8-2.1 2.6z" fill="#ed6972"/>
<path d="M439.9 276l2.1-1.7-1.2-3.5-2.1 1.9z" fill="#f29198"/>
<path d="M446.2 270.4l2.1-2.3-1.2-4.4-2.1 2.6z" fill="#ee7079"/>
<path d="M413 278.5l-1.2-1.8-2.1 1.4 1.2 1.8" fill="#f5acb1"/>
<path d="M425.8 275.4l-1.2-2.3-2.1 1.6 1.2 2.2" fill="#f39aa0"/>
<path d="M460.9 288.8l-1.3-1.8-2 .8 1.3 1.9" fill="#fce9ea"/>
<path d="M434.5 276.1l2.1-1.6-1.2-3-2.1 1.7z" fill="#f29399"/>
<path d="M445.6 284.2l2.1-1.1-1.2-3.3-2.1 1.3z" fill="#f8c1c4"/>
<path d="M441.1 279.3l2.1-1.5-1.2-3.5-2.1 1.7z" fill="#f4a3a9"/>
<path d="M429.1 276.4l2.1-1.6-1.2-2.6-2.1 1.7z" fill="#f3969c"/>
<path d="M437.8 277.6l2.1-1.6-1.2-3.3-2.1 1.8z" fill="#f39aa0"/>
<path d="M448.3 268.1l2.1-2.4-1.2-4.8-2.1 2.8z" fill="#ed636c"/>
<path d="M418.3 277.7l-1.1-2.1-2.1 1.5 1.1 2" fill="#f4a6ab"/>
<path d="M445 266.3l2.1-2.6-1.2-4.1-2.1 2.9z" fill="#ec5b65"/>
<path d="M443.8 262.5l2.1-2.9-1.2-3.5-2.1 3.1z" fill="#ea4954"/>
<path d="M442.3 282.4l2.1-1.3-1.2-3.3-2.1 1.5z" fill="#f6b5b9"/>
<path d="M432.4 277.6l2.1-1.5-1.2-2.9-2.1 1.6z" fill="#f39ba1"/>
<path d="M423.7 276.9l-1.2-2.2-2 1.5 1.1 2.2" fill="#f4a1a6"/>
<path d="M410.9 279.9l-1.2-1.8-2.1 1.4 1.1 1.8" fill="#f6b2b7"/>
<path d="M439 280.7l2.1-1.4-1.2-3.3-2.1 1.6z" fill="#f5abb0"/>
<path d="M427 277.9l2.1-1.5-1.2-2.5-2.1 1.5z" fill="#f39da2"/>
<path d="M435.7 279.1l2.1-1.5-1.2-3.1-2.1 1.6z" fill="#f4a2a7"/>
<path d="M450.2 288.2l2-.9-1.2-2.4-2.1 .9z" fill="#fbdbdd"/>
<path d="M447.7 246.1l-1.3-1.1-2.1 3.6 1.3 1.4" fill="#e30f1d"/>
<path d="M446.9 286.8l2-1-1.2-2.7-2.1 1.1z" fill="#fad1d3"/>
<path d="M444.7 256.1l2.1-3.4-1.2-2.7-2.2 3.4z" fill="#e62936"/>
<path d="M455.5 288.6l-1.2-2.1-2.1 .8 1.3 2.1" fill="#fce4e5"/>
<path d="M450.4 265.7l2.1-2.7-1.2-5.3-2.1 3.2z" fill="#eb545e"/>
<path d="M416.2 279.1l-1.1-2-2.1 1.4 1.1 2" fill="#f5acb1"/>
<path d="M443.6 285.3l2-1.1-1.2-3.1-2.1 1.3z" fill="#f8c6c9"/>
<path d="M447.1 263.7l2.1-2.8-1.2-4.5-2.1 3.2z" fill="#ea4b56"/>
<path d="M430.3 279l2.1-1.4-1.2-2.8-2.1 1.6z" fill="#f4a2a7"/>
<path d="M440.3 283.6l2-1.2-1.2-3.1-2.1 1.4z" fill="#f7bbbf"/>
<path d="M421.6 278.4l-1.1-2.2-2.2 1.5 1.2 2.1" fill="#f5a7ac"/>
<path d="M424.9 279.3l2.1-1.4-1.2-2.5-2.1 1.5z" fill="#f4a3a9"/>
<path d="M458.9 289.7l-1.3-1.9-2.1 .8 1.3 1.9" fill="#fdebec"/>
<path d="M433.6 280.4l2.1-1.3-1.2-3-2.1 1.5z" fill="#f5a9ae"/>
<path d="M437 282l2-1.3-1.2-3.1-2.1 1.5z" fill="#f6b1b6"/>
<path d="M445.9 259.6l2.1-3.2-1.2-3.7-2.1 3.4z" fill="#e83843"/>
<path d="M408.7 281.3l-1.1-1.8-2.1 1.3 1.1 1.8" fill="#f7b8bc"/>
<path d="M414.1 280.5l-1.1-2-2.1 1.4 1.1 1.9" fill="#f6b2b7"/>
<path d="M428.2 280.4l2.1-1.4-1.2-2.6-2.1 1.5z" fill="#f5a8ad"/>
<path d="M419.5 279.8l-1.2-2.1-2.1 1.4 1.2 2.1" fill="#f5adb2"/>
<path d="M444.8 287.7l2.1-.9-1.3-2.6-2 1.1z" fill="#fad4d7"/>
<path d="M462.2 290.4l-1.3-1.6-2 .9 1.3 1.6" fill="#fdeff0"/>
<path d="M441.5 286.3l2.1-1-1.3-2.9-2 1.2z" fill="#f9cacd"/>
<path d="M424.9 279.3l-1.2-2.4-2.1 1.5 1.2 2.2" fill="#f5aaaf"/>
<path d="M450.2 288.2l-1.3-2.4-2 1 1.2 2.2" fill="#fbdddf"/>
<path d="M431.6 281.7l2-1.3-1.2-2.8-2.1 1.4z" fill="#f6afb3"/>
<path d="M438.2 284.8l2.1-1.2-1.3-2.9-2 1.3z" fill="#f8c0c4"/>
<path d="M434.9 283.2l2.1-1.2-1.3-2.9-2.1 1.3z" fill="#f7b7bb"/>
<path d="M449.2 260.9l2.1-3.2-1.2-4.9-2.1 3.6z" fill="#e83a45"/>
<path d="M453.5 289.4l-1.3-2.1-2 .9 1.2 2" fill="#fce5e7"/>
<path d="M406.6 282.6l-1.1-1.8-2.2 1.3 1.2 1.7" fill="#f7bdc1"/>
<path d="M446.8 252.7l2.1-3.9-1.2-2.7-2.1 3.9z" fill="#e41623"/>
<path d="M412 281.8l-1.1-1.9-2.2 1.4 1.2 1.8" fill="#f7b8bc"/>
<path d="M426.1 281.7l2.1-1.3-1.2-2.5-2.1 1.4z" fill="#f5aeb3"/>
<path d="M417.4 281.2l-1.2-2.1-2.1 1.4 1.2 2" fill="#f6b3b8"/>
<path d="M456.8 290.5l-1.3-1.9-2 .8 1.3 1.8" fill="#fdeced"/>
<path d="M422.8 280.6l-1.2-2.2-2.1 1.4 1.2 2.2" fill="#f6b0b4"/>
<path d="M448 256.4l2.1-3.6-1.2-4-2.1 3.9z" fill="#e52431"/>
<path d="M429.5 282.9l2.1-1.2-1.3-2.7-2.1 1.4z" fill="#f6b4b8"/>
<path d="M432.8 284.4l2.1-1.2-1.3-2.8-2 1.3z" fill="#f7bcc0"/>
<path d="M439.4 287.3l2.1-1-1.2-2.7-2.1 1.2z" fill="#f9ced1"/>
<path d="M436.1 285.9l2.1-1.1-1.2-2.8-2.1 1.2z" fill="#f8c5c8"/>
<path d="M442.7 288.7l2.1-1-1.2-2.4-2.1 1z" fill="#fad7da"/>
<path d="M404.5 283.8l-1.2-1.7-2.1 1.3 1.1 1.6" fill="#f8c2c6"/>
<path d="M448.1 289l-1.2-2.2-2.1 .9 1.2 2.1" fill="#fbdfe1"/>
<path d="M460.2 291.3l-1.3-1.6-2.1 .8 1.3 1.6" fill="#fdf1f2"/>
<path d="M409.9 283.1l-1.2-1.8-2.1 1.3 1.1 1.8" fill="#f7bdc1"/>
<path d="M426.1 281.7l-1.2-2.4-2.1 1.3 1.2 2.3" fill="#f6b4b8"/>
<path d="M415.3 282.5l-1.2-2-2.1 1.3 1.2 2" fill="#f7b9bd"/>
<path d="M420.7 282l-1.2-2.2-2.1 1.4 1.2 2.1" fill="#f6b5ba"/>
<path d="M451.4 290.2l-1.2-2-2.1 .8 1.3 1.9" fill="#fce7e8"/>
<path d="M427.3 284.1l2.2-1.2-1.3-2.5-2.1 1.3z" fill="#f7b9bd"/>
<path d="M430.7 285.5l2.1-1.1-1.2-2.7-2.1 1.2z" fill="#f8c0c4"/>
<path d="M434 286.9l2.1-1-1.2-2.7-2.1 1.2z" fill="#f9c9cc"/>
<path d="M402.3 285l-1.1-1.6-2.1 1.2 1.1 1.6" fill="#f8c7ca"/>
<path d="M454.8 291.2l-1.3-1.8-2.1 .8 1.3 1.7" fill="#fdedee"/>
<path d="M437.3 288.3l2.1-1-1.2-2.5-2.1 1.1z" fill="#fad2d4"/>
<path d="M463.5 292l-1.3-1.6-2 .9 1.3 1.5" fill="#fef4f5"/>
<path d="M424 282.9l-1.2-2.3-2.1 1.4 1.2 2.2" fill="#f7b9bd"/>
<path d="M407.7 284.4l-1.1-1.8-2.1 1.2 1.1 1.7" fill="#f8c2c6"/>
<path d="M442.7 288.7l-1.2-2.4-2.1 1 1.2 2.2" fill="#fbdadc"/>
<path d="M413.2 283.8l-1.2-2-2.1 1.3 1.1 1.9" fill="#f7bec2"/>
<path d="M418.6 283.3l-1.2-2.1-2.1 1.3 1.2 2" fill="#f7bbbf"/>
<path d="M446 289.8l-1.2-2.1-2.1 1 1.3 1.9" fill="#fce1e3"/>
<path d="M427.3 284.1l-1.2-2.4-2.1 1.2 1.2 2.3" fill="#f7bec2"/>
<path d="M458.1 292.1l-1.3-1.6-2 .7 1.3 1.6" fill="#fdf2f3"/>
<path d="M428.6 286.5l2.1-1-1.2-2.6-2.2 1.2z" fill="#f8c4c8"/>
<path d="M400.2 286.2l-1.1-1.6-2.2 1.3 1.1 1.5" fill="#f9cccf"/>
<path d="M449.4 290.9l-1.3-1.9-2.1 .8 1.3 1.9" fill="#fce8e9"/>
<path d="M421.9 284.2l-1.2-2.2-2.1 1.3 1.2 2.1" fill="#f7bec2"/>
<path d="M431.9 287.8l2.1-.9-1.2-2.5-2.1 1.1z" fill="#f9cccf"/>
<path d="M416.5 284.5l-1.2-2-2.1 1.3 1.1 1.9" fill="#f8c0c4"/>
<path d="M405.6 285.5l-1.1-1.7-2.2 1.2 1.2 1.7" fill="#f8c7ca"/>
<path d="M411 285l-1.1-1.9-2.2 1.3 1.2 1.8" fill="#f8c3c7"/>
<path d="M435.2 289.2l2.1-.9-1.2-2.4-2.1 1z" fill="#fad5d7"/>
<path d="M461.5 292.8l-1.3-1.5-2.1 .8 1.3 1.4" fill="#fef6f6"/>
<path d="M440.6 289.5l-1.2-2.2-2.1 1 1.2 2.1" fill="#fbdddf"/>
<path d="M452.7 291.9l-1.3-1.7-2 .7 1.3 1.7" fill="#fdeeef"/>
<path d="M425.2 285.2l-1.2-2.3-2.1 1.3 1.2 2.2" fill="#f8c2c6"/>
<path d="M398 287.4l-1.1-1.5-2.1 1.3 1.1 1.4" fill="#fad1d4"/>
<path d="M444 290.6l-1.3-1.9-2.1 .8 1.3 1.9" fill="#fce3e5"/>
<path d="M419.8 285.4l-1.2-2.1-2.1 1.2 1.2 2.1" fill="#f8c3c6"/>
<path d="M428.6 286.5l-1.3-2.4-2.1 1.1 1.2 2.3" fill="#f9c8cb"/>
<path d="M414.3 285.7l-1.1-1.9-2.2 1.2 1.2 1.9" fill="#f8c5c9"/>
<path d="M456.1 292.8l-1.3-1.6-2.1 .7 1.3 1.6" fill="#fef3f3"/>
<path d="M408.9 286.2l-1.2-1.8-2.1 1.1 1.2 1.8" fill="#f8c8cb"/>
<path d="M403.5 286.7l-1.2-1.7-2.1 1.2 1.1 1.6" fill="#f9cbce"/>
<path d="M431.9 287.8l-1.2-2.3-2.1 1 1.2 2.3" fill="#f9cfd2"/>
<path d="M447.3 291.7l-1.3-1.9-2 .8 1.2 1.8" fill="#fce9ea"/>
<path d="M464.9 293.4l-1.4-1.4-2 .8 1.3 1.4" fill="#fef8f8"/>
<path d="M435.2 289.2l-1.2-2.3-2.1 .9 1.2 2.3" fill="#fad7da"/>
<path d="M423.1 286.4l-1.2-2.2-2.1 1.2 1.2 2.1" fill="#f8c7ca"/>
<path d="M395.9 288.6l-1.1-1.4-2.2 1.3 1.1 1.4" fill="#fad7d9"/>
<path d="M438.5 290.4l-1.2-2.1-2.1 .9 1.2 2" fill="#fbdfe1"/>
<path d="M417.7 286.6l-1.2-2.1-2.2 1.2 1.2 2" fill="#f8c8cb"/>
<path d="M459.4 293.5l-1.3-1.4-2 .7 1.3 1.5" fill="#fef6f7"/>
<path d="M450.7 292.6l-1.3-1.7-2.1 .8 1.3 1.6" fill="#fdeeef"/>
<path d="M412.2 286.9l-1.2-1.9-2.1 1.2 1.2 1.8" fill="#f9cacd"/>
<path d="M426.4 287.5l-1.2-2.3-2.1 1.2 1.2 2.1" fill="#f9cccf"/>
<path d="M401.3 287.8l-1.1-1.6-2.2 1.2 1.1 1.6" fill="#f9d0d2"/>
<path d="M406.8 287.3l-1.2-1.8-2.1 1.2 1.1 1.7" fill="#f9cccf"/>
<path d="M441.9 291.4l-1.3-1.9-2.1 .9 1.3 1.8" fill="#fce5e6"/>
<path d="M429.8 288.8l-1.2-2.3-2.2 1 1.2 2.2" fill="#fad2d5"/>
<path d="M421 287.5l-1.2-2.1-2.1 1.2 1.1 2" fill="#f9cbce"/>
<path d="M393.7 289.9l-1.1-1.4-2.1 1.3 1 1.3" fill="#fbdcde"/>
<path d="M454 293.5l-1.3-1.6-2 .7 1.2 1.5" fill="#fef3f4"/>
<path d="M433.1 290.1l-1.2-2.3-2.1 1 1.2 2.1" fill="#fbd9dc"/>
<path d="M445.2 292.4l-1.2-1.8-2.1 .8 1.2 1.7" fill="#fdeaeb"/>
<path d="M462.8 294.2l-1.3-1.4-2.1 .7 1.4 1.4" fill="#fef9f9"/>
<path d="M415.5 287.7l-1.2-2-2.1 1.2 1.2 1.9" fill="#f9cccf"/>
<path d="M436.4 291.2l-1.2-2-2.1 .9 1.2 2" fill="#fbe1e2"/>
<path d="M410.1 288l-1.2-1.8-2.1 1.1 1.1 1.8" fill="#f9ced1"/>
<path d="M399.1 289l-1.1-1.6-2.1 1.2 1.1 1.5" fill="#fad4d7"/>
<path d="M424.3 288.5l-1.2-2.1-2.1 1.1 1.2 2" fill="#f9cfd2"/>
<path d="M404.6 288.4l-1.1-1.7-2.2 1.1 1.1 1.7" fill="#f9d0d3"/>
<path d="M457.4 294.3l-1.3-1.5-2.1 .7 1.3 1.4" fill="#fef7f7"/>
<path d="M448.6 293.3l-1.3-1.6-2.1 .7 1.3 1.6" fill="#fdefef"/>
<path d="M391.5 291.1l-1-1.3-2.2 1.3 1.1 1.3" fill="#fce2e4"/>
<path d="M439.8 292.2l-1.3-1.8-2.1 .8 1.3 1.8" fill="#fce6e8"/>
<path d="M418.8 288.6l-1.1-2-2.2 1.1 1.2 2" fill="#f9cfd2"/>
<path d="M427.6 289.7l-1.2-2.2-2.1 1 1.2 2.1" fill="#fad5d7"/>
<path d="M466.2 294.8l-1.3-1.4-2.1 .8 1.4 1.4" fill="#fffbfb"/>
<path d="M413.4 288.8l-1.2-1.9-2.1 1.1 1.1 1.9" fill="#f9d0d3"/>
<path d="M431 290.9l-1.2-2.1-2.2 .9 1.3 2" fill="#fbdbdd"/>
<path d="M397 290.1l-1.1-1.5-2.2 1.3 1.1 1.4" fill="#fbdadc"/>
<path d="M451.9 294.1l-1.2-1.5-2.1 .7 1.3 1.5" fill="#fef3f4"/>
<path d="M407.9 289.1l-1.1-1.8-2.2 1.1 1.1 1.7" fill="#fad1d4"/>
<path d="M443.1 293.1l-1.2-1.7-2.1 .8 1.2 1.7" fill="#fdebec"/>
<path d="M460.8 294.9l-1.4-1.4-2 .8 1.3 1.3" fill="#fefafa"/>
<path d="M402.4 289.5l-1.1-1.7-2.2 1.2 1.2 1.6" fill="#fad4d6"/>
<path d="M422.2 289.5l-1.2-2-2.2 1.1 1.2 2" fill="#fad3d5"/>
<path d="M434.3 292.1l-1.2-2-2.1 .8 1.2 2" fill="#fce2e4"/>
<path d="M389.4 292.4l-1.1-1.3-2.2 1.2 1.1 1.3" fill="#fce8e9"/>
<path d="M416.7 289.7l-1.2-2-2.1 1.1 1.2 1.9" fill="#fad3d6"/>
<path d="M425.5 290.6l-1.2-2.1-2.1 1 1.2 2" fill="#fad8da"/>
<path d="M455.3 294.9l-1.3-1.4-2.1 .6 1.4 1.5" fill="#fef7f7"/>
<path d="M446.5 294l-1.3-1.6-2.1 .7 1.3 1.6" fill="#fdeff0"/>
<path d="M437.7 293l-1.3-1.8-2.1 .9 1.3 1.7" fill="#fce8e9"/>
<path d="M394.8 291.3l-1.1-1.4-2.2 1.2 1.1 1.5" fill="#fbdfe1"/>
<path d="M411.2 289.9l-1.1-1.9-2.2 1.1 1.2 1.8" fill="#fad4d6"/>
<path d="M464.2 295.6l-1.4-1.4-2 .7 1.3 1.4" fill="#fffcfc"/>
<path d="M405.7 290.1l-1.1-1.7-2.2 1.1 1.2 1.7" fill="#fad5d7"/>
<path d="M400.3 290.6l-1.2-1.6-2.1 1.1 1.1 1.6" fill="#fad8da"/>
<path d="M428.9 291.7l-1.3-2-2.1 .9 1.2 2" fill="#fbdddf"/>
<path d="M387.2 293.6l-1.1-1.3-2.2 1.2 1.1 1.3" fill="#fdeeef"/>
<path d="M420 290.6l-1.2-2-2.1 1.1 1.2 1.9" fill="#fad6d9"/>
<path d="M441 293.9l-1.2-1.7-2.1 .8 1.2 1.7" fill="#fdeced"/>
<path d="M449.9 294.8l-1.3-1.5-2.1 .7 1.3 1.5" fill="#fef3f3"/>
<path d="M458.7 295.6l-1.3-1.3-2.1 .6 1.3 1.4" fill="#fefafa"/>
<path d="M432.2 292.9l-1.2-2-2.1 .8 1.2 1.9" fill="#fce3e5"/>
<path d="M414.6 290.7l-1.2-1.9-2.2 1.1 1.2 1.8" fill="#fad7d9"/>
<path d="M392.6 292.6l-1.1-1.5-2.1 1.3 1 1.4" fill="#fce4e6"/>
<path d="M423.4 291.5l-1.2-2-2.2 1.1 1.2 1.9" fill="#fbdadd"/>
<path d="M409.1 290.9l-1.2-1.8-2.2 1 1.2 1.8" fill="#fad7d9"/>
<path d="M467.6 296.2l-1.4-1.4-2 .8 1.3 1.2" fill="#fffdfd"/>
<path d="M435.6 293.8l-1.3-1.7-2.1 .8 1.2 1.7" fill="#fce9ea"/>
<path d="M398.1 291.7l-1.1-1.6-2.2 1.2 1.1 1.5" fill="#fbdddf"/>
<path d="M444.4 294.7l-1.3-1.6-2.1 .8 1.3 1.5" fill="#fdf0f0"/>
<path d="M385 294.8l-1.1-1.3-2.2 1.2 1.1 1.2" fill="#fef3f4"/>
<path d="M403.6 291.2l-1.2-1.7-2.1 1.1 1.1 1.6" fill="#fad8db"/>
<path d="M453.3 295.6l-1.4-1.5-2 .7 1.3 1.5" fill="#fef6f7"/>
<path d="M417.9 291.6l-1.2-1.9-2.1 1 1.1 1.9" fill="#fbdadc"/>
<path d="M426.7 292.6l-1.2-2-2.1 .9 1.2 1.9" fill="#fbdfe1"/>
<path d="M462.1 296.3l-1.3-1.4-2.1 .7 1.3 1.4" fill="#fffcfc"/>
<path d="M390.4 293.8l-1-1.4-2.2 1.2 1 1.3" fill="#fceaeb"/>
<path d="M412.4 291.7l-1.2-1.8-2.1 1 1.1 1.8" fill="#fbdadc"/>
<path d="M438.9 294.7l-1.2-1.7-2.1 .8 1.2 1.7" fill="#fdedee"/>
<path d="M430.1 293.6l-1.2-1.9-2.2 .9 1.3 1.8" fill="#fce5e6"/>
<path d="M447.8 295.5l-1.3-1.5-2.1 .7 1.3 1.4" fill="#fef3f3"/>
<path d="M421.2 292.5l-1.2-1.9-2.1 1 1.2 1.8" fill="#fbdddf"/>
<path d="M456.6 296.3l-1.3-1.4-2 .7 1.3 1.4" fill="#fefafa"/>
<path d="M395.9 292.8l-1.1-1.5-2.2 1.3 1.1 1.4" fill="#fce2e3"/>
<path d="M406.9 291.9l-1.2-1.8-2.1 1.1 1.1 1.7" fill="#fbdadc"/>
<path d="M382.8 295.9l-1.1-1.2-2.2 1.1 1.1 1.2" fill="#fef8f8"/>
<path d="M401.4 292.2l-1.1-1.6-2.2 1.1 1.1 1.6" fill="#fbdcde"/>
<path d="M465.5 296.8l-1.3-1.2-2.1 .7 1.4 1.2" fill="#fffefe"/>
<path d="M433.4 294.6l-1.2-1.7-2.1 .7 1.2 1.8" fill="#fdeaeb"/>
<path d="M415.7 292.6l-1.1-1.9-2.2 1 1.2 1.8" fill="#fbdddf"/>
<path d="M442.3 295.4l-1.3-1.5-2.1 .8 1.3 1.5" fill="#fdf0f1"/>
<path d="M388.2 294.9l-1-1.3-2.2 1.2 1 1.3" fill="#fdeff0"/>
<path d="M424.6 293.4l-1.2-1.9-2.2 1 1.2 1.8" fill="#fce1e3"/>
<path d="M451.2 296.3l-1.3-1.5-2.1 .7 1.3 1.4" fill="#fef6f7"/>
<path d="M410.2 292.7l-1.1-1.8-2.2 1 1.2 1.8" fill="#fbdddf"/>
<path d="M460 297l-1.3-1.4-2.1 .7 1.4 1.4" fill="#fffcfc"/>
<path d="M393.7 294l-1.1-1.4-2.2 1.2 1.1 1.4" fill="#fce7e8"/>
<path d="M436.8 295.5l-1.2-1.7-2.2 .8 1.3 1.6" fill="#fdeeef"/>
<path d="M404.7 292.9l-1.1-1.7-2.2 1 1.1 1.7" fill="#fbdddf"/>
<path d="M419.1 293.4l-1.2-1.8-2.2 1 1.2 1.8" fill="#fbe0e2"/>
<path d="M428 294.4l-1.3-1.8-2.1 .8 1.2 1.8" fill="#fce6e8"/>
<path d="M399.2 293.3l-1.1-1.6-2.2 1.1 1.1 1.6" fill="#fbe0e2"/>
<path d="M380.6 297l-1.1-1.2-2.2 .9 1 1.2" fill="#fffcfd"/>
<path d="M445.7 296.1l-1.3-1.4-2.1 .7 1.3 1.5" fill="#fef3f4"/>
<path d="M468.9 297.4l-1.3-1.2-2.1 .6 1.4 1.3" fill="#ffffff"/>
<path d="M454.6 297l-1.3-1.4-2.1 .7 1.3 1.4" fill="#fef9fa"/>
<path d="M386 296.1l-1-1.3-2.2 1.1 1 1.3" fill="#fef4f5"/>
<path d="M413.6 293.5l-1.2-1.8-2.2 1 1.2 1.8" fill="#fbe0e2"/>
<path d="M431.3 295.4l-1.2-1.8-2.1 .8 1.2 1.8" fill="#fdebec"/>
<path d="M422.4 294.3l-1.2-1.8-2.1 .9 1.2 1.8" fill="#fce4e5"/>
<path d="M463.5 297.5l-1.4-1.2-2.1 .7 1.4 1.2" fill="#fffefe"/>
<path d="M440.2 296.2l-1.3-1.5-2.1 .8 1.3 1.5" fill="#fdf1f2"/>
<path d="M391.5 295.2l-1.1-1.4-2.2 1.1 1.1 1.4" fill="#fdebed"/>
<path d="M408.1 293.7l-1.2-1.8-2.2 1 1.2 1.7" fill="#fbe0e1"/>
<path d="M449.1 296.9l-1.3-1.4-2.1 .6 1.3 1.5" fill="#fef6f6"/>
<path d="M397 294.4l-1.1-1.6-2.2 1.2 1.1 1.5" fill="#fce5e6"/>
<path d="M402.5 293.9l-1.1-1.7-2.2 1.1 1.1 1.6" fill="#fbe1e2"/>
<path d="M416.9 294.4l-1.2-1.8-2.1 .9 1.2 1.8" fill="#fce3e4"/>
<path d="M458 297.7l-1.4-1.4-2 .7 1.3 1.3" fill="#fffcfc"/>
<path d="M434.7 296.2l-1.3-1.6-2.1 .8 1.3 1.6" fill="#fdf0f0"/>
<path d="M425.8 295.2l-1.2-1.8-2.2 .9 1.3 1.7" fill="#fce8e9"/>
<path d="M383.8 297.2l-1-1.3-2.2 1.1 1 1.2" fill="#fef9f9"/>
<path d="M443.6 296.9l-1.3-1.5-2.1 .8 1.3 1.4" fill="#fef4f4"/>
<path d="M411.4 294.5l-1.2-1.8-2.1 1 1.1 1.7" fill="#fce2e4"/>
<path d="M466.9 298.1l-1.4-1.3-2 .7 1.3 1.3" fill="#ffffff"/>
<path d="M389.3 296.3l-1.1-1.4-2.2 1.2 1.1 1.3" fill="#fdf0f1"/>
<path d="M452.5 297.7l-1.3-1.4-2.1 .6 1.3 1.4" fill="#fef9f9"/>
<path d="M420.3 295.2l-1.2-1.8-2.2 1 1.2 1.7" fill="#fce6e7"/>
<path d="M429.2 296.2l-1.2-1.8-2.2 .8 1.2 1.7" fill="#fdeced"/>
<path d="M405.9 294.6l-1.2-1.7-2.2 1 1.2 1.7" fill="#fce2e4"/>
<path d="M438.1 297l-1.3-1.5-2.1 .7 1.2 1.6" fill="#fef3f3"/>
<path d="M394.8 295.5l-1.1-1.5-2.2 1.2 1.1 1.4" fill="#fce9ea"/>
<path d="M461.4 298.2l-1.4-1.2-2 .7 1.3 1.2" fill="#fffefe"/>
<path d="M400.3 294.9l-1.1-1.6-2.2 1.1 1.1 1.5" fill="#fce4e6"/>
<path d="M414.8 295.3l-1.2-1.8-2.2 1 1.2 1.7" fill="#fce5e7"/>
<path d="M447 297.6l-1.3-1.5-2.1 .8 1.3 1.4" fill="#fef6f6"/>
<path d="M423.7 296l-1.3-1.7-2.1 .9 1.2 1.7" fill="#fce9eb"/>
<path d="M381.6 298.2l-1-1.2-2.3 .9 1 1.2" fill="#fffdfd"/>
<path d="M432.6 297l-1.3-1.6-2.1 .8 1.2 1.6" fill="#fdf0f1"/>
<path d="M455.9 298.3l-1.3-1.3-2.1 .7 1.3 1.3" fill="#fffcfc"/>
<path d="M470.3 298.6l-1.4-1.2-2 .7 1.4 1.2" fill="#fefffe"/>
<path d="M409.2 295.4l-1.1-1.7-2.2 .9 1.1 1.7" fill="#fce5e6"/>
<path d="M387.1 297.4l-1.1-1.3-2.2 1.1 1.1 1.2" fill="#fef5f5"/>
<path d="M441.5 297.6l-1.3-1.4-2.1 .8 1.2 1.4" fill="#fef5f5"/>
<path d="M392.6 296.6l-1.1-1.4-2.2 1.1 1.1 1.3" fill="#fdedee"/>
<path d="M418.1 296.1l-1.2-1.7-2.1 .9 1.1 1.7" fill="#fce8ea"/>
<path d="M403.7 295.6l-1.2-1.7-2.2 1 1.2 1.6" fill="#fce5e7"/>
<path d="M464.8 298.8l-1.3-1.3-2.1 .7 1.4 1.3" fill="#ffffff"/>
<path d="M398.1 295.9l-1.1-1.5-2.2 1.1 1.1 1.5" fill="#fce8e9"/>
<path d="M450.4 298.3l-1.3-1.4-2.1 .7 1.3 1.4" fill="#fef9f9"/>
<path d="M427 296.9l-1.2-1.7-2.1 .8 1.2 1.7" fill="#fdedee"/>
<path d="M435.9 297.8l-1.2-1.6-2.1 .8 1.2 1.6" fill="#fef4f4"/>
<path d="M412.6 296.2l-1.2-1.7-2.2 .9 1.2 1.7" fill="#fce8e9"/>
<path d="M459.3 298.9l-1.3-1.2-2.1 .6 1.3 1.3" fill="#fffefe"/>
<path d="M444.9 298.3l-1.3-1.4-2.1 .7 1.2 1.4" fill="#fef6f7"/>
<path d="M421.5 296.9l-1.2-1.7-2.2 .9 1.2 1.6" fill="#fdebec"/>
<path d="M384.9 298.4l-1.1-1.2-2.2 1 1 1.2" fill="#fef9f9"/>
<path d="M407 296.3l-1.1-1.7-2.2 1 1.1 1.7" fill="#fce7e9"/>
<path d="M430.4 297.8l-1.2-1.6-2.2 .7 1.3 1.6" fill="#fdf1f2"/>
<path d="M453.8 299l-1.3-1.3-2.1 .6 1.3 1.4" fill="#fffcfc"/>
<path d="M468.3 299.3l-1.4-1.2-2.1 .7 1.4 1.2" fill="#fefffe"/>
<path d="M390.4 297.6l-1.1-1.3-2.2 1.1 1.1 1.3" fill="#fdf2f2"/>
<path d="M439.3 298.4l-1.2-1.4-2.2 .8 1.3 1.4" fill="#fef6f6"/>
<path d="M401.5 296.5l-1.2-1.6-2.2 1 1.2 1.6" fill="#fce8ea"/>
<path d="M395.9 297l-1.1-1.5-2.2 1.1 1.1 1.4" fill="#fdeced"/>
<path d="M415.9 297l-1.1-1.7-2.2 .9 1.2 1.7" fill="#fdeaec"/>
<path d="M462.8 299.5l-1.4-1.3-2.1 .7 1.4 1.3" fill="#ffffff"/>
<path d="M424.9 297.7l-1.2-1.7-2.2 .9 1.2 1.6" fill="#fdeeef"/>
<path d="M448.3 299l-1.3-1.4-2.1 .7 1.3 1.4" fill="#fef9f9"/>
<path d="M433.8 298.6l-1.2-1.6-2.2 .8 1.3 1.5" fill="#fef5f5"/>
<path d="M410.4 297.1l-1.2-1.7-2.2 .9 1.2 1.7" fill="#fdeaeb"/>
<path d="M457.2 299.6l-1.3-1.3-2.1 .7 1.3 1.3" fill="#fffefe"/>
<path d="M382.6 299.4l-1-1.2-2.3 .9 1.1 1.3" fill="#fffdfd"/>
<path d="M419.3 297.7l-1.2-1.6-2.2 .9 1.2 1.6" fill="#fdedee"/>
<path d="M404.8 297.3l-1.1-1.7-2.2 .9 1.1 1.7" fill="#fdeaeb"/>
<path d="M471.7 299.8l-1.4-1.2-2 .7 1.4 1.2" fill="#fefffe"/>
<path d="M442.7 299l-1.2-1.4-2.2 .8 1.3 1.4" fill="#fef7f8"/>
<path d="M388.2 298.7l-1.1-1.3-2.2 1 1 1.3" fill="#fef6f6"/>
<path d="M428.3 298.5l-1.3-1.6-2.1 .8 1.2 1.5" fill="#fdf2f2"/>
<path d="M399.3 297.5l-1.2-1.6-2.2 1.1 1.2 1.5" fill="#fdebec"/>
<path d="M393.7 298l-1.1-1.4-2.2 1 1.1 1.4" fill="#fdeff0"/>
<path d="M451.7 299.7l-1.3-1.4-2.1 .7 1.3 1.4" fill="#fffbfc"/>
<path d="M413.8 297.9l-1.2-1.7-2.2 .9 1.2 1.7" fill="#fdedee"/>
<path d="M466.2 300l-1.4-1.2-2 .7 1.3 1.2" fill="#fefffe"/>
<path d="M437.2 299.2l-1.3-1.4-2.1 .8 1.3 1.4" fill="#fef7f7"/>
<path d="M422.7 298.5l-1.2-1.6-2.2 .8 1.2 1.6" fill="#fdeff0"/>
<path d="M408.2 298l-1.2-1.7-2.2 1 1.2 1.6" fill="#fdeced"/>
<path d="M460.7 300.2l-1.4-1.3-2.1 .7 1.4 1.3" fill="#ffffff"/>
<path d="M446.2 299.7l-1.3-1.4-2.2 .7 1.3 1.4" fill="#fef9f9"/>
<path d="M431.7 299.3l-1.3-1.5-2.1 .7 1.2 1.5" fill="#fef5f6"/>
<path d="M402.6 298.2l-1.1-1.7-2.2 1 1.1 1.6" fill="#fdeced"/>
<path d="M385.9 299.7l-1-1.3-2.3 1 1.1 1.3" fill="#fefafa"/>
<path d="M417.1 298.6l-1.2-1.6-2.1 .9 1.2 1.5" fill="#fdeff0"/>
<path d="M455.1 300.3l-1.3-1.3-2.1 .7 1.3 1.3" fill="#fffefe"/>
<path d="M391.5 299l-1.1-1.4-2.2 1.1 1.1 1.3" fill="#fef3f4"/>
<path d="M440.6 299.8l-1.3-1.4-2.1 .8 1.3 1.4" fill="#fef8f9"/>
<path d="M397.1 298.5l-1.2-1.5-2.2 1 1.1 1.4" fill="#fdeeef"/>
<path d="M469.7 300.5l-1.4-1.2-2.1 .7 1.4 1.2" fill="#fefffe"/>
<path d="M426.1 299.2l-1.2-1.5-2.2 .8 1.2 1.5" fill="#fdf2f3"/>
<path d="M411.6 298.8l-1.2-1.7-2.2 .9 1.2 1.6" fill="#fdeff0"/>
<path d="M435.1 300l-1.3-1.4-2.1 .7 1.2 1.5" fill="#fef8f8"/>
<path d="M449.6 300.4l-1.3-1.4-2.1 .7 1.3 1.4" fill="#fffbfb"/>
<path d="M464.1 300.7l-1.3-1.2-2.1 .7 1.3 1.2" fill="#fefffe"/>
<path d="M406 298.9l-1.2-1.6-2.2 .9 1.2 1.6" fill="#fdeeef"/>
<path d="M420.5 299.3l-1.2-1.6-2.2 .9 1.2 1.5" fill="#fdf1f2"/>
<path d="M458.6 300.9l-1.4-1.3-2.1 .7 1.4 1.3" fill="#ffffff"/>
<path d="M444 300.4l-1.3-1.4-2.1 .8 1.3 1.4" fill="#fefafa"/>
<path d="M429.5 300l-1.2-1.5-2.2 .7 1.2 1.5" fill="#fef5f6"/>
<path d="M383.7 300.7l-1.1-1.3-2.2 1 1 1.2" fill="#fffdfd"/>
<path d="M400.4 299.1l-1.1-1.6-2.2 1 1.1 1.5" fill="#fdeff0"/>
<path d="M389.3 300l-1.1-1.3-2.3 1 1.1 1.3" fill="#fef7f7"/>
<path d="M415 299.4l-1.2-1.5-2.2 .9 1.2 1.5" fill="#fdf1f2"/>
<path d="M473.1 301l-1.4-1.2-2 .7 1.4 1.2" fill="#fefffe"/>
<path d="M394.8 299.4l-1.1-1.4-2.2 1 1.1 1.4" fill="#fdf2f2"/>
<path d="M438.5 300.6l-1.3-1.4-2.1 .8 1.2 1.4" fill="#fefafa"/>
<path d="M453 301l-1.3-1.3-2.1 .7 1.3 1.3" fill="#fffdfe"/>
<path d="M409.4 299.6l-1.2-1.6-2.2 .9 1.2 1.6" fill="#fdf1f1"/>
<path d="M467.6 301.2l-1.4-1.2-2.1 .7 1.4 1.2" fill="#fefffe"/>
<path d="M423.9 300l-1.2-1.5-2.2 .8 1.2 1.4" fill="#fef3f4"/>
<path d="M432.9 300.8l-1.2-1.5-2.2 .7 1.2 1.5" fill="#fef8f9"/>
<path d="M447.5 301.1l-1.3-1.4-2.2 .7 1.3 1.4" fill="#fffbfc"/>
<path d="M462 301.4l-1.3-1.2-2.1 .7 1.3 1.2" fill="#fefffe"/>
<path d="M403.8 299.8l-1.2-1.6-2.2 .9 1.2 1.5" fill="#fdf0f1"/>
<path d="M418.3 300.1l-1.2-1.5-2.1 .8 1.1 1.5" fill="#fef3f3"/>
<path d="M398.2 300l-1.1-1.5-2.3 .9 1.1 1.5" fill="#fdf1f2"/>
<path d="M387 301l-1.1-1.3-2.2 1 1.1 1.2" fill="#fefafa"/>
<path d="M441.9 301.2l-1.3-1.4-2.1 .8 1.3 1.4" fill="#fefbfb"/>
<path d="M456.5 301.6l-1.4-1.3-2.1 .7 1.4 1.3" fill="#ffffff"/>
<path d="M392.6 300.4l-1.1-1.4-2.2 1 1 1.3" fill="#fef5f5"/>
<path d="M412.8 300.3l-1.2-1.5-2.2 .8 1.1 1.6" fill="#fef3f3"/>
<path d="M427.3 300.7l-1.2-1.5-2.2 .8 1.2 1.4" fill="#fef5f6"/>
<path d="M471.1 301.7l-1.4-1.2-2.1 .7 1.4 1.2" fill="#fefffe"/>
<path d="M436.3 301.4l-1.2-1.4-2.2 .8 1.3 1.3" fill="#fefafb"/>
<path d="M450.9 301.7l-1.3-1.3-2.1 .7 1.3 1.3" fill="#fffdfd"/>
<path d="M407.2 300.5l-1.2-1.6-2.2 .9 1.1 1.5" fill="#fef2f3"/>
<path d="M421.7 300.7l-1.2-1.4-2.2 .8 1.2 1.4" fill="#fef4f5"/>
<path d="M465.5 301.9l-1.4-1.2-2.1 .7 1.4 1.2" fill="#fefffe"/>
<path d="M401.6 300.6l-1.2-1.5-2.2 .9 1.1 1.5" fill="#fdf2f3"/>
<path d="M430.7 301.5l-1.2-1.5-2.2 .7 1.3 1.5" fill="#fef8f9"/>
<path d="M445.3 301.8l-1.3-1.4-2.1 .8 1.3 1.4" fill="#fffcfc"/>
<path d="M416.1 300.9l-1.1-1.5-2.2 .9 1.1 1.5" fill="#fef4f5"/>
<path d="M459.9 302.1l-1.3-1.2-2.1 .7 1.3 1.2" fill="#fefffe"/>
<path d="M395.9 300.9l-1.1-1.5-2.2 1 1.1 1.4" fill="#fef4f4"/>
<path d="M384.8 301.9l-1.1-1.2-2.3 .9 1.1 1.2" fill="#fffdfd"/>
<path d="M390.3 301.3l-1-1.3-2.3 1 1.1 1.3" fill="#fef8f8"/>
<path d="M474.6 302.2l-1.5-1.2-2 .7 1.4 1.2" fill="#ffffff"/>
<path d="M410.5 301.2l-1.1-1.6-2.2 .9 1.1 1.5" fill="#fef5f5"/>
<path d="M439.8 302l-1.3-1.4-2.2 .8 1.3 1.3" fill="#fffcfc"/>
<path d="M454.4 302.3l-1.4-1.3-2.1 .7 1.3 1.3" fill="#ffffff"/>
<path d="M425.1 301.4l-1.2-1.4-2.2 .7 1.3 1.5" fill="#fef6f6"/>
<path d="M469 302.4l-1.4-1.2-2.1 .7 1.4 1.2" fill="#ffffff"/>
<path d="M404.9 301.3l-1.1-1.5-2.2 .8 1.1 1.5" fill="#fef4f4"/>
<path d="M434.2 302.1l-1.3-1.3-2.2 .7 1.3 1.4" fill="#fffbfb"/>
<path d="M448.8 302.4l-1.3-1.3-2.2 .7 1.3 1.4" fill="#fffdfe"/>
<path d="M419.5 301.5l-1.2-1.4-2.2 .8 1.2 1.5" fill="#fef5f6"/>
<path d="M463.4 302.6l-1.4-1.2-2.1 .7 1.4 1.3" fill="#fefffe"/>
<path d="M399.3 301.5l-1.1-1.5-2.3 .9 1.2 1.4" fill="#fef4f5"/>
<path d="M413.9 301.8l-1.1-1.5-2.3 .9 1.2 1.5" fill="#fef6f7"/>
<path d="M443.2 302.6l-1.3-1.4-2.1 .8 1.2 1.3" fill="#fffdfd"/>
<path d="M393.7 301.8l-1.1-1.4-2.3 .9 1.1 1.4" fill="#fef6f7"/>
<path d="M428.6 302.2l-1.3-1.5-2.2 .7 1.3 1.5" fill="#fef8f9"/>
<path d="M388.1 302.3l-1.1-1.3-2.2 .9 1 1.3" fill="#fefbfb"/>
<path d="M457.8 302.8l-1.3-1.2-2.1 .7 1.3 1.3" fill="#fefffe"/>
<path d="M408.3 302l-1.1-1.5-2.3 .8 1.2 1.5" fill="#fef6f6"/>
<path d="M437.6 302.7l-1.3-1.3-2.1 .7 1.2 1.4" fill="#fffcfc"/>
<path d="M472.5 302.9l-1.4-1.2-2.1 .7 1.4 1.3" fill="#ffffff"/>
<path d="M452.2 303l-1.3-1.3-2.1 .7 1.3 1.4" fill="#ffffff"/>
<path d="M423 302.2l-1.3-1.5-2.2 .8 1.3 1.5" fill="#fef7f7"/>
<path d="M402.7 302.1l-1.1-1.5-2.3 .9 1.2 1.4" fill="#fef5f6"/>
<path d="M466.9 303.1l-1.4-1.2-2.1 .7 1.4 1.3" fill="#ffffff"/>
<path d="M417.3 302.4l-1.2-1.5-2.2 .9 1.2 1.4" fill="#fef7f8"/>
<path d="M432 302.9l-1.3-1.4-2.1 .7 1.2 1.3" fill="#fefbfb"/>
<path d="M446.6 303.2l-1.3-1.4-2.1 .8 1.3 1.3" fill="#fffefe"/>
<path d="M397.1 302.3l-1.2-1.4-2.2 .9 1.1 1.3" fill="#fef6f6"/>
<path d="M461.3 303.4l-1.4-1.3-2.1 .7 1.4 1.3" fill="#fefffe"/>
<path d="M411.7 302.7l-1.2-1.5-2.2 .8 1.2 1.5" fill="#fef8f8"/>
<path d="M391.4 302.7l-1.1-1.4-2.2 1 1.1 1.2" fill="#fef9f9"/>
<path d="M385.8 303.2l-1-1.3-2.3 .9 1.1 1.3" fill="#fffdfd"/>
<path d="M441 303.3l-1.2-1.3-2.2 .7 1.3 1.3" fill="#fffdfd"/>
<path d="M426.4 302.9l-1.3-1.5-2.1 .8 1.2 1.4" fill="#fef8f9"/>
<path d="M476 303.4l-1.4-1.2-2.1 .7 1.4 1.3" fill="#ffffff"/>
<path d="M455.7 303.6l-1.3-1.3-2.2 .7 1.4 1.3" fill="#fefffe"/>
<path d="M406.1 302.8l-1.2-1.5-2.2 .8 1.2 1.5" fill="#fef7f8"/>
<path d="M435.4 303.5l-1.2-1.4-2.2 .8 1.3 1.3" fill="#fffdfd"/>
<path d="M470.4 303.7l-1.4-1.3-2.1 .7 1.4 1.3" fill="#ffffff"/>
<path d="M420.8 303l-1.3-1.5-2.2 .9 1.3 1.4" fill="#fef8f8"/>
<path d="M450.1 303.8l-1.3-1.4-2.2 .8 1.4 1.3" fill="#ffffff"/>
<path d="M400.5 302.9l-1.2-1.4-2.2 .8 1.1 1.4" fill="#fef6f7"/>
<path d="M415.1 303.2l-1.2-1.4-2.2 .9 1.2 1.4" fill="#fef9f9"/>
<path d="M464.8 303.9l-1.4-1.3-2.1 .8 1.4 1.2" fill="#fefffe"/>
<path d="M429.8 303.5l-1.2-1.3-2.2 .7 1.2 1.3" fill="#fefafb"/>
<path d="M394.8 303.1l-1.1-1.3-2.3 .9 1.2 1.3" fill="#fef8f8"/>
<path d="M444.5 303.9l-1.3-1.3-2.2 .7 1.3 1.3" fill="#fffefe"/>
<path d="M389.2 303.5l-1.1-1.2-2.3 .9 1.1 1.2" fill="#fffbfb"/>
<path d="M409.5 303.5l-1.2-1.5-2.2 .8 1.2 1.5" fill="#fef9f9"/>
<path d="M459.2 304.1l-1.4-1.3-2.1 .8 1.4 1.2" fill="#fefffe"/>
<path d="M438.9 304l-1.3-1.3-2.2 .8 1.3 1.3" fill="#fffefe"/>
<path d="M424.2 303.6l-1.2-1.4-2.2 .8 1.2 1.3" fill="#fef9f9"/>
<path d="M473.9 304.2l-1.4-1.3-2.1 .8 1.4 1.2" fill="#ffffff"/>
<path d="M453.6 304.3l-1.4-1.3-2.1 .8 1.4 1.2" fill="#fefffe"/>
<path d="M403.9 303.6l-1.2-1.5-2.2 .8 1.1 1.5" fill="#fef8f8"/>
<path d="M418.6 303.8l-1.3-1.4-2.2 .8 1.2 1.4" fill="#fef9fa"/>
<path d="M433.3 304.2l-1.3-1.3-2.2 .6 1.3 1.4" fill="#fffcfd"/>
<path d="M468.3 304.4l-1.4-1.3-2.1 .8 1.4 1.2" fill="#ffffff"/>
<path d="M448 304.5l-1.4-1.3-2.1 .7 1.3 1.3" fill="#ffffff"/>
<path d="M398.2 303.7l-1.1-1.4-2.3 .8 1.1 1.4" fill="#fef8f8"/>
<path d="M412.9 304.1l-1.2-1.4-2.2 .8 1.2 1.4" fill="#fefafb"/>
<path d="M462.7 304.6l-1.4-1.2-2.1 .7 1.4 1.2" fill="#fefffe"/>
<path d="M392.6 304l-1.2-1.3-2.2 .8 1.1 1.3" fill="#fef9fa"/>
<path d="M386.9 304.4l-1.1-1.2-2.2 .9 1 1.2" fill="#fffdfe"/>
<path d="M427.6 304.2l-1.2-1.3-2.2 .7 1.2 1.4" fill="#fefafa"/>
<path d="M442.3 304.6l-1.3-1.3-2.1 .7 1.3 1.3" fill="#fffefe"/>
<path d="M407.3 304.3l-1.2-1.5-2.2 .8 1.1 1.4" fill="#fefafa"/>
<path d="M477.4 304.7l-1.4-1.3-2.1 .8 1.5 1.2" fill="#ffffff"/>
<path d="M457.1 304.8l-1.4-1.2-2.1 .7 1.3 1.2" fill="#fefffe"/>
<path d="M436.7 304.8l-1.3-1.3-2.1 .7 1.2 1.3" fill="#fffefe"/>
<path d="M422 304.3l-1.2-1.3-2.2 .8 1.2 1.3" fill="#fefafa"/>
<path d="M471.8 304.9l-1.4-1.2-2.1 .7 1.4 1.2" fill="#ffffff"/>
<path d="M401.6 304.4l-1.1-1.5-2.3 .8 1.1 1.4" fill="#fef9f9"/>
<path d="M451.5 305l-1.4-1.2-2.1 .7 1.3 1.2" fill="#fefffe"/>
<path d="M416.3 304.6l-1.2-1.4-2.2 .9 1.2 1.4" fill="#fffbfb"/>
<path d="M431.1 304.9l-1.3-1.4-2.2 .7 1.3 1.4" fill="#fffcfc"/>
<path d="M466.2 305.1l-1.4-1.2-2.1 .7 1.4 1.2" fill="#ffffff"/>
<path d="M395.9 304.5l-1.1-1.4-2.2 .9 1.1 1.3" fill="#fef9f9"/>
<path d="M445.8 305.2l-1.3-1.3-2.2 .7 1.4 1.3" fill="#ffffff"/>
<path d="M410.7 304.9l-1.2-1.4-2.2 .8 1.1 1.4" fill="#fffcfc"/>
<path d="M390.3 304.8l-1.1-1.3-2.3 .9 1.1 1.3" fill="#fffbfc"/>
<path d="M460.6 305.3l-1.4-1.2-2.1 .7 1.4 1.2" fill="#fefffe"/>
<path d="M425.4 305l-1.2-1.4-2.2 .7 1.2 1.4" fill="#fefafb"/>
<path d="M440.2 305.3l-1.3-1.3-2.2 .8 1.3 1.3" fill="#fffeff"/>
<path d="M405 305l-1.1-1.4-2.3 .8 1.2 1.4" fill="#fefbfb"/>
<path d="M475.4 305.4l-1.5-1.2-2.1 .7 1.5 1.3" fill="#ffffff"/>
<path d="M454.9 305.5l-1.3-1.2-2.1 .7 1.3 1.3" fill="#fefffe"/>
<path d="M419.8 305.1l-1.2-1.3-2.3 .8 1.2 1.4" fill="#fffbfb"/>
<path d="M434.5 305.5l-1.2-1.3-2.2 .7 1.2 1.3" fill="#fffefe"/>
<path d="M399.3 305.1l-1.1-1.4-2.3 .8 1.2 1.4" fill="#fefafa"/>
<path d="M469.7 305.6l-1.4-1.2-2.1 .7 1.4 1.3" fill="#ffffff"/>
<path d="M449.3 305.7l-1.3-1.2-2.2 .7 1.4 1.3" fill="#fefffe"/>
<path d="M414.1 305.5l-1.2-1.4-2.2 .8 1.2 1.4" fill="#fffcfd"/>
<path d="M393.7 305.3l-1.1-1.3-2.3 .8 1.1 1.3" fill="#fefafb"/>
<path d="M464.1 305.8l-1.4-1.2-2.1 .7 1.4 1.3" fill="#ffffff"/>
<path d="M428.9 305.6l-1.3-1.4-2.2 .8 1.3 1.3" fill="#fffcfc"/>
<path d="M408.4 305.7l-1.1-1.4-2.3 .7 1.2 1.4" fill="#fffcfc"/>
<path d="M388 305.7l-1.1-1.3-2.3 .9 1.1 1.3" fill="#fffefe"/>
<path d="M443.7 305.9l-1.4-1.3-2.1 .7 1.3 1.3" fill="#ffffff"/>
<path d="M478.9 306l-1.5-1.3-2 .7 1.4 1.3" fill="#ffffff"/>
<path d="M458.5 306l-1.4-1.2-2.2 .7 1.4 1.3" fill="#fefffe"/>
<path d="M423.2 305.7l-1.2-1.4-2.2 .8 1.2 1.4" fill="#fffbfb"/>
<path d="M438 306.1l-1.3-1.3-2.2 .7 1.3 1.3" fill="#ffffff"/>
<path d="M402.8 305.8l-1.2-1.4-2.3 .7 1.2 1.4" fill="#fffbfb"/>
<path d="M473.3 306.2l-1.5-1.3-2.1 .7 1.5 1.3" fill="#ffffff"/>
<path d="M452.8 306.3l-1.3-1.3-2.2 .7 1.4 1.3" fill="#fefffe"/>
<path d="M417.5 306l-1.2-1.4-2.2 .9 1.2 1.3" fill="#fffcfd"/>
<path d="M432.3 306.2l-1.2-1.3-2.2 .7 1.2 1.3" fill="#fffdfd"/>
<path d="M397.1 305.9l-1.2-1.4-2.2 .8 1.1 1.4" fill="#fefafb"/>
<path d="M411.9 306.3l-1.2-1.4-2.3 .8 1.2 1.4" fill="#fffefe"/>
<path d="M467.6 306.4l-1.4-1.3-2.1 .7 1.4 1.3" fill="#ffffff"/>
<path d="M447.2 306.5l-1.4-1.3-2.1 .7 1.3 1.3" fill="#fefffe"/>
<path d="M391.4 306.1l-1.1-1.3-2.3 .9 1.1 1.3" fill="#fffcfc"/>
<path d="M462 306.6l-1.4-1.3-2.1 .7 1.3 1.3" fill="#ffffff"/>
<path d="M426.7 306.3l-1.3-1.3-2.2 .7 1.3 1.4" fill="#fffcfc"/>
<path d="M406.2 306.4l-1.2-1.4-2.2 .8 1.1 1.4" fill="#fffdfd"/>
<path d="M441.5 306.6l-1.3-1.3-2.2 .8 1.3 1.3" fill="#ffffff"/>
<path d="M476.8 306.7l-1.4-1.3-2.1 .8 1.4 1.2" fill="#ffffff"/>
<path d="M456.3 306.8l-1.4-1.3-2.1 .8 1.4 1.2" fill="#fefffe"/>
<path d="M421 306.5l-1.2-1.4-2.3 .9 1.3 1.3" fill="#fffcfc"/>
<path d="M435.8 306.8l-1.3-1.3-2.2 .7 1.3 1.3" fill="#fffeff"/>
<path d="M400.5 306.5l-1.2-1.4-2.2 .8 1.1 1.4" fill="#fffbfb"/>
<path d="M415.3 306.8l-1.2-1.3-2.2 .8 1.2 1.3" fill="#fffefe"/>
<path d="M471.2 306.9l-1.5-1.3-2.1 .8 1.4 1.2" fill="#ffffff"/>
<path d="M450.7 307l-1.4-1.3-2.1 .8 1.3 1.2" fill="#fefffe"/>
<path d="M394.8 306.7l-1.1-1.4-2.3 .8 1.1 1.4" fill="#fffbfb"/>
<path d="M430.1 306.9l-1.2-1.3-2.2 .7 1.2 1.4" fill="#fffdfd"/>
<path d="M409.6 307.1l-1.2-1.4-2.2 .7 1.2 1.4" fill="#fffefe"/>
<path d="M465.5 307.1l-1.4-1.3-2.1 .8 1.4 1.2" fill="#ffffff"/>
<path d="M445 307.2l-1.3-1.3-2.2 .7 1.3 1.3" fill="#ffffff"/>
<path d="M389.1 307l-1.1-1.3-2.3 .9 1.1 1.2" fill="#fffefe"/>
<path d="M480.4 307.2l-1.5-1.2-2.1 .7 1.5 1.3" fill="#ffffff"/>
<path d="M424.5 307.1l-1.3-1.4-2.2 .8 1.2 1.3" fill="#fffcfd"/>
<path d="M459.8 307.3l-1.3-1.3-2.2 .8 1.4 1.2" fill="#ffffff"/>
<path d="M403.9 307.2l-1.1-1.4-2.3 .7 1.2 1.4" fill="#fffdfd"/>
<path d="M439.3 307.4l-1.3-1.3-2.2 .7 1.3 1.3" fill="#ffffff"/>
<path d="M418.8 307.3l-1.3-1.3-2.2 .8 1.2 1.3" fill="#fffefe"/>
<path d="M474.7 307.4l-1.4-1.2-2.1 .7 1.4 1.3" fill="#ffffff"/>
<path d="M454.2 307.5l-1.4-1.2-2.1 .7 1.3 1.2" fill="#fefffe"/>
<path d="M433.6 307.5l-1.3-1.3-2.2 .7 1.3 1.4" fill="#fffefe"/>
<path d="M398.2 307.3l-1.1-1.4-2.3 .8 1.1 1.3" fill="#fffbfc"/>
<path d="M413.1 307.6l-1.2-1.3-2.3 .8 1.2 1.3" fill="#ffffff"/>
<path d="M469 307.6l-1.4-1.2-2.1 .7 1.4 1.3" fill="#ffffff"/>
<path d="M448.5 307.7l-1.3-1.2-2.2 .7 1.3 1.3" fill="#fefffe"/>
<path d="M392.5 307.5l-1.1-1.4-2.3 .9 1.1 1.3" fill="#fffcfc"/>
<path d="M427.9 307.7l-1.2-1.4-2.2 .8 1.2 1.3" fill="#fffdfd"/>
<path d="M407.4 307.8l-1.2-1.4-2.3 .8 1.2 1.3" fill="#fffefe"/>
<path d="M463.4 307.8l-1.4-1.2-2.2 .7 1.4 1.3" fill="#ffffff"/>
<path d="M442.8 307.9l-1.3-1.3-2.2 .8 1.3 1.2" fill="#ffffff"/>
<path d="M478.3 308l-1.5-1.3-2.1 .7 1.5 1.3" fill="#ffffff"/>
<path d="M422.2 307.8l-1.2-1.3-2.2 .8 1.2 1.3" fill="#fffdfd"/>
<path d="M457.7 308l-1.4-1.2-2.1 .7 1.3 1.3" fill="#ffffff"/>
<path d="M401.7 307.9l-1.2-1.4-2.3 .8 1.2 1.3" fill="#fffdfd"/>
<path d="M437.1 308.1l-1.3-1.3-2.2 .7 1.3 1.3" fill="#ffffff"/>
<path d="M416.5 308.1l-1.2-1.3-2.2 .8 1.2 1.3" fill="#ffffff"/>
<path d="M472.6 308.2l-1.4-1.3-2.2 .7 1.5 1.3" fill="#ffffff"/>
<path d="M452 308.2l-1.3-1.2-2.2 .7 1.3 1.3" fill="#fefffe"/>
<path d="M395.9 308l-1.1-1.3-2.3 .8 1.1 1.3" fill="#fffcfc"/>
<path d="M431.4 308.3l-1.3-1.4-2.2 .8 1.3 1.3" fill="#fffefe"/>
<path d="M410.8 308.4l-1.2-1.3-2.2 .7 1.2 1.3" fill="#fefffe"/>
<path d="M466.9 308.4l-1.4-1.3-2.1 .7 1.4 1.3" fill="#ffffff"/>
<path d="M446.3 308.5l-1.3-1.3-2.2 .7 1.3 1.3" fill="#ffffff"/>
<path d="M390.2 308.3l-1.1-1.3-2.3 .8 1.1 1.3" fill="#fffefe"/>
<path d="M481.8 308.5l-1.4-1.3-2.1 .8 1.4 1.3" fill="#ffffff"/>
<path d="M425.7 308.4l-1.2-1.3-2.3 .7 1.3 1.4" fill="#fffefe"/>
<path d="M405.1 308.5l-1.2-1.3-2.2 .7 1.1 1.4" fill="#fffefe"/>
<path d="M461.2 308.6l-1.4-1.3-2.1 .7 1.4 1.3" fill="#ffffff"/>
<path d="M440.6 308.6l-1.3-1.2-2.2 .7 1.3 1.3" fill="#ffffff"/>
<path d="M420 308.6l-1.2-1.3-2.3 .8 1.3 1.3" fill="#fffefe"/>
<path d="M476.2 308.7l-1.5-1.3-2.1 .8 1.5 1.3" fill="#ffffff"/>
<path d="M455.5 308.8l-1.3-1.3-2.2 .7 1.4 1.3" fill="#ffffff"/>
<path d="M399.4 308.6l-1.2-1.3-2.3 .7 1.2 1.4" fill="#fffcfd"/>
<path d="M434.9 308.8l-1.3-1.3-2.2 .8 1.3 1.3" fill="#ffffff"/>
<path d="M414.3 308.9l-1.2-1.3-2.3 .8 1.2 1.3" fill="#fefffe"/>
<path d="M470.5 308.9l-1.5-1.3-2.1 .8 1.5 1.3" fill="#ffffff"/>
<path d="M449.8 309l-1.3-1.3-2.2 .8 1.4 1.2" fill="#ffffff"/>
<path d="M393.6 308.8l-1.1-1.3-2.3 .8 1.1 1.3" fill="#fffdfd"/>
<path d="M429.2 309l-1.3-1.3-2.2 .7 1.3 1.4" fill="#fffefe"/>
<path d="M408.6 309.1l-1.2-1.3-2.3 .7 1.2 1.4" fill="#fefffe"/>
<path d="M464.8 309.1l-1.4-1.3-2.2 .8 1.4 1.2" fill="#ffffff"/>
<path d="M444.1 309.2l-1.3-1.3-2.2 .7 1.3 1.3" fill="#ffffff"/>
<path d="M423.5 309.2l-1.3-1.4-2.2 .8 1.2 1.4" fill="#fffefe"/>
<path d="M479.7 309.3l-1.4-1.3-2.1 .7 1.4 1.3" fill="#ffffff"/>
<path d="M402.8 309.3l-1.1-1.4-2.3 .7 1.1 1.4" fill="#fffefe"/>
<path d="M459.1 309.3l-1.4-1.3-2.2 .8 1.4 1.2" fill="#ffffff"/>
<path d="M438.4 309.4l-1.3-1.3-2.2 .7 1.3 1.3" fill="#ffffff"/>
<path d="M417.8 309.4l-1.3-1.3-2.2 .8 1.2 1.3" fill="#fefffe"/>
<path d="M474.1 309.5l-1.5-1.3-2.1 .7 1.4 1.3" fill="#ffffff"/>
<path d="M453.4 309.5l-1.4-1.3-2.2 .8 1.4 1.3" fill="#ffffff"/>
<path d="M397.1 309.4l-1.2-1.4-2.3 .8 1.2 1.3" fill="#fffdfd"/>
<path d="M432.7 309.6l-1.3-1.3-2.2 .7 1.3 1.3" fill="#ffffff"/>
<path d="M412 309.7l-1.2-1.3-2.2 .7 1.1 1.3" fill="#fefffe"/>
<path d="M468.4 309.7l-1.5-1.3-2.1 .7 1.4 1.3" fill="#ffffff"/>
<path d="M391.3 309.6l-1.1-1.3-2.3 .8 1.1 1.3" fill="#fffefe"/>
<path d="M447.7 309.7l-1.4-1.2-2.2 .7 1.4 1.3" fill="#ffffff"/>
<path d="M427 309.8l-1.3-1.4-2.2 .8 1.2 1.3" fill="#fffefe"/>
<path d="M483.3 309.8l-1.5-1.3-2.1 .8 1.5 1.3" fill="#ffffff"/>
<path d="M406.3 309.9l-1.2-1.4-2.3 .8 1.2 1.3" fill="#ffffff"/>
<path d="M462.6 309.8l-1.4-1.2-2.1 .7 1.4 1.3" fill="#ffffff"/>
<path d="M441.9 309.9l-1.3-1.3-2.2 .8 1.3 1.3" fill="#ffffff"/>
<path d="M421.2 310l-1.2-1.4-2.2 .8 1.2 1.3" fill="#ffffff"/>
<path d="M477.6 310l-1.4-1.3-2.1 .8 1.4 1.3" fill="#ffffff"/>
<path d="M400.5 310l-1.1-1.4-2.3 .8 1.1 1.3" fill="#fffdfd"/>
<path d="M456.9 310l-1.4-1.2-2.1 .7 1.4 1.3" fill="#ffffff"/>
<path d="M436.2 310.1l-1.3-1.3-2.2 .8 1.3 1.3" fill="#ffffff"/>
<path d="M415.5 310.2l-1.2-1.3-2.3 .8 1.2 1.3" fill="#fefffe"/>
<path d="M471.9 310.2l-1.4-1.3-2.1 .8 1.4 1.3" fill="#ffffff"/>
<path d="M451.2 310.3l-1.4-1.3-2.1 .7 1.3 1.3" fill="#ffffff"/>
<path d="M394.8 310.1l-1.2-1.3-2.3 .8 1.1 1.3" fill="#fffdfd"/>
<path d="M430.5 310.3l-1.3-1.3-2.2 .8 1.2 1.3" fill="#ffffff"/>
<path d="M409.7 310.4l-1.1-1.3-2.3 .8 1.2 1.3" fill="#fefffe"/>
<path d="M466.2 310.4l-1.4-1.3-2.2 .7 1.5 1.3" fill="#ffffff"/>
<path d="M445.5 310.5l-1.4-1.3-2.2 .7 1.4 1.3" fill="#ffffff"/>
<path d="M424.7 310.5l-1.2-1.3-2.3 .8 1.3 1.3" fill="#ffffff"/>
<path d="M481.2 310.6l-1.5-1.3-2.1 .7 1.5 1.3" fill="#ffffff"/>
<path d="M404 310.6l-1.2-1.3-2.3 .7 1.2 1.3" fill="#ffffff"/>
<path d="M460.5 310.6l-1.4-1.3-2.2 .7 1.4 1.3" fill="#ffffff"/>
<path d="M439.7 310.7l-1.3-1.3-2.2 .7 1.3 1.3" fill="#ffffff"/>
<path d="M419 310.7l-1.2-1.3-2.3 .8 1.2 1.3" fill="#fefffe"/>
<path d="M475.5 310.8l-1.4-1.3-2.2 .7 1.5 1.3" fill="#ffffff"/>
<path d="M454.8 310.8l-1.4-1.3-2.2 .8 1.4 1.3" fill="#ffffff"/>
<path d="M398.2 310.7l-1.1-1.3-2.3 .7 1.1 1.4" fill="#fffdfd"/>
<path d="M434 310.9l-1.3-1.3-2.2 .7 1.3 1.3" fill="#ffffff"/>
<path d="M413.2 311l-1.2-1.3-2.3 .7 1.3 1.3" fill="#fefffe"/>
<path d="M469.8 311l-1.4-1.3-2.2 .7 1.5 1.3" fill="#ffffff"/>
<path d="M392.4 310.9l-1.1-1.3-2.3 .8 1.1 1.3" fill="#fffefe"/>
<path d="M449 311l-1.3-1.3-2.2 .8 1.3 1.3" fill="#ffffff"/>
<path d="M428.2 311.1l-1.2-1.3-2.3 .7 1.3 1.3" fill="#ffffff"/>
<path d="M484.8 311.1l-1.5-1.3-2.1 .8 1.5 1.3" fill="#ffffff"/>
<path d="M407.5 311.2l-1.2-1.3-2.3 .7 1.2 1.3" fill="#fefffe"/>
<path d="M464.1 311.1l-1.5-1.3-2.1 .8 1.4 1.3" fill="#ffffff"/>
<path d="M443.3 311.2l-1.4-1.3-2.2 .8 1.4 1.3" fill="#ffffff"/>
<path d="M422.5 311.3l-1.3-1.3-2.2 .7 1.2 1.3" fill="#ffffff"/>
<path d="M479.1 311.3l-1.5-1.3-2.1 .8 1.5 1.3" fill="#ffffff"/>
<path d="M401.7 311.3l-1.2-1.3-2.3 .7 1.2 1.3" fill="#fffefe"/>
<path d="M458.3 311.3l-1.4-1.3-2.1 .8 1.4 1.3" fill="#ffffff"/>
<path d="M437.5 311.4l-1.3-1.3-2.2 .8 1.3 1.3" fill="#ffffff"/>
<path d="M416.7 311.5l-1.2-1.3-2.3 .8 1.2 1.3" fill="#fefffe"/>
<path d="M473.4 311.5l-1.5-1.3-2.1 .8 1.4 1.3" fill="#ffffff"/>
<path d="M395.9 311.5l-1.1-1.4-2.4 .8 1.2 1.3" fill="#fffdfe"/>
<path d="M452.6 311.6l-1.4-1.3-2.2 .7 1.4 1.3" fill="#ffffff"/>
<path d="M431.8 311.6l-1.3-1.3-2.3 .8 1.3 1.3" fill="#ffffff"/>
<path d="M411 311.7l-1.3-1.3-2.2 .8 1.2 1.3" fill="#fefffe"/>
<path d="M467.7 311.7l-1.5-1.3-2.1 .7 1.4 1.4" fill="#ffffff"/>
<path d="M446.8 311.8l-1.3-1.3-2.2 .7 1.3 1.3" fill="#ffffff"/>
<path d="M426 311.8l-1.3-1.3-2.2 .8 1.2 1.3" fill="#ffffff"/>
<path d="M482.7 311.9l-1.5-1.3-2.1 .7 1.5 1.3" fill="#ffffff"/>
<path d="M405.2 311.9l-1.2-1.3-2.3 .7 1.2 1.3" fill="#ffffff"/>
<path d="M461.9 311.9l-1.4-1.3-2.2 .7 1.4 1.4" fill="#ffffff"/>
<path d="M441.1 312l-1.4-1.3-2.2 .7 1.4 1.3" fill="#ffffff"/>
<path d="M420.2 312l-1.2-1.3-2.3 .8 1.3 1.3" fill="#ffffff"/>
<path d="M477 312.1l-1.5-1.3-2.1 .7 1.5 1.3" fill="#ffffff"/>
<path d="M399.4 312l-1.2-1.3-2.3 .8 1.2 1.3" fill="#fffefe"/>
<path d="M456.2 312.1l-1.4-1.3-2.2 .8 1.4 1.3" fill="#ffffff"/>
<path d="M435.3 312.2l-1.3-1.3-2.2 .7 1.3 1.4" fill="#fefffe"/>
<path d="M414.4 312.3l-1.2-1.3-2.2 .7 1.2 1.3" fill="#fefffe"/>
<path d="M471.2 312.3l-1.4-1.3-2.1 .7 1.4 1.3" fill="#ffffff"/>
<path d="M393.6 312.2l-1.2-1.3-2.3 .8 1.1 1.3" fill="#fffefe"/>
<path d="M450.4 312.3l-1.4-1.3-2.2 .8 1.4 1.3" fill="#ffffff"/>
<path d="M429.5 312.4l-1.3-1.3-2.2 .7 1.3 1.4" fill="#ffffff"/>
<path d="M486.4 312.4l-1.6-1.3-2.1 .8 1.5 1.3" fill="#ffffff"/>
<path d="M408.7 312.5l-1.2-1.3-2.3 .7 1.2 1.3" fill="#fefffe"/>
<path d="M465.5 312.5l-1.4-1.4-2.2 .8 1.4 1.3" fill="#ffffff"/>
<path d="M444.6 312.5l-1.3-1.3-2.2 .8 1.3 1.3" fill="#ffffff"/>
<path d="M423.7 312.6l-1.2-1.3-2.3 .7 1.3 1.3" fill="#ffffff"/>
<path d="M480.6 312.6l-1.5-1.3-2.1 .8 1.5 1.3" fill="#ffffff"/>
<path d="M402.9 312.6l-1.2-1.3-2.3 .7 1.1 1.4" fill="#ffffff"/>
<path d="M459.7 312.7l-1.4-1.4-2.1 .8 1.4 1.3" fill="#ffffff"/>
<path d="M438.9 312.7l-1.4-1.3-2.2 .8 1.3 1.3" fill="#ffffff"/>
<path d="M418 312.8l-1.3-1.3-2.3 .8 1.3 1.3" fill="#ffffff"/>
<path d="M474.9 312.8l-1.5-1.3-2.2 .8 1.5 1.3" fill="#ffffff"/>
<path d="M397.1 312.8l-1.2-1.3-2.3 .7 1.1 1.4" fill="#fffefe"/>
<path d="M454 312.9l-1.4-1.3-2.2 .7 1.4 1.3" fill="#ffffff"/>
<path d="M433.1 313l-1.3-1.4-2.3 .8 1.3 1.3" fill="#fefffe"/>
<path d="M412.2 313l-1.2-1.3-2.3 .8 1.2 1.3" fill="#fefffe"/>
<path d="M469.1 313l-1.4-1.3-2.2 .8 1.4 1.3" fill="#ffffff"/>
<path d="M448.2 313.1l-1.4-1.3-2.2 .7 1.4 1.3" fill="#ffffff"/>
<path d="M427.3 313.2l-1.3-1.4-2.3 .8 1.3 1.3" fill="#ffffff"/>
<path d="M484.2 313.2l-1.5-1.3-2.1 .7 1.5 1.4" fill="#ffffff"/>
<path d="M406.4 313.2l-1.2-1.3-2.3 .7 1.1 1.4" fill="#fefffe"/>
<path d="M463.3 313.2l-1.4-1.3-2.2 .8 1.5 1.3" fill="#ffffff"/>
<path d="M442.4 313.3l-1.3-1.3-2.2 .7 1.3 1.4" fill="#ffffff"/>
<path d="M421.5 313.3l-1.3-1.3-2.2 .8 1.2 1.3" fill="#ffffff"/>
<path d="M478.5 313.4l-1.5-1.3-2.1 .7 1.4 1.4" fill="#ffffff"/>
<path d="M400.5 313.4l-1.1-1.4-2.3 .8 1.1 1.3" fill="#fffefe"/>
<path d="M457.6 313.4l-1.4-1.3-2.2 .8 1.4 1.3" fill="#ffffff"/>
<path d="M436.6 313.5l-1.3-1.3-2.2 .8 1.3 1.3" fill="#ffffff"/>
<path d="M415.7 313.6l-1.3-1.3-2.2 .7 1.2 1.3" fill="#ffffff"/>
<path d="M472.7 313.6l-1.5-1.3-2.1 .7 1.5 1.4" fill="#ffffff"/>
<path d="M394.7 313.6l-1.1-1.4-2.4 .8 1.2 1.4" fill="#fffefe"/>
<path d="M451.8 313.6l-1.4-1.3-2.2 .8 1.4 1.3" fill="#ffffff"/>
<path d="M430.8 313.7l-1.3-1.3-2.2 .8 1.3 1.3" fill="#ffffff"/>
<path d="M487.9 313.7l-1.5-1.3-2.2 .8 1.6 1.3" fill="#ffffff"/>
<path d="M409.9 313.8l-1.2-1.3-2.3 .7 1.2 1.3" fill="#fefffe"/>
<path d="M466.9 313.8l-1.4-1.3-2.2 .7 1.5 1.4" fill="#ffffff"/>
<path d="M446 313.8l-1.4-1.3-2.2 .8 1.4 1.3" fill="#ffffff"/>
<path d="M425 313.9l-1.3-1.3-2.2 .7 1.2 1.4" fill="#ffffff"/>
<path d="M482.1 314l-1.5-1.4-2.1 .8 1.5 1.3" fill="#ffffff"/>
<path d="M404 314l-1.1-1.4-2.4 .8 1.2 1.3" fill="#ffffff"/>
<path d="M461.2 314l-1.5-1.3-2.1 .7 1.4 1.4" fill="#ffffff"/>
<path d="M440.2 314.1l-1.3-1.4-2.3 .8 1.3 1.3" fill="#ffffff"/>
<path d="M419.2 314.1l-1.2-1.3-2.3 .8 1.2 1.3" fill="#ffffff"/>
<path d="M476.3 314.2l-1.4-1.4-2.2 .8 1.5 1.3" fill="#ffffff"/>
<path d="M398.2 314.1l-1.1-1.3-2.4 .8 1.2 1.3" fill="#fffefe"/>
<path d="M455.4 314.2l-1.4-1.3-2.2 .7 1.4 1.4" fill="#ffffff"/>
<path d="M434.4 314.3l-1.3-1.3-2.3 .7 1.3 1.3" fill="#ffffff"/>
<path d="M413.4 314.3l-1.2-1.3-2.3 .8 1.2 1.3" fill="#ffffff"/>
<path d="M470.6 314.4l-1.5-1.4-2.2 .8 1.5 1.3" fill="#ffffff"/>
<path d="M449.6 314.4l-1.4-1.3-2.2 .7 1.4 1.4" fill="#ffffff"/>
<path d="M428.6 314.5l-1.3-1.3-2.3 .7 1.3 1.3" fill="#ffffff"/>
<path d="M485.8 314.5l-1.6-1.3-2.1 .8 1.5 1.3" fill="#ffffff"/>
<path d="M407.6 314.5l-1.2-1.3-2.4 .8 1.2 1.3" fill="#ffffff"/>
<path d="M464.8 314.6l-1.5-1.4-2.1 .8 1.4 1.3" fill="#ffffff"/>
<path d="M443.8 314.6l-1.4-1.3-2.2 .8 1.3 1.3" fill="#ffffff"/>
<path d="M422.7 314.7l-1.2-1.4-2.3 .8 1.3 1.3" fill="#ffffff"/>
<path d="M480 314.7l-1.5-1.3-2.2 .8 1.5 1.3" fill="#ffffff"/>
<path d="M401.7 314.7l-1.2-1.3-2.3 .7 1.2 1.4" fill="#ffffff"/>
<path d="M459 314.8l-1.4-1.4-2.2 .8 1.4 1.3" fill="#ffffff"/>
<path d="M437.9 314.8l-1.3-1.3-2.2 .8 1.3 1.3" fill="#ffffff"/>
<path d="M416.9 314.9l-1.2-1.3-2.3 .7 1.2 1.3" fill="#ffffff"/>
<path d="M474.2 314.9l-1.5-1.3-2.1 .8 1.4 1.3" fill="#ffffff"/>
<path d="M395.9 314.9l-1.2-1.3-2.3 .8 1.1 1.3" fill="#ffffff"/>
<path d="M453.2 315l-1.4-1.4-2.2 .8 1.4 1.4" fill="#ffffff"/>
<path d="M432.1 315l-1.3-1.3-2.2 .8 1.3 1.3" fill="#ffffff"/>
<path d="M411.1 315.1l-1.2-1.3-2.3 .7 1.2 1.4" fill="#ffffff"/>
<path d="M468.4 315.1l-1.5-1.3-2.1 .8 1.4 1.3" fill="#ffffff"/>
<path d="M447.4 315.2l-1.4-1.4-2.2 .8 1.3 1.4" fill="#ffffff"/>
<path d="M426.3 315.2l-1.3-1.3-2.3 .8 1.3 1.3" fill="#ffffff"/>
<path d="M483.6 315.3l-1.5-1.3-2.1 .7 1.5 1.4" fill="#ffffff"/>
<path d="M405.2 315.3l-1.2-1.3-2.3 .7 1.2 1.4" fill="#ffffff"/>
<path d="M462.6 315.3l-1.4-1.3-2.2 .8 1.4 1.3" fill="#ffffff"/>
<path d="M441.5 315.4l-1.3-1.3-2.3 .7 1.4 1.4" fill="#ffffff"/>
<path d="M420.5 315.4l-1.3-1.3-2.3 .8 1.3 1.3" fill="#ffffff"/>
<path d="M477.8 315.5l-1.5-1.3-2.1 .7 1.5 1.4" fill="#ffffff"/>
<path d="M399.4 315.5l-1.2-1.4-2.3 .8 1.1 1.4" fill="#fffeff"/>
<path d="M456.8 315.5l-1.4-1.3-2.2 .8 1.4 1.3" fill="#ffffff"/>
<path d="M435.7 315.6l-1.3-1.3-2.3 .7 1.3 1.4" fill="#ffffff"/>
<path d="M414.6 315.6l-1.2-1.3-2.3 .8 1.2 1.3" fill="#ffffff"/>
<path d="M472 315.7l-1.4-1.3-2.2 .7 1.5 1.4" fill="#ffffff"/>
<path d="M451 315.8l-1.4-1.4-2.2 .8 1.3 1.3" fill="#ffffff"/>
<path d="M429.9 315.8l-1.3-1.3-2.3 .7 1.3 1.4" fill="#ffffff"/>
<path d="M408.8 315.9l-1.2-1.4-2.4 .8 1.2 1.3" fill="#ffffff"/>
<path d="M466.2 315.9l-1.4-1.3-2.2 .7 1.4 1.4" fill="#ffffff"/>
<path d="M445.1 316l-1.3-1.4-2.3 .8 1.4 1.3" fill="#ffffff"/>
<path d="M424 316l-1.3-1.3-2.2 .7 1.2 1.4" fill="#ffffff"/>
<path d="M481.5 316.1l-1.5-1.4-2.2 .8 1.6 1.3" fill="#ffffff"/>
<path d="M402.9 316.1l-1.2-1.4-2.3 .8 1.2 1.3" fill="#ffffff"/>
<path d="M460.4 316.1l-1.4-1.3-2.2 .7 1.4 1.4" fill="#ffffff"/>
<path d="M439.3 316.2l-1.4-1.4-2.2 .8 1.3 1.3" fill="#ffffff"/>
<path d="M418.2 316.2l-1.3-1.3-2.3 .7 1.3 1.4" fill="#ffffff"/>
<path d="M475.7 316.3l-1.5-1.4-2.2 .8 1.5 1.4" fill="#ffffff"/>
<path d="M397 316.3l-1.1-1.4-2.4 .8 1.2 1.4" fill="#ffffff"/>
<path d="M454.6 316.3l-1.4-1.3-2.2 .8 1.3 1.3" fill="#ffffff"/>
<path d="M433.4 316.4l-1.3-1.4-2.2 .8 1.3 1.4" fill="#ffffff"/>
<path d="M412.3 316.4l-1.2-1.3-2.3 .8 1.2 1.3" fill="#ffffff"/>
<path d="M469.9 316.5l-1.5-1.4-2.2 .8 1.5 1.4" fill="#ffffff"/>
<path d="M448.7 316.5l-1.3-1.3-2.3 .8 1.4 1.3" fill="#ffffff"/>
<path d="M427.6 316.6l-1.3-1.4-2.3 .8 1.3 1.4" fill="#ffffff"/>
<path d="M406.4 316.6l-1.2-1.3-2.3 .8 1.2 1.3" fill="#ffffff"/>
<path d="M464 316.7l-1.4-1.4-2.2 .8 1.4 1.4" fill="#ffffff"/>
<path d="M442.9 316.7l-1.4-1.3-2.2 .8 1.3 1.3" fill="#ffffff"/>
<path d="M421.7 316.8l-1.2-1.4-2.3 .8 1.2 1.4" fill="#ffffff"/>
<path d="M479.4 316.8l-1.6-1.3-2.1 .8 1.5 1.3" fill="#ffffff"/>
<path d="M400.6 316.8l-1.2-1.3-2.4 .8 1.2 1.3" fill="#ffffff"/>
<path d="M458.2 316.9l-1.4-1.4-2.2 .8 1.4 1.4" fill="#ffffff"/>
<path d="M437 316.9l-1.3-1.3-2.3 .8 1.4 1.3" fill="#ffffff"/>
<path d="M415.9 317l-1.3-1.4-2.3 .8 1.2 1.4" fill="#ffffff"/>
<path d="M473.5 317.1l-1.5-1.4-2.1 .8 1.4 1.3" fill="#ffffff"/>
<path d="M452.3 317.1l-1.3-1.3-2.3 .7 1.4 1.4" fill="#ffffff"/>
<path d="M431.2 317.2l-1.3-1.4-2.3 .8 1.3 1.3" fill="#ffffff"/>
<path d="M410 317.2l-1.2-1.3-2.4 .7 1.3 1.4" fill="#ffffff"/>
<path d="M467.7 317.3l-1.5-1.4-2.2 .8 1.5 1.4" fill="#ffffff"/>
<path d="M446.5 317.3l-1.4-1.3-2.2 .7 1.4 1.4" fill="#ffffff"/>
<path d="M425.3 317.4l-1.3-1.4-2.3 .8 1.3 1.4" fill="#ffffff"/>
<path d="M404.1 317.4l-1.2-1.3-2.3 .7 1.2 1.4" fill="#ffffff"/>
<path d="M461.8 317.5l-1.4-1.4-2.2 .8 1.4 1.4" fill="#ffffff"/>
<path d="M440.6 317.5l-1.3-1.3-2.3 .7 1.4 1.4" fill="#ffffff"/>
<path d="M419.4 317.6l-1.2-1.4-2.3 .8 1.2 1.4" fill="#ffffff"/>
<path d="M477.2 317.6l-1.5-1.3-2.2 .8 1.5 1.3" fill="#ffffff"/>
<path d="M398.2 317.6l-1.2-1.3-2.3 .8 1.1 1.3" fill="#ffffff"/>
<path d="M456 317.7l-1.4-1.4-2.3 .8 1.5 1.4" fill="#ffffff"/>
<path d="M434.8 317.7l-1.4-1.3-2.2 .8 1.3 1.3" fill="#ffffff"/>
<path d="M413.5 317.8l-1.2-1.4-2.3 .8 1.2 1.4" fill="#ffffff"/>
<path d="M471.3 317.8l-1.4-1.3-2.2 .8 1.5 1.3" fill="#ffffff"/>
<path d="M450.1 317.9l-1.4-1.4-2.2 .8 1.4 1.4" fill="#ffffff"/>
<path d="M428.9 317.9l-1.3-1.3-2.3 .8 1.3 1.3" fill="#ffffff"/>
<path d="M407.7 318l-1.3-1.4-2.3 .8 1.2 1.4" fill="#ffffff"/>
<path d="M465.5 318.1l-1.5-1.4-2.2 .8 1.5 1.4" fill="#ffffff"/>
<path d="M444.3 318.1l-1.4-1.4-2.3 .8 1.4 1.4" fill="#ffffff"/>
<path d="M423 318.2l-1.3-1.4-2.3 .8 1.3 1.3" fill="#ffffff"/>
<path d="M401.8 318.2l-1.2-1.4-2.4 .8 1.2 1.4" fill="#ffffff"/>
<path d="M459.6 318.3l-1.4-1.4-2.2 .8 1.4 1.4" fill="#ffffff"/>
<path d="M438.4 318.3l-1.4-1.4-2.2 .8 1.3 1.4" fill="#ffffff"/>
<path d="M417.1 318.4l-1.2-1.4-2.4 .8 1.3 1.3" fill="#ffffff"/>
<path d="M475 318.4l-1.5-1.3-2.2 .7 1.5 1.4" fill="#ffffff"/>
<path d="M453.8 318.5l-1.5-1.4-2.2 .8 1.4 1.4" fill="#ffffff"/>
<path d="M432.5 318.5l-1.3-1.3-2.3 .7 1.3 1.4" fill="#ffffff"/>
<path d="M411.2 318.6l-1.2-1.4-2.3 .8 1.2 1.4" fill="#ffffff"/>
<path d="M469.2 318.6l-1.5-1.3-2.2 .8 1.5 1.3" fill="#ffffff"/>
<path d="M447.9 318.7l-1.4-1.4-2.2 .8 1.3 1.4" fill="#ffffff"/>
<path d="M426.6 318.7l-1.3-1.3-2.3 .8 1.3 1.3" fill="#ffffff"/>
<path d="M405.3 318.8l-1.2-1.4-2.3 .8 1.2 1.4" fill="#ffffff"/>
<path d="M463.3 318.9l-1.5-1.4-2.2 .8 1.5 1.3" fill="#ffffff"/>
<path d="M442 318.9l-1.4-1.4-2.2 .8 1.3 1.4" fill="#ffffff"/>
<path d="M420.7 318.9l-1.3-1.3-2.3 .8 1.3 1.3" fill="#ffffff"/>
<path d="M399.4 319l-1.2-1.4-2.4 .8 1.2 1.4" fill="#ffffff"/>
<path d="M457.4 319.1l-1.4-1.4-2.2 .8 1.4 1.3" fill="#ffffff"/>
<path d="M436.1 319.1l-1.3-1.4-2.3 .8 1.3 1.4" fill="#ffffff"/>
<path d="M414.8 319.1l-1.3-1.3-2.3 .8 1.3 1.3" fill="#ffffff"/>
<path d="M472.8 319.2l-1.5-1.4-2.1 .8 1.4 1.4" fill="#ffffff"/>
<path d="M451.5 319.3l-1.4-1.4-2.2 .8 1.4 1.4" fill="#ffffff"/>
<path d="M430.2 319.3l-1.3-1.4-2.3 .8 1.3 1.4" fill="#ffffff"/>
<path d="M408.9 319.4l-1.2-1.4-2.4 .8 1.2 1.4" fill="#ffffff"/>
<path d="M467 319.4l-1.5-1.3-2.2 .8 1.4 1.3" fill="#ffffff"/>
<path d="M445.6 319.5l-1.3-1.4-2.3 .8 1.4 1.4" fill="#ffffff"/>
<path d="M424.3 319.5l-1.3-1.3-2.3 .7 1.3 1.4" fill="#ffffff"/>
<path d="M403 319.6l-1.2-1.4-2.4 .8 1.2 1.4" fill="#ffffff"/>
<path d="M461.1 319.6l-1.5-1.3-2.2 .8 1.4 1.3" fill="#ffffff"/>
<path d="M439.7 319.7l-1.3-1.4-2.3 .8 1.4 1.4" fill="#ffffff"/>
<path d="M418.4 319.7l-1.3-1.3-2.3 .7 1.2 1.4" fill="#ffffff"/>
<path d="M455.2 319.8l-1.4-1.3-2.3 .8 1.4 1.3" fill="#ffffff"/>
<path d="M433.8 319.9l-1.3-1.4-2.3 .8 1.3 1.4" fill="#ffffff"/>
<path d="M412.5 319.9l-1.3-1.3-2.3 .8 1.2 1.3" fill="#ffffff"/>
<path d="M470.6 320l-1.4-1.4-2.2 .8 1.4 1.4" fill="#ffffff"/>
<path d="M449.3 320.1l-1.4-1.4-2.3 .8 1.4 1.4" fill="#ffffff"/>
<path d="M427.9 320.1l-1.3-1.4-2.3 .8 1.3 1.4" fill="#ffffff"/>
<path d="M406.5 320.2l-1.2-1.4-2.3 .8 1.2 1.4" fill="#ffffff"/>
<path d="M464.7 320.2l-1.4-1.3-2.2 .7 1.4 1.4" fill="#ffffff"/>
<path d="M443.4 320.3l-1.4-1.4-2.3 .8 1.4 1.4" fill="#ffffff"/>
<path d="M422 320.3l-1.3-1.4-2.3 .8 1.3 1.4" fill="#ffffff"/>
<path d="M400.6 320.4l-1.2-1.4-2.4 .8 1.2 1.4" fill="#ffffff"/>
<path d="M458.8 320.4l-1.4-1.3-2.2 .7 1.4 1.4" fill="#ffffff"/>
<path d="M437.5 320.5l-1.4-1.4-2.3 .8 1.4 1.4" fill="#ffffff"/>
<path d="M416 320.5l-1.2-1.4-2.3 .8 1.2 1.4" fill="#ffffff"/>
<path d="M452.9 320.6l-1.4-1.3-2.2 .8 1.4 1.3" fill="#ffffff"/>
<path d="M431.5 320.7l-1.3-1.4-2.3 .8 1.3 1.4" fill="#ffffff"/>
<path d="M410.1 320.7l-1.2-1.3-2.4 .8 1.3 1.4" fill="#ffffff"/>
<path d="M468.4 320.8l-1.4-1.4-2.3 .8 1.5 1.4" fill="#ffffff"/>
<path d="M447 320.9l-1.4-1.4-2.2 .8 1.4 1.4" fill="#ffffff"/>
<path d="M425.6 320.9l-1.3-1.4-2.3 .8 1.3 1.4" fill="#ffffff"/>
<path d="M404.2 321l-1.2-1.4-2.4 .8 1.2 1.4" fill="#ffffff"/>
<path d="M462.5 321l-1.4-1.4-2.3 .8 1.5 1.4" fill="#ffffff"/>
<path d="M441.1 321.1l-1.4-1.4-2.2 .8 1.3 1.4" fill="#ffffff"/>
<path d="M419.7 321.1l-1.3-1.4-2.4 .8 1.3 1.4" fill="#ffffff"/>
<path d="M456.6 321.2l-1.4-1.4-2.3 .8 1.5 1.4" fill="#ffffff"/>
<path d="M435.2 321.3l-1.4-1.4-2.3 .8 1.4 1.4" fill="#ffffff"/>
<path d="M413.7 321.3l-1.2-1.4-2.4 .8 1.3 1.4" fill="#ffffff"/>
<path d="M450.7 321.4l-1.4-1.3-2.3 .8 1.4 1.3" fill="#ffffff"/>
<path d="M429.2 321.5l-1.3-1.4-2.3 .8 1.3 1.4" fill="#ffffff"/>
<path d="M407.8 321.6l-1.3-1.4-2.3 .8 1.2 1.4" fill="#ffffff"/>
<path d="M466.2 321.6l-1.5-1.4-2.2 .8 1.5 1.4" fill="#ffffff"/>
<path d="M444.8 321.7l-1.4-1.4-2.3 .8 1.4 1.4" fill="#ffffff"/>
<path d="M423.3 321.7l-1.3-1.4-2.3 .8 1.2 1.4" fill="#ffffff"/>
<path d="M401.8 321.8l-1.2-1.4-2.4 .8 1.2 1.4" fill="#ffffff"/>
<path d="M460.3 321.8l-1.5-1.4-2.2 .8 1.5 1.4" fill="#ffffff"/>
<path d="M438.8 321.9l-1.3-1.4-2.3 .8 1.3 1.4" fill="#ffffff"/>
<path d="M417.3 321.9l-1.3-1.4-2.3 .8 1.3 1.4" fill="#ffffff"/>
<path d="M454.4 322l-1.5-1.4-2.2 .8 1.4 1.4" fill="#ffffff"/>
<path d="M432.9 322.1l-1.4-1.4-2.3 .8 1.4 1.4" fill="#ffffff"/>
<path d="M411.4 322.1l-1.3-1.4-2.3 .9 1.2 1.4" fill="#ffffff"/>
<path d="M448.4 322.2l-1.4-1.3-2.2 .8 1.4 1.4" fill="#ffffff"/>
<path d="M426.9 322.3l-1.3-1.4-2.3 .8 1.3 1.4" fill="#ffffff"/>
<path d="M405.4 322.4l-1.2-1.4-2.4 .8 1.2 1.4" fill="#ffffff"/>
<path d="M464 322.4l-1.5-1.4-2.2 .8 1.5 1.4" fill="#ffffff"/>
<path d="M442.5 322.5l-1.4-1.4-2.3 .8 1.4 1.4" fill="#ffffff"/>
<path d="M420.9 322.5l-1.2-1.4-2.4 .8 1.3 1.4" fill="#ffffff"/>
<path d="M458.1 322.6l-1.5-1.4-2.2 .8 1.4 1.4" fill="#ffffff"/>
<path d="M436.5 322.7l-1.3-1.4-2.3 .8 1.3 1.4" fill="#ffffff"/>
<path d="M415 322.7l-1.3-1.4-2.3 .8 1.2 1.4" fill="#ffffff"/>
<path d="M452.1 322.8l-1.4-1.4-2.3 .8 1.4 1.5" fill="#ffffff"/>
<path d="M430.6 322.9l-1.4-1.4-2.3 .8 1.3 1.4" fill="#ffffff"/>
<path d="M409 323l-1.2-1.4-2.4 .8 1.2 1.4" fill="#ffffff"/>
<path d="M446.2 323.1l-1.4-1.4-2.3 .8 1.4 1.4" fill="#ffffff"/>
<path d="M424.6 323.1l-1.3-1.4-2.4 .8 1.3 1.4" fill="#ffffff"/>
<path d="M403 323.2l-1.2-1.4-2.4 .8 1.2 1.4" fill="#ffffff"/>
<path d="M461.8 323.2l-1.5-1.4-2.2 .8 1.4 1.4" fill="#ffffff"/>
<path d="M440.2 323.3l-1.4-1.4-2.3 .8 1.4 1.4" fill="#ffffff"/>
<path d="M418.6 323.3l-1.3-1.4-2.3 .8 1.2 1.4" fill="#ffffff"/>
<path d="M455.8 323.4l-1.4-1.4-2.3 .8 1.4 1.5" fill="#ffffff"/>
<path d="M434.2 323.5l-1.3-1.4-2.3 .8 1.3 1.4" fill="#ffffff"/>
<path d="M412.6 323.5l-1.2-1.4-2.4 .9 1.2 1.4" fill="#ffffff"/>
<path d="M449.8 323.7l-1.4-1.5-2.2 .9 1.4 1.4" fill="#ffffff"/>
<path d="M428.2 323.7l-1.3-1.4-2.3 .8 1.3 1.4" fill="#ffffff"/>
<path d="M406.6 323.8l-1.2-1.4-2.4 .8 1.2 1.4" fill="#ffffff"/>
<path d="M443.9 323.9l-1.4-1.4-2.3 .8 1.4 1.4" fill="#ffffff"/>
<path d="M422.2 323.9l-1.3-1.4-2.3 .8 1.3 1.5" fill="#ffffff"/>
<path d="M459.5 324l-1.4-1.4-2.3 .8 1.5 1.4" fill="#ffffff"/>
<path d="M437.9 324.1l-1.4-1.4-2.3 .8 1.4 1.4" fill="#ffffff"/>
<path d="M416.2 324.1l-1.2-1.4-2.4 .8 1.3 1.5" fill="#ffffff"/>
<path d="M453.5 324.3l-1.4-1.5-2.3 .9 1.5 1.4" fill="#ffffff"/>
<path d="M431.9 324.3l-1.3-1.4-2.4 .8 1.4 1.4" fill="#ffffff"/>
<path d="M410.2 324.4l-1.2-1.4-2.4 .8 1.3 1.4" fill="#ffffff"/>
<path d="M447.6 324.5l-1.4-1.4-2.3 .8 1.4 1.4" fill="#ffffff"/>
<path d="M425.9 324.5l-1.3-1.4-2.4 .8 1.3 1.5" fill="#ffffff"/>
<path d="M404.2 324.6l-1.2-1.4-2.4 .8 1.2 1.4" fill="#ffffff"/>
<path d="M441.6 324.7l-1.4-1.4-2.3 .8 1.4 1.4" fill="#ffffff"/>
<path d="M419.9 324.8l-1.3-1.5-2.4 .8 1.3 1.5" fill="#ffffff"/>
<path d="M457.3 324.8l-1.5-1.4-2.3 .9 1.5 1.4" fill="#ffffff"/>
<path d="M435.6 324.9l-1.4-1.4-2.3 .8 1.3 1.4" fill="#ffffff"/>
<path d="M413.9 325l-1.3-1.5-2.4 .9 1.3 1.4" fill="#ffffff"/>
<path d="M451.3 325.1l-1.5-1.4-2.2 .8 1.4 1.4" fill="#ffffff"/>
<path d="M429.6 325.1l-1.4-1.4-2.3 .8 1.3 1.5" fill="#ffffff"/>
<path d="M407.9 325.2l-1.3-1.4-2.4 .8 1.3 1.4" fill="#ffffff"/>
<path d="M445.3 325.3l-1.4-1.4-2.3 .8 1.4 1.4" fill="#ffffff"/>
<path d="M423.5 325.4l-1.3-1.5-2.3 .9 1.3 1.4" fill="#ffffff"/>
<path d="M439.3 325.5l-1.4-1.4-2.3 .8 1.3 1.4" fill="#ffffff"/>
<path d="M417.5 325.6l-1.3-1.5-2.3 .9 1.3 1.4" fill="#ffffff"/>
<path d="M455 325.7l-1.5-1.4-2.2 .8 1.4 1.4" fill="#ffffff"/>
<path d="M433.2 325.7l-1.3-1.4-2.3 .8 1.3 1.5" fill="#ffffff"/>
<path d="M411.5 325.8l-1.3-1.4-2.3 .8 1.2 1.4" fill="#ffffff"/>
<path d="M449 325.9l-1.4-1.4-2.3 .8 1.4 1.4" fill="#ffffff"/>
<path d="M427.2 326l-1.3-1.5-2.4 .9 1.4 1.4" fill="#ffffff"/>
<path d="M405.5 326l-1.3-1.4-2.4 .8 1.2 1.4" fill="#ffffff"/>
<path d="M443 326.1l-1.4-1.4-2.3 .8 1.3 1.4" fill="#ffffff"/>
<path d="M421.2 326.2l-1.3-1.4-2.4 .8 1.3 1.4" fill="#ffffff"/>
<path d="M436.9 326.3l-1.3-1.4-2.4 .8 1.4 1.5" fill="#ffffff"/>
<path d="M415.2 326.4l-1.3-1.4-2.4 .8 1.3 1.4" fill="#ffffff"/>
<path d="M452.7 326.5l-1.4-1.4-2.3 .8 1.4 1.4" fill="#ffffff"/>
<path d="M430.9 326.6l-1.3-1.5-2.4 .9 1.4 1.4" fill="#ffffff"/>
<path d="M409.1 326.6l-1.2-1.4-2.4 .8 1.2 1.4" fill="#ffffff"/>
<path d="M446.7 326.7l-1.4-1.4-2.3 .8 1.4 1.5" fill="#ffffff"/>
<path d="M424.9 326.8l-1.4-1.4-2.3 .8 1.3 1.4" fill="#ffffff"/>
<path d="M440.6 326.9l-1.3-1.4-2.4 .8 1.4 1.5" fill="#ffffff"/>
<path d="M418.8 327l-1.3-1.4-2.3 .8 1.2 1.4" fill="#ffffff"/>
<path d="M434.6 327.2l-1.4-1.5-2.3 .9 1.4 1.4" fill="#ffffff"/>
<path d="M412.8 327.2l-1.3-1.4-2.4 .8 1.3 1.5" fill="#ffffff"/>
<path d="M450.4 327.3l-1.4-1.4-2.3 .8 1.4 1.5" fill="#ffffff"/>
<path d="M428.6 327.4l-1.4-1.4-2.3 .8 1.3 1.4" fill="#ffffff"/>
<path d="M406.7 327.4l-1.2-1.4-2.5 .8 1.3 1.5" fill="#ffffff"/>
<path d="M444.4 327.6l-1.4-1.5-2.4 .8 1.5 1.5" fill="#ffffff"/>
<path d="M422.5 327.6l-1.3-1.4-2.4 .8 1.3 1.5" fill="#ffffff"/>
<path d="M438.3 327.8l-1.4-1.5-2.3 .9 1.4 1.4" fill="#ffffff"/>
<path d="M416.4 327.8l-1.2-1.4-2.4 .8 1.2 1.5" fill="#ffffff"/>
<path d="M432.3 328l-1.4-1.4-2.3 .8 1.3 1.4" fill="#ffffff"/>
<path d="M410.4 328.1l-1.3-1.5-2.4 .8 1.3 1.5" fill="#ffffff"/>
<path d="M448.1 328.2l-1.4-1.5-2.3 .9 1.4 1.4" fill="#ffffff"/>
<path d="M426.2 328.2l-1.3-1.4-2.4 .8 1.3 1.5" fill="#ffffff"/>
<path d="M442.1 328.4l-1.5-1.5-2.3 .9 1.4 1.4" fill="#ffffff"/>
<path d="M420.1 328.5l-1.3-1.5-2.4 .8 1.3 1.5" fill="#ffffff"/>
<path d="M436 328.6l-1.4-1.4-2.3 .8 1.3 1.5" fill="#ffffff"/>
<path d="M414 328.7l-1.2-1.5-2.4 .9 1.2 1.4" fill="#ffffff"/>
<path d="M429.9 328.8l-1.3-1.4-2.4 .8 1.3 1.5" fill="#ffffff"/>
<path d="M408 328.9l-1.3-1.5-2.4 .9 1.2 1.4" fill="#ffffff"/>
<path d="M445.8 329l-1.4-1.4-2.3 .8 1.4 1.4" fill="#ffffff"/>
<path d="M423.8 329.1l-1.3-1.5-2.4 .9 1.3 1.4" fill="#ffffff"/>
<path d="M439.7 329.2l-1.4-1.4-2.3 .8 1.4 1.5" fill="#ffffff"/>
<path d="M417.7 329.3l-1.3-1.5-2.4 .9 1.3 1.4" fill="#ffffff"/>
<path d="M433.6 329.5l-1.3-1.5-2.4 .8 1.4 1.5" fill="#ffffff"/>
<path d="M411.6 329.5l-1.2-1.4-2.4 .8 1.2 1.5" fill="#ffffff"/>
<path d="M427.5 329.7l-1.3-1.5-2.4 .9 1.4 1.4" fill="#ffffff"/>
<path d="M443.5 329.8l-1.4-1.4-2.4 .8 1.4 1.5" fill="#ffffff"/>
<path d="M421.4 329.9l-1.3-1.4-2.4 .8 1.3 1.5" fill="#ffffff"/>
<path d="M437.4 330.1l-1.4-1.5-2.4 .9 1.4 1.4" fill="#ffffff"/>
<path d="M415.3 330.1l-1.3-1.4-2.4 .8 1.3 1.5" fill="#ffffff"/>
<path d="M431.3 330.3l-1.4-1.5-2.4 .9 1.4 1.4" fill="#ffffff"/>
<path d="M409.2 330.4l-1.2-1.5-2.5 .8 1.3 1.5" fill="#ffffff"/>
<path d="M425.2 330.5l-1.4-1.4-2.4 .8 1.4 1.5" fill="#ffffff"/>
<path d="M441.1 330.7l-1.4-1.5-2.3 .9 1.4 1.4" fill="#ffffff"/>
<path d="M419 330.8l-1.3-1.5-2.4 .8 1.3 1.5" fill="#ffffff"/>
<path d="M435 330.9l-1.4-1.4-2.3 .8 1.3 1.5" fill="#ffffff"/>
<path d="M412.9 331l-1.3-1.5-2.4 .9 1.3 1.4" fill="#ffffff"/>
<path d="M428.9 331.1l-1.4-1.4-2.3 .8 1.3 1.5" fill="#ffffff"/>
<path d="M422.8 331.4l-1.4-1.5-2.4 .9 1.4 1.4" fill="#ffffff"/>
<path d="M438.8 331.5l-1.4-1.4-2.4 .8 1.4 1.5" fill="#ffffff"/>
<path d="M416.6 331.6l-1.3-1.5-2.4 .9 1.3 1.5" fill="#ffffff"/>
<path d="M432.6 331.8l-1.3-1.5-2.4 .8 1.4 1.5" fill="#ffffff"/>
<path d="M410.5 331.8l-1.3-1.4-2.4 .8 1.3 1.5" fill="#ffffff"/>
<path d="M426.5 332l-1.3-1.5-2.4 .9 1.3 1.5" fill="#ffffff"/>
<path d="M420.4 332.2l-1.4-1.4-2.4 .8 1.4 1.5" fill="#ffffff"/>
<path d="M436.4 332.4l-1.4-1.5-2.4 .9 1.4 1.5" fill="#ffffff"/>
<path d="M414.2 332.5l-1.3-1.5-2.4 .8 1.3 1.5" fill="#ffffff"/>
<path d="M430.3 332.6l-1.4-1.5-2.4 .9 1.4 1.5" fill="#ffffff"/>
<path d="M424.1 332.9l-1.3-1.5-2.4 .8 1.3 1.5" fill="#ffffff"/>
<path d="M418 333.1l-1.4-1.5-2.4 .9 1.3 1.5" fill="#ffffff"/>
<path d="M434 333.3l-1.4-1.5-2.3 .8 1.3 1.5" fill="#ffffff"/>
<path d="M411.8 333.3l-1.3-1.5-2.4 .9 1.2 1.5" fill="#ffffff"/>
<path d="M427.9 333.5l-1.4-1.5-2.4 .9 1.4 1.5" fill="#ffffff"/>
<path d="M421.7 333.7l-1.3-1.5-2.4 .9 1.3 1.5" fill="#ffffff"/>
<path d="M415.5 334l-1.3-1.5-2.4 .8 1.3 1.5" fill="#ffffff"/>
<path d="M431.6 334.1l-1.3-1.5-2.4 .9 1.3 1.5" fill="#ffffff"/>
<path d="M425.5 334.4l-1.4-1.5-2.4 .8 1.4 1.5" fill="#ffffff"/>
<path d="M419.3 334.6l-1.3-1.5-2.5 .9 1.3 1.5" fill="#ffffff"/>
<path d="M413.1 334.8l-1.3-1.5-2.5 .9 1.3 1.5" fill="#ffffff"/>
<path d="M429.2 335l-1.3-1.5-2.4 .9 1.3 1.5" fill="#ffffff"/>
<path d="M423.1 335.2l-1.4-1.5-2.4 .9 1.3 1.5" fill="#ffffff"/>
<path d="M416.8 335.5l-1.3-1.5-2.4 .8 1.3 1.5" fill="#ffffff"/>
<path d="M426.8 335.9l-1.3-1.5-2.4 .8 1.3 1.6" fill="#ffffff"/>
<path d="M420.6 336.1l-1.3-1.5-2.5 .9 1.4 1.5" fill="#ffffff"/>
<path d="M414.4 336.3l-1.3-1.5-2.5 .9 1.3 1.5" fill="#ffffff"/>
<path d="M424.4 336.8l-1.3-1.6-2.5 .9 1.4 1.5" fill="#ffffff"/>
<path d="M418.2 337l-1.4-1.5-2.4 .8 1.3 1.6" fill="#ffffff"/>
<path d="M422 337.6l-1.4-1.5-2.4 .9 1.3 1.5" fill="#ffffff"/>
<path d="M415.7 337.9l-1.3-1.6-2.5 .9 1.4 1.6" fill="#ffffff"/>
<path d="M419.5 338.5l-1.3-1.5-2.5 .9 1.4 1.5" fill="#ffffff"/>
<path d="M417.1 339.4l-1.4-1.5-2.4 .9 1.3 1.5" fill="#ffffff"/>
</g>
<line x1="374.4" y1="262.31" x2="413.56" y2="303.31" stroke="#333" stroke-width="0.8"/>
<line x1="413.56" y1="303.31" x2="491.13" y2="278.23" stroke="#333" stroke-width="0.8"/>
<line x1="413.56" y1="303.31" x2="415.49" y2="373.24" stroke="#333" stroke-width="0.8"/>
<line x1="374.4" y1="262.31" x2="379.91" y2="327.83" stroke="#3a3a3a" stroke-width="0.85"/>
<line x1="491.13" y1="278.23" x2="484.98" y2="345.62" stroke="#3a3a3a" stroke-width="0.85"/>
<line x1="379.91" y1="327.83" x2="415.49" y2="373.24" stroke="#3a3a3a" stroke-width="0.85"/>
<line x1="415.49" y1="373.24" x2="484.98" y2="345.62" stroke="#3a3a3a" stroke-width="0.85"/>
<line x1="371" y1="262.31" x2="374.4" y2="262.31" stroke="#3a3a3a" stroke-width="0.7"/>
<text transform="translate(369 264.21) scale(1 0.8)" font-size="9" text-anchor="end" stroke="#222" stroke-width="0.12">80</text>
<line x1="371.75" y1="271.27" x2="375.15" y2="271.27" stroke="#3a3a3a" stroke-width="0.7"/>
<text transform="translate(369.75 273.17) scale(1 0.8)" font-size="9" text-anchor="end" stroke="#222" stroke-width="0.12">60</text>
<line x1="372.49" y1="279.98" x2="375.89" y2="279.98" stroke="#3a3a3a" stroke-width="0.7"/>
<text transform="translate(370.49 281.88) scale(1 0.8)" font-size="9" text-anchor="end" stroke="#222" stroke-width="0.12">40</text>
<line x1="373.2" y1="288.47" x2="376.6" y2="288.47" stroke="#3a3a3a" stroke-width="0.7"/>
<text transform="translate(371.2 290.37) scale(1 0.8)" font-size="9" text-anchor="end" stroke="#222" stroke-width="0.12">20</text>
<line x1="373.9" y1="296.75" x2="377.3" y2="296.75" stroke="#3a3a3a" stroke-width="0.7"/>
<text transform="translate(371.9 298.65) scale(1 0.8)" font-size="9" text-anchor="end" stroke="#222" stroke-width="0.12">0</text>
<line x1="374.58" y1="304.81" x2="377.98" y2="304.81" stroke="#3a3a3a" stroke-width="0.7"/>
<text transform="translate(372.58 306.71) scale(1 0.8)" font-size="9" text-anchor="end" stroke="#222" stroke-width="0.12">−20</text>
<line x1="375.24" y1="312.67" x2="378.64" y2="312.67" stroke="#3a3a3a" stroke-width="0.7"/>
<text transform="translate(373.24 314.57) scale(1 0.8)" font-size="9" text-anchor="end" stroke="#222" stroke-width="0.12">−40</text>
<line x1="375.88" y1="320.35" x2="379.28" y2="320.35" stroke="#3a3a3a" stroke-width="0.7"/>
<text transform="translate(373.88 322.25) scale(1 0.8)" font-size="9" text-anchor="end" stroke="#222" stroke-width="0.12">−60</text>
<line x1="376.51" y1="327.83" x2="379.91" y2="327.83" stroke="#3a3a3a" stroke-width="0.7"/>
<text transform="translate(374.51 329.73) scale(1 0.8)" font-size="9" text-anchor="end" stroke="#222" stroke-width="0.12">−80</text>
<text transform="translate(354.7 304.25) rotate(-90) scale(1 0.88)" font-size="10" text-anchor="middle" font-weight="bold" textLength="28.5" lengthAdjust="spacingAndGlyphs">δ − score</text>
<line x1="409.83" y1="366.01" x2="408.23" y2="368.21" stroke="#3a3a3a" stroke-width="0.7"/>
<text transform="translate(409.53 374.61) rotate(-40) scale(1 0.8)" font-size="9" text-anchor="end" stroke="#222" stroke-width="0.12">0.1</text>
<line x1="404.37" y1="359.05" x2="402.77" y2="361.25" stroke="#3a3a3a" stroke-width="0.7"/>
<text transform="translate(404.07 367.65) rotate(-40) scale(1 0.8)" font-size="9" text-anchor="end" stroke="#222" stroke-width="0.12">1</text>
<line x1="399.12" y1="352.34" x2="397.52" y2="354.54" stroke="#3a3a3a" stroke-width="0.7"/>
<text transform="translate(398.82 360.94) rotate(-40) scale(1 0.8)" font-size="9" text-anchor="end" stroke="#222" stroke-width="0.12">2.5</text>
<line x1="394.06" y1="345.88" x2="392.46" y2="348.08" stroke="#3a3a3a" stroke-width="0.7"/>
<text transform="translate(393.76 354.48) rotate(-40) scale(1 0.8)" font-size="9" text-anchor="end" stroke="#222" stroke-width="0.12">5</text>
<line x1="389.17" y1="339.65" x2="387.57" y2="341.85" stroke="#3a3a3a" stroke-width="0.7"/>
<text transform="translate(388.87 348.25) rotate(-40) scale(1 0.8)" font-size="9" text-anchor="end" stroke="#222" stroke-width="0.12">10</text>
<line x1="384.46" y1="333.64" x2="382.86" y2="335.84" stroke="#3a3a3a" stroke-width="0.7"/>
<text transform="translate(384.16 342.24) rotate(-40) scale(1 0.8)" font-size="9" text-anchor="end" stroke="#222" stroke-width="0.12">100</text>
<line x1="379.91" y1="327.83" x2="378.31" y2="330.03" stroke="#3a3a3a" stroke-width="0.7"/>
<text transform="translate(379.61 336.43) rotate(-40) scale(1 0.8)" font-size="9" text-anchor="end" stroke="#222" stroke-width="0.12">500</text>
<line x1="426.08" y1="369.03" x2="426.58" y2="371.63" stroke="#3a3a3a" stroke-width="0.7"/>
<text transform="translate(429.88 374.83) rotate(-80) scale(1 0.8)" font-size="9" text-anchor="end" stroke="#222" stroke-width="0.12">0.1</text>
<line x1="436.44" y1="364.92" x2="436.94" y2="367.52" stroke="#3a3a3a" stroke-width="0.7"/>
<text transform="translate(440.24 370.72) rotate(-80) scale(1 0.8)" font-size="9" text-anchor="end" stroke="#222" stroke-width="0.12">1</text>
<line x1="446.57" y1="360.89" x2="447.07" y2="363.49" stroke="#3a3a3a" stroke-width="0.7"/>
<text transform="translate(450.37 366.69) rotate(-80) scale(1 0.8)" font-size="9" text-anchor="end" stroke="#222" stroke-width="0.12">2.5</text>
<line x1="456.49" y1="356.95" x2="456.99" y2="359.55" stroke="#3a3a3a" stroke-width="0.7"/>
<text transform="translate(460.29 362.75) rotate(-80) scale(1 0.8)" font-size="9" text-anchor="end" stroke="#222" stroke-width="0.12">5</text>
<line x1="466.19" y1="353.09" x2="466.69" y2="355.69" stroke="#3a3a3a" stroke-width="0.7"/>
<text transform="translate(469.99 358.89) rotate(-80) scale(1 0.8)" font-size="9" text-anchor="end" stroke="#222" stroke-width="0.12">10</text>
<line x1="475.68" y1="349.32" x2="476.18" y2="351.92" stroke="#3a3a3a" stroke-width="0.7"/>
<text transform="translate(479.48 355.12) rotate(-80) scale(1 0.8)" font-size="9" text-anchor="end" stroke="#222" stroke-width="0.12">100</text>
<line x1="484.98" y1="345.62" x2="485.48" y2="348.22" stroke="#3a3a3a" stroke-width="0.7"/>
<text transform="translate(488.78 351.42) rotate(-80) scale(1 0.8)" font-size="9" text-anchor="end" stroke="#222" stroke-width="0.12">500</text>
<text transform="translate(369.56 368.28) rotate(50) scale(1 0.88)" font-size="10.5" text-anchor="middle" font-weight="bold" textLength="48.5" lengthAdjust="spacingAndGlyphs">AZD5991 (nM)</text>
<text transform="translate(468.06 385.91) rotate(-24) scale(1 0.88)" font-size="10.5" text-anchor="middle" font-weight="bold" textLength="48.5" lengthAdjust="spacingAndGlyphs">AZD4320 (nM)</text>
<text transform="translate(118.2 631) scale(1 0.88)" font-size="10.3" text-anchor="middle" stroke="#222" stroke-width="0.12">Bliss synergy score: −0.82</text>
<rect x="44.7" y="646.7" width="147.1" height="2.2" fill="url(#gwr)"/>
<text transform="translate(44.7 642.6)" font-size="8.4" text-anchor="middle" stroke="#222" stroke-width="0.12">−10</text>
<text transform="translate(81.48 642.6)" font-size="8.4" text-anchor="middle" stroke="#222" stroke-width="0.12">−5</text>
<text transform="translate(118.25 642.6)" font-size="8.4" text-anchor="middle" stroke="#222" stroke-width="0.12">0</text>
<text transform="translate(155.03 642.6)" font-size="8.4" text-anchor="middle" stroke="#222" stroke-width="0.12">5</text>
<text transform="translate(191.8 642.6)" font-size="8.4" text-anchor="middle" stroke="#222" stroke-width="0.12">10</text>
<line x1="65.21" y1="745.78" x2="128.89" y2="724.29" stroke="#3a3a3a" stroke-width="0.85" stroke-dasharray="1 1.3"/>
<line x1="128.89" y1="724.29" x2="170.04" y2="763.63" stroke="#3a3a3a" stroke-width="0.85" stroke-dasharray="1 1.3"/>
<line x1="128.89" y1="724.29" x2="130.24" y2="661.45" stroke="#3a3a3a" stroke-width="0.85" stroke-dasharray="1 1.3"/>
<line x1="59.36" y1="680.25" x2="130.24" y2="661.45" stroke="#3a3a3a" stroke-width="0.85"/>
<line x1="130.24" y1="661.45" x2="176.62" y2="696.1" stroke="#3a3a3a" stroke-width="0.85"/>
<g stroke="#000" stroke-width="0.85" stroke-opacity="0.66" stroke-linejoin="round" filter="url(#sb)">
<path d="M142.2 715.4l2-.1-1.2-3.1-2 0z" fill="#bbf4bb"/>
<path d="M141 712.2l2 0-1.2-4-1.9-.1z" fill="#d1f8d1"/>
<path d="M129.3 672.6l2-1.1-1.4 3.6-2 .9z" fill="#ea4c56"/>
<path d="M143.5 717.8l1.9-.2-1.2-2.3-2 .1z" fill="#adf2ad"/>
<path d="M139.9 708.1l1.9 .1-1.1-4.8-2-.1z" fill="#f3fdf3"/>
<path d="M127.2 673.7l2.1-1.1-1.4 3.4-2 .9z" fill="#ea4f59"/>
<path d="M140.2 716.3l2-.9-1.2-3.2-2 .7z" fill="#bdf5bd"/>
<path d="M139 712.9l2-.7-1.1-4.1-2 .5z" fill="#d5f8d5"/>
<path d="M141.4 718.7l2.1-.9-1.3-2.4-2 .9z" fill="#aff2af"/>
<path d="M138.7 703.3l2 .1-1.1-5.6-2-.1z" fill="#fbdbdd"/>
<path d="M146.7 719.2l-1.3-1.6-1.9 .2 1.2 1.4" fill="#a7f1a7"/>
<path d="M125.2 675l2-1.3-1.3 3.2-2 1z" fill="#eb525c"/>
<path d="M138.2 717.7l2-1.4-1.2-3.4-2 1.2z" fill="#baf4ba"/>
<path d="M137.9 708.6l2-.5-1.2-4.8-2 .3z" fill="#f9fef9"/>
<path d="M137 714.1l2-1.2-1.1-4.3-2.1 1z" fill="#d3f8d3"/>
<path d="M139.4 720.4l2-1.7-1.2-2.4-2 1.4z" fill="#aaf2aa"/>
<path d="M136.1 719.6l2.1-1.9-1.2-3.6-2.1 1.5z" fill="#b3f3b3"/>
<path d="M131.1 729.3l2.1-2.2-1.2-3.3-2 1.9z" fill="#7eeb7e"/>
<path d="M133.2 727.1l2.1-2.4-1.2-3.1-2.1 2.2z" fill="#89ed89"/>
<path d="M123.1 676.3l2.1-1.3-1.3 2.9-2.1 .9z" fill="#eb5660"/>
<path d="M134.1 721.6l2-2-1.2-4-2 1.8z" fill="#a9f2a9"/>
<path d="M129.1 731.1l2-1.8-1.1-3.6-2.1 1.7z" fill="#74e974"/>
<path d="M137.3 722.4l2.1-2-1.2-2.7-2.1 1.9z" fill="#a1f0a1"/>
<path d="M135.3 724.7l2-2.3-1.2-2.8-2 2z" fill="#96ee96"/>
<path d="M132 723.8l2.1-2.2-1.2-4.2-2.1 1.9z" fill="#9ef09e"/>
<path d="M130 725.7l2-1.9-1.2-4.5-2 1.7z" fill="#94ee94"/>
<path d="M134.9 715.6l2.1-1.5-1.2-4.5-2 1.3z" fill="#cef7ce"/>
<path d="M144.7 719.2l-1.2-1.4-2.1 .9 1.3 1.4" fill="#a8f1a8"/>
<path d="M127 732.4l2.1-1.3-1.2-3.7-2 1.1z" fill="#6ee86e"/>
<path d="M127.9 727.4l2.1-1.7-1.2-4.7-2.1 1.5z" fill="#8ced8c"/>
<path d="M135.8 709.6l2.1-1-1.2-5-2 .8z" fill="#f9fef9"/>
<path d="M132.4 731.3l-1.3-2-2 1.8 1.2 2.2" fill="#67e767"/>
<path d="M134.4 728.9l-1.2-1.8-2.1 2.2 1.3 2" fill="#72e972"/>
<path d="M123.1 676.3l-1.3 2.5-2 .9 1.2-2" fill="#ec5a64"/>
<path d="M136.7 703.6l2-.3-1.1-5.6-2 .4z" fill="#fad6d9"/>
<path d="M132.9 717.4l2-1.8-1.1-4.7-2.1 1.5z" fill="#c6f6c6"/>
<path d="M136.5 726.4l-1.2-1.7-2.1 2.4 1.2 1.8" fill="#7feb7f"/>
<path d="M137.6 697.7l2 .1-1.1-6.1-2 .1z" fill="#f6b2b6"/>
<path d="M128.3 734.8l2-1.5-1.2-2.2-2.1 1.3z" fill="#60e660"/>
<path d="M130.8 719.3l2.1-1.9-1.2-5-2 1.6z" fill="#bdf5bd"/>
<path d="M125.9 728.5l2-1.1-1.2-4.9-2 1.2z" fill="#87ec87"/>
<path d="M142.7 720.1l-1.3-1.4-2 1.7 1.3 1.4" fill="#a3f1a3"/>
<path d="M138.6 724l-1.3-1.6-2 2.3 1.2 1.7" fill="#8ded8d"/>
<path d="M148 720l-1.3-.8-2 0 1.4 .6" fill="#a8f1a8"/>
<path d="M140.7 721.8l-1.3-1.4-2.1 2 1.3 1.6" fill="#99ef99"/>
<path d="M128.8 721l2-1.7-1.1-5.3-2.1 1.6z" fill="#b4f3b4"/>
<path d="M133.8 710.9l2-1.3-1.1-5.2-2.1 1.1z" fill="#f4fdf4"/>
<path d="M121 677.7l-1.2 2-2.1 1 1.3-1.7" fill="#ec5e67"/>
<path d="M125 733l2-.6-1.1-3.9-2.1 .6z" fill="#6de86d"/>
<path d="M126.7 722.5l2.1-1.5-1.2-5.4-2 1.4z" fill="#acf2ac"/>
<path d="M126.2 735.6l2.1-.8-1.3-2.4-2 .6z" fill="#5de65d"/>
<path d="M134.7 704.4l2-.8-1.1-5.5-2 .7z" fill="#fad6d8"/>
<path d="M131.7 712.4l2.1-1.5-1.2-5.4-2 1.4z" fill="#ecfcec"/>
<path d="M123.8 729.1l2.1-.6-1.2-4.8-2.1 .6z" fill="#85ec85"/>
<path d="M132.6 670.6l-1.3 .9-2 1.1 1.2-.9" fill="#e73642"/>
<path d="M119 679l-1.3 1.7-2 .9 1.2-1.3" fill="#ec626b"/>
<path d="M135.6 698.1l2-.4-1.1-5.9-2 .5z" fill="#f6aeb3"/>
<path d="M124.7 723.7l2-1.2-1.1-5.5-2.1 1.1z" fill="#a7f1a7"/>
<path d="M129.7 714l2-1.6-1.1-5.5-2.1 1.4z" fill="#e4fbe4"/>
<path d="M133.7 731.7l-1.3-.4-2.1 2 1.3 .6" fill="#67e767"/>
<path d="M146.1 719.8l-1.4-.6-2 .9 1.4 .4" fill="#aaf2aa"/>
<path d="M135.8 729.2l-1.4-.3-2 2.4 1.3 .4" fill="#73e973"/>
<path d="M131.6 733.9l-1.3-.6-2 1.5 1.2 .9" fill="#5ee65e"/>
<path d="M136.5 691.8l2-.1-1.1-6-2 .2z" fill="#f18c92"/>
<path d="M132.6 705.5l2.1-1.1-1.1-5.6-2.1 1.1z" fill="#fad8db"/>
<path d="M130.5 671.7l-1.2 .9-2.1 1.1 1.3-.8" fill="#e83a45"/>
<path d="M116.9 680.3l-1.2 1.3-2.1 1 1.2-1" fill="#ed666f"/>
<path d="M127.6 715.6l2.1-1.6-1.2-5.7-2 1.5z" fill="#dbf9db"/>
<path d="M123 733l2 0-1.2-3.9-2 .1z" fill="#70e870"/>
<path d="M137.8 726.6l-1.3-.2-2.1 2.5 1.4 .3" fill="#81eb81"/>
<path d="M124.2 735.8l2-.2-1.2-2.6-2 0z" fill="#60e660"/>
<path d="M144.1 720.5l-1.4-.4-2 1.7 1.3 .2" fill="#a6f1a6"/>
<path d="M129.5 735.7l-1.2-.9-2.1 .8 1.3 1.2" fill="#59e559"/>
<path d="M139.9 724.1l-1.3-.1-2.1 2.4 1.3 .2" fill="#8fed8f"/>
<path d="M122.6 724.3l2.1-.6-1.2-5.6-2.1 .8z" fill="#a5f1a5"/>
<path d="M125.6 717l2-1.4-1.1-5.8-2.1 1.3z" fill="#d4f8d4"/>
<path d="M128.5 672.9l-1.3 .8-2 1.3 1.2-.7" fill="#e83f4a"/>
<path d="M121.8 729.2l2-.1-1.2-4.8-2 .2z" fill="#88ec88"/>
<path d="M130.6 706.9l2-1.4-1.1-5.6-2.1 1.3z" fill="#fbdee0"/>
<path d="M142 722l-1.3-.2-2.1 2.2 1.3 .1" fill="#9cef9c"/>
<path d="M133.6 698.8l2-.7-1.1-5.8-2.1 .8z" fill="#f6aeb3"/>
<path d="M114.8 681.6l-1.2 1-2.1 .9 1.2-.7" fill="#ed6972"/>
<path d="M149.4 720.4l-1.4-.4-1.9-.2 1.4 0" fill="#aef2ae"/>
<path d="M126.4 674.3l-1.2 .7-2.1 1.3 1.2-.5" fill="#e9444f"/>
<path d="M123.5 718.1l2.1-1.1-1.2-5.9-2.1 1.2z" fill="#cef7ce"/>
<path d="M134.5 692.3l2-.5-1.1-5.9-2.1 .7z" fill="#f18a91"/>
<path d="M128.5 708.3l2.1-1.4-1.2-5.7-2 1.4z" fill="#fce5e6"/>
<path d="M135.4 685.9l2-.2-1.2-5.6-2 .4z" fill="#ed6972"/>
<path d="M131.5 699.9l2.1-1.1-1.2-5.7-2 1.1z" fill="#f6b1b6"/>
<path d="M112.7 682.8l-1.2 .7-2 1 1.1-.6" fill="#ee6c75"/>
<path d="M124.3 675.8l-1.2 .5-2.1 1.4 1.3-.3" fill="#ea4a55"/>
<path d="M127.5 736.8l-1.3-1.2-2 .2 1.2 1.6" fill="#5ae55a"/>
<path d="M126.5 709.8l2-1.5-1.1-5.7-2.1 1.4z" fill="#fdedee"/>
<path d="M133.9 672.1l-1.3-1.5-2.1 1.1 1.3 1.3" fill="#e7313d"/>
<path d="M120.6 724.5l2-.2-1.2-5.4-2 .5z" fill="#a7f1a7"/>
<path d="M120.9 732.8l2.1 .2-1.2-3.8-2.1-.2z" fill="#76e976"/>
<path d="M122.3 677.4l-1.3 .3-2 1.3 1.2 0" fill="#ea505a"/>
<path d="M121.4 718.9l2.1-.8-1.2-5.8-2 .9z" fill="#cbf7cb"/>
<path d="M122.1 735.6l2.1 .2-1.2-2.8-2.1-.2z" fill="#66e766"/>
<path d="M129.4 701.2l2.1-1.3-1.1-5.7-2.1 1.3z" fill="#f6b6ba"/>
<path d="M132.4 693.1l2.1-.8-1.2-5.7-2 1z" fill="#f18b91"/>
<path d="M124.4 711.1l2.1-1.3-1.2-5.8-2.1 1.4z" fill="#fef5f6"/>
<path d="M119.7 729l2.1 .2-1.2-4.7-2.1 .1z" fill="#8ded8d"/>
<path d="M110.6 683.9l-1.1 .6-2.1 1 1.1-.7" fill="#ee6f78"/>
<path d="M131.8 673l-1.3-1.3-2 1.2 1.2 1.3" fill="#e73541"/>
<path d="M120.2 679l-1.2 0-2.1 1.3 1.2 .3" fill="#eb5660"/>
<path d="M147.5 719.8l-1.4 0-2 .7 1.4-.2" fill="#b3f3b3"/>
<path d="M134.2 680.5l2-.4-1.1-4.7-2.1 .7z" fill="#ea4d58"/>
<path d="M132.9 733.4l-1.3 .5-2.1 1.8 1.3-.2" fill="#66e766"/>
<path d="M133.3 686.6l2.1-.7-1.2-5.4-2.1 .9z" fill="#ed6972"/>
<path d="M135 731l-1.3 .7-2.1 2.2 1.3-.5" fill="#70e970"/>
<path d="M133 676.1l2.1-.7-1.2-3.3-2.1 .9z" fill="#e83a46"/>
<path d="M127.4 702.6l2-1.4-1.1-5.7-2.1 1.5z" fill="#f7bcc0"/>
<path d="M122.3 712.3l2.1-1.2-1.2-5.7-2.1 1.2z" fill="#fffefe"/>
<path d="M137.1 728.4l-1.3 .8-2.1 2.5 1.3-.7" fill="#7eeb7e"/>
<path d="M130.8 735.5l-1.3 .2-2 1.1 1.2 .2" fill="#5fe65f"/>
<path d="M118.1 680.6l-1.2-.3-2.1 1.3 1.2 .4" fill="#ec5c65"/>
<path d="M130.4 694.2l2-1.1-1.1-5.5-2.1 1.2z" fill="#f28e94"/>
<path d="M129.7 674.2l-1.2-1.3-2.1 1.4 1.3 1.3" fill="#e83a45"/>
<path d="M119.4 719.4l2-.5-1.1-5.7-2.1 .7z" fill="#cbf7cb"/>
<path d="M125.4 737.4l-1.2-1.6-2.1-.2 1.2 2" fill="#5de65d"/>
<path d="M118.5 724.6l2.1-.1-1.2-5.1-2.1 .3z" fill="#aaf2aa"/>
<path d="M108.5 684.8l-1.1 .7-2.1 1 1.1-.8" fill="#ee727a"/>
<path d="M139.2 725.8l-1.4 .8-2 2.6 1.3-.8" fill="#8ded8d"/>
<path d="M125.3 704l2.1-1.4-1.2-5.6-2.1 1.4z" fill="#f8c2c6"/>
<path d="M145.5 720.3l-1.4 .2-2.1 1.5 1.4-.5" fill="#b0f3b0"/>
<path d="M127.7 675.6l-1.3-1.3-2.1 1.5 1.3 1.3" fill="#e8404b"/>
<path d="M132.1 681.4l2.1-.9-1.2-4.4-2 1z" fill="#ea4f59"/>
<path d="M131.3 687.6l2-1-1.2-5.2-2 1.1z" fill="#ee6b74"/>
<path d="M131 677.1l2-1-1.2-3.1-2.1 1.2z" fill="#e83c48"/>
<path d="M141.3 723.5l-1.4 .6-2.1 2.5 1.4-.8" fill="#9bef9b"/>
<path d="M116 682l-1.2-.4-2.1 1.2 1.2 .6" fill="#ec616a"/>
<path d="M128.3 695.5l2.1-1.3-1.2-5.4-2.1 1.4z" fill="#f29399"/>
<path d="M120.3 713.2l2-.9-1.2-5.7-2 1z" fill="#f9fef9"/>
<path d="M143.4 721.5l-1.4 .5-2.1 2.1 1.4-.6" fill="#a7f1a7"/>
<path d="M150.8 720.6l-1.4-.2-1.9-.6 1.4-.1" fill="#b7f4b7"/>
<path d="M118.8 732.5l2.1 .3-1.2-3.8-2.1-.2z" fill="#7deb7d"/>
<path d="M123.2 705.4l2.1-1.4-1.2-5.6-2.1 1.4z" fill="#f9c9cc"/>
<path d="M128.7 737l-1.2-.2-2.1 .6 1.3 .7" fill="#5ce55c"/>
<path d="M125.6 677.1l-1.3-1.3-2 1.6 1.2 1.4" fill="#e94651"/>
<path d="M120 735.4l2.1 .2-1.2-2.8-2.1-.3z" fill="#6de86d"/>
<path d="M117.6 728.8l2.1 .2-1.2-4.4-2.1 .1z" fill="#93ee93"/>
<path d="M106.4 685.7l-1.1 .8-2.1 .9 1.1-.8" fill="#ef747c"/>
<path d="M126.2 697l2.1-1.5-1.2-5.3-2.1 1.5z" fill="#f3999f"/>
<path d="M128.9 678.4l2.1-1.3-1.3-2.9-2 1.4z" fill="#e9414c"/>
<path d="M129.2 688.8l2.1-1.2-1.2-5.1-2.1 1.4z" fill="#ee6f78"/>
<path d="M123.5 678.8l-1.2-1.4-2.1 1.6 1.2 1.5" fill="#ea4d58"/>
<path d="M130.1 682.5l2-1.1-1.1-4.3-2.1 1.3z" fill="#eb525c"/>
<path d="M113.9 683.4l-1.2-.6-2.1 1.1 1.2 .6" fill="#ed656e"/>
<path d="M117.3 719.7l2.1-.3-1.2-5.5-2.1 .6z" fill="#ccf7cc"/>
<path d="M121.1 706.6l2.1-1.2-1.2-5.6-2 1.3z" fill="#f9cfd2"/>
<path d="M121.4 680.5l-1.2-1.5-2.1 1.6 1.2 1.6" fill="#eb555f"/>
<path d="M118.2 713.9l2.1-.7-1.2-5.6-2.1 .9z" fill="#f7fef7"/>
<path d="M124.1 698.4l2.1-1.4-1.2-5.3-2.1 1.6z" fill="#f49fa5"/>
<path d="M126.8 679.9l2.1-1.5-1.2-2.8-2.1 1.5z" fill="#e94752"/>
<path d="M116.4 724.7l2.1-.1-1.2-4.9-2.1 .4z" fill="#aef2ae"/>
<path d="M127.1 690.2l2.1-1.4-1.2-4.9-2.1 1.6z" fill="#ef757d"/>
<path d="M128 683.9l2.1-1.4-1.2-4.1-2.1 1.5z" fill="#eb5761"/>
<path d="M123.3 737.6l-1.2-2-2.1-.2 1.3 2.3" fill="#63e763"/>
<path d="M119.3 682.2l-1.2-1.6-2.1 1.4 1.2 1.7" fill="#ec5b65"/>
<path d="M104.3 686.6l-1.1 .8-2.1 1 1.1-1" fill="#ef767e"/>
<path d="M126.7 738.1l-1.3-.7-2.1 .2 1.3 1.2" fill="#5de65d"/>
<path d="M124.7 681.6l2.1-1.7-1.2-2.8-2.1 1.7z" fill="#ea4e58"/>
<path d="M111.8 684.5l-1.2-.6-2.1 .9 1.2 .7" fill="#ed6871"/>
<path d="M122 699.8l2.1-1.4-1.2-5.1-2.1 1.5z" fill="#f5a6ab"/>
<path d="M119.1 707.6l2-1-1.1-5.5-2.1 1.2z" fill="#fad4d6"/>
<path d="M125 691.7l2.1-1.5-1.2-4.7-2.1 1.6z" fill="#f07c83"/>
<path d="M125.9 685.5l2.1-1.6-1.2-4-2.1 1.7z" fill="#ec5e67"/>
<path d="M122.6 683.3l2.1-1.7-1.2-2.8-2.1 1.7z" fill="#eb555f"/>
<path d="M116.7 732.4l2.1 .1-1.2-3.7-2.1 .1z" fill="#83ec83"/>
<path d="M117.2 683.7l-1.2-1.7-2.1 1.4 1.2 1.7" fill="#ec616a"/>
<path d="M148.9 719.7l-1.4 .1-2 .5 1.4-.5" fill="#bff5bf"/>
<path d="M122.9 693.3l2.1-1.6-1.2-4.6-2.1 1.6z" fill="#f0838a"/>
<path d="M115.5 728.9l2.1-.1-1.2-4.1-2.1 .3z" fill="#98ef98"/>
<path d="M123.8 687.1l2.1-1.6-1.2-3.9-2.1 1.7z" fill="#ed656e"/>
<path d="M120 701.1l2-1.3-1.2-5-2.1 1.3z" fill="#f5acb1"/>
<path d="M115.2 720.1l2.1-.4-1.2-5.2-2.1 .6z" fill="#cef7ce"/>
<path d="M116.1 714.5l2.1-.6-1.2-5.4-2.1 .8z" fill="#f6fef6"/>
<path d="M120.5 684.9l2.1-1.6-1.2-2.8-2.1 1.7z" fill="#ec5c66"/>
<path d="M118 735.4l2 0-1.2-2.9-2.1-.1z" fill="#73e973"/>
<path d="M102.2 687.4l-1.1 1-2.2 .9 1.1-1" fill="#ef7880"/>
<path d="M109.7 685.5l-1.2-.7-2.1 .9 1.2 .7" fill="#ed6a73"/>
<path d="M121.7 688.7l2.1-1.6-1.2-3.8-2.1 1.6z" fill="#ee6c75"/>
<path d="M117 708.5l2.1-.9-1.2-5.3-2.1 .9z" fill="#fad7d9"/>
<path d="M120.8 694.8l2.1-1.5-1.2-4.6-2.1 1.6z" fill="#f18990"/>
<path d="M118.4 686.5l2.1-1.6-1.2-2.7-2.1 1.5z" fill="#ed636d"/>
<path d="M134.3 732.3l-1.4 1.1-2.1 2.1 1.3-.8" fill="#74e974"/>
<path d="M114.3 725l2.1-.3-1.2-4.6-2.1 .5z" fill="#b1f3b1"/>
<path d="M115.1 685.1l-1.2-1.7-2.1 1.1 1.2 1.8" fill="#ed666f"/>
<path d="M132.1 734.7l-1.3 .8-2.1 1.5 1.3-.3" fill="#6ae86a"/>
<path d="M136.4 729.8l-1.4 1.2-2.1 2.4 1.4-1.1" fill="#81eb81"/>
<path d="M117.9 702.3l2.1-1.2-1.3-5-2.1 1.2z" fill="#f6b1b6"/>
<path d="M119.6 690.3l2.1-1.6-1.2-3.8-2.1 1.6z" fill="#ef737b"/>
<path d="M124.6 738.8l-1.3-1.2-2 .1 1.2 1.7" fill="#5fe65f"/>
<path d="M118.7 696.1l2.1-1.3-1.2-4.5-2.1 1.4z" fill="#f29096"/>
<path d="M152.2 720.9l-1.4-.3-1.9-.9 1.4 0" fill="#c0f5c0"/>
<path d="M116.3 687.9l2.1-1.4-1.2-2.8-2.1 1.4z" fill="#ed6a72"/>
<path d="M119.2 737.9l2.1-.2-1.3-2.3-2 0z" fill="#68e768"/>
<path d="M138.5 727.1l-1.4 1.3-2.1 2.6 1.4-1.2" fill="#8fed8f"/>
<path d="M146.9 719.8l-1.4 .5-2.1 1.2 1.4-.7" fill="#bef5be"/>
<path d="M130 736.7l-1.3 .3-2 1.1 1.2 .1" fill="#64e764"/>
<path d="M114 715.1l2.1-.6-1.2-5.2-2.1 .8z" fill="#f5fdf5"/>
<path d="M117.5 691.7l2.1-1.4-1.2-3.8-2.1 1.4z" fill="#ef7981"/>
<path d="M100 688.3l-1.1 1-2.1 .9 1.1-1" fill="#ef7a82"/>
<path d="M113.1 720.6l2.1-.5-1.2-5-2.1 .8z" fill="#cff7cf"/>
<path d="M113 686.3l-1.2-1.8-2.1 1 1.2 1.8" fill="#ed6972"/>
<path d="M107.6 686.4l-1.2-.7-2.1 .9 1.1 .6" fill="#ee6c75"/>
<path d="M114.9 709.3l2.1-.8-1.2-5.3-2.1 .9z" fill="#fbd9db"/>
<path d="M140.6 724.6l-1.4 1.2-2.1 2.6 1.4-1.3" fill="#9ef09e"/>
<path d="M113.4 729.4l2.1-.5-1.2-3.9-2.1 .6z" fill="#9bef9b"/>
<path d="M114.6 732.7l2.1-.3-1.2-3.5-2.1 .5z" fill="#87ec87"/>
<path d="M115.8 703.2l2.1-.9-1.3-5-2.1 1z" fill="#f6b5b9"/>
<path d="M116.6 697.3l2.1-1.2-1.2-4.4-2.1 1.2z" fill="#f2959b"/>
<path d="M114.2 689.2l2.1-1.3-1.2-2.8-2.1 1.2z" fill="#ee6f77"/>
<path d="M144.8 720.8l-1.4 .7-2.1 2 1.4-1" fill="#b8f4b8"/>
<path d="M142.7 722.5l-1.4 1-2.1 2.3 1.4-1.2" fill="#acf2ac"/>
<path d="M112.2 725.6l2.1-.6-1.2-4.4-2.1 .8z" fill="#b2f3b2"/>
<path d="M115.8 735.7l2.2-.3-1.3-3-2.1 .3z" fill="#78ea78"/>
<path d="M115.4 692.9l2.1-1.2-1.2-3.8-2.1 1.3z" fill="#f07e86"/>
<path d="M127.9 738.2l-1.2-.1-2.1 .7 1.2 .7" fill="#61e661"/>
<path d="M97.9 689.2l-1.1 1-2.1 1 1-1.1" fill="#f07c84"/>
<path d="M110.9 687.3l-1.2-1.8-2.1 .9 1.2 1.8" fill="#ee6b74"/>
<path d="M111.9 715.9l2.1-.8-1.2-5-2.2 .9z" fill="#f4fdf4"/>
<path d="M105.4 687.2l-1.1-.6-2.1 .8 1.1 .6" fill="#ee6d76"/>
<path d="M114.5 698.3l2.1-1-1.2-4.4-2.1 1z" fill="#f3989e"/>
<path d="M112.1 690.2l2.1-1-1.2-2.9-2.1 1z" fill="#ee727a"/>
<path d="M122.5 739.4l-1.2-1.7-2.1 .2 1.2 1.9" fill="#62e662"/>
<path d="M112.8 710.1l2.1-.8-1.2-5.2-2.2 .9z" fill="#fbdbdd"/>
<path d="M111 721.4l2.1-.8-1.2-4.7-2.1 1z" fill="#cef7ce"/>
<path d="M113.7 704.1l2.1-.9-1.3-4.9-2.1 1z" fill="#f7b7bb"/>
<path d="M117.1 738.2l2.1-.3-1.2-2.5-2.2 .3z" fill="#6de86d"/>
<path d="M113.3 693.9l2.1-1-1.2-3.7-2.1 1z" fill="#f08289"/>
<path d="M111.3 730l2.1-.6-1.2-3.8-2.1 .8z" fill="#9bef9b"/>
<path d="M112.5 733.3l2.1-.6-1.2-3.3-2.1 .6z" fill="#89ec89"/>
<path d="M110.1 726.4l2.1-.8-1.2-4.2-2.1 1z" fill="#b1f3b1"/>
<path d="M125.8 739.5l-1.2-.7-2.1 .6 1.2 1.1" fill="#60e660"/>
<path d="M95.7 690.1l-1 1.1-2.2 1.1 1.1-1.2" fill="#f07f87"/>
<path d="M150.3 719.7l-1.4 0-2 .1 1.4-.2" fill="#cbf7cb"/>
<path d="M108.8 688.2l-1.2-1.8-2.2 .8 1.2 1.9" fill="#ee6d76"/>
<path d="M112.4 699.3l2.1-1-1.2-4.4-2.1 1z" fill="#f39ba1"/>
<path d="M110 691.1l2.1-.9-1.2-2.9-2.1 .9z" fill="#ef757d"/>
<path d="M113.7 736.1l2.1-.4-1.2-3-2.1 .6z" fill="#7bea7b"/>
<path d="M109.8 716.9l2.1-1-1.3-4.9-2.1 1z" fill="#f1fdf1"/>
<path d="M103.3 688l-1.1-.6-2.2 .9 1.2 .6" fill="#ee6f78"/>
<path d="M108.9 722.4l2.1-1-1.2-4.5-2.2 1z" fill="#ccf7cc"/>
<path d="M110.6 711l2.2-.9-1.3-5.1-2.1 1z" fill="#fbdddf"/>
<path d="M111.5 705l2.2-.9-1.3-4.8-2.1 .9z" fill="#f7b9bd"/>
<path d="M111.2 694.9l2.1-1-1.2-3.7-2.1 .9z" fill="#f1858c"/>
<path d="M153.6 721.5l-1.4-.6-1.9-1.2 1.4 .6" fill="#c7f6c7"/>
<path d="M109.2 730.8l2.1-.8-1.2-3.6-2.1 .9z" fill="#9bef9b"/>
<path d="M108 727.3l2.1-.9-1.2-4-2.2 1z" fill="#aff3af"/>
<path d="M120.4 739.8l-1.2-1.9-2.1 .3 1.2 2" fill="#65e765"/>
<path d="M93.6 691.1l-1.1 1.2-2.1 1.2 1-1.4" fill="#f0828a"/>
<path d="M110.4 733.9l2.1-.6-1.2-3.3-2.1 .8z" fill="#8aed8a"/>
<path d="M114.9 738.6l2.2-.4-1.3-2.5-2.1 .4z" fill="#6fe86f"/>
<path d="M107.6 717.9l2.2-1-1.3-4.9-2.1 1.1z" fill="#edfced"/>
<path d="M123.7 740.5l-1.2-1.1-2.1 .4 1.2 1.4" fill="#60e660"/>
<path d="M110.3 700.2l2.1-.9-1.2-4.4-2.1 .9z" fill="#f49da3"/>
<path d="M106.6 689.1l-1.2-1.9-2.1 .8 1.2 1.9" fill="#ee6f77"/>
<path d="M107.9 692l2.1-.9-1.2-2.9-2.2 .9z" fill="#ef767e"/>
<path d="M106.7 723.4l2.2-1-1.3-4.5-2.1 1.2z" fill="#c9f6c9"/>
<path d="M133.5 733.8l-1.4 .9-2.1 2 1.4-.6" fill="#79ea79"/>
<path d="M101.2 688.9l-1.2-.6-2.1 .9 1.1 .6" fill="#ee7179"/>
<path d="M108.5 712l2.1-1-1.2-5-2.1 1z" fill="#fbe0e2"/>
<path d="M135.6 731.2l-1.3 1.1-2.2 2.4 1.4-.9" fill="#85ec85"/>
<path d="M109.4 706l2.1-1-1.2-4.8-2.1 .9z" fill="#f7bcc0"/>
<path d="M131.4 736.1l-1.4 .6-2.1 1.5 1.3-.1" fill="#70e970"/>
<path d="M148.3 719.6l-1.4 .2-2.1 1 1.5-.5" fill="#cdf7cd"/>
<path d="M109.1 695.8l2.1-.9-1.2-3.8-2.1 .9z" fill="#f1878e"/>
<path d="M111.6 736.6l2.1-.5-1.2-2.8-2.1 .6z" fill="#7cea7c"/>
<path d="M91.4 692.1l-1 1.4-2.2 1.3 1-1.6" fill="#f1868d"/>
<path d="M137.8 728.6l-1.4 1.2-2.1 2.5 1.3-1.1" fill="#94ee94"/>
<path d="M129.2 738.1l-1.3 .1-2.1 1.3 1.3 .2" fill="#69e769"/>
<path d="M105.8 728.1l2.2-.8-1.3-3.9-2.1 1z" fill="#adf2ad"/>
<path d="M107 731.4l2.2-.6-1.2-3.5-2.2 .8z" fill="#9aef9a"/>
<path d="M105.5 719.1l2.1-1.2-1.2-4.8-2.2 1.2z" fill="#e9fce9"/>
<path d="M139.9 726l-1.4 1.1-2.1 2.7 1.4-1.2" fill="#a3f1a3"/>
<path d="M104.6 724.4l2.1-1-1.2-4.3-2.1 1.1z" fill="#c5f6c5"/>
<path d="M108.2 701.1l2.1-.9-1.2-4.4-2.2 .9z" fill="#f4a0a5"/>
<path d="M106.4 713.1l2.1-1.1-1.2-5-2.2 1.2z" fill="#fce4e6"/>
<path d="M104.5 689.9l-1.2-1.9-2.1 .9 1.2 1.9" fill="#ee7079"/>
<path d="M105.7 692.9l2.2-.9-1.3-2.9-2.1 .8z" fill="#ef7880"/>
<path d="M99 689.8l-1.1-.6-2.2 .9 1.2 .6" fill="#ef737b"/>
<path d="M146.3 720.3l-1.5 .5-2.1 1.7 1.5-.8" fill="#c9f6c9"/>
<path d="M107.3 707l2.1-1-1.2-4.9-2.2 1.1z" fill="#f7bec2"/>
<path d="M108.2 734.4l2.2-.5-1.2-3.1-2.2 .6z" fill="#8aed8a"/>
<path d="M118.3 740.2l-1.2-2-2.2 .4 1.3 2.1" fill="#68e768"/>
<path d="M89.2 693.2l-1 1.6-2.1 1.4 1-1.8" fill="#f18b92"/>
<path d="M142.1 723.7l-1.5 .9-2.1 2.5 1.4-1.1" fill="#b2f3b2"/>
<path d="M106.9 696.7l2.2-.9-1.2-3.8-2.2 .9z" fill="#f18990"/>
<path d="M127.1 739.7l-1.3-.2-2.1 1 1.3 .6" fill="#65e765"/>
<path d="M144.2 721.7l-1.5 .8-2.1 2.1 1.5-.9" fill="#bff5bf"/>
<path d="M121.6 741.2l-1.2-1.4-2.1 .4 1.2 1.6" fill="#62e662"/>
<path d="M112.8 739l2.1-.4-1.2-2.5-2.1 .5z" fill="#72e972"/>
<path d="M103.4 720.2l2.1-1.1-1.3-4.8-2.1 1.2z" fill="#e4fbe4"/>
<path d="M103.7 728.8l2.1-.7-1.2-3.7-2.2 .9z" fill="#acf2ac"/>
<path d="M104.2 714.3l2.2-1.2-1.3-4.9-2.1 1.1z" fill="#fce9ea"/>
<path d="M151.7 720.3l-1.4-.6-2-.1 1.4 .4" fill="#d4f8d4"/>
<path d="M155 722.6l-1.4-1.1-1.9-1.2 1.4 1.1" fill="#caf7ca"/>
<path d="M87.1 694.4l-1 1.8-2.1 1.4 .9-2" fill="#f29097"/>
<path d="M109.5 737l2.1-.4-1.2-2.7-2.2 .5z" fill="#7eeb7e"/>
<path d="M102.4 725.3l2.2-.9-1.2-4.2-2.2 1z" fill="#c3f6c3"/>
<path d="M106 702.2l2.2-1.1-1.3-4.4-2.1 1z" fill="#f4a2a8"/>
<path d="M105.1 708.2l2.2-1.2-1.3-4.8-2.1 1.1z" fill="#f8c2c6"/>
<path d="M104.9 731.9l2.1-.5-1.2-3.3-2.1 .7z" fill="#9bef9b"/>
<path d="M102.4 690.8l-1.2-1.9-2.2 .9 1.2 1.9" fill="#ee727a"/>
<path d="M103.6 693.8l2.1-.9-1.2-3-2.1 .9z" fill="#ef7a82"/>
<path d="M96.9 690.7l-1.2-.6-2.1 1 1.1 .5" fill="#ef757d"/>
<path d="M104.8 697.7l2.1-1-1.2-3.8-2.1 .9z" fill="#f18b92"/>
<path d="M125 741.1l-1.3-.6-2.1 .7 1.3 .9" fill="#63e663"/>
<path d="M84.9 695.6l-.9 2-2.2 1.4 .9-2" fill="#f3959c"/>
<path d="M101.2 721.2l2.2-1-1.3-4.7-2.1 1.1z" fill="#e0fae0"/>
<path d="M106.1 734.6l2.1-.2-1.2-3-2.1 .5z" fill="#8ded8d"/>
<path d="M102.1 715.5l2.1-1.2-1.2-5-2.2 1.2z" fill="#fdeeef"/>
<path d="M116.2 740.7l-1.3-2.1-2.1 .4 1.2 2" fill="#6ae86a"/>
<path d="M103.9 703.3l2.1-1.1-1.2-4.5-2.2 1z" fill="#f4a5ab"/>
<path d="M103 709.3l2.1-1.1-1.2-4.9-2.2 1.1z" fill="#f8c6c9"/>
<path d="M119.5 741.8l-1.2-1.6-2.1 .5 1.2 1.5" fill="#64e764"/>
<path d="M110.7 739.4l2.1-.4-1.2-2.4-2.1 .4z" fill="#74e974"/>
<path d="M100.3 726l2.1-.7-1.2-4.1-2.2 .9z" fill="#c1f5c1"/>
<path d="M94.7 691.6l-1.1-.5-2.2 1 1.1 .4" fill="#ef777f"/>
<path d="M101.5 729.2l2.2-.4-1.3-3.5-2.1 .7z" fill="#adf2ad"/>
<path d="M101.4 694.8l2.2-1-1.2-3-2.2 .9z" fill="#f07c84"/>
<path d="M100.2 691.7l-1.2-1.9-2.1 .9 1.1 2" fill="#ef747c"/>
<path d="M82.7 697l-.9 2-2.2 1.4 .9-1.9" fill="#f39ba1"/>
<path d="M102.6 698.7l2.2-1-1.2-3.9-2.2 1z" fill="#f28e94"/>
<path d="M100 716.6l2.1-1.1-1.3-5-2.1 1.1z" fill="#fef3f4"/>
<path d="M99 722.1l2.2-.9-1.2-4.6-2.2 1z" fill="#ddfadd"/>
<path d="M107.3 737.2l2.2-.2-1.3-2.6-2.1 .2z" fill="#81eb81"/>
<path d="M149.7 720l-1.4-.4-2 .7 1.4 .2" fill="#d9f9d9"/>
<path d="M102.7 732.1l2.2-.2-1.2-3.1-2.2 .4z" fill="#9df09d"/>
<path d="M122.9 742.1l-1.3-.9-2.1 .6 1.3 1" fill="#63e663"/>
<path d="M100.8 710.5l2.2-1.2-1.3-4.9-2.1 1.1z" fill="#f9cacd"/>
<path d="M101.7 704.4l2.2-1.1-1.3-4.6-2.1 1.1z" fill="#f5a9ae"/>
<path d="M80.5 698.5l-.9 1.9-2.1 1.3 .9-1.7" fill="#f4a1a6"/>
<path d="M132.7 735.6l-1.3 .5-2.2 2 1.4-.2" fill="#7ceb7c"/>
<path d="M134.9 733.2l-1.4 .6-2.1 2.3 1.3-.5" fill="#88ec88"/>
<path d="M130.6 737.9l-1.4 .2-2.1 1.6 1.3 .1" fill="#73e973"/>
<path d="M92.5 692.5l-1.1-.4-2.2 1.1 1.1 .3" fill="#ef7a82"/>
<path d="M156.4 723.8l-1.4-1.2-1.9-1.2 1.4 1.5" fill="#caf7ca"/>
<path d="M99.2 695.8l2.2-1-1.2-3.1-2.2 1z" fill="#f07f86"/>
<path d="M98 692.7l-1.1-2-2.2 .9 1.2 2" fill="#ef767e"/>
<path d="M137 730.6l-1.4 .6-2.1 2.6 1.4-.6" fill="#96ef96"/>
<path d="M100.5 699.8l2.1-1.1-1.2-3.9-2.2 1z" fill="#f29197"/>
<path d="M98.1 726.5l2.2-.5-1.3-3.9-2.1 .8z" fill="#c1f5c1"/>
<path d="M78.4 700l-.9 1.7-2.2 1.3 .9-1.3" fill="#f5a7ad"/>
<path d="M114 741l-1.2-2-2.1 .4 1.2 1.9" fill="#6de86d"/>
<path d="M103.9 734.6l2.2 0-1.2-2.7-2.2 .2z" fill="#91ee91"/>
<path d="M153.1 721.4l-1.4-1.1-2-.3 1.4 1" fill="#d8f9d8"/>
<path d="M97.8 717.6l2.2-1-1.3-5-2.2 1.1z" fill="#fef8f8"/>
<path d="M128.4 739.8l-1.3-.1-2.1 1.4 1.3 .3" fill="#6ce86c"/>
<path d="M117.4 742.2l-1.2-1.5-2.2 .3 1.3 1.5" fill="#67e767"/>
<path d="M99.3 729.5l2.2-.3-1.2-3.2-2.2 .5z" fill="#aff2af"/>
<path d="M139.2 728l-1.4 .6-2.2 2.6 1.4-.6" fill="#a5f1a5"/>
<path d="M147.7 720.5l-1.4-.2-2.1 1.4 1.4 0" fill="#d6f9d6"/>
<path d="M98.7 711.6l2.1-1.1-1.2-5-2.2 1.1z" fill="#f9ced1"/>
<path d="M96.9 722.9l2.1-.8-1.2-4.5-2.2 .9z" fill="#dbf9db"/>
<path d="M99.6 705.5l2.1-1.1-1.2-4.6-2.2 1.1z" fill="#f5acb1"/>
<path d="M108.5 739.5l2.2-.1-1.2-2.4-2.2 .2z" fill="#78ea78"/>
<path d="M65.5 713l-1-.8-2.1 2.6 1.1 1.2" fill="#fdf1f2"/>
<path d="M76.2 701.7l-.9 1.3-2.2 1.5 .9-.9" fill="#f6afb4"/>
<path d="M90.3 693.5l-1.1-.3-2.1 1.2 1 .2" fill="#f07d85"/>
<path d="M141.3 725.6l-1.4 .4-2.1 2.6 1.4-.6" fill="#b4f3b4"/>
<path d="M97.1 696.8l2.1-1-1.2-3.1-2.1 .9z" fill="#f08188"/>
<path d="M145.6 721.7l-1.4 0-2.1 2 1.4-.3" fill="#cef7ce"/>
<path d="M120.8 742.8l-1.3-1-2.1 .4 1.2 1" fill="#64e764"/>
<path d="M95.9 693.6l-1.2-2-2.2 .9 1.2 2" fill="#ef7980"/>
<path d="M74 703.6l-.9 .9-2.2 1.6 1-.4" fill="#f7b7bc"/>
<path d="M143.5 723.4l-1.4 .3-2.2 2.3 1.4-.4" fill="#c2f5c2"/>
<path d="M98.3 700.9l2.2-1.1-1.3-4-2.1 1z" fill="#f2939a"/>
<path d="M67.6 710.4l-1-.5-2.1 2.3 1 .8" fill="#fbdddf"/>
<path d="M126.3 741.4l-1.3-.3-2.1 1 1.3 .4" fill="#68e768"/>
<path d="M100.5 732l2.2 .1-1.2-2.9-2.2 .3z" fill="#a1f0a1"/>
<path d="M71.9 705.7l-1 .4-2.1 1.7 .9 .1" fill="#f8c2c5"/>
<path d="M69.7 707.9l-.9-.1-2.2 2.1 1 .5" fill="#f9ced1"/>
<path d="M105.1 737.1l2.2 .1-1.2-2.6-2.2 0z" fill="#86ec86"/>
<path d="M95.6 718.5l2.2-.9-1.3-4.9-2.2 1z" fill="#fffcfc"/>
<path d="M96.5 712.7l2.2-1.1-1.3-5-2.2 1.1z" fill="#fad2d4"/>
<path d="M97.4 706.6l2.2-1.1-1.3-4.6-2.2 1z" fill="#f6afb4"/>
<path d="M95.9 726.9l2.2-.4-1.2-3.6-2.2 .6z" fill="#c2f5c2"/>
<path d="M88.1 694.6l-1-.2-2.2 1.2 1 .1" fill="#f08189"/>
<path d="M94.7 723.5l2.2-.6-1.3-4.4-2.2 .8z" fill="#daf9da"/>
<path d="M157.8 725.3l-1.4-1.5-1.9-.9 1.3 1.8" fill="#c8f6c8"/>
<path d="M111.9 741.3l-1.2-1.9-2.2 .1 1.2 2" fill="#71e971"/>
<path d="M94.9 697.8l2.2-1-1.2-3.2-2.2 .9z" fill="#f0838b"/>
<path d="M96.1 701.9l2.2-1-1.2-4.1-2.2 1z" fill="#f3969c"/>
<path d="M93.7 694.5l-1.2-2-2.2 1 1.2 2" fill="#ef7b83"/>
<path d="M115.3 742.5l-1.3-1.5-2.1 .3 1.2 1.5" fill="#6ae86a"/>
<path d="M97.1 729.5l2.2 0-1.2-3-2.2 .4z" fill="#b2f3b2"/>
<path d="M151.1 721l-1.4-1-2 .5 1.4 .9" fill="#defade"/>
<path d="M101.7 734.3l2.2 .3-1.2-2.5-2.2-.1z" fill="#97ef97"/>
<path d="M124.2 742.5l-1.3-.4-2.1 .7 1.2 .4" fill="#67e767"/>
<path d="M85.9 695.7l-1-.1-2.2 1.4 1.1 .1" fill="#f1868d"/>
<path d="M94.3 713.7l2.2-1-1.3-5-2.1 1z" fill="#fad5d7"/>
<path d="M154.5 722.9l-1.4-1.5-2-.4 1.4 1.7" fill="#d7f9d7"/>
<path d="M95.2 707.7l2.2-1.1-1.3-4.7-2.1 1z" fill="#f6b3b7"/>
<path d="M93.4 719.3l2.2-.8-1.3-4.8-2.2 .9z" fill="#fefffe"/>
<path d="M106.3 739.5l2.2 0-1.2-2.3-2.2-.1z" fill="#7eeb7e"/>
<path d="M118.6 743.2l-1.2-1-2.1 .3 1.2 1" fill="#67e767"/>
<path d="M66.5 714.2l-1-1.2-2 3 1 1.2" fill="#fdf0f1"/>
<path d="M92.7 698.7l2.2-.9-1.2-3.3-2.2 1z" fill="#f1868d"/>
<path d="M83.8 697.1l-1.1-.1-2.2 1.5 1.1 0" fill="#f18b92"/>
<path d="M91.5 695.5l-1.2-2-2.2 1.1 1.2 1.9" fill="#f07d85"/>
<path d="M94 702.9l2.1-1-1.2-4.1-2.2 .9z" fill="#f3999f"/>
<path d="M92.5 723.9l2.2-.4-1.3-4.2-2.2 .6z" fill="#dbf9db"/>
<path d="M100.5 732l-1.2-2.5-2.2 0 1.2 2.3" fill="#a7f1a7"/>
<path d="M93.7 727l2.2-.1-1.2-3.4-2.2 .4z" fill="#c5f6c5"/>
<path d="M134.1 735.5l-1.4 .1-2.1 2.3 1.3-.2" fill="#88ec88"/>
<path d="M149.1 721.4l-1.4-.9-2.1 1.2 1.4 .8" fill="#ddfadd"/>
<path d="M131.9 737.7l-1.3 .2-2.2 1.9 1.4-.1" fill="#7eeb7e"/>
<path d="M93.1 708.7l2.1-1-1.2-4.8-2.2 1z" fill="#f6b5ba"/>
<path d="M92.1 714.6l2.2-.9-1.2-5-2.2 1z" fill="#fad8da"/>
<path d="M102.9 736.7l2.2 .4-1.2-2.5-2.2-.3z" fill="#8eed8e"/>
<path d="M136.2 733.1l-1.3 .1-2.2 2.4 1.4-.1" fill="#95ee95"/>
<path d="M81.6 698.5l-1.1 0-2.1 1.5 1 .2" fill="#f29298"/>
<path d="M68.6 711.3l-1-.9-2.1 2.6 1 1.2" fill="#fbdbdd"/>
<path d="M91.2 719.9l2.2-.6-1.3-4.7-2.2 .8z" fill="#fdfffd"/>
<path d="M159.2 726.8l-1.4-1.5-2-.6 1.4 2" fill="#c4f6c4"/>
<path d="M129.8 739.7l-1.4 .1-2.1 1.6 1.3 0" fill="#76e976"/>
<path d="M138.4 730.6l-1.4 0-2.1 2.6 1.3-.1" fill="#a3f1a3"/>
<path d="M122 743.2l-1.2-.4-2.2 .4 1.3 .4" fill="#69e769"/>
<path d="M113.1 742.8l-1.2-1.5-2.2 .2 1.3 1.6" fill="#6ee86e"/>
<path d="M109.7 741.5l-1.2-2-2.2 0 1.3 2.1" fill="#76ea76"/>
<path d="M79.4 700.2l-1-.2-2.2 1.7 1 .3" fill="#f39aa0"/>
<path d="M89.3 696.5l-1.2-1.9-2.2 1.1 1.2 1.9" fill="#f08188"/>
<path d="M94.9 729.4l2.2 .1-1.2-2.6-2.2 .1z" fill="#b7f4b7"/>
<path d="M70.8 708.7l-1.1-.8-2.1 2.5 1 .9" fill="#f9c9cc"/>
<path d="M90.5 699.7l2.2-1-1.2-3.2-2.2 1z" fill="#f1888f"/>
<path d="M91.8 703.9l2.2-1-1.3-4.2-2.2 1z" fill="#f39ba1"/>
<path d="M147 722.5l-1.4-.8-2.1 1.7 1.4 .6" fill="#d7f9d7"/>
<path d="M140.6 728.2l-1.4-.2-2.2 2.6 1.4 0" fill="#b1f3b1"/>
<path d="M155.8 724.7l-1.3-1.8-2-.2 1.3 1.9" fill="#d2f8d2"/>
<path d="M77.2 702l-1-.3-2.2 1.9 1 .5" fill="#f4a3a9"/>
<path d="M72.9 706.3l-1-.6-2.2 2.2 1.1 .8" fill="#f7babe"/>
<path d="M142.7 726l-1.4-.4-2.1 2.4 1.4 .2" fill="#c0f5c0"/>
<path d="M152.5 722.7l-1.4-1.7-2 .4 1.3 1.6" fill="#ddfadd"/>
<path d="M75 704.1l-1-.5-2.1 2.1 1 .6" fill="#f5aeb3"/>
<path d="M144.9 724l-1.4-.6-2.2 2.2 1.4 .4" fill="#ccf7cc"/>
<path d="M116.5 743.5l-1.2-1-2.2 .3 1.2 .9" fill="#6be86b"/>
<path d="M90.9 709.7l2.2-1-1.3-4.8-2.2 1z" fill="#f7b8bc"/>
<path d="M101.7 734.3l-1.2-2.3-2.2-.2 1.2 2.1" fill="#9ff09f"/>
<path d="M127.6 741.4l-1.3 0-2.1 1.1 1.3 0" fill="#71e971"/>
<path d="M89.9 715.4l2.2-.8-1.2-4.9-2.2 .9z" fill="#fbdadc"/>
<path d="M104.1 739.2l2.2 .3-1.2-2.4-2.2-.4z" fill="#85ec85"/>
<path d="M90.2 724.1l2.3-.2-1.3-4-2.2 .5z" fill="#defade"/>
<path d="M87.1 697.6l-1.2-1.9-2.1 1.4 1.1 1.7" fill="#f1858c"/>
<path d="M91.4 727l2.3 0-1.2-3.1-2.3 .2z" fill="#caf7ca"/>
<path d="M88.3 700.8l2.2-1.1-1.2-3.2-2.2 1.1z" fill="#f18b92"/>
<path d="M89 720.4l2.2-.5-1.3-4.5-2.2 .7z" fill="#fefffe"/>
<path d="M89.6 704.9l2.2-1-1.3-4.2-2.2 1.1z" fill="#f49ea4"/>
<path d="M67.6 715.5l-1.1-1.3-2 3 1 1.2" fill="#fdf0f1"/>
<path d="M98.3 731.8l-1.2-2.3-2.2-.1 1.2 2" fill="#aef2ae"/>
<path d="M88.7 710.6l2.2-.9-1.3-4.8-2.2 1.1z" fill="#f7bbbf"/>
<path d="M84.9 698.8l-1.1-1.7-2.2 1.4 1.1 1.8" fill="#f18a91"/>
<path d="M160.6 728.3l-1.4-1.5-2-.1 1.4 2" fill="#bff5bf"/>
<path d="M119.9 743.6l-1.3-.4-2.1 .3 1.3 .3" fill="#6ce86c"/>
<path d="M125.5 742.5l-1.3 0-2.2 .7 1.3 0" fill="#70e970"/>
<path d="M150.4 723l-1.3-1.6-2.1 1.1 1.3 1.4" fill="#ddfadd"/>
<path d="M111 743.1l-1.3-1.6-2.1 .1 1.2 1.7" fill="#72e972"/>
<path d="M87.7 716.1l2.2-.7-1.2-4.8-2.3 .9z" fill="#fbdbdd"/>
<path d="M102.9 736.7l-1.2-2.4-2.2-.4 1.2 2.3" fill="#97ef97"/>
<path d="M157.2 726.7l-1.4-2-2-.1 1.4 2.2" fill="#cbf7cb"/>
<path d="M69.7 712.7l-1.1-1.4-2.1 2.9 1.1 1.3" fill="#fbdbdd"/>
<path d="M86.1 701.9l2.2-1.1-1.2-3.2-2.2 1.2z" fill="#f28f95"/>
<path d="M87.4 706l2.2-1.1-1.3-4.1-2.2 1.1z" fill="#f4a1a7"/>
<path d="M107.6 741.6l-1.3-2.1-2.2-.3 1.3 2.3" fill="#7deb7d"/>
<path d="M94.9 729.4l-1.2-2.4-2.3 0 1.2 2.2" fill="#bef5be"/>
<path d="M82.7 700.3l-1.1-1.8-2.2 1.7 1.1 1.7" fill="#f29097"/>
<path d="M153.8 724.6l-1.3-1.9-2.1 .3 1.4 2" fill="#d8f9d8"/>
<path d="M114.3 743.7l-1.2-.9-2.1 .3 1.2 .9" fill="#6fe86f"/>
<path d="M71.8 710.2l-1-1.5-2.2 2.6 1.1 1.4" fill="#f9c9cc"/>
<path d="M80.5 701.9l-1.1-1.7-2.2 1.8 1.1 1.7" fill="#f3989e"/>
<path d="M88 724.1l2.2 0-1.2-3.7-2.3 .3z" fill="#e3fbe3"/>
<path d="M86.4 711.5l2.3-.9-1.3-4.6-2.2 1.1z" fill="#f7bec1"/>
<path d="M148.3 723.9l-1.3-1.4-2.1 1.5 1.3 1.3" fill="#d9f9d9"/>
<path d="M86.7 720.7l2.3-.3-1.3-4.3-2.2 .6z" fill="#fffcfc"/>
<path d="M74 707.8l-1.1-1.5-2.1 2.4 1 1.5" fill="#f7babe"/>
<path d="M78.3 703.7l-1.1-1.7-2.2 2.1 1.1 1.6" fill="#f4a2a7"/>
<path d="M83.9 703.3l2.2-1.4-1.2-3.1-2.2 1.5z" fill="#f2939a"/>
<path d="M76.1 705.7l-1.1-1.6-2.1 2.2 1.1 1.5" fill="#f5adb2"/>
<path d="M99.5 733.9l-1.2-2.1-2.2-.4 1.1 2" fill="#a8f1a8"/>
<path d="M135.4 735.6l-1.3-.1-2.2 2.2 1.4 .1" fill="#93ee93"/>
<path d="M85.2 707.1l2.2-1.1-1.3-4.1-2.2 1.4z" fill="#f4a5aa"/>
<path d="M137.6 733.4l-1.4-.3-2.1 2.4 1.3 .1" fill="#9ff09f"/>
<path d="M133.3 737.8l-1.4-.1-2.1 2 1.3 0" fill="#88ec88"/>
<path d="M89.2 726.8l2.2 .2-1.2-2.9-2.2 0z" fill="#d0f8d0"/>
<path d="M85.5 716.7l2.2-.6-1.3-4.6-2.2 1z" fill="#fbdcde"/>
<path d="M146.2 725.3l-1.3-1.3-2.2 2 1.4 1" fill="#d0f8d0"/>
<path d="M139.8 731.1l-1.4-.5-2.2 2.5 1.4 .3" fill="#acf2ac"/>
<path d="M101.9 738.7l2.2 .5-1.2-2.5-2.2-.5z" fill="#8eed8e"/>
<path d="M123.3 743.2l-1.3 0-2.1 .4 1.3-.1" fill="#72e972"/>
<path d="M141.9 729l-1.3-.8-2.2 2.4 1.4 .5" fill="#b9f4b9"/>
<path d="M144.1 727l-1.4-1-2.1 2.2 1.3 .8" fill="#c5f6c5"/>
<path d="M131.1 739.7l-1.3 0-2.2 1.7 1.3-.2" fill="#80eb80"/>
<path d="M81.7 704.7l2.2-1.4-1.2-3-2.2 1.6z" fill="#f3999f"/>
<path d="M156.5 729.1l2.1-.4-1.4-2-2 .1z" fill="#c4f6c4"/>
<path d="M117.8 743.8l-1.3-.3-2.2 .2 1.3 .2" fill="#70e970"/>
<path d="M162 729.8l-1.4-1.5-2 .4 1.4 1.9" fill="#bcf4bc"/>
<path d="M68.7 716.9l-1.1-1.4-2.1 2.9 1 1.2" fill="#fdf1f2"/>
<path d="M84.2 712.5l2.2-1-1.2-4.4-2.3 1.2z" fill="#f8c1c4"/>
<path d="M151.8 725l-1.4-2-2.1 .9 1.4 2" fill="#d9f9d9"/>
<path d="M96.1 731.4l-1.2-2-2.3-.2 1.2 1.8" fill="#b7f4b7"/>
<path d="M153.1 727.3l2.1-.5-1.4-2.2-2 .4z" fill="#d0f8d0"/>
<path d="M108.8 743.3l-1.2-1.7-2.2-.1 1.2 1.8" fill="#78ea78"/>
<path d="M82.9 708.3l2.3-1.2-1.3-3.8-2.2 1.4z" fill="#f5aaaf"/>
<path d="M79.5 706.3l2.2-1.6-1.2-2.8-2.2 1.8z" fill="#f4a0a6"/>
<path d="M70.8 714.4l-1.1-1.7-2.1 2.8 1.1 1.4" fill="#fbdddf"/>
<path d="M112.2 744l-1.2-.9-2.2 .2 1.2 .9" fill="#73e973"/>
<path d="M128.9 741.2l-1.3 .2-2.1 1.1 1.3-.2" fill="#7cea7c"/>
<path d="M84.5 720.9l2.2-.2-1.2-4-2.3 .6z" fill="#fef9f9"/>
<path d="M77.3 708.1l2.2-1.8-1.2-2.6-2.2 2z" fill="#f5a9ae"/>
<path d="M92.6 729.2l-1.2-2.2-2.2-.2 1.1 2" fill="#c6f6c6"/>
<path d="M73 712.1l-1.2-1.9-2.1 2.5 1.1 1.7" fill="#f9cdd0"/>
<path d="M83.2 717.3l2.3-.6-1.3-4.2-2.2 .9z" fill="#fbdcdf"/>
<path d="M85.7 724.1l2.3 0-1.3-3.4-2.2 .2z" fill="#e8fbe8"/>
<path d="M100.7 736.2l-1.2-2.3-2.3-.5 1.2 2.2" fill="#a1f0a1"/>
<path d="M103.1 741.1l2.3 .4-1.3-2.3-2.2-.5z" fill="#85ec85"/>
<path d="M77.3 708.1l-1.2-2.4-2.1 2.1 1.1 2.2" fill="#f6b3b7"/>
<path d="M75.1 710l-1.1-2.2-2.2 2.4 1.2 1.9" fill="#f7bfc3"/>
<path d="M80.7 709.7l2.2-1.4-1.2-3.6-2.2 1.6z" fill="#f6afb4"/>
<path d="M82 713.4l2.2-.9-1.3-4.2-2.2 1.4z" fill="#f8c4c7"/>
<path d="M149.7 725.9l-1.4-2-2.1 1.4 1.4 1.7" fill="#d5f8d5"/>
<path d="M160 730.6l-1.4-1.9-2.1 .4 1.4 2.2" fill="#bdf5bd"/>
<path d="M154.5 729.7l2-.6-1.3-2.3-2.1 .5z" fill="#c7f6c7"/>
<path d="M78.5 711.1l2.2-1.4-1.2-3.4-2.2 1.8z" fill="#f6b6ba"/>
<path d="M121.2 743.5l-1.3 .1-2.1 .2 1.2-.2" fill="#76e976"/>
<path d="M153.1 727.3l-1.3-2.3-2.1 .9 1.3 2.2" fill="#d1f8d1"/>
<path d="M86.9 726.6l2.3 .2-1.2-2.7-2.3 0z" fill="#d8f9d8"/>
<path d="M147.6 727l-1.4-1.7-2.1 1.7 1.3 1.5" fill="#cff7cf"/>
<path d="M115.6 743.9l-1.3-.2-2.1 .3 1.2 .1" fill="#75e975"/>
<path d="M97.2 733.4l-1.1-2-2.3-.4 1.2 1.8" fill="#b2f3b2"/>
<path d="M126.8 742.3l-1.3 .2-2.2 .7 1.3-.3" fill="#7bea7b"/>
<path d="M79.7 714.5l2.3-1.1-1.3-3.7-2.2 1.4z" fill="#f9c8cb"/>
<path d="M76.3 712.7l2.2-1.6-1.2-3-2.2 1.9z" fill="#f7bec2"/>
<path d="M163.5 731l-1.5-1.2-2 .8 1.4 1.7" fill="#b9f4b9"/>
<path d="M81 717.9l2.2-.6-1.2-3.9-2.3 1.1z" fill="#fbdedf"/>
<path d="M69.7 718.5l-1-1.6-2.2 2.7 1.1 1.3" fill="#fef3f4"/>
<path d="M99.7 738.1l2.2 .6-1.2-2.5-2.3-.6z" fill="#98ef98"/>
<path d="M145.4 728.5l-1.3-1.5-2.2 2 1.4 1.2" fill="#c6f6c6"/>
<path d="M82.2 721.2l2.3-.3-1.3-3.6-2.2 .6z" fill="#fef5f6"/>
<path d="M76.3 712.7l-1.2-2.7-2.1 2.1 1.1 2.3" fill="#f9c8cb"/>
<path d="M71.9 716.4l-1.1-2-2.1 2.5 1 1.6" fill="#fce1e3"/>
<path d="M74.1 714.4l-1.1-2.3-2.2 2.3 1.1 2" fill="#fad4d6"/>
<path d="M106.6 743.3l-1.2-1.8-2.3-.4 1.3 2" fill="#7feb7f"/>
<path d="M143.3 730.2l-1.4-1.2-2.1 2.1 1.3 .9" fill="#bcf5bc"/>
<path d="M93.8 731l-1.2-1.8-2.3-.4 1.2 1.7" fill="#c0f5c0"/>
<path d="M110 744.2l-1.2-.9-2.2 0 1.2 1.1" fill="#77ea77"/>
<path d="M141.1 732l-1.3-.9-2.2 2.3 1.4 .6" fill="#b1f3b1"/>
<path d="M139 734l-1.4-.6-2.2 2.2 1.4 .4" fill="#a6f1a6"/>
<path d="M77.5 715.6l2.2-1.1-1.2-3.4-2.2 1.6z" fill="#f9cdd0"/>
<path d="M151 728.1l-1.3-2.2-2.1 1.1 1.3 2.1" fill="#cff7cf"/>
<path d="M83.4 724l2.3 .1-1.2-3.2-2.3 .3z" fill="#effcef"/>
<path d="M136.8 736l-1.4-.4-2.1 2.2 1.3 .1" fill="#9cef9c"/>
<path d="M155.8 732l2.1-.7-1.4-2.2-2 .6z" fill="#bef5be"/>
<path d="M152.4 730.4l2.1-.7-1.4-2.4-2.1 .8z" fill="#c7f6c7"/>
<path d="M134.6 737.9l-1.3-.1-2.2 1.9 1.4-.1" fill="#92ee92"/>
<path d="M90.3 728.8l-1.1-2-2.3-.2 1.2 1.8" fill="#cff7cf"/>
<path d="M161.4 732.3l-1.4-1.7-2.1 .7 1.4 2" fill="#b7f4b7"/>
<path d="M78.7 718.6l2.3-.7-1.3-3.4-2.2 1.1z" fill="#fbdfe1"/>
<path d="M75.3 716.9l2.2-1.3-1.2-2.9-2.2 1.7z" fill="#fad4d7"/>
<path d="M100.9 740.6l2.2 .5-1.2-2.4-2.2-.6z" fill="#8fed8f"/>
<path d="M124.6 742.9l-1.3 .3-2.1 .3 1.3-.3" fill="#7deb7d"/>
<path d="M98.4 735.6l-1.2-2.2-2.2-.6 1.2 2" fill="#acf2ac"/>
<path d="M132.5 739.6l-1.4 .1-2.2 1.5 1.4-.1" fill="#8bed8b"/>
<path d="M119 743.6l-1.2 .2-2.2 .1 1.2-.3" fill="#7bea7b"/>
<path d="M148.9 729.1l-1.3-2.1-2.2 1.5 1.4 1.8" fill="#cbf7cb"/>
<path d="M113.4 744.1l-1.2-.1-2.2 .2 1.2 .2" fill="#79ea79"/>
<path d="M86.9 726.6l-1.2-2.5-2.3-.1 1.2 2.3" fill="#e0fae0"/>
<path d="M79.9 721.5l2.3-.3-1.2-3.3-2.3 .7z" fill="#fef3f3"/>
<path d="M75.3 716.9l-1.2-2.5-2.2 2 1.1 2" fill="#fbdcde"/>
<path d="M152.4 730.4l-1.4-2.3-2.1 1 1.4 2.2" fill="#c7f6c7"/>
<path d="M73 718.4l-1.1-2-2.2 2.1 1.1 1.6" fill="#fce7e8"/>
<path d="M165 732.1l-1.5-1.1-2.1 1.3 1.4 1.4" fill="#b9f4b9"/>
<path d="M153.7 732.7l2.1-.7-1.3-2.3-2.1 .7z" fill="#bef5be"/>
<path d="M76.4 719.5l2.3-.9-1.2-3-2.2 1.3z" fill="#fce2e4"/>
<path d="M146.8 730.3l-1.4-1.8-2.1 1.7 1.4 1.5" fill="#c4f6c4"/>
<path d="M70.8 720.1l-1.1-1.6-2.1 2.4 1 1.2" fill="#fef5f6"/>
<path d="M95 732.8l-1.2-1.8-2.3-.5 1.2 1.6" fill="#bdf5bd"/>
<path d="M130.3 741.1l-1.4 .1-2.1 1.1 1.3-.2" fill="#87ec87"/>
<path d="M159.3 733.3l-1.4-2-2.1 .7 1.4 2.1" fill="#b7f4b7"/>
<path d="M107.8 744.4l-1.2-1.1-2.2-.2 1.2 1.3" fill="#7deb7d"/>
<path d="M81.1 724l2.3 0-1.2-2.8-2.3 .3z" fill="#f5fdf5"/>
<path d="M144.7 731.7l-1.4-1.5-2.2 1.8 1.4 1.2" fill="#bdf5bd"/>
<path d="M104.4 743.1l-1.3-2-2.2-.5 1.2 2.1" fill="#88ec88"/>
<path d="M91.5 730.5l-1.2-1.7-2.2-.4 1.1 1.6" fill="#caf7ca"/>
<path d="M97.4 737.2l2.3 .9-1.3-2.5-2.2-.8z" fill="#a4f1a4"/>
<path d="M162.8 733.7l-1.4-1.4-2.1 1 1.4 1.6" fill="#b4f3b4"/>
<path d="M76.4 719.5l-1.1-2.6-2.3 1.5 1.2 2.1" fill="#fce7e8"/>
<path d="M142.5 733.2l-1.4-1.2-2.1 2 1.3 .9" fill="#b5f3b5"/>
<path d="M77.6 721.9l2.3-.4-1.2-2.9-2.3 .9z" fill="#fdf1f2"/>
<path d="M150.3 731.3l-1.4-2.2-2.1 1.2 1.4 2" fill="#c4f6c4"/>
<path d="M88.1 728.4l-1.2-1.8-2.3-.3 1.1 1.8" fill="#d8f9d8"/>
<path d="M122.5 743.2l-1.3 .3-2.2 .1 1.3-.4" fill="#82eb82"/>
<path d="M116.8 743.6l-1.2 .3-2.2 .2 1.3-.4" fill="#80eb80"/>
<path d="M111.2 744.4l-1.2-.2-2.2 .2 1.2 .1" fill="#7deb7d"/>
<path d="M140.3 734.9l-1.3-.9-2.2 2 1.4 .6" fill="#acf2ac"/>
<path d="M153.7 732.7l-1.3-2.3-2.1 .9 1.3 2.1" fill="#bef5be"/>
<path d="M128.1 742.1l-1.3 .2-2.2 .6 1.4-.3" fill="#87ec87"/>
<path d="M157.2 734.1l-1.4-2.1-2.1 .7 1.4 2.1" fill="#b7f4b7"/>
<path d="M84.6 726.3l-1.2-2.3-2.3 0 1.2 2.1" fill="#e9fbe9"/>
<path d="M74.2 720.5l-1.2-2.1-2.2 1.7 1.1 1.7" fill="#fdedee"/>
<path d="M138.2 736.6l-1.4-.6-2.2 1.9 1.4 .3" fill="#a3f1a3"/>
<path d="M98.6 739.7l2.3 .9-1.2-2.5-2.3-.9z" fill="#9bef9b"/>
<path d="M96.2 734.8l-1.2-2-2.3-.7 1.2 2" fill="#b8f4b8"/>
<path d="M160.7 734.9l-1.4-1.6-2.1 .8 1.4 1.8" fill="#b2f3b2"/>
<path d="M148.2 732.3l-1.4-2-2.1 1.4 1.3 1.6" fill="#c1f5c1"/>
<path d="M136 738.2l-1.4-.3-2.1 1.7 1.3 .1" fill="#9cef9c"/>
<path d="M81.1 724l-1.2-2.5-2.3 .4 1.2 2.3" fill="#fcfefc"/>
<path d="M71.9 721.8l-1.1-1.7-2.2 2 1.1 1.3" fill="#fef8f8"/>
<path d="M77.6 721.9l-1.2-2.4-2.2 1 1.1 2.1" fill="#fdf1f2"/>
<path d="M166.5 732.8l-1.5-.7-2.2 1.6 1.5 1" fill="#baf4ba"/>
<path d="M105.6 744.4l-1.2-1.3-2.3-.4 1.2 1.3" fill="#85ec85"/>
<path d="M151.6 733.4l-1.3-2.1-2.1 1 1.3 1.9" fill="#bef5be"/>
<path d="M92.7 732.1l-1.2-1.6-2.3-.5 1.2 1.5" fill="#c8f6c8"/>
<path d="M146 733.3l-1.3-1.6-2.2 1.5 1.4 1.4" fill="#bcf4bc"/>
<path d="M133.8 739.7l-1.3-.1-2.2 1.5 1.4-.1" fill="#96ef96"/>
<path d="M155.1 734.8l-1.4-2.1-2.1 .7 1.4 2" fill="#b7f4b7"/>
<path d="M89.2 730l-1.1-1.6-2.4-.3 1.2 1.5" fill="#d5f8d5"/>
<path d="M126 742.6l-1.4 .3-2.1 .3 1.3-.4" fill="#8aed8a"/>
<path d="M164.3 734.7l-1.5-1-2.1 1.2 1.5 1.2" fill="#b4f3b4"/>
<path d="M114.7 743.7l-1.3 .4-2.2 .3 1.2-.7" fill="#85ec85"/>
<path d="M120.3 743.2l-1.3 .4-2.2 0 1.3-.6" fill="#88ec88"/>
<path d="M158.6 735.9l-1.4-1.8-2.1 .7 1.4 1.8" fill="#b2f3b2"/>
<path d="M109 744.5l-1.2-.1-2.2 0 1.2 .1" fill="#83eb83"/>
<path d="M102.1 742.7l-1.2-2.1-2.3-.9 1.2 2.1" fill="#93ee93"/>
<path d="M85.7 728.1l-1.1-1.8-2.3-.2 1.1 1.7" fill="#e2fae2"/>
<path d="M97.4 737.2l-1.2-2.4-2.3-.7 1.2 2.2" fill="#b1f3b1"/>
<path d="M75.3 722.6l-1.1-2.1-2.3 1.3 1.1 1.6" fill="#fef4f5"/>
<path d="M143.9 734.6l-1.4-1.4-2.2 1.7 1.4 1" fill="#b6f4b6"/>
<path d="M82.3 726.1l-1.2-2.1-2.3 .2 1.1 1.8" fill="#f1fdf1"/>
<path d="M149.5 734.2l-1.3-1.9-2.2 1 1.4 1.7" fill="#bcf5bc"/>
<path d="M131.7 741l-1.4 .1-2.2 1 1.4-.2" fill="#93ee93"/>
<path d="M78.8 724.2l-1.2-2.3-2.3 .7 1.2 1.9" fill="#fffcfd"/>
<path d="M162.2 736.1l-1.5-1.2-2.1 1 1.5 1.2" fill="#b1f3b1"/>
<path d="M141.7 735.9l-1.4-1-2.1 1.7 1.4 .7" fill="#b0f3b0"/>
<path d="M153 735.4l-1.4-2-2.1 .8 1.4 1.8" fill="#b8f4b8"/>
<path d="M73 723.4l-1.1-1.6-2.2 1.6 1.1 1.2" fill="#fefafa"/>
<path d="M93.9 734.1l-1.2-2-2.3-.6 1.2 1.8" fill="#c4f6c4"/>
<path d="M156.5 736.6l-1.4-1.8-2.1 .6 1.4 1.7" fill="#b3f3b3"/>
<path d="M139.6 737.3l-1.4-.7-2.2 1.6 1.4 .5" fill="#aaf2aa"/>
<path d="M96.3 738.7l2.3 1-1.2-2.5-2.3-.9z" fill="#a8f1a8"/>
<path d="M147.4 735l-1.4-1.7-2.1 1.3 1.4 1.3" fill="#baf4ba"/>
<path d="M123.8 742.8l-1.3 .4-2.2 0 1.3-.5" fill="#8fee8f"/>
<path d="M112.4 743.7l-1.2 .7-2.2 .1 1.2-.7" fill="#8aed8a"/>
<path d="M90.4 731.5l-1.2-1.5-2.3-.4 1.1 1.4" fill="#d3f8d3"/>
<path d="M129.5 741.9l-1.4 .2-2.1 .5 1.3-.2" fill="#93ee93"/>
<path d="M103.3 744l-1.2-1.3-2.3-.9 1.2 1.5" fill="#90ee90"/>
<path d="M76.5 724.5l-1.2-1.9-2.3 .8 1.1 1.6" fill="#fefafb"/>
<path d="M118.1 743l-1.3 .6-2.1 .1 1.2-.8" fill="#8eed8e"/>
<path d="M86.9 729.6l-1.2-1.5-2.3-.3 1.1 1.4" fill="#dffadf"/>
<path d="M160.1 737.1l-1.5-1.2-2.1 .7 1.5 1.3" fill="#b0f3b0"/>
<path d="M168 733.3l-1.5-.5-2.2 1.9 1.6 .5" fill="#c0f5c0"/>
<path d="M137.4 738.7l-1.4-.5-2.2 1.5 1.4 .3" fill="#a4f1a4"/>
<path d="M83.4 727.8l-1.1-1.7-2.4-.1 1.2 1.6" fill="#ebfceb"/>
<path d="M106.8 744.5l-1.2-.1-2.3-.4 1.2 .3" fill="#8aed8a"/>
<path d="M79.9 726l-1.1-1.8-2.3 .3 1.1 1.6" fill="#f8fef8"/>
<path d="M150.9 736l-1.4-1.8-2.1 .8 1.4 1.6" fill="#b9f4b9"/>
<path d="M165.9 735.2l-1.6-.5-2.1 1.4 1.5 .6" fill="#b8f4b8"/>
<path d="M145.3 735.9l-1.4-1.3-2.2 1.3 1.4 1.1" fill="#b7f4b7"/>
<path d="M154.4 737.1l-1.4-1.7-2.1 .6 1.4 1.6" fill="#b4f3b4"/>
<path d="M95.1 736.3l-1.2-2.2-2.3-.8 1.2 2.1" fill="#bef5be"/>
<path d="M99.8 741.8l-1.2-2.1-2.3-1 1.2 2" fill="#a1f0a1"/>
<path d="M135.2 740l-1.4-.3-2.1 1.3 1.3 .2" fill="#9ff09f"/>
<path d="M74.1 725l-1.1-1.6-2.2 1.2 1 1.3" fill="#fffcfd"/>
<path d="M163.7 736.7l-1.5-.6-2.1 1 1.5 .7" fill="#b4f3b4"/>
<path d="M143.1 737l-1.4-1.1-2.1 1.4 1.4 .8" fill="#b3f3b3"/>
<path d="M158 737.9l-1.5-1.3-2.1 .5 1.5 1.3" fill="#b1f3b1"/>
<path d="M127.3 742.4l-1.3 .2-2.2 .2 1.3-.3" fill="#97ef97"/>
<path d="M148.8 736.6l-1.4-1.6-2.1 .9 1.4 1.4" fill="#b9f4b9"/>
<path d="M110.2 743.8l-1.2 .7-2.2 0 1.2-.7" fill="#8fed8f"/>
<path d="M91.6 733.3l-1.2-1.8-2.4-.5 1.2 1.6" fill="#d0f8d0"/>
<path d="M77.6 726.1l-1.1-1.6-2.4 .5 1.1 1.5" fill="#fdfffd"/>
<path d="M121.6 742.7l-1.3 .5-2.2-.2 1.3-.6" fill="#97ef97"/>
<path d="M133 741.2l-1.3-.2-2.2 .9 1.4 .1" fill="#9df09d"/>
<path d="M115.9 742.9l-1.2 .8-2.3 0 1.3-.9" fill="#95ee95"/>
<path d="M81.1 727.6l-1.2-1.6-2.3 .1 1.1 1.5" fill="#f3fdf3"/>
<path d="M88 731l-1.1-1.4-2.4-.4 1.2 1.4" fill="#defade"/>
<path d="M84.5 729.2l-1.1-1.4-2.3-.2 1.1 1.4" fill="#e9fbe9"/>
<path d="M141 738.1l-1.4-.8-2.2 1.4 1.4 .6" fill="#aff2af"/>
<path d="M96.3 738.7l-1.2-2.4-2.3-.9 1.2 2.2" fill="#b7f4b7"/>
<path d="M152.3 737.6l-1.4-1.6-2.1 .6 1.4 1.4" fill="#b6f4b6"/>
<path d="M104.5 744.3l-1.2-.3-2.3-.7 1.2 .4" fill="#94ee94"/>
<path d="M161.6 737.8l-1.5-.7-2.1 .8 1.5 .6" fill="#b3f3b3"/>
<path d="M101 743.3l-1.2-1.5-2.3-1.1 1.2 1.5" fill="#9df09d"/>
<path d="M146.7 737.3l-1.4-1.4-2.2 1.1 1.4 1" fill="#b8f4b8"/>
<path d="M155.9 738.4l-1.5-1.3-2.1 .5 1.5 1.1" fill="#b4f3b4"/>
<path d="M138.8 739.3l-1.4-.6-2.2 1.3 1.4 .5" fill="#abf2ab"/>
<path d="M75.2 726.5l-1.1-1.5-2.3 .9 1.1 1.3" fill="#ffffff"/>
<path d="M169.7 733.3l-1.7 0-2.1 1.9 1.6-.1" fill="#c9f7c9"/>
<path d="M130.9 742l-1.4-.1-2.2 .5 1.4 .1" fill="#9ef09e"/>
<path d="M125.1 742.5l-1.3 .3-2.2-.1 1.4-.3" fill="#9df09d"/>
<path d="M92.8 735.4l-1.2-2.1-2.4-.7 1.2 1.9" fill="#ccf7cc"/>
<path d="M167.5 735.1l-1.6 .1-2.2 1.5 1.6-.2" fill="#c1f5c1"/>
<path d="M108 743.8l-1.2 .7-2.3-.2 1.2-.7" fill="#96ef96"/>
<path d="M97.5 740.7l-1.2-2-2.3-1.1 1.2 1.9" fill="#b0f3b0"/>
<path d="M78.7 727.6l-1.1-1.5-2.4 .4 1.2 1.4" fill="#fafefa"/>
<path d="M150.2 738l-1.4-1.4-2.1 .7 1.4 1.1" fill="#b8f4b8"/>
<path d="M113.7 742.8l-1.3 .9-2.2 .1 1.3-1.1" fill="#9bef9b"/>
<path d="M144.5 738l-1.4-1-2.1 1.1 1.4 .8" fill="#b7f4b7"/>
<path d="M159.5 738.5l-1.5-.6-2.1 .5 1.5 .6" fill="#b4f3b4"/>
<path d="M119.4 742.4l-1.3 .6-2.2-.1 1.3-.8" fill="#9ef09e"/>
<path d="M136.6 740.5l-1.4-.5-2.2 1.2 1.4 .3" fill="#a8f1a8"/>
<path d="M82.2 729l-1.1-1.4-2.4 0 1.1 1.4" fill="#f1fdf1"/>
<path d="M89.2 732.6l-1.2-1.6-2.3-.4 1.2 1.5" fill="#dcf9dc"/>
<path d="M85.7 730.6l-1.2-1.4-2.3-.2 1.1 1.4" fill="#e8fbe8"/>
<path d="M165.3 736.5l-1.6 .2-2.1 1.1 1.6-.2" fill="#bdf5bd"/>
<path d="M153.8 738.7l-1.5-1.1-2.1 .4 1.5 1" fill="#b7f4b7"/>
<path d="M128.7 742.5l-1.4-.1-2.2 .1 1.4 .1" fill="#a2f0a2"/>
<path d="M142.4 738.9l-1.4-.8-2.2 1.2 1.4 .6" fill="#b4f3b4"/>
<path d="M94 737.6l-1.2-2.2-2.4-.9 1.2 2" fill="#c6f6c6"/>
<path d="M134.4 741.5l-1.4-.3-2.1 .8 1.3 .3" fill="#a7f1a7"/>
<path d="M102.2 743.7l-1.2-.4-2.3-1.1 1.2 .6" fill="#a0f0a0"/>
<path d="M148.1 738.4l-1.4-1.1-2.2 .7 1.5 1" fill="#baf4ba"/>
<path d="M76.4 727.9l-1.2-1.4-2.3 .7 1.1 1.3" fill="#fefffe"/>
<path d="M157.4 739l-1.5-.6-2.1 .3 1.5 .6" fill="#b7f4b7"/>
<path d="M123 742.4l-1.4 .3-2.2-.3 1.3-.3" fill="#a5f1a5"/>
<path d="M98.7 742.2l-1.2-1.5-2.3-1.2 1.2 1.5" fill="#adf2ad"/>
<path d="M163.2 737.6l-1.6 .2-2.1 .7 1.6-.2" fill="#bcf5bc"/>
<path d="M79.8 729l-1.1-1.4-2.3 .3 1.1 1.4" fill="#f8fef8"/>
<path d="M111.5 742.7l-1.3 1.1-2.2 0 1.2-1.2" fill="#a1f0a1"/>
<path d="M140.2 739.9l-1.4-.6-2.2 1.2 1.4 .5" fill="#b2f3b2"/>
<path d="M90.4 734.5l-1.2-1.9-2.3-.5 1.1 1.7" fill="#d9f9d9"/>
<path d="M105.7 743.6l-1.2 .7-2.3-.6 1.2-.5" fill="#9ff09f"/>
<path d="M117.2 742.1l-1.3 .8-2.2-.1 1.3-1" fill="#a6f1a6"/>
<path d="M151.7 739l-1.5-1-2.1 .4 1.5 .9" fill="#baf4ba"/>
<path d="M83.3 730.4l-1.1-1.4-2.4 0 1.2 1.3" fill="#f1fdf1"/>
<path d="M86.9 732.1l-1.2-1.5-2.4-.2 1.2 1.3" fill="#e7fbe7"/>
<path d="M132.2 742.3l-1.3-.3-2.2 .5 1.4 .3" fill="#a8f1a8"/>
<path d="M146 739l-1.5-1-2.1 .9 1.4 .8" fill="#baf4ba"/>
<path d="M95.2 739.5l-1.2-1.9-2.4-1.1 1.2 1.8" fill="#c0f5c0"/>
<path d="M171.4 732.8l-1.7 .5-2.2 1.8 1.7-.8" fill="#d8f9d8"/>
<path d="M126.5 742.6l-1.4-.1-2.1-.1 1.3 .2" fill="#a8f1a8"/>
<path d="M138 741l-1.4-.5-2.2 1 1.4 .4" fill="#b0f3b0"/>
<path d="M161.1 738.3l-1.6 .2-2.1 .5 1.6-.1" fill="#bdf5bd"/>
<path d="M155.3 739.3l-1.5-.6-2.1 .3 1.5 .6" fill="#bbf4bb"/>
<path d="M77.5 729.3l-1.1-1.4-2.4 .6 1.1 1.3" fill="#fdfffd"/>
<path d="M169.2 734.3l-1.7 .8-2.2 1.4 1.8-1" fill="#d2f8d2"/>
<path d="M143.8 739.7l-1.4-.8-2.2 1 1.4 .7" fill="#b9f4b9"/>
<path d="M149.6 739.3l-1.5-.9-2.1 .6 1.4 .7" fill="#bdf5bd"/>
<path d="M120.7 742.1l-1.3 .3-2.2-.3 1.3-.4" fill="#adf2ad"/>
<path d="M91.6 736.5l-1.2-2-2.4-.7 1.2 1.7" fill="#d4f8d4"/>
<path d="M109.2 742.6l-1.2 1.2-2.3-.2 1.2-1.1" fill="#a9f1a9"/>
<path d="M99.9 742.8l-1.2-.6-2.3-1.2 1.2 .9" fill="#aff2af"/>
<path d="M81 730.3l-1.2-1.3-2.3 .3 1.1 1.3" fill="#f8fef8"/>
<path d="M130.1 742.8l-1.4-.3-2.2 .1 1.4 .4" fill="#abf2ab"/>
<path d="M135.8 741.9l-1.4-.4-2.2 .8 1.4 .4" fill="#aff2af"/>
<path d="M115 741.8l-1.3 1-2.2-.1 1.2-1.1" fill="#aef2ae"/>
<path d="M88 733.8l-1.1-1.7-2.4-.4 1.2 1.5" fill="#e5fbe5"/>
<path d="M84.5 731.7l-1.2-1.3-2.3-.1 1.1 1.3" fill="#f0fdf0"/>
<path d="M167.1 735.5l-1.8 1-2.1 1.1 1.7-1.2" fill="#cef7ce"/>
<path d="M103.4 743.2l-1.2 .5-2.3-.9 1.2-.1" fill="#aaf2aa"/>
<path d="M96.4 741l-1.2-1.5-2.4-1.2 1.2 1.5" fill="#bdf5bd"/>
<path d="M159 738.9l-1.6 .1-2.1 .3 1.6 0" fill="#c0f5c0"/>
<path d="M141.6 740.6l-1.4-.7-2.2 1.1 1.5 .5" fill="#b8f4b8"/>
<path d="M153.2 739.6l-1.5-.6-2.1 .3 1.5 .6" fill="#bff5bf"/>
<path d="M124.3 742.6l-1.3-.2-2.3-.3 1.4 .2" fill="#b0f3b0"/>
<path d="M147.4 739.7l-1.4-.7-2.2 .7 1.5 .6" fill="#bff5bf"/>
<path d="M133.6 742.7l-1.4-.4-2.1 .5 1.3 .4" fill="#b0f3b0"/>
<path d="M92.8 738.3l-1.2-1.8-2.4-1 1.2 1.7" fill="#d0f8d0"/>
<path d="M164.9 736.4l-1.7 1.2-2.1 .7 1.7-1.1" fill="#cdf7cd"/>
<path d="M78.6 730.6l-1.1-1.3-2.4 .5 1.1 1.3" fill="#fdfffd"/>
<path d="M139.5 741.5l-1.5-.5-2.2 .9 1.5 .4" fill="#b7f4b7"/>
<path d="M127.9 743l-1.4-.4-2.2 0 1.3 .4" fill="#b1f3b1"/>
<path d="M118.5 741.7l-1.3 .4-2.2-.3 1.3-.5" fill="#b7f4b7"/>
<path d="M106.9 742.5l-1.2 1.1-2.3-.4 1.2-.9" fill="#b1f3b1"/>
<path d="M82.1 731.6l-1.1-1.3-2.4 .3 1.1 1.3" fill="#f8fef8"/>
<path d="M112.7 741.6l-1.2 1.1-2.3-.1 1.2-1.2" fill="#b6f4b6"/>
<path d="M156.9 739.3l-1.6 0-2.1 .3 1.5 0" fill="#c4f6c4"/>
<path d="M89.2 735.5l-1.2-1.7-2.3-.6 1.1 1.6" fill="#e2fae2"/>
<path d="M145.3 740.3l-1.5-.6-2.2 .9 1.5 .5" fill="#c0f5c0"/>
<path d="M151.1 739.9l-1.5-.6-2.2 .4 1.5 .5" fill="#c3f6c3"/>
<path d="M85.7 733.2l-1.2-1.5-2.4-.1 1.2 1.4" fill="#f0fdf0"/>
<path d="M97.6 741.9l-1.2-.9-2.4-1.2 1.2 1.1" fill="#bef5be"/>
<path d="M162.8 737.2l-1.7 1.1-2.1 .6 1.7-1.1" fill="#cef7ce"/>
<path d="M173.1 731.8l-1.7 1-2.2 1.5 1.8-1.7" fill="#eefcee"/>
<path d="M101.1 742.7l-1.2 .1-2.3-.9 1.2 .2" fill="#b7f4b7"/>
<path d="M131.4 743.2l-1.3-.4-2.2 .2 1.3 .5" fill="#b3f3b3"/>
<path d="M137.3 742.3l-1.5-.4-2.2 .8 1.5 .4" fill="#b7f4b7"/>
<path d="M122.1 742.3l-1.4-.2-2.2-.4 1.3 .2" fill="#b9f4b9"/>
<path d="M94 739.8l-1.2-1.5-2.4-1.1 1.2 1.5" fill="#cef7ce"/>
<path d="M143.1 741.1l-1.5-.5-2.1 .9 1.4 .4" fill="#bff5bf"/>
<path d="M79.7 731.9l-1.1-1.3-2.4 .5 1.2 1.3" fill="#fdfffd"/>
<path d="M154.7 739.6l-1.5 0-2.1 .3 1.5 0" fill="#c8f6c8"/>
<path d="M168.9 733.4l2.1-.8-1.8 1.7-2.1 1.2z" fill="#ecfcec"/>
<path d="M148.9 740.2l-1.5-.5-2.1 .6 1.5 .4" fill="#c6f6c6"/>
<path d="M125.6 743l-1.3-.4-2.2-.3 1.3 .6" fill="#b9f4b9"/>
<path d="M116.3 741.3l-1.3 .5-2.3-.2 1.3-.7" fill="#c0f5c0"/>
<path d="M90.4 737.2l-1.2-1.7-2.4-.7 1.2 1.5" fill="#e0fae0"/>
<path d="M104.6 742.3l-1.2 .9-2.3-.5 1.2-.6" fill="#baf4ba"/>
<path d="M110.4 741.4l-1.2 1.2-2.3-.1 1.2-1.2" fill="#bdf5bd"/>
<path d="M160.7 737.8l-1.7 1.1-2.1 .4 1.6-.9" fill="#d0f8d0"/>
<path d="M83.3 733l-1.2-1.4-2.4 .3 1.2 1.3" fill="#f8fef8"/>
<path d="M135.1 743.1l-1.5-.4-2.2 .5 1.4 .5" fill="#b8f4b8"/>
<path d="M86.8 734.8l-1.1-1.6-2.4-.2 1.1 1.4" fill="#effcef"/>
<path d="M129.2 743.5l-1.3-.5-2.3 0 1.4 .7" fill="#b8f4b8"/>
<path d="M140.9 741.9l-1.4-.4-2.2 .8 1.4 .4" fill="#bff5bf"/>
<path d="M166.8 734.1l2.1-.7-1.8 2.1-2.2 .9z" fill="#eafcea"/>
<path d="M146.8 740.7l-1.5-.4-2.2 .8 1.5 .3" fill="#c7f6c7"/>
<path d="M119.8 741.9l-1.3-.2-2.2-.4 1.3 .2" fill="#c3f6c3"/>
<path d="M152.6 739.9l-1.5 0-2.2 .3 1.6 .1" fill="#ccf7cc"/>
<path d="M98.8 742.1l-1.2-.2-2.4-1 1.2 .6" fill="#c4f6c4"/>
<path d="M95.2 740.9l-1.2-1.1-2.4-1.1 1.2 1.2" fill="#cef7ce"/>
<path d="M158.5 738.4l-1.6 .9-2.2 .3 1.7-.7" fill="#d4f8d4"/>
<path d="M80.9 733.2l-1.2-1.3-2.3 .5 1.1 1.4" fill="#fdfffd"/>
<path d="M132.8 743.7l-1.4-.5-2.2 .3 1.4 .6" fill="#baf4ba"/>
<path d="M138.7 742.7l-1.4-.4-2.2 .8 1.4 .4" fill="#bff5bf"/>
<path d="M123.4 742.9l-1.3-.6-2.3-.4 1.4 .6" fill="#c2f5c2"/>
<path d="M91.6 738.7l-1.2-1.5-2.4-.9 1.2 1.5" fill="#defade"/>
<path d="M108.1 741.3l-1.2 1.2-2.3-.2 1.2-.9" fill="#c5f6c5"/>
<path d="M164.6 734.9l2.2-.8-1.9 2.3-2.1 .8z" fill="#eafcea"/>
<path d="M114 740.9l-1.3 .7-2.3-.2 1.3-.7" fill="#c9f7c9"/>
<path d="M102.3 742.1l-1.2 .6-2.3-.6 1.2-.1" fill="#c4f6c4"/>
<path d="M84.4 734.4l-1.1-1.4-2.4 .2 1.1 1.3" fill="#f8fef8"/>
<path d="M88 736.3l-1.2-1.5-2.4-.4 1.2 1.4" fill="#edfced"/>
<path d="M144.6 741.4l-1.5-.3-2.2 .8 1.5 .2" fill="#c8f6c8"/>
<path d="M127 743.7l-1.4-.7-2.2-.1 1.4 .8" fill="#bff5bf"/>
<path d="M150.5 740.3l-1.6-.1-2.1 .5 1.5 .1" fill="#cff8cf"/>
<path d="M136.5 743.5l-1.4-.4-2.3 .6 1.5 .4" fill="#c0f5c0"/>
<path d="M156.4 738.9l-1.7 .7-2.1 .3 1.6-.5" fill="#d7f9d7"/>
<path d="M162.4 735.7l2.2-.8-1.8 2.3-2.1 .6z" fill="#eafcea"/>
<path d="M130.6 744.1l-1.4-.6-2.2 .2 1.4 .7" fill="#bef5be"/>
<path d="M117.6 741.5l-1.3-.2-2.3-.4 1.3 .2" fill="#cef7ce"/>
<path d="M142.4 742.1l-1.5-.2-2.2 .8 1.5 .2" fill="#c8f6c8"/>
<path d="M82 734.5l-1.1-1.3-2.4 .6 1.2 1.3" fill="#fefffe"/>
<path d="M96.4 741.5l-1.2-.6-2.4-1 1.2 1" fill="#d2f8d2"/>
<path d="M105.8 741.4l-1.2 .9-2.3-.2 1.2-.6" fill="#ccf7cc"/>
<path d="M92.8 739.9l-1.2-1.2-2.4-.9 1.2 1.4" fill="#ddfadd"/>
<path d="M111.7 740.7l-1.3 .7-2.3-.1 1.3-.6" fill="#d1f8d1"/>
<path d="M121.2 742.5l-1.4-.6-2.2-.4 1.3 .7" fill="#ccf7cc"/>
<path d="M148.3 740.8l-1.5-.1-2.2 .7 1.5 .1" fill="#d1f8d1"/>
<path d="M85.6 735.8l-1.2-1.4-2.4 .1 1.2 1.4" fill="#f8fef8"/>
<path d="M89.2 737.8l-1.2-1.5-2.4-.5 1.2 1.5" fill="#ecfcec"/>
<path d="M100 742l-1.2 .1-2.4-.6 1.2 .3" fill="#cef7ce"/>
<path d="M124.8 743.7l-1.4-.8-2.2-.4 1.3 1" fill="#c7f6c7"/>
<path d="M134.3 744.1l-1.5-.4-2.2 .4 1.4 .6" fill="#c2f5c2"/>
<path d="M162.4 735.7l-1.7 2.1-2.2 .6 1.8-1.9" fill="#ebfceb"/>
<path d="M154.2 739.4l-1.6 .5-2.1 .4 1.5-.4" fill="#daf9da"/>
<path d="M140.2 742.9l-1.5-.2-2.2 .8 1.4 .2" fill="#c8f6c8"/>
<path d="M128.4 744.4l-1.4-.7-2.2 0 1.3 .9" fill="#c4f6c4"/>
<path d="M146.1 741.5l-1.5-.1-2.2 .7 1.5 .1" fill="#d2f8d2"/>
<path d="M115.3 741.1l-1.3-.2-2.3-.2 1.3 .1" fill="#d8f9d8"/>
<path d="M103.5 741.5l-1.2 .6-2.3-.1 1.2-.2" fill="#d3f8d3"/>
<path d="M109.4 740.7l-1.3 .6-2.3 .1 1.3-.5" fill="#d8f9d8"/>
<path d="M160.3 736.5l-1.8 1.9-2.1 .5 1.7-1.6" fill="#ecfcec"/>
<path d="M83.2 735.9l-1.2-1.4-2.3 .6 1.1 1.4" fill="#fefffe"/>
<path d="M132 744.7l-1.4-.6-2.2 .3 1.4 .8" fill="#c5f6c5"/>
<path d="M137.9 743.7l-1.4-.2-2.2 .6 1.4 .4" fill="#c8f6c8"/>
<path d="M152 739.9l-1.5 .4-2.2 .5 1.6-.3" fill="#ddfadd"/>
<path d="M94 740.9l-1.2-1-2.4-.7 1.2 1.3" fill="#dffadf"/>
<path d="M118.9 742.2l-1.3-.7-2.3-.4 1.3 .8" fill="#d6f9d6"/>
<path d="M90.4 739.2l-1.2-1.4-2.4-.5 1.2 1.5" fill="#ebfceb"/>
<path d="M86.8 737.3l-1.2-1.5-2.4 .1 1.2 1.4" fill="#f7fef7"/>
<path d="M97.6 741.8l-1.2-.3-2.4-.6 1.2 .8" fill="#d8f9d8"/>
<path d="M122.5 743.5l-1.3-1-2.3-.3 1.3 1.1" fill="#d0f8d0"/>
<path d="M143.9 742.2l-1.5-.1-2.2 .8 1.5 .1" fill="#d3f8d3"/>
<path d="M126.1 744.6l-1.3-.9-2.3-.2 1.4 1.2" fill="#cbf7cb"/>
<path d="M158.1 737.3l-1.7 1.6-2.2 .5 1.7-1.3" fill="#eefcee"/>
<path d="M135.7 744.5l-1.4-.4-2.3 .6 1.5 .5" fill="#caf7ca"/>
<path d="M113 740.8l-1.3-.1-2.3 0 1.3 .1" fill="#e0fae0"/>
<path d="M149.9 740.5l-1.6 .3-2.2 .7 1.5-.3" fill="#dffadf"/>
<path d="M101.2 741.8l-1.2 .2-2.4-.2 1.2 .3" fill="#d9f9d9"/>
<path d="M107.1 740.9l-1.3 .5-2.3 .1 1.2-.2" fill="#ddfadd"/>
<path d="M129.8 745.2l-1.4-.8-2.3 .2 1.4 1" fill="#c9f6c9"/>
<path d="M141.7 743l-1.5-.1-2.3 .8 1.5 .1" fill="#d3f8d3"/>
<path d="M84.4 737.3l-1.2-1.4-2.4 .6 1.2 1.4" fill="#fefffe"/>
<path d="M116.6 741.9l-1.3-.8-2.3-.3 1.3 .9" fill="#e0fae0"/>
<path d="M88 738.8l-1.2-1.5-2.4 0 1.2 1.5" fill="#f6fef6"/>
<path d="M91.6 740.5l-1.2-1.3-2.4-.4 1.2 1.4" fill="#ebfceb"/>
<path d="M155.9 738.1l-1.7 1.3-2.2 .5 1.7-1" fill="#effdef"/>
<path d="M95.2 741.7l-1.2-.8-2.4-.4 1.2 1.1" fill="#e2fae2"/>
<path d="M120.2 743.3l-1.3-1.1-2.3-.3 1.4 1.2" fill="#daf9da"/>
<path d="M147.6 741.2l-1.5 .3-2.2 .7 1.5-.2" fill="#e0fae0"/>
<path d="M133.5 745.2l-1.5-.5-2.2 .5 1.4 .6" fill="#ccf7cc"/>
<path d="M123.9 744.7l-1.4-1.2-2.3-.2 1.4 1.3" fill="#d2f8d2"/>
<path d="M104.7 741.3l-1.2 .2-2.3 .3 1.2 .1" fill="#e2fae2"/>
<path d="M139.4 743.8l-1.5-.1-2.2 .8 1.5 .1" fill="#d3f8d3"/>
<path d="M110.7 740.8l-1.3-.1-2.3 .2 1.3 .2" fill="#e7fbe7"/>
<path d="M98.8 742.1l-1.2-.3-2.4-.1 1.2 .7" fill="#e0fae0"/>
<path d="M127.5 745.6l-1.4-1-2.2 .1 1.4 1.1" fill="#cef7ce"/>
<path d="M153.7 738.9l-1.7 1-2.1 .6 1.6-.8" fill="#f1fdf1"/>
<path d="M145.4 742l-1.5 .2-2.2 .8 1.5-.2" fill="#e0fae0"/>
<path d="M85.6 738.8l-1.2-1.5-2.4 .6 1.2 1.4" fill="#fdfffd"/>
<path d="M114.3 741.7l-1.3-.9-2.3 0 1.3 .9" fill="#e9fce9"/>
<path d="M131.2 745.8l-1.4-.6-2.3 .4 1.4 .7" fill="#cef7ce"/>
<path d="M89.2 740.2l-1.2-1.4-2.4 0 1.2 1.5" fill="#f5fdf5"/>
<path d="M137.2 744.6l-1.5-.1-2.2 .7 1.4 .2" fill="#d4f8d4"/>
<path d="M92.8 741.6l-1.2-1.1-2.4-.3 1.2 1.5" fill="#ecfcec"/>
<path d="M102.4 741.9l-1.2-.1-2.4 .3 1.2 .4" fill="#e5fbe5"/>
<path d="M118 743.1l-1.4-1.2-2.3-.2 1.3 1.3" fill="#e3fbe3"/>
<path d="M108.4 741.1l-1.3-.2-2.4 .4 1.3 .4" fill="#ebfceb"/>
<path d="M121.6 744.6l-1.4-1.3-2.2-.2 1.3 1.5" fill="#dbf9db"/>
<path d="M96.4 742.4l-1.2-.7-2.4-.1 1.2 1.2" fill="#e6fbe6"/>
<path d="M151.5 739.7l-1.6 .8-2.3 .7 1.6-.7" fill="#f2fdf2"/>
<path d="M125.3 745.8l-1.4-1.1-2.3-.1 1.4 1.4" fill="#d4f8d4"/>
<path d="M143.2 742.8l-1.5 .2-2.3 .8 1.5-.2" fill="#e0fae0"/>
<path d="M134.9 745.4l-1.4-.2-2.3 .6 1.4 .3" fill="#d5f8d5"/>
<path d="M128.9 746.3l-1.4-.7-2.2 .2 1.3 1" fill="#d2f8d2"/>
<path d="M112 741.7l-1.3-.9-2.3 .3 1.3 .9" fill="#effdef"/>
<path d="M100 742.5l-1.2-.4-2.4 .3 1.3 .8" fill="#e8fbe8"/>
<path d="M86.8 740.3l-1.2-1.5-2.4 .5 1.2 1.4" fill="#fcfffc"/>
<path d="M106 741.7l-1.3-.4-2.3 .6 1.3 .5" fill="#eefcee"/>
<path d="M149.2 740.5l-1.6 .7-2.2 .8 1.6-.7" fill="#f2fdf2"/>
<path d="M90.4 741.7l-1.2-1.5-2.4 .1 1.2 1.5" fill="#f4fdf4"/>
<path d="M140.9 743.6l-1.5 .2-2.2 .8 1.5-.2" fill="#e0fae0"/>
<path d="M115.6 743l-1.3-1.3-2.3 0 1.3 1.4" fill="#ecfcec"/>
<path d="M94 742.8l-1.2-1.2-2.4 .1 1.2 1.4" fill="#edfced"/>
<path d="M119.3 744.6l-1.3-1.5-2.4-.1 1.4 1.6" fill="#e3fbe3"/>
<path d="M123 746l-1.4-1.4-2.3 0 1.4 1.6" fill="#dbf9db"/>
<path d="M132.6 746.1l-1.4-.3-2.3 .5 1.5 .5" fill="#d6f9d6"/>
<path d="M126.6 746.8l-1.3-1-2.3 .2 1.3 1.2" fill="#d6f9d6"/>
<path d="M103.7 742.4l-1.3-.5-2.4 .6 1.3 .7" fill="#effcef"/>
<path d="M109.7 742l-1.3-.9-2.4 .6 1.3 .9" fill="#f3fdf3"/>
<path d="M97.7 743.2l-1.3-.8-2.4 .4 1.3 1.1" fill="#ebfceb"/>
<path d="M147 741.3l-1.6 .7-2.2 .8 1.6-.6" fill="#f2fdf2"/>
<path d="M138.7 744.4l-1.5 .2-2.3 .8 1.5-.2" fill="#e0fae0"/>
<path d="M88 741.8l-1.2-1.5-2.4 .4 1.2 1.4" fill="#fbfefb"/>
<path d="M113.3 743.1l-1.3-1.4-2.3 .3 1.3 1.4" fill="#f2fdf2"/>
<path d="M130.4 746.8l-1.5-.5-2.3 .5 1.5 .7" fill="#d8f9d8"/>
<path d="M91.6 743.1l-1.2-1.4-2.4 .1 1.2 1.6" fill="#f3fdf3"/>
<path d="M117 744.6l-1.4-1.6-2.3 .1 1.4 1.6" fill="#ebfceb"/>
<path d="M101.3 743.2l-1.3-.7-2.3 .7 1.2 .9" fill="#effdef"/>
<path d="M120.7 746.2l-1.4-1.6-2.3 0 1.3 1.7" fill="#e2fae2"/>
<path d="M144.8 742.2l-1.6 .6-2.3 .8 1.6-.6" fill="#f2fdf2"/>
<path d="M107.3 742.6l-1.3-.9-2.3 .7 1.2 .9" fill="#f5fdf5"/>
<path d="M136.4 745.2l-1.5 .2-2.3 .7 1.5 0" fill="#e1fae1"/>
<path d="M95.3 743.9l-1.3-1.1-2.4 .3 1.3 1.3" fill="#effcef"/>
<path d="M124.3 747.2l-1.3-1.2-2.3 .2 1.3 1.4" fill="#dbf9db"/>
<path d="M111 743.4l-1.3-1.4-2.4 .6 1.3 1.3" fill="#f7fef7"/>
<path d="M128.1 747.5l-1.5-.7-2.3 .4 1.4 .9" fill="#dbf9db"/>
<path d="M142.5 743l-1.6 .6-2.2 .8 1.5-.6" fill="#f2fdf2"/>
<path d="M98.9 744.1l-1.2-.9-2.4 .7 1.2 1" fill="#f0fdf0"/>
<path d="M104.9 743.3l-1.2-.9-2.4 .8 1.3 1" fill="#f6fef6"/>
<path d="M134.1 746.1l-1.5 0-2.2 .7 1.4 .1" fill="#e1fae1"/>
<path d="M89.2 743.4l-1.2-1.6-2.4 .3 1.2 1.5" fill="#fbfefb"/>
<path d="M114.7 744.7l-1.4-1.6-2.3 .3 1.3 1.6" fill="#f1fdf1"/>
<path d="M118.3 746.3l-1.3-1.7-2.3 .1 1.3 1.8" fill="#e8fbe8"/>
<path d="M92.9 744.4l-1.3-1.3-2.4 .3 1.2 1.4" fill="#f4fdf4"/>
<path d="M122 747.6l-1.3-1.4-2.4 .1 1.4 1.6" fill="#e0fae0"/>
<path d="M140.2 743.8l-1.5 .6-2.3 .8 1.5-.5" fill="#f2fdf2"/>
<path d="M108.6 743.9l-1.3-1.3-2.4 .7 1.3 1.3" fill="#f9fef9"/>
<path d="M102.6 744.2l-1.3-1-2.4 .9 1.3 1" fill="#f5fdf5"/>
<path d="M96.5 744.9l-1.2-1-2.4 .5 1.2 1.2" fill="#f2fdf2"/>
<path d="M125.7 748.1l-1.4-.9-2.3 .4 1.4 1.1" fill="#defade"/>
<path d="M131.8 746.9l-1.4-.1-2.3 .7 1.4 .2" fill="#e2fae2"/>
<path d="M112.3 745l-1.3-1.6-2.4 .5 1.3 1.6" fill="#f6fef6"/>
<path d="M116 746.5l-1.3-1.8-2.4 .3 1.3 1.8" fill="#eefcee"/>
<path d="M90.4 744.8l-1.2-1.4-2.4 .2 1.2 1.4" fill="#fafefa"/>
<path d="M137.9 744.7l-1.5 .5-2.3 .9 1.5-.6" fill="#f2fdf2"/>
<path d="M119.7 747.9l-1.4-1.6-2.3 .2 1.4 1.7" fill="#e6fbe6"/>
<path d="M100.2 745.1l-1.3-1-2.4 .8 1.3 1.1" fill="#f5fdf5"/>
<path d="M106.2 744.6l-1.3-1.3-2.3 .9 1.3 1.2" fill="#fafefa"/>
<path d="M129.5 747.7l-1.4-.2-2.4 .6 1.5 .3" fill="#e3fbe3"/>
<path d="M94.1 745.6l-1.2-1.2-2.5 .4 1.3 1.4" fill="#f5fdf5"/>
<path d="M123.4 748.7l-1.4-1.1-2.3 .3 1.4 1.3" fill="#e2fae2"/>
<path d="M109.9 745.5l-1.3-1.6-2.4 .7 1.4 1.4" fill="#fafefa"/>
<path d="M135.6 745.5l-1.5 .6-2.3 .8 1.5-.6" fill="#f2fdf2"/>
<path d="M103.9 745.4l-1.3-1.2-2.4 .9 1.3 1.1" fill="#fafefa"/>
<path d="M97.8 746l-1.3-1.1-2.4 .7 1.3 1.2" fill="#f5fdf5"/>
<path d="M113.6 746.8l-1.3-1.8-2.4 .5 1.4 1.7" fill="#f4fdf4"/>
<path d="M117.4 748.2l-1.4-1.7-2.4 .3 1.4 1.7" fill="#ecfcec"/>
<path d="M127.2 748.4l-1.5-.3-2.3 .6 1.4 .5" fill="#e5fbe5"/>
<path d="M91.7 746.2l-1.3-1.4-2.4 .2 1.2 1.5" fill="#fafefa"/>
<path d="M121.1 749.2l-1.4-1.3-2.3 .3 1.3 1.4" fill="#e6fbe6"/>
<path d="M107.6 746l-1.4-1.4-2.3 .8 1.3 1.3" fill="#fcfefc"/>
<path d="M101.5 746.2l-1.3-1.1-2.4 .9 1.3 1.1" fill="#f9fef9"/>
<path d="M133.3 746.3l-1.5 .6-2.3 .8 1.5-.5" fill="#f2fdf2"/>
<path d="M95.4 746.8l-1.3-1.2-2.4 .6 1.2 1.3" fill="#f7fef7"/>
<path d="M111.3 747.2l-1.4-1.7-2.3 .5 1.3 1.6" fill="#f8fef8"/>
<path d="M124.8 749.2l-1.4-.5-2.3 .5 1.4 .7" fill="#e7fbe7"/>
<path d="M115 748.5l-1.4-1.7-2.3 .4 1.3 1.7" fill="#f1fdf1"/>
<path d="M105.2 746.7l-1.3-1.3-2.4 .8 1.3 1.3" fill="#fdfffd"/>
<path d="M99.1 747.1l-1.3-1.1-2.4 .8 1.2 1.2" fill="#f9fef9"/>
<path d="M131 747.2l-1.5 .5-2.3 .7 1.4-.4" fill="#f3fdf3"/>
<path d="M118.7 749.6l-1.3-1.4-2.4 .3 1.4 1.5" fill="#ebfceb"/>
<path d="M92.9 747.5l-1.2-1.3-2.5 .3 1.3 1.4" fill="#fbfefb"/>
<path d="M108.9 747.6l-1.3-1.6-2.4 .7 1.3 1.5" fill="#fcfefc"/>
<path d="M122.5 749.9l-1.4-.7-2.4 .4 1.4 .9" fill="#eafcea"/>
<path d="M102.8 747.5l-1.3-1.3-2.4 .9 1.2 1.2" fill="#fdfffd"/>
<path d="M96.6 748l-1.2-1.2-2.5 .7 1.3 1.3" fill="#fafefa"/>
<path d="M112.6 748.9l-1.3-1.7-2.4 .4 1.3 1.6" fill="#f6fef6"/>
<path d="M128.6 748l-1.4 .4-2.4 .8 1.5-.3" fill="#f3fdf3"/>
<path d="M116.4 750l-1.4-1.5-2.4 .4 1.4 1.5" fill="#f0fdf0"/>
<path d="M106.5 748.2l-1.3-1.5-2.4 .8 1.3 1.3" fill="#ffffff"/>
<path d="M100.3 748.3l-1.2-1.2-2.5 .9 1.3 1.2" fill="#fdfffd"/>
<path d="M120.1 750.5l-1.4-.9-2.3 .4 1.4 1.1" fill="#edfced"/>
<path d="M126.3 748.9l-1.5 .3-2.3 .7 1.4-.1" fill="#f4fdf4"/>
<path d="M94.2 748.8l-1.3-1.3-2.4 .4 1.2 1.5" fill="#fcfffc"/>
<path d="M110.2 749.2l-1.3-1.6-2.4 .6 1.3 1.5" fill="#fbfefb"/>
<path d="M114 750.4l-1.4-1.5-2.4 .3 1.4 1.6" fill="#f5fdf5"/>
<path d="M104.1 748.8l-1.3-1.3-2.5 .8 1.3 1.3" fill="#fffdfd"/>
<path d="M97.9 749.2l-1.3-1.2-2.4 .8 1.3 1.3" fill="#fdfffd"/>
<path d="M123.9 749.8l-1.4 .1-2.4 .6 1.4 .1" fill="#f5fdf5"/>
<path d="M117.8 751.1l-1.4-1.1-2.4 .4 1.4 1.2" fill="#f1fdf1"/>
<path d="M107.8 749.7l-1.3-1.5-2.4 .6 1.3 1.5" fill="#fffefe"/>
<path d="M101.6 749.6l-1.3-1.3-2.4 .9 1.3 1.2" fill="#fffcfd"/>
<path d="M95.5 750.1l-1.3-1.3-2.5 .6 1.3 1.5" fill="#fefffe"/>
<path d="M111.6 750.8l-1.4-1.6-2.4 .5 1.4 1.5" fill="#fafefa"/>
<path d="M121.5 750.6l-1.4-.1-2.3 .6 1.4 .4" fill="#f7fef7"/>
<path d="M115.4 751.6l-1.4-1.2-2.4 .4 1.4 1.4" fill="#f6fef6"/>
<path d="M105.4 750.3l-1.3-1.5-2.5 .8 1.4 1.3" fill="#fffbfb"/>
<path d="M99.2 750.4l-1.3-1.2-2.4 .9 1.2 1.3" fill="#fffdfd"/>
<path d="M109.2 751.2l-1.4-1.5-2.4 .6 1.3 1.5" fill="#fffefe"/>
<path d="M119.2 751.5l-1.4-.4-2.4 .5 1.3 .8" fill="#f9fef9"/>
<path d="M103 750.9l-1.4-1.3-2.4 .8 1.3 1.4" fill="#fefafa"/>
<path d="M113 752.2l-1.4-1.4-2.4 .4 1.3 1.5" fill="#fafefa"/>
<path d="M96.7 751.4l-1.2-1.3-2.5 .8 1.3 1.5" fill="#fffefe"/>
<path d="M106.7 751.8l-1.3-1.5-2.4 .6 1.3 1.5" fill="#fefafb"/>
<path d="M116.7 752.4l-1.3-.8-2.4 .6 1.3 1.1" fill="#fbfefb"/>
<path d="M100.5 751.8l-1.3-1.4-2.5 1 1.3 1.4" fill="#fefafb"/>
<path d="M110.5 752.7l-1.3-1.5-2.5 .6 1.4 1.6" fill="#ffffff"/>
<path d="M104.3 752.4l-1.3-1.5-2.5 .9 1.3 1.5" fill="#fef9f9"/>
<path d="M98 752.8l-1.3-1.4-2.4 1 1.3 1.6" fill="#fffdfd"/>
<path d="M114.3 753.3l-1.3-1.1-2.5 .5 1.4 1.5" fill="#fdfffd"/>
<path d="M108.1 753.4l-1.4-1.6-2.4 .6 1.3 1.7" fill="#fffbfb"/>
<path d="M101.8 753.3l-1.3-1.5-2.5 1 1.4 1.5" fill="#fef9fa"/>
<path d="M111.9 754.2l-1.4-1.5-2.4 .7 1.4 1.6" fill="#ffffff"/>
<path d="M105.6 754.1l-1.3-1.7-2.5 .9 1.4 1.6" fill="#fef9fa"/>
<path d="M99.4 754.3l-1.4-1.5-2.4 1.2 1.3 1.5" fill="#fffcfc"/>
<path d="M109.5 755l-1.4-1.6-2.5 .7 1.4 1.8" fill="#fffdfd"/>
<path d="M103.2 754.9l-1.4-1.6-2.4 1 1.3 1.6" fill="#fefafa"/>
<path d="M107 755.9l-1.4-1.8-2.4 .8 1.3 1.9" fill="#fffcfd"/>
<path d="M100.7 755.9l-1.3-1.6-2.5 1.2 1.3 1.6" fill="#fffcfd"/>
<path d="M104.5 756.8l-1.3-1.9-2.5 1 1.3 1.8" fill="#fffdfd"/>
<path d="M102 757.7l-1.3-1.8-2.5 1.2 1.3 1.6" fill="#fffefe"/>
</g>
<line x1="59.36" y1="680.25" x2="98.43" y2="721.33" stroke="#333" stroke-width="0.8"/>
<line x1="98.43" y1="721.33" x2="176.62" y2="696.1" stroke="#333" stroke-width="0.8"/>
<line x1="98.43" y1="721.33" x2="100.52" y2="791.58" stroke="#333" stroke-width="0.8"/>
<line x1="59.36" y1="680.25" x2="65.21" y2="745.78" stroke="#3a3a3a" stroke-width="0.85"/>
<line x1="176.62" y1="696.1" x2="170.04" y2="763.63" stroke="#3a3a3a" stroke-width="0.85"/>
<line x1="65.21" y1="745.78" x2="100.52" y2="791.58" stroke="#3a3a3a" stroke-width="0.85"/>
<line x1="100.52" y1="791.58" x2="170.04" y2="763.63" stroke="#3a3a3a" stroke-width="0.85"/>
<line x1="55.96" y1="680.25" x2="59.36" y2="680.25" stroke="#3a3a3a" stroke-width="0.7"/>
<text transform="translate(53.96 682.15) scale(1 0.8)" font-size="9" text-anchor="end" stroke="#222" stroke-width="0.12">10</text>
<line x1="57.54" y1="698.01" x2="60.94" y2="698.01" stroke="#3a3a3a" stroke-width="0.7"/>
<text transform="translate(55.54 699.91) scale(1 0.8)" font-size="9" text-anchor="end" stroke="#222" stroke-width="0.12">5</text>
<line x1="59.04" y1="714.8" x2="62.44" y2="714.8" stroke="#3a3a3a" stroke-width="0.7"/>
<text transform="translate(57.04 716.7) scale(1 0.8)" font-size="9" text-anchor="end" stroke="#222" stroke-width="0.12">0</text>
<line x1="60.46" y1="730.7" x2="63.86" y2="730.7" stroke="#3a3a3a" stroke-width="0.7"/>
<text transform="translate(58.46 732.6) scale(1 0.8)" font-size="9" text-anchor="end" stroke="#222" stroke-width="0.12">−5</text>
<line x1="61.81" y1="745.78" x2="65.21" y2="745.78" stroke="#3a3a3a" stroke-width="0.7"/>
<text transform="translate(59.81 747.68) scale(1 0.8)" font-size="9" text-anchor="end" stroke="#222" stroke-width="0.12">−10</text>
<text transform="translate(41.54 713.8) rotate(-90) scale(1 0.88)" font-size="10" text-anchor="middle" font-weight="bold" textLength="28.5" lengthAdjust="spacingAndGlyphs">δ − score</text>
<line x1="94.86" y1="784.24" x2="93.26" y2="786.44" stroke="#3a3a3a" stroke-width="0.7"/>
<text transform="translate(94.56 792.84) rotate(-40) scale(1 0.8)" font-size="9" text-anchor="end" stroke="#222" stroke-width="0.12">0.1</text>
<line x1="89.42" y1="777.18" x2="87.82" y2="779.38" stroke="#3a3a3a" stroke-width="0.7"/>
<text transform="translate(89.12 785.78) rotate(-40) scale(1 0.8)" font-size="9" text-anchor="end" stroke="#222" stroke-width="0.12">1</text>
<line x1="84.2" y1="770.41" x2="82.6" y2="772.61" stroke="#3a3a3a" stroke-width="0.7"/>
<text transform="translate(83.9 779.01) rotate(-40) scale(1 0.8)" font-size="9" text-anchor="end" stroke="#222" stroke-width="0.12">2.5</text>
<line x1="79.18" y1="763.9" x2="77.58" y2="766.1" stroke="#3a3a3a" stroke-width="0.7"/>
<text transform="translate(78.88 772.5) rotate(-40) scale(1 0.8)" font-size="9" text-anchor="end" stroke="#222" stroke-width="0.12">5</text>
<line x1="74.35" y1="757.63" x2="72.75" y2="759.83" stroke="#3a3a3a" stroke-width="0.7"/>
<text transform="translate(74.05 766.23) rotate(-40) scale(1 0.8)" font-size="9" text-anchor="end" stroke="#222" stroke-width="0.12">10</text>
<line x1="69.7" y1="751.6" x2="68.1" y2="753.8" stroke="#3a3a3a" stroke-width="0.7"/>
<text transform="translate(69.4 760.2) rotate(-40) scale(1 0.8)" font-size="9" text-anchor="end" stroke="#222" stroke-width="0.12">100</text>
<line x1="65.21" y1="745.78" x2="63.61" y2="747.98" stroke="#3a3a3a" stroke-width="0.7"/>
<text transform="translate(64.91 754.38) rotate(-40) scale(1 0.8)" font-size="9" text-anchor="end" stroke="#222" stroke-width="0.12">500</text>
<line x1="111.16" y1="787.3" x2="111.66" y2="789.9" stroke="#3a3a3a" stroke-width="0.7"/>
<text transform="translate(114.96 793.1) rotate(-80) scale(1 0.8)" font-size="9" text-anchor="end" stroke="#222" stroke-width="0.12">0.1</text>
<line x1="121.55" y1="783.13" x2="122.05" y2="785.73" stroke="#3a3a3a" stroke-width="0.7"/>
<text transform="translate(125.35 788.93) rotate(-80) scale(1 0.8)" font-size="9" text-anchor="end" stroke="#222" stroke-width="0.12">1</text>
<line x1="131.7" y1="779.05" x2="132.2" y2="781.65" stroke="#3a3a3a" stroke-width="0.7"/>
<text transform="translate(135.5 784.85) rotate(-80) scale(1 0.8)" font-size="9" text-anchor="end" stroke="#222" stroke-width="0.12">2.5</text>
<line x1="141.61" y1="775.06" x2="142.11" y2="777.66" stroke="#3a3a3a" stroke-width="0.7"/>
<text transform="translate(145.41 780.86) rotate(-80) scale(1 0.8)" font-size="9" text-anchor="end" stroke="#222" stroke-width="0.12">5</text>
<line x1="151.3" y1="771.16" x2="151.8" y2="773.76" stroke="#3a3a3a" stroke-width="0.7"/>
<text transform="translate(155.1 776.96) rotate(-80) scale(1 0.8)" font-size="9" text-anchor="end" stroke="#222" stroke-width="0.12">10</text>
<line x1="160.77" y1="767.36" x2="161.27" y2="769.96" stroke="#3a3a3a" stroke-width="0.7"/>
<text transform="translate(164.57 773.16) rotate(-80) scale(1 0.8)" font-size="9" text-anchor="end" stroke="#222" stroke-width="0.12">100</text>
<line x1="170.04" y1="763.63" x2="170.54" y2="766.23" stroke="#3a3a3a" stroke-width="0.7"/>
<text transform="translate(173.84 769.43) rotate(-80) scale(1 0.8)" font-size="9" text-anchor="end" stroke="#222" stroke-width="0.12">500</text>
<text transform="translate(55.17 786.32) rotate(50) scale(1 0.88)" font-size="10.5" text-anchor="middle" font-weight="bold" textLength="48.5" lengthAdjust="spacingAndGlyphs">AZD5991 (nM)</text>
<text transform="translate(152.69 802.04) rotate(-24) scale(1 0.88)" font-size="10.5" text-anchor="middle" font-weight="bold" textLength="48.5" lengthAdjust="spacingAndGlyphs">AZD4320 (nM)</text>
<text transform="translate(233.2 483.6) scale(1 0.88)" font-size="12.5" text-anchor="middle" stroke="#222" stroke-width="0.12">Cell death</text>
<text transform="translate(233 495.9) scale(1 0.88)" font-size="10.3" text-anchor="middle" stroke="#222" stroke-width="0.12">[% PI-positive]</text>
<rect x="201.2" y="504.2" width="6.76" height="15" fill="#ffffff"/>
<rect x="207.66" y="504.2" width="6.76" height="15" fill="#fce5e5"/>
<rect x="214.12" y="504.2" width="6.76" height="15" fill="#f9cbcb"/>
<rect x="220.58" y="504.2" width="6.76" height="15" fill="#f6b1b1"/>
<rect x="227.04" y="504.2" width="6.76" height="15" fill="#f39797"/>
<rect x="233.5" y="504.2" width="6.76" height="15" fill="#f07e7e"/>
<rect x="239.96" y="504.2" width="6.76" height="15" fill="#ed6464"/>
<rect x="246.42" y="504.2" width="6.76" height="15" fill="#ea4a4a"/>
<rect x="252.88" y="504.2" width="6.76" height="15" fill="#e73030"/>
<rect x="259.34" y="504.2" width="6.76" height="15" fill="#e41616"/>
<rect x="201.2" y="504.2" width="64.6" height="15" fill="none" stroke="#333" stroke-width="1.1"/>
<text transform="translate(208.2 523.2) rotate(-90) scale(1 0.88)" font-size="10" text-anchor="end" stroke="#222" stroke-width="0.12">0</text>
<text transform="translate(238.3 523.2) rotate(-90) scale(1 0.88)" font-size="10" text-anchor="end" stroke="#222" stroke-width="0.12">50</text>
<text transform="translate(263.1 523.2) rotate(-90) scale(1 0.88)" font-size="10" text-anchor="end" stroke="#222" stroke-width="0.12">100</text>
<text transform="translate(337.4 490) scale(1 0.88)" font-size="13" text-anchor="middle" stroke="#222" stroke-width="0.12">MSA</text>
<text transform="translate(337.2 501) scale(1 0.88)" font-size="10.25" text-anchor="middle" stroke="#222" stroke-width="0.12">[Most synergistic area]</text>
<rect x="324.3" y="509.4" width="25.6" height="23.6" fill="none" stroke="#333" stroke-width="1.1" stroke-dasharray="2.4 1.6"/>
<line x1="271.2" y1="605.6" x2="271.2" y2="770.9" stroke="#111" stroke-width="1.2"/>
<line x1="270.59999999999997" y1="770.3" x2="379.2" y2="770.3" stroke="#111" stroke-width="1.2"/>
<line x1="267.3" y1="770.3" x2="271.2" y2="770.3" stroke="#111" stroke-width="1.1"/>
<text transform="translate(264.6 774) scale(1 0.88)" font-size="10.6" text-anchor="end" stroke="#222" stroke-width="0.12">0</text>
<line x1="267.3" y1="730.02" x2="271.2" y2="730.02" stroke="#111" stroke-width="1.1"/>
<text transform="translate(264.6 733.72) scale(1 0.88)" font-size="10.6" text-anchor="end" stroke="#222" stroke-width="0.12">20</text>
<line x1="267.3" y1="689.75" x2="271.2" y2="689.75" stroke="#111" stroke-width="1.1"/>
<text transform="translate(264.6 693.45) scale(1 0.88)" font-size="10.6" text-anchor="end" stroke="#222" stroke-width="0.12">40</text>
<line x1="267.3" y1="649.47" x2="271.2" y2="649.47" stroke="#111" stroke-width="1.1"/>
<text transform="translate(264.6 653.17) scale(1 0.88)" font-size="10.6" text-anchor="end" stroke="#222" stroke-width="0.12">60</text>
<line x1="267.3" y1="609.2" x2="271.2" y2="609.2" stroke="#111" stroke-width="1.1"/>
<text transform="translate(264.6 612.9) scale(1 0.88)" font-size="10.6" text-anchor="end" stroke="#222" stroke-width="0.12">80</text>
<line x1="293.2" y1="770.3" x2="293.2" y2="774.4" stroke="#111" stroke-width="1.1"/>
<line x1="325.3" y1="770.3" x2="325.3" y2="774.4" stroke="#111" stroke-width="1.1"/>
<line x1="357.9" y1="770.3" x2="357.9" y2="774.4" stroke="#111" stroke-width="1.1"/>
<rect x="283.3" y="763.5" width="19.8" height="6.8" fill="#3db2e2"/>
<rect x="315.3" y="742.2" width="19.9" height="28.1" fill="#8b80c6"/>
<rect x="348.1" y="666.5" width="19.7" height="103.8" fill="#c9c9cd"/>
<path d="M293.2 758 V766.5 M287.7 758 H298.7 M287.7 766.5 H298.7" stroke="#111" stroke-width="1.2" fill="none"/>
<path d="M325.3 735.3 V746.2 M319.8 735.3 H330.8 M319.8 746.2 H330.8" stroke="#111" stroke-width="1.2" fill="none"/>
<path d="M357.9 642.7 V688.2 M352.1 642.7 H363.7 M352.1 688.2 H363.7" stroke="#111" stroke-width="1.2" fill="none"/>
<circle cx="293.1" cy="758.0" r="2.3" fill="#111"/>
<circle cx="288.1" cy="766.7" r="2.3" fill="#111"/>
<circle cx="297.9" cy="763.4" r="2.3" fill="#111"/>
<circle cx="325.3" cy="735.4" r="2.3" fill="#111"/>
<circle cx="320.4" cy="745.0" r="2.3" fill="#111"/>
<circle cx="330.3" cy="743.3" r="2.3" fill="#111"/>
<circle cx="357.8" cy="639.7" r="2.3" fill="#111"/>
<circle cx="352.7" cy="649.6" r="2.3" fill="#111"/>
<circle cx="362.8" cy="653.8" r="2.3" fill="#111"/>
<circle cx="352.7" cy="671.1" r="2.3" fill="#111"/>
<circle cx="362.8" cy="675.2" r="2.3" fill="#111"/>
<circle cx="357.8" cy="702.7" r="2.3" fill="#111"/>
<line x1="294.5" y1="615.5" x2="359.6" y2="615.5" stroke="#222" stroke-width="1.1"/>
<line x1="327.3" y1="630.7" x2="357.3" y2="630.7" stroke="#222" stroke-width="1.1"/>
<circle cx="326.9" cy="609.7" r="1.25" fill="#1a1a1a"/>
<circle cx="342.3" cy="625.5" r="1.25" fill="#1a1a1a"/>
<text transform="translate(293.2 787) scale(1 0.88)" font-size="10.5" text-anchor="middle" stroke="#222" stroke-width="0.12">MSC</text>
<text transform="translate(325.3 787) scale(1 0.88)" font-size="10.5" text-anchor="middle" stroke="#222" stroke-width="0.12">PBMC</text>
<text transform="translate(357.7 787) scale(1 0.88)" font-size="10.5" text-anchor="middle" stroke="#222" stroke-width="0.12">PDX</text>
<text transform="translate(229.9 690.2) rotate(-90) scale(1 0.88)" font-size="12.3" text-anchor="middle" stroke="#222" stroke-width="0.12">Efficacy score</text>
<text transform="translate(245.4 689.5) rotate(-90) scale(1 0.88)" font-size="10" text-anchor="middle" font-weight="bold" textLength="114" lengthAdjust="spacingAndGlyphs">[mean of normalized matrix values]</text>
</svg></div></body></html>
